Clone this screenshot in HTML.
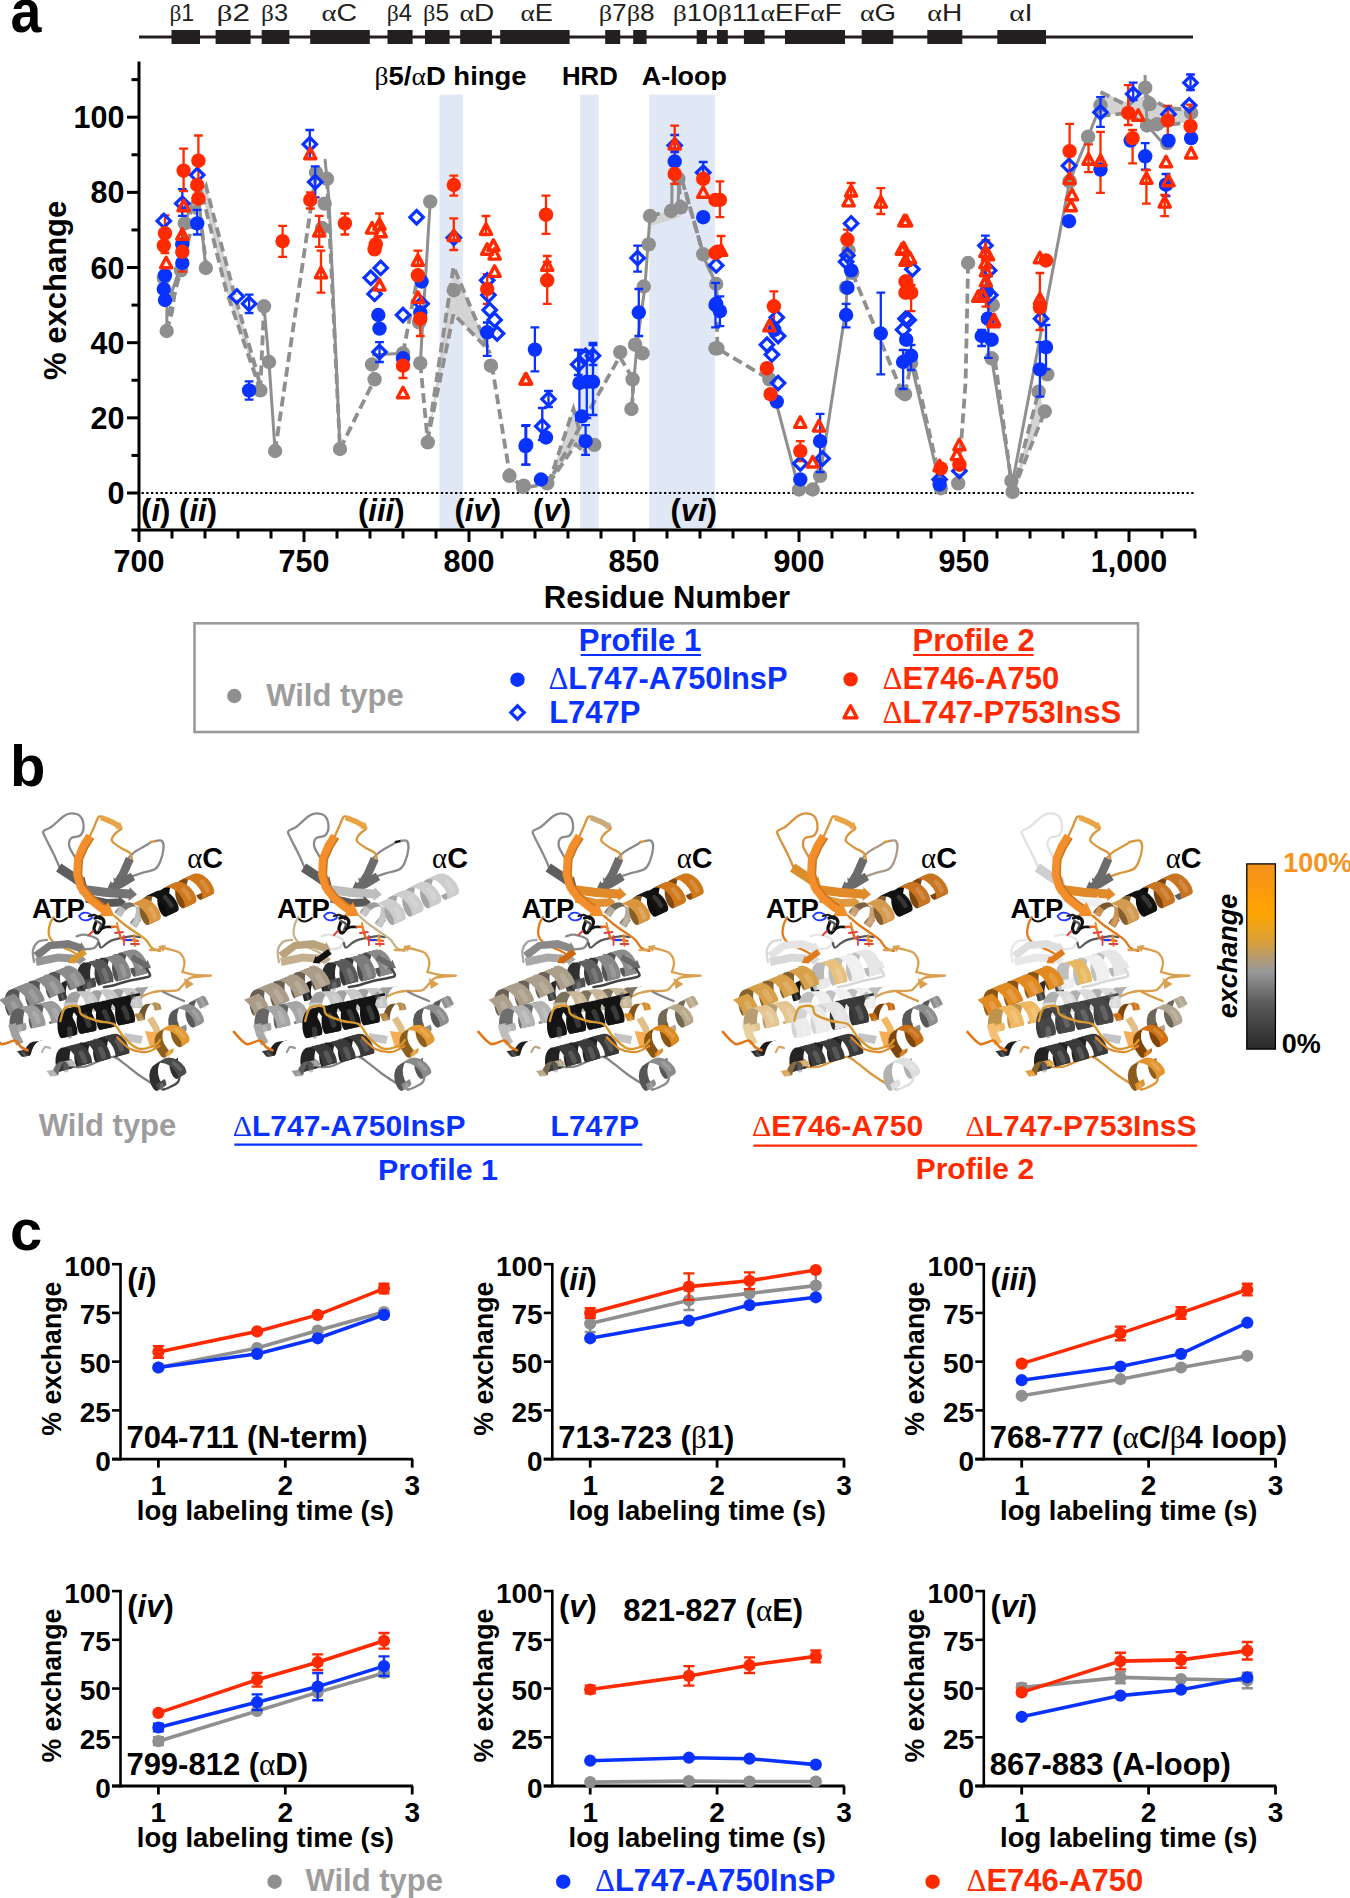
<!DOCTYPE html>
<html><head><meta charset="utf-8"><style>
html,body{margin:0;padding:0;background:#fff;width:1350px;height:1898px;overflow:hidden}
svg{display:block}
</style></head><body>
<svg width="1350" height="1898" viewBox="0 0 1350 1898">
<rect width="1350" height="1898" fill="#fff"/>
<text x="10.5" y="31.8" font-size="61" font-weight="bold" font-style="normal" fill="#000" text-anchor="start" font-family='"Liberation Sans", sans-serif' textLength="30.9" lengthAdjust="spacingAndGlyphs">a</text>
<line x1="139" y1="37" x2="1193" y2="37" stroke="#231f20" stroke-width="3" />
<rect x="171.5" y="30" width="28.5" height="14" fill="#231f20"/>
<rect x="215.6" y="30" width="35.0" height="14" fill="#231f20"/>
<rect x="261.7" y="30" width="27.7" height="14" fill="#231f20"/>
<rect x="310.2" y="30" width="59.6" height="14" fill="#231f20"/>
<rect x="387.5" y="30" width="25.1" height="14" fill="#231f20"/>
<rect x="425" y="30" width="24.6" height="14" fill="#231f20"/>
<rect x="460.2" y="30" width="31.7" height="14" fill="#231f20"/>
<rect x="500.2" y="30" width="69.4" height="14" fill="#231f20"/>
<rect x="605.2" y="30" width="15.0" height="14" fill="#231f20"/>
<rect x="633.2" y="30" width="13.4" height="14" fill="#231f20"/>
<rect x="696.7" y="30" width="10.3" height="14" fill="#231f20"/>
<rect x="716.9" y="30" width="10.9" height="14" fill="#231f20"/>
<rect x="743.9" y="30" width="20.7" height="14" fill="#231f20"/>
<rect x="785" y="30" width="60.0" height="14" fill="#231f20"/>
<rect x="861.7" y="30" width="31.6" height="14" fill="#231f20"/>
<rect x="927.3" y="30" width="35.0" height="14" fill="#231f20"/>
<rect x="997.3" y="30" width="48.7" height="14" fill="#231f20"/>
<text x="169.4" y="21.3" font-size="24" fill="#231f20" font-family='"Liberation Sans", sans-serif' textLength="24.9" lengthAdjust="spacingAndGlyphs"><tspan font-family='"Liberation Serif", serif' font-weight="normal">β</tspan><tspan>1</tspan></text>
<text x="216.5" y="21.3" font-size="24" fill="#231f20" font-family='"Liberation Sans", sans-serif' textLength="33.5" lengthAdjust="spacingAndGlyphs"><tspan font-family='"Liberation Serif", serif' font-weight="normal">β</tspan><tspan>2</tspan></text>
<text x="261" y="21.3" font-size="24" fill="#231f20" font-family='"Liberation Sans", sans-serif' textLength="27.0" lengthAdjust="spacingAndGlyphs"><tspan font-family='"Liberation Serif", serif' font-weight="normal">β</tspan><tspan>3</tspan></text>
<text x="321.5" y="21.3" font-size="24" fill="#231f20" font-family='"Liberation Sans", sans-serif' textLength="35.5" lengthAdjust="spacingAndGlyphs"><tspan font-family='"Liberation Serif", serif' font-weight="normal">α</tspan><tspan>C</tspan></text>
<text x="386.7" y="21.3" font-size="24" fill="#231f20" font-family='"Liberation Sans", sans-serif' textLength="25.3" lengthAdjust="spacingAndGlyphs"><tspan font-family='"Liberation Serif", serif' font-weight="normal">β</tspan><tspan>4</tspan></text>
<text x="423" y="21.3" font-size="24" fill="#231f20" font-family='"Liberation Sans", sans-serif' textLength="26.0" lengthAdjust="spacingAndGlyphs"><tspan font-family='"Liberation Serif", serif' font-weight="normal">β</tspan><tspan>5</tspan></text>
<text x="459.4" y="21.3" font-size="24" fill="#231f20" font-family='"Liberation Sans", sans-serif' textLength="35.0" lengthAdjust="spacingAndGlyphs"><tspan font-family='"Liberation Serif", serif' font-weight="normal">α</tspan><tspan>D</tspan></text>
<text x="520.4" y="21.3" font-size="24" fill="#231f20" font-family='"Liberation Sans", sans-serif' textLength="32.4" lengthAdjust="spacingAndGlyphs"><tspan font-family='"Liberation Serif", serif' font-weight="normal">α</tspan><tspan>E</tspan></text>
<text x="598.7" y="21.3" font-size="24" fill="#231f20" font-family='"Liberation Sans", sans-serif' textLength="56" lengthAdjust="spacingAndGlyphs"><tspan font-family='"Liberation Serif", serif' font-weight="normal">β</tspan>7<tspan font-family='"Liberation Serif", serif' font-weight="normal">β</tspan>8</text>
<text x="672.8" y="21.3" font-size="24" fill="#231f20" font-family='"Liberation Sans", sans-serif' textLength="169" lengthAdjust="spacingAndGlyphs"><tspan font-family='"Liberation Serif", serif' font-weight="normal">β</tspan>10<tspan font-family='"Liberation Serif", serif' font-weight="normal">β</tspan>11<tspan font-family='"Liberation Serif", serif' font-weight="normal">α</tspan>EF<tspan font-family='"Liberation Serif", serif' font-weight="normal">α</tspan>F</text>
<text x="860" y="21.3" font-size="24" fill="#231f20" font-family='"Liberation Sans", sans-serif' textLength="36.0" lengthAdjust="spacingAndGlyphs"><tspan font-family='"Liberation Serif", serif' font-weight="normal">α</tspan>G</text>
<text x="927.3" y="21.3" font-size="24" fill="#231f20" font-family='"Liberation Sans", sans-serif' textLength="35.0" lengthAdjust="spacingAndGlyphs"><tspan font-family='"Liberation Serif", serif' font-weight="normal">α</tspan>H</text>
<text x="1009.3" y="21.3" font-size="24" fill="#231f20" font-family='"Liberation Sans", sans-serif' textLength="23.4" lengthAdjust="spacingAndGlyphs"><tspan font-family='"Liberation Serif", serif' font-weight="normal">α</tspan>I</text>
<rect x="439.4" y="94.7" width="23.5" height="435.3" fill="#e1e8f5"/>
<rect x="580.1" y="94.7" width="18.6" height="435.3" fill="#e1e8f5"/>
<rect x="649.2" y="94.7" width="65.8" height="435.3" fill="#e1e8f5"/>
<text x="374.6" y="84.8" font-size="25" font-weight="bold" font-family='"Liberation Sans", sans-serif' textLength="152" lengthAdjust="spacingAndGlyphs"><tspan font-family='"Liberation Serif", serif' font-weight="normal">β</tspan>5/<tspan font-family='"Liberation Serif", serif' font-weight="normal">α</tspan>D hinge</text>
<text x="562" y="84.8" font-size="25" font-weight="bold" font-style="normal" fill="#000" text-anchor="start" font-family='"Liberation Sans", sans-serif' textLength="55.8" lengthAdjust="spacingAndGlyphs">HRD</text>
<text x="641.8" y="84.8" font-size="25" font-weight="bold" font-style="normal" fill="#000" text-anchor="start" font-family='"Liberation Sans", sans-serif' textLength="85" lengthAdjust="spacingAndGlyphs">A-loop</text>
<line x1="141.5" y1="493" x2="1194" y2="493" stroke="#000" stroke-width="2.2" stroke-dasharray="2.3 2.45"/>
<g id="wt-lines">
<polygon points="201.0,190.0 226.4,291.2 255.5,376.0 259.0,386.0 260.3,388.0 258.0,376.0 233.6,291.2 211.2,206.4 206.0,186.0" fill="#d3d3d3"/>
<polygon points="453.5,266.7 490.2,353.3 487.0,348.4 453.5,314.0" fill="#d3d3d3"/>
<polygon points="427.3,441.4 453.5,266.7 453.5,314.0" fill="#d3d3d3"/>
<polygon points="548.6,483.6 573.5,408.9 586.0,454.0 575.9,444.4" fill="#d3d3d3"/>
<polygon points="1012.6,491.9 1038.6,391.7 1044.8,411.5" fill="#d3d3d3"/>
<polygon points="1100.5,91.5 1128.0,103.0 1145.0,95.0 1167.0,108.0 1190.0,110.0 1190.0,122.0 1167.0,125.0 1150.0,128.0 1128.0,113.0 1100.5,116.0" fill="#d3d3d3"/>
<polygon points="650.0,216.0 680.9,207.3 680.9,217.0 650.0,226.0" fill="#d3d3d3"/>
<polygon points="682.1,180.3 702.7,252.0 703.9,256.6 685.7,192.0" fill="#d3d3d3"/>
<polyline points="166.7,331.0 167.0,305.0 178.0,274.5 184.8,223.4 198.0,186.0" fill="none" stroke="#8f8f8f" stroke-width="3" stroke-linejoin="round"/>
<polyline points="198.0,190.0 205.8,268.0" fill="none" stroke="#8f8f8f" stroke-width="3" stroke-linejoin="round"/>
<polyline points="264.0,306.3 269.0,362.0 275.1,451.0" fill="none" stroke="#8f8f8f" stroke-width="3" stroke-linejoin="round"/>
<polyline points="325.0,159.0 329.0,200.0 340.0,449.0" fill="none" stroke="#8f8f8f" stroke-width="3" stroke-linejoin="round"/>
<polyline points="372.0,355.0 403.0,353.3" fill="none" stroke="#8f8f8f" stroke-width="3" stroke-linejoin="round"/>
<polyline points="420.3,363.2 430.2,201.6" fill="none" stroke="#8f8f8f" stroke-width="3" stroke-linejoin="round"/>
<polyline points="631.4,409.0 637.0,345.0 645.0,286.0 650.0,216.0" fill="none" stroke="#8f8f8f" stroke-width="3" stroke-linejoin="round"/>
<polyline points="671.8,207.0 672.0,183.0" fill="none" stroke="#8f8f8f" stroke-width="3" stroke-linejoin="round"/>
<polyline points="678.0,205.0 679.0,183.0" fill="none" stroke="#8f8f8f" stroke-width="3" stroke-linejoin="round"/>
<polyline points="703.0,256.0 716.2,284.0 717.4,300.0" fill="none" stroke="#8f8f8f" stroke-width="3" stroke-linejoin="round"/>
<polyline points="776.0,402.0 799.1,489.5 812.7,489.5 820.1,475.8 846.1,307.5 848.6,250.6" fill="none" stroke="#8f8f8f" stroke-width="3" stroke-linejoin="round"/>
<polyline points="911.1,363.2 940.8,488.2" fill="none" stroke="#8f8f8f" stroke-width="3" stroke-linejoin="round"/>
<polyline points="991.6,358.3 1011.4,480.8" fill="none" stroke="#8f8f8f" stroke-width="3" stroke-linejoin="round"/>
<polyline points="1012.6,482.0 1069.6,181.3 1088.1,136.7 1100.5,105.3" fill="none" stroke="#8f8f8f" stroke-width="3" stroke-linejoin="round"/>
<polyline points="1145.0,75.0 1147.0,125.0 1160.0,140.0 1167.0,143.0" fill="none" stroke="#8f8f8f" stroke-width="3" stroke-linejoin="round"/>
<polyline points="166.7,331.0 170.0,310.0 181.0,270.0 201.0,190.0 226.4,291.2 255.5,376.0 259.0,386.0" fill="none" stroke="#8f8f8f" stroke-width="3.8" stroke-dasharray="10 5"/>
<polyline points="166.7,331.0 172.0,312.0 184.8,223.4 206.0,186.0 211.2,206.4 233.6,291.2 258.0,376.0 260.3,388.0" fill="none" stroke="#8f8f8f" stroke-width="3.8" stroke-dasharray="10 5"/>
<polyline points="202.0,230.0 206.4,267.0" fill="none" stroke="#8f8f8f" stroke-width="3.8" stroke-dasharray="10 5"/>
<polyline points="260.3,390.4 264.0,306.3" fill="none" stroke="#8f8f8f" stroke-width="3.8" stroke-dasharray="10 5"/>
<polyline points="275.1,451.0 316.0,172.6" fill="none" stroke="#8f8f8f" stroke-width="3.8" stroke-dasharray="10 5"/>
<polyline points="327.0,178.8 340.0,449.0" fill="none" stroke="#8f8f8f" stroke-width="3.8" stroke-dasharray="10 5"/>
<polyline points="340.0,449.0 374.6,379.3 372.0,364.5" fill="none" stroke="#8f8f8f" stroke-width="3.8" stroke-dasharray="10 5"/>
<polyline points="403.0,353.3 417.9,275.3" fill="none" stroke="#8f8f8f" stroke-width="3.8" stroke-dasharray="10 5"/>
<polyline points="420.3,363.2 427.8,442.4" fill="none" stroke="#8f8f8f" stroke-width="3.8" stroke-dasharray="10 5"/>
<polyline points="427.3,441.4 453.5,266.7 490.2,353.3" fill="none" stroke="#8f8f8f" stroke-width="3.8" stroke-dasharray="10 5"/>
<polyline points="427.3,441.4 453.5,314.0 487.0,348.4 490.2,353.3" fill="none" stroke="#8f8f8f" stroke-width="3.8" stroke-dasharray="10 5"/>
<polyline points="491.8,364.7 509.8,474.9 522.9,488.0 548.6,483.6" fill="none" stroke="#8f8f8f" stroke-width="3.8" stroke-dasharray="10 5"/>
<polyline points="548.6,483.6 573.5,408.9 586.0,454.0" fill="none" stroke="#8f8f8f" stroke-width="3.8" stroke-dasharray="10 5"/>
<polyline points="548.6,483.6 575.9,444.4 586.0,454.0" fill="none" stroke="#8f8f8f" stroke-width="3.8" stroke-dasharray="10 5"/>
<polyline points="553.3,474.0 619.7,356.7 633.3,379.3 632.1,408.9" fill="none" stroke="#8f8f8f" stroke-width="3.8" stroke-dasharray="10 5"/>
<polyline points="650.0,216.0 671.0,211.0 680.9,207.3 678.4,178.8" fill="none" stroke="#8f8f8f" stroke-width="3.8" stroke-dasharray="10 5"/>
<polyline points="682.1,180.3 702.7,252.0" fill="none" stroke="#8f8f8f" stroke-width="3.8" stroke-dasharray="10 5"/>
<polyline points="685.7,192.0 703.9,256.6 716.2,284.0 717.4,348.4 769.4,379.3" fill="none" stroke="#8f8f8f" stroke-width="3.8" stroke-dasharray="10 5"/>
<polyline points="852.3,272.9 901.8,391.7" fill="none" stroke="#8f8f8f" stroke-width="3.8" stroke-dasharray="10 5"/>
<polyline points="905.0,394.2 911.1,363.2" fill="none" stroke="#8f8f8f" stroke-width="3.8" stroke-dasharray="10 5"/>
<polyline points="915.0,370.0 942.0,488.0" fill="none" stroke="#8f8f8f" stroke-width="3.8" stroke-dasharray="10 5"/>
<polyline points="958.2,483.3 965.6,381.8 968.1,263.0" fill="none" stroke="#8f8f8f" stroke-width="3.8" stroke-dasharray="10 5"/>
<polyline points="995.0,360.0 1012.6,491.9" fill="none" stroke="#8f8f8f" stroke-width="3.8" stroke-dasharray="10 5"/>
<polyline points="1012.6,491.9 1038.6,391.7" fill="none" stroke="#8f8f8f" stroke-width="3.8" stroke-dasharray="10 5"/>
<polyline points="1012.6,491.9 1044.8,411.5" fill="none" stroke="#8f8f8f" stroke-width="3.8" stroke-dasharray="10 5"/>
<polyline points="1100.5,92.0 1128.0,106.0 1145.2,87.7" fill="none" stroke="#8f8f8f" stroke-width="3.8" stroke-dasharray="10 5"/>
<polyline points="1100.5,116.0 1128.0,113.0 1150.0,128.0 1167.0,125.0 1190.0,122.0" fill="none" stroke="#8f8f8f" stroke-width="3.8" stroke-dasharray="10 5"/>
<polyline points="1145.0,95.0 1167.0,108.0 1190.0,110.0" fill="none" stroke="#8f8f8f" stroke-width="3.8" stroke-dasharray="10 5"/>
</g>
<circle cx="166.7" cy="331.0" r="7.2" fill="#8f8f8f"/>
<circle cx="163.8" cy="277.8" r="7.2" fill="#8f8f8f"/>
<circle cx="181.0" cy="270.4" r="7.2" fill="#8f8f8f"/>
<circle cx="184.8" cy="223.4" r="7.2" fill="#8f8f8f"/>
<circle cx="205.8" cy="268.0" r="7.2" fill="#8f8f8f"/>
<circle cx="264.0" cy="306.3" r="7.2" fill="#8f8f8f"/>
<circle cx="269.0" cy="362.0" r="7.2" fill="#8f8f8f"/>
<circle cx="260.3" cy="390.4" r="7.2" fill="#8f8f8f"/>
<circle cx="275.1" cy="451.0" r="7.2" fill="#8f8f8f"/>
<circle cx="316.0" cy="172.6" r="7.2" fill="#8f8f8f"/>
<circle cx="327.0" cy="178.8" r="7.2" fill="#8f8f8f"/>
<circle cx="324.6" cy="203.6" r="7.2" fill="#8f8f8f"/>
<circle cx="322.0" cy="228.0" r="7.2" fill="#8f8f8f"/>
<circle cx="340.0" cy="449.0" r="7.2" fill="#8f8f8f"/>
<circle cx="374.6" cy="379.3" r="7.2" fill="#8f8f8f"/>
<circle cx="372.0" cy="364.5" r="7.2" fill="#8f8f8f"/>
<circle cx="403.0" cy="353.3" r="7.2" fill="#8f8f8f"/>
<circle cx="420.3" cy="363.2" r="7.2" fill="#8f8f8f"/>
<circle cx="430.2" cy="201.6" r="7.2" fill="#8f8f8f"/>
<circle cx="427.8" cy="442.4" r="7.2" fill="#8f8f8f"/>
<circle cx="453.8" cy="290.2" r="7.2" fill="#8f8f8f"/>
<circle cx="490.9" cy="365.7" r="7.2" fill="#8f8f8f"/>
<circle cx="509.5" cy="475.8" r="7.2" fill="#8f8f8f"/>
<circle cx="523.0" cy="487.0" r="7.2" fill="#8f8f8f"/>
<circle cx="419.1" cy="322.4" r="7.2" fill="#8f8f8f"/>
<circle cx="523.7" cy="485.7" r="7.2" fill="#8f8f8f"/>
<circle cx="547.2" cy="483.3" r="7.2" fill="#8f8f8f"/>
<circle cx="594.3" cy="444.9" r="7.2" fill="#8f8f8f"/>
<circle cx="620.2" cy="352.1" r="7.2" fill="#8f8f8f"/>
<circle cx="632.6" cy="379.3" r="7.2" fill="#8f8f8f"/>
<circle cx="631.4" cy="409.0" r="7.2" fill="#8f8f8f"/>
<circle cx="635.1" cy="344.7" r="7.2" fill="#8f8f8f"/>
<circle cx="642.5" cy="353.3" r="7.2" fill="#8f8f8f"/>
<circle cx="643.8" cy="286.5" r="7.2" fill="#8f8f8f"/>
<circle cx="648.7" cy="244.4" r="7.2" fill="#8f8f8f"/>
<circle cx="650.0" cy="216.0" r="7.2" fill="#8f8f8f"/>
<circle cx="671.0" cy="211.0" r="7.2" fill="#8f8f8f"/>
<circle cx="680.9" cy="207.3" r="7.2" fill="#8f8f8f"/>
<circle cx="678.4" cy="178.8" r="7.2" fill="#8f8f8f"/>
<circle cx="703.2" cy="254.3" r="7.2" fill="#8f8f8f"/>
<circle cx="715.5" cy="348.4" r="7.2" fill="#8f8f8f"/>
<circle cx="716.2" cy="284.0" r="7.2" fill="#8f8f8f"/>
<circle cx="717.4" cy="348.4" r="7.2" fill="#8f8f8f"/>
<circle cx="769.4" cy="379.3" r="7.2" fill="#8f8f8f"/>
<circle cx="799.1" cy="489.5" r="7.2" fill="#8f8f8f"/>
<circle cx="812.7" cy="489.5" r="7.2" fill="#8f8f8f"/>
<circle cx="820.1" cy="475.8" r="7.2" fill="#8f8f8f"/>
<circle cx="846.1" cy="287.7" r="7.2" fill="#8f8f8f"/>
<circle cx="848.6" cy="250.6" r="7.2" fill="#8f8f8f"/>
<circle cx="852.3" cy="272.9" r="7.2" fill="#8f8f8f"/>
<circle cx="901.8" cy="391.7" r="7.2" fill="#8f8f8f"/>
<circle cx="905.0" cy="394.2" r="7.2" fill="#8f8f8f"/>
<circle cx="911.1" cy="363.2" r="7.2" fill="#8f8f8f"/>
<circle cx="940.8" cy="488.2" r="7.2" fill="#8f8f8f"/>
<circle cx="958.2" cy="483.3" r="7.2" fill="#8f8f8f"/>
<circle cx="968.1" cy="263.0" r="7.2" fill="#8f8f8f"/>
<circle cx="991.6" cy="358.3" r="7.2" fill="#8f8f8f"/>
<circle cx="992.8" cy="305.0" r="7.2" fill="#8f8f8f"/>
<circle cx="1011.4" cy="480.8" r="7.2" fill="#8f8f8f"/>
<circle cx="1012.6" cy="491.9" r="7.2" fill="#8f8f8f"/>
<circle cx="1038.6" cy="391.7" r="7.2" fill="#8f8f8f"/>
<circle cx="1044.8" cy="411.5" r="7.2" fill="#8f8f8f"/>
<circle cx="1047.3" cy="374.4" r="7.2" fill="#8f8f8f"/>
<circle cx="1069.6" cy="181.3" r="7.2" fill="#8f8f8f"/>
<circle cx="1088.1" cy="136.7" r="7.2" fill="#8f8f8f"/>
<circle cx="1100.5" cy="105.3" r="7.2" fill="#8f8f8f"/>
<circle cx="1145.2" cy="87.7" r="7.2" fill="#8f8f8f"/>
<circle cx="1149.6" cy="104.1" r="7.2" fill="#8f8f8f"/>
<circle cx="1147.0" cy="125.5" r="7.2" fill="#8f8f8f"/>
<circle cx="1157.1" cy="124.2" r="7.2" fill="#8f8f8f"/>
<circle cx="1167.2" cy="143.1" r="7.2" fill="#8f8f8f"/>
<circle cx="1191.1" cy="112.9" r="7.2" fill="#8f8f8f"/>
<path d="M197.2 209.8V234.5M192.8 209.8H201.6M192.8 234.5H201.6" stroke="#0a32ff" stroke-width="2.3" fill="none"/>
<path d="M249.1 381.3V399.6M244.7 381.3H253.5M244.7 399.6H253.5" stroke="#0a32ff" stroke-width="2.3" fill="none"/>
<path d="M487.2 322.5V355.8M482.8 322.5H491.6M482.8 355.8H491.6" stroke="#0a32ff" stroke-width="2.3" fill="none"/>
<path d="M525.5 425.8V464.7M521.1 425.8H529.9M521.1 464.7H529.9" stroke="#0a32ff" stroke-width="2.3" fill="none"/>
<path d="M534.9 327.3V371.4M530.5 327.3H539.3M530.5 371.4H539.3" stroke="#0a32ff" stroke-width="2.3" fill="none"/>
<path d="M526.2 425.1V464.7M521.8 425.1H530.6M521.8 464.7H530.6" stroke="#0a32ff" stroke-width="2.3" fill="none"/>
<path d="M579.4 350.0V420.0M575.0 350.0H583.8M575.0 420.0H583.8" stroke="#0a32ff" stroke-width="2.3" fill="none"/>
<path d="M586.8 352.0V418.0M582.4 352.0H591.2M582.4 418.0H591.2" stroke="#0a32ff" stroke-width="2.3" fill="none"/>
<path d="M593.0 345.0V415.0M588.6 345.0H597.4M588.6 415.0H597.4" stroke="#0a32ff" stroke-width="2.3" fill="none"/>
<path d="M585.6 425.1V454.8M581.2 425.1H590.0M581.2 454.8H590.0" stroke="#0a32ff" stroke-width="2.3" fill="none"/>
<path d="M638.8 289.0V336.0M634.4 289.0H643.2M634.4 336.0H643.2" stroke="#0a32ff" stroke-width="2.3" fill="none"/>
<path d="M715.5 282.8V327.3M711.1 282.8H719.9M711.1 327.3H719.9" stroke="#0a32ff" stroke-width="2.3" fill="none"/>
<path d="M719.9 296.4V326.1M715.5 296.4H724.3M715.5 326.1H724.3" stroke="#0a32ff" stroke-width="2.3" fill="none"/>
<path d="M820.1 413.9V472.2M815.7 413.9H824.5M815.7 472.2H824.5" stroke="#0a32ff" stroke-width="2.3" fill="none"/>
<path d="M846.1 303.8V327.3M841.7 303.8H850.5M841.7 327.3H850.5" stroke="#0a32ff" stroke-width="2.3" fill="none"/>
<path d="M880.8 292.7V374.4M876.4 292.7H885.2M876.4 374.4H885.2" stroke="#0a32ff" stroke-width="2.3" fill="none"/>
<path d="M903.1 350.0V389.0M898.7 350.0H907.5M898.7 389.0H907.5" stroke="#0a32ff" stroke-width="2.3" fill="none"/>
<path d="M911.1 345.0V370.0M906.7 345.0H915.5M906.7 370.0H915.5" stroke="#0a32ff" stroke-width="2.3" fill="none"/>
<path d="M988.4 276.0V357.8M984.0 276.0H992.8M984.0 357.8H992.8" stroke="#0a32ff" stroke-width="2.3" fill="none"/>
<path d="M981.7 330.0V346.0M977.3 330.0H986.1M977.3 346.0H986.1" stroke="#0a32ff" stroke-width="2.3" fill="none"/>
<path d="M1046.0 325.0V369.4M1041.6 325.0H1050.4M1041.6 369.4H1050.4" stroke="#0a32ff" stroke-width="2.3" fill="none"/>
<path d="M1039.9 342.2V396.6M1035.5 342.2H1044.3M1035.5 396.6H1044.3" stroke="#0a32ff" stroke-width="2.3" fill="none"/>
<path d="M1145.2 143.1V169.6M1140.8 143.1H1149.6M1140.8 169.6H1149.6" stroke="#0a32ff" stroke-width="2.3" fill="none"/>
<path d="M1166.0 174.0V196.0M1161.6 174.0H1170.4M1161.6 196.0H1170.4" stroke="#0a32ff" stroke-width="2.3" fill="none"/>
<path d="M182.3 189.2V215.9M177.9 189.2H186.7M177.9 215.9H186.7" stroke="#0a32ff" stroke-width="2.3" fill="none"/>
<path d="M249.1 294.7V313.0M244.7 294.7H253.5M244.7 313.0H253.5" stroke="#0a32ff" stroke-width="2.3" fill="none"/>
<path d="M309.8 130.0V157.8M305.4 130.0H314.2M305.4 157.8H314.2" stroke="#0a32ff" stroke-width="2.3" fill="none"/>
<path d="M315.2 166.4V197.4M310.8 166.4H319.6M310.8 197.4H319.6" stroke="#0a32ff" stroke-width="2.3" fill="none"/>
<path d="M379.5 342.2V362.0M375.1 342.2H383.9M375.1 362.0H383.9" stroke="#0a32ff" stroke-width="2.3" fill="none"/>
<path d="M548.5 391.0V407.0M544.1 391.0H552.9M544.1 407.0H552.9" stroke="#0a32ff" stroke-width="2.3" fill="none"/>
<path d="M542.3 408.0V440.0M537.9 408.0H546.7M537.9 440.0H546.7" stroke="#0a32ff" stroke-width="2.3" fill="none"/>
<path d="M578.2 350.0V375.0M573.8 350.0H582.6M573.8 375.0H582.6" stroke="#0a32ff" stroke-width="2.3" fill="none"/>
<path d="M593.0 343.0V365.0M588.6 343.0H597.4M588.6 365.0H597.4" stroke="#0a32ff" stroke-width="2.3" fill="none"/>
<path d="M637.6 245.6V271.6M633.2 245.6H642.0M633.2 271.6H642.0" stroke="#0a32ff" stroke-width="2.3" fill="none"/>
<path d="M674.7 135.0V152.0M670.3 135.0H679.1M670.3 152.0H679.1" stroke="#0a32ff" stroke-width="2.3" fill="none"/>
<path d="M703.2 162.0V180.0M698.8 162.0H707.6M698.8 180.0H707.6" stroke="#0a32ff" stroke-width="2.3" fill="none"/>
<path d="M985.4 235.7V252.0M981.0 235.7H989.8M981.0 252.0H989.8" stroke="#0a32ff" stroke-width="2.3" fill="none"/>
<path d="M1100.5 97.2V126.8M1096.1 97.2H1104.9M1096.1 126.8H1104.9" stroke="#0a32ff" stroke-width="2.3" fill="none"/>
<path d="M1133.2 82.7V100.0M1128.8 82.7H1137.6M1128.8 100.0H1137.6" stroke="#0a32ff" stroke-width="2.3" fill="none"/>
<path d="M1190.5 74.5V90.0M1186.1 74.5H1194.9M1186.1 90.0H1194.9" stroke="#0a32ff" stroke-width="2.3" fill="none"/>
<path d="M165.0 215.4V253.0M160.6 215.4H169.4M160.6 253.0H169.4" stroke="#ff2a00" stroke-width="2.3" fill="none"/>
<path d="M183.6 148.6V191.2M179.2 148.6H188.0M179.2 191.2H188.0" stroke="#ff2a00" stroke-width="2.3" fill="none"/>
<path d="M198.4 135.5V184.0M194.0 135.5H202.8M194.0 184.0H202.8" stroke="#ff2a00" stroke-width="2.3" fill="none"/>
<path d="M182.3 234.5V271.6M177.9 234.5H186.7M177.9 271.6H186.7" stroke="#ff2a00" stroke-width="2.3" fill="none"/>
<path d="M282.6 225.8V256.8M278.2 225.8H287.0M278.2 256.8H287.0" stroke="#ff2a00" stroke-width="2.3" fill="none"/>
<path d="M310.3 192.4V208.5M305.9 192.4H314.7M305.9 208.5H314.7" stroke="#ff2a00" stroke-width="2.3" fill="none"/>
<path d="M344.9 213.5V234.5M340.5 213.5H349.3M340.5 234.5H349.3" stroke="#ff2a00" stroke-width="2.3" fill="none"/>
<path d="M453.8 175.6V195.6M449.4 175.6H458.2M449.4 195.6H458.2" stroke="#ff2a00" stroke-width="2.3" fill="none"/>
<path d="M420.3 301.3V336.0M415.9 301.3H424.7M415.9 336.0H424.7" stroke="#ff2a00" stroke-width="2.3" fill="none"/>
<path d="M403.0 353.3V378.0M398.6 353.3H407.4M398.6 378.0H407.4" stroke="#ff2a00" stroke-width="2.3" fill="none"/>
<path d="M487.2 274.1V303.8M482.8 274.1H491.6M482.8 303.8H491.6" stroke="#ff2a00" stroke-width="2.3" fill="none"/>
<path d="M546.0 195.6V233.8M541.6 195.6H550.4M541.6 233.8H550.4" stroke="#ff2a00" stroke-width="2.3" fill="none"/>
<path d="M547.2 262.0V303.8M542.8 262.0H551.6M542.8 303.8H551.6" stroke="#ff2a00" stroke-width="2.3" fill="none"/>
<path d="M674.7 125.6V183.8M670.3 125.6H679.1M670.3 183.8H679.1" stroke="#ff2a00" stroke-width="2.3" fill="none"/>
<path d="M719.9 181.3V217.2M715.5 181.3H724.3M715.5 217.2H724.3" stroke="#ff2a00" stroke-width="2.3" fill="none"/>
<path d="M773.9 291.4V322.4M769.5 291.4H778.3M769.5 322.4H778.3" stroke="#ff2a00" stroke-width="2.3" fill="none"/>
<path d="M800.3 441.2V461.0M795.9 441.2H804.7M795.9 461.0H804.7" stroke="#ff2a00" stroke-width="2.3" fill="none"/>
<path d="M847.4 229.6V250.6M843.0 229.6H851.8M843.0 250.6H851.8" stroke="#ff2a00" stroke-width="2.3" fill="none"/>
<path d="M911.1 285.0V311.2M906.7 285.0H915.5M906.7 311.2H915.5" stroke="#ff2a00" stroke-width="2.3" fill="none"/>
<path d="M1039.9 273.0V330.0M1035.5 273.0H1044.3M1035.5 330.0H1044.3" stroke="#ff2a00" stroke-width="2.3" fill="none"/>
<path d="M1069.6 123.9V178.8M1065.2 123.9H1074.0M1065.2 178.8H1074.0" stroke="#ff2a00" stroke-width="2.3" fill="none"/>
<path d="M1128.2 85.2V125.0M1123.8 85.2H1132.6M1123.8 125.0H1132.6" stroke="#ff2a00" stroke-width="2.3" fill="none"/>
<path d="M1132.6 130.0V163.3M1128.2 130.0H1137.0M1128.2 163.3H1137.0" stroke="#ff2a00" stroke-width="2.3" fill="none"/>
<path d="M1167.8 106.0V135.6M1163.4 106.0H1172.2M1163.4 135.6H1172.2" stroke="#ff2a00" stroke-width="2.3" fill="none"/>
<path d="M1190.5 104.7V135.0M1186.1 104.7H1194.9M1186.1 135.0H1194.9" stroke="#ff2a00" stroke-width="2.3" fill="none"/>
<path d="M319.2 215.9V246.9M314.8 215.9H323.6M314.8 246.9H323.6" stroke="#ff2a00" stroke-width="2.3" fill="none"/>
<path d="M321.0 250.6V292.7M316.6 250.6H325.4M316.6 292.7H325.4" stroke="#ff2a00" stroke-width="2.3" fill="none"/>
<path d="M379.5 213.5V230.0M375.1 213.5H383.9M375.1 230.0H383.9" stroke="#ff2a00" stroke-width="2.3" fill="none"/>
<path d="M417.9 250.6V266.0M413.5 250.6H422.3M413.5 266.0H422.3" stroke="#ff2a00" stroke-width="2.3" fill="none"/>
<path d="M453.8 218.4V250.0M449.4 218.4H458.2M449.4 250.0H458.2" stroke="#ff2a00" stroke-width="2.3" fill="none"/>
<path d="M486.0 216.0V235.0M481.6 216.0H490.4M481.6 235.0H490.4" stroke="#ff2a00" stroke-width="2.3" fill="none"/>
<path d="M547.2 256.0V270.0M542.8 256.0H551.6M542.8 270.0H551.6" stroke="#ff2a00" stroke-width="2.3" fill="none"/>
<path d="M721.1 236.0V255.0M716.7 236.0H725.5M716.7 255.0H725.5" stroke="#ff2a00" stroke-width="2.3" fill="none"/>
<path d="M851.1 183.0V196.0M846.7 183.0H855.5M846.7 196.0H855.5" stroke="#ff2a00" stroke-width="2.3" fill="none"/>
<path d="M880.8 188.2V214.0M876.4 188.2H885.2M876.4 214.0H885.2" stroke="#ff2a00" stroke-width="2.3" fill="none"/>
<path d="M985.9 240.2V306.7M981.5 240.2H990.3M981.5 306.7H990.3" stroke="#ff2a00" stroke-width="2.3" fill="none"/>
<path d="M1088.5 144.4V172.1M1084.1 144.4H1092.9M1084.1 172.1H1092.9" stroke="#ff2a00" stroke-width="2.3" fill="none"/>
<path d="M1100.5 131.8V192.9M1096.1 131.8H1104.9M1096.1 192.9H1104.9" stroke="#ff2a00" stroke-width="2.3" fill="none"/>
<path d="M1146.4 170.0V203.6M1142.0 170.0H1150.8M1142.0 203.6H1150.8" stroke="#ff2a00" stroke-width="2.3" fill="none"/>
<path d="M1164.7 195.0V216.2M1160.3 195.0H1169.1M1160.3 216.2H1169.1" stroke="#ff2a00" stroke-width="2.3" fill="none"/>
<circle cx="165.0" cy="275.3" r="7.2" fill="#0a32ff"/>
<circle cx="163.8" cy="289.0" r="7.2" fill="#0a32ff"/>
<circle cx="165.0" cy="300.0" r="7.2" fill="#0a32ff"/>
<circle cx="182.3" cy="244.4" r="7.2" fill="#0a32ff"/>
<circle cx="182.3" cy="263.0" r="7.2" fill="#0a32ff"/>
<circle cx="197.2" cy="223.4" r="7.2" fill="#0a32ff"/>
<circle cx="249.1" cy="390.4" r="7.2" fill="#0a32ff"/>
<circle cx="378.3" cy="315.0" r="7.2" fill="#0a32ff"/>
<circle cx="379.5" cy="328.6" r="7.2" fill="#0a32ff"/>
<circle cx="403.0" cy="358.3" r="7.2" fill="#0a32ff"/>
<circle cx="421.6" cy="281.5" r="7.2" fill="#0a32ff"/>
<circle cx="420.3" cy="312.5" r="7.2" fill="#0a32ff"/>
<circle cx="487.2" cy="332.3" r="7.2" fill="#0a32ff"/>
<circle cx="525.5" cy="446.1" r="7.2" fill="#0a32ff"/>
<circle cx="534.9" cy="349.6" r="7.2" fill="#0a32ff"/>
<circle cx="541.0" cy="479.5" r="7.2" fill="#0a32ff"/>
<circle cx="546.0" cy="437.5" r="7.2" fill="#0a32ff"/>
<circle cx="526.2" cy="444.9" r="7.2" fill="#0a32ff"/>
<circle cx="579.4" cy="383.0" r="7.2" fill="#0a32ff"/>
<circle cx="586.8" cy="381.8" r="7.2" fill="#0a32ff"/>
<circle cx="593.0" cy="381.8" r="7.2" fill="#0a32ff"/>
<circle cx="581.9" cy="416.4" r="7.2" fill="#0a32ff"/>
<circle cx="585.6" cy="441.2" r="7.2" fill="#0a32ff"/>
<circle cx="638.8" cy="312.5" r="7.2" fill="#0a32ff"/>
<circle cx="674.7" cy="161.5" r="7.2" fill="#0a32ff"/>
<circle cx="703.2" cy="217.2" r="7.2" fill="#0a32ff"/>
<circle cx="715.5" cy="305.0" r="7.2" fill="#0a32ff"/>
<circle cx="716.2" cy="303.8" r="7.2" fill="#0a32ff"/>
<circle cx="719.9" cy="311.2" r="7.2" fill="#0a32ff"/>
<circle cx="774.4" cy="329.8" r="7.2" fill="#0a32ff"/>
<circle cx="776.8" cy="401.6" r="7.2" fill="#0a32ff"/>
<circle cx="800.3" cy="479.5" r="7.2" fill="#0a32ff"/>
<circle cx="820.1" cy="441.2" r="7.2" fill="#0a32ff"/>
<circle cx="851.1" cy="270.4" r="7.2" fill="#0a32ff"/>
<circle cx="847.4" cy="287.7" r="7.2" fill="#0a32ff"/>
<circle cx="846.1" cy="315.0" r="7.2" fill="#0a32ff"/>
<circle cx="880.8" cy="333.5" r="7.2" fill="#0a32ff"/>
<circle cx="903.1" cy="362.0" r="7.2" fill="#0a32ff"/>
<circle cx="906.2" cy="339.7" r="7.2" fill="#0a32ff"/>
<circle cx="911.1" cy="355.8" r="7.2" fill="#0a32ff"/>
<circle cx="988.4" cy="318.7" r="7.2" fill="#0a32ff"/>
<circle cx="939.6" cy="484.5" r="7.2" fill="#0a32ff"/>
<circle cx="986.6" cy="291.4" r="7.2" fill="#0a32ff"/>
<circle cx="987.9" cy="318.7" r="7.2" fill="#0a32ff"/>
<circle cx="981.7" cy="336.0" r="7.2" fill="#0a32ff"/>
<circle cx="991.6" cy="339.7" r="7.2" fill="#0a32ff"/>
<circle cx="1046.0" cy="347.1" r="7.2" fill="#0a32ff"/>
<circle cx="1039.9" cy="369.4" r="7.2" fill="#0a32ff"/>
<circle cx="1069.0" cy="221.2" r="7.2" fill="#0a32ff"/>
<circle cx="1100.5" cy="169.6" r="7.2" fill="#0a32ff"/>
<circle cx="1130.7" cy="140.6" r="7.2" fill="#0a32ff"/>
<circle cx="1145.2" cy="156.3" r="7.2" fill="#0a32ff"/>
<circle cx="1168.5" cy="140.6" r="7.2" fill="#0a32ff"/>
<circle cx="1166.0" cy="184.7" r="7.2" fill="#0a32ff"/>
<circle cx="1191.1" cy="138.1" r="7.2" fill="#0a32ff"/>
<path d="M163.8 214.2L170.5 220.9L163.8 227.6L157.1 220.9Z" fill="none" stroke="#0a32ff" stroke-width="3.2" stroke-linejoin="miter"/>
<path d="M182.3 196.9L189.0 203.6L182.3 210.3L175.6 203.6Z" fill="none" stroke="#0a32ff" stroke-width="3.2" stroke-linejoin="miter"/>
<path d="M197.2 168.4L203.9 175.1L197.2 181.8L190.5 175.1Z" fill="none" stroke="#0a32ff" stroke-width="3.2" stroke-linejoin="miter"/>
<path d="M236.8 289.7L243.5 296.4L236.8 303.1L230.1 296.4Z" fill="none" stroke="#0a32ff" stroke-width="3.2" stroke-linejoin="miter"/>
<path d="M249.1 297.1L255.8 303.8L249.1 310.5L242.4 303.8Z" fill="none" stroke="#0a32ff" stroke-width="3.2" stroke-linejoin="miter"/>
<path d="M309.8 137.5L316.5 144.2L309.8 150.9L303.1 144.2Z" fill="none" stroke="#0a32ff" stroke-width="3.2" stroke-linejoin="miter"/>
<path d="M315.2 175.3L321.9 182.0L315.2 188.7L308.5 182.0Z" fill="none" stroke="#0a32ff" stroke-width="3.2" stroke-linejoin="miter"/>
<path d="M416.6 210.5L423.3 217.2L416.6 223.9L409.9 217.2Z" fill="none" stroke="#0a32ff" stroke-width="3.2" stroke-linejoin="miter"/>
<path d="M380.7 261.2L387.4 267.9L380.7 274.6L374.0 267.9Z" fill="none" stroke="#0a32ff" stroke-width="3.2" stroke-linejoin="miter"/>
<path d="M370.8 271.1L377.5 277.8L370.8 284.5L364.1 277.8Z" fill="none" stroke="#0a32ff" stroke-width="3.2" stroke-linejoin="miter"/>
<path d="M374.6 287.2L381.3 293.9L374.6 300.6L367.9 293.9Z" fill="none" stroke="#0a32ff" stroke-width="3.2" stroke-linejoin="miter"/>
<path d="M379.5 345.3L386.2 352.0L379.5 358.7L372.8 352.0Z" fill="none" stroke="#0a32ff" stroke-width="3.2" stroke-linejoin="miter"/>
<path d="M403.0 308.3L409.7 315.0L403.0 321.7L396.3 315.0Z" fill="none" stroke="#0a32ff" stroke-width="3.2" stroke-linejoin="miter"/>
<path d="M421.6 297.1L428.3 303.8L421.6 310.5L414.9 303.8Z" fill="none" stroke="#0a32ff" stroke-width="3.2" stroke-linejoin="miter"/>
<path d="M453.8 231.0L460.5 237.7L453.8 244.4L447.1 237.7Z" fill="none" stroke="#0a32ff" stroke-width="3.2" stroke-linejoin="miter"/>
<path d="M487.2 273.6L493.9 280.3L487.2 287.0L480.5 280.3Z" fill="none" stroke="#0a32ff" stroke-width="3.2" stroke-linejoin="miter"/>
<path d="M488.4 288.4L495.1 295.1L488.4 301.8L481.7 295.1Z" fill="none" stroke="#0a32ff" stroke-width="3.2" stroke-linejoin="miter"/>
<path d="M489.7 303.3L496.4 310.0L489.7 316.7L483.0 310.0Z" fill="none" stroke="#0a32ff" stroke-width="3.2" stroke-linejoin="miter"/>
<path d="M494.6 313.2L501.3 319.9L494.6 326.6L487.9 319.9Z" fill="none" stroke="#0a32ff" stroke-width="3.2" stroke-linejoin="miter"/>
<path d="M497.1 326.8L503.8 333.5L497.1 340.2L490.4 333.5Z" fill="none" stroke="#0a32ff" stroke-width="3.2" stroke-linejoin="miter"/>
<path d="M548.5 392.4L555.2 399.1L548.5 405.8L541.8 399.1Z" fill="none" stroke="#0a32ff" stroke-width="3.2" stroke-linejoin="miter"/>
<path d="M542.3 419.6L549.0 426.3L542.3 433.0L535.6 426.3Z" fill="none" stroke="#0a32ff" stroke-width="3.2" stroke-linejoin="miter"/>
<path d="M578.2 357.8L584.9 364.5L578.2 371.2L571.5 364.5Z" fill="none" stroke="#0a32ff" stroke-width="3.2" stroke-linejoin="miter"/>
<path d="M585.6 349.1L592.3 355.8L585.6 362.5L578.9 355.8Z" fill="none" stroke="#0a32ff" stroke-width="3.2" stroke-linejoin="miter"/>
<path d="M593.0 349.1L599.7 355.8L593.0 362.5L586.3 355.8Z" fill="none" stroke="#0a32ff" stroke-width="3.2" stroke-linejoin="miter"/>
<path d="M637.6 251.3L644.3 258.0L637.6 264.7L630.9 258.0Z" fill="none" stroke="#0a32ff" stroke-width="3.2" stroke-linejoin="miter"/>
<path d="M674.7 138.7L681.4 145.4L674.7 152.1L668.0 145.4Z" fill="none" stroke="#0a32ff" stroke-width="3.2" stroke-linejoin="miter"/>
<path d="M703.2 165.9L709.9 172.6L703.2 179.3L696.5 172.6Z" fill="none" stroke="#0a32ff" stroke-width="3.2" stroke-linejoin="miter"/>
<path d="M716.2 258.7L722.9 265.4L716.2 272.1L709.5 265.4Z" fill="none" stroke="#0a32ff" stroke-width="3.2" stroke-linejoin="miter"/>
<path d="M776.8 310.7L783.5 317.4L776.8 324.1L770.1 317.4Z" fill="none" stroke="#0a32ff" stroke-width="3.2" stroke-linejoin="miter"/>
<path d="M778.1 329.3L784.8 336.0L778.1 342.7L771.4 336.0Z" fill="none" stroke="#0a32ff" stroke-width="3.2" stroke-linejoin="miter"/>
<path d="M766.9 338.0L773.6 344.7L766.9 351.4L760.2 344.7Z" fill="none" stroke="#0a32ff" stroke-width="3.2" stroke-linejoin="miter"/>
<path d="M771.9 347.9L778.6 354.6L771.9 361.3L765.2 354.6Z" fill="none" stroke="#0a32ff" stroke-width="3.2" stroke-linejoin="miter"/>
<path d="M778.1 376.3L784.8 383.0L778.1 389.7L771.4 383.0Z" fill="none" stroke="#0a32ff" stroke-width="3.2" stroke-linejoin="miter"/>
<path d="M800.3 456.8L807.0 463.5L800.3 470.2L793.6 463.5Z" fill="none" stroke="#0a32ff" stroke-width="3.2" stroke-linejoin="miter"/>
<path d="M822.6 451.8L829.3 458.5L822.6 465.2L815.9 458.5Z" fill="none" stroke="#0a32ff" stroke-width="3.2" stroke-linejoin="miter"/>
<path d="M851.1 216.7L857.8 223.4L851.1 230.1L844.4 223.4Z" fill="none" stroke="#0a32ff" stroke-width="3.2" stroke-linejoin="miter"/>
<path d="M847.4 248.8L854.1 255.5L847.4 262.2L840.7 255.5Z" fill="none" stroke="#0a32ff" stroke-width="3.2" stroke-linejoin="miter"/>
<path d="M846.1 255.0L852.8 261.7L846.1 268.4L839.4 261.7Z" fill="none" stroke="#0a32ff" stroke-width="3.2" stroke-linejoin="miter"/>
<path d="M903.1 323.1L909.8 329.8L903.1 336.5L896.4 329.8Z" fill="none" stroke="#0a32ff" stroke-width="3.2" stroke-linejoin="miter"/>
<path d="M905.5 312.0L912.2 318.7L905.5 325.4L898.8 318.7Z" fill="none" stroke="#0a32ff" stroke-width="3.2" stroke-linejoin="miter"/>
<path d="M908.7 313.2L915.4 319.9L908.7 326.6L902.0 319.9Z" fill="none" stroke="#0a32ff" stroke-width="3.2" stroke-linejoin="miter"/>
<path d="M912.4 262.5L919.1 269.2L912.4 275.9L905.7 269.2Z" fill="none" stroke="#0a32ff" stroke-width="3.2" stroke-linejoin="miter"/>
<path d="M939.6 472.8L946.3 479.5L939.6 486.2L932.9 479.5Z" fill="none" stroke="#0a32ff" stroke-width="3.2" stroke-linejoin="miter"/>
<path d="M959.4 464.2L966.1 470.9L959.4 477.6L952.7 470.9Z" fill="none" stroke="#0a32ff" stroke-width="3.2" stroke-linejoin="miter"/>
<path d="M985.4 238.9L992.1 245.6L985.4 252.3L978.7 245.6Z" fill="none" stroke="#0a32ff" stroke-width="3.2" stroke-linejoin="miter"/>
<path d="M989.1 263.7L995.8 270.4L989.1 277.1L982.4 270.4Z" fill="none" stroke="#0a32ff" stroke-width="3.2" stroke-linejoin="miter"/>
<path d="M990.3 288.4L997.0 295.1L990.3 301.8L983.6 295.1Z" fill="none" stroke="#0a32ff" stroke-width="3.2" stroke-linejoin="miter"/>
<path d="M1041.1 312.0L1047.8 318.7L1041.1 325.4L1034.4 318.7Z" fill="none" stroke="#0a32ff" stroke-width="3.2" stroke-linejoin="miter"/>
<path d="M1069.0 159.1L1075.7 165.8L1069.0 172.5L1062.3 165.8Z" fill="none" stroke="#0a32ff" stroke-width="3.2" stroke-linejoin="miter"/>
<path d="M1100.5 105.6L1107.2 112.3L1100.5 119.0L1093.8 112.3Z" fill="none" stroke="#0a32ff" stroke-width="3.2" stroke-linejoin="miter"/>
<path d="M1133.2 87.3L1139.9 94.0L1133.2 100.7L1126.5 94.0Z" fill="none" stroke="#0a32ff" stroke-width="3.2" stroke-linejoin="miter"/>
<path d="M1168.5 107.5L1175.2 114.2L1168.5 120.9L1161.8 114.2Z" fill="none" stroke="#0a32ff" stroke-width="3.2" stroke-linejoin="miter"/>
<path d="M1190.5 76.0L1197.2 82.7L1190.5 89.4L1183.8 82.7Z" fill="none" stroke="#0a32ff" stroke-width="3.2" stroke-linejoin="miter"/>
<path d="M1189.2 98.6L1195.9 105.3L1189.2 112.0L1182.5 105.3Z" fill="none" stroke="#0a32ff" stroke-width="3.2" stroke-linejoin="miter"/>
<circle cx="165.0" cy="233.3" r="7.2" fill="#ff2a00"/>
<circle cx="163.8" cy="245.6" r="7.2" fill="#ff2a00"/>
<circle cx="183.6" cy="170.6" r="7.2" fill="#ff2a00"/>
<circle cx="198.4" cy="160.7" r="7.2" fill="#ff2a00"/>
<circle cx="197.2" cy="185.0" r="7.2" fill="#ff2a00"/>
<circle cx="198.4" cy="198.6" r="7.2" fill="#ff2a00"/>
<circle cx="182.3" cy="251.8" r="7.2" fill="#ff2a00"/>
<circle cx="282.6" cy="241.2" r="7.2" fill="#ff2a00"/>
<circle cx="310.3" cy="199.9" r="7.2" fill="#ff2a00"/>
<circle cx="344.9" cy="223.4" r="7.2" fill="#ff2a00"/>
<circle cx="453.8" cy="185.0" r="7.2" fill="#ff2a00"/>
<circle cx="375.8" cy="244.4" r="7.2" fill="#ff2a00"/>
<circle cx="374.6" cy="249.4" r="7.2" fill="#ff2a00"/>
<circle cx="417.9" cy="275.3" r="7.2" fill="#ff2a00"/>
<circle cx="420.3" cy="318.7" r="7.2" fill="#ff2a00"/>
<circle cx="403.0" cy="365.7" r="7.2" fill="#ff2a00"/>
<circle cx="487.2" cy="289.0" r="7.2" fill="#ff2a00"/>
<circle cx="546.0" cy="214.7" r="7.2" fill="#ff2a00"/>
<circle cx="547.2" cy="280.3" r="7.2" fill="#ff2a00"/>
<circle cx="674.7" cy="173.9" r="7.2" fill="#ff2a00"/>
<circle cx="703.2" cy="178.8" r="7.2" fill="#ff2a00"/>
<circle cx="715.5" cy="199.9" r="7.2" fill="#ff2a00"/>
<circle cx="715.5" cy="253.0" r="7.2" fill="#ff2a00"/>
<circle cx="719.9" cy="199.9" r="7.2" fill="#ff2a00"/>
<circle cx="717.4" cy="251.8" r="7.2" fill="#ff2a00"/>
<circle cx="773.9" cy="306.3" r="7.2" fill="#ff2a00"/>
<circle cx="766.9" cy="368.2" r="7.2" fill="#ff2a00"/>
<circle cx="770.6" cy="394.2" r="7.2" fill="#ff2a00"/>
<circle cx="800.3" cy="451.1" r="7.2" fill="#ff2a00"/>
<circle cx="847.4" cy="239.5" r="7.2" fill="#ff2a00"/>
<circle cx="905.5" cy="281.5" r="7.2" fill="#ff2a00"/>
<circle cx="905.5" cy="292.7" r="7.2" fill="#ff2a00"/>
<circle cx="906.2" cy="281.5" r="7.2" fill="#ff2a00"/>
<circle cx="911.1" cy="292.7" r="7.2" fill="#ff2a00"/>
<circle cx="940.8" cy="468.4" r="7.2" fill="#ff2a00"/>
<circle cx="959.4" cy="464.7" r="7.2" fill="#ff2a00"/>
<circle cx="1046.0" cy="260.5" r="7.2" fill="#ff2a00"/>
<circle cx="1039.9" cy="307.5" r="7.2" fill="#ff2a00"/>
<circle cx="1069.6" cy="151.1" r="7.2" fill="#ff2a00"/>
<circle cx="1128.2" cy="112.9" r="7.2" fill="#ff2a00"/>
<circle cx="1132.6" cy="138.1" r="7.2" fill="#ff2a00"/>
<circle cx="1167.8" cy="120.5" r="7.2" fill="#ff2a00"/>
<circle cx="1190.5" cy="126.1" r="7.2" fill="#ff2a00"/>
<path d="M166.2 257.3L171.8 267.8L160.6 267.8Z" fill="none" stroke="#ff2a00" stroke-width="3.4" stroke-linejoin="round"/>
<path d="M183.6 200.3L189.2 210.8L178.0 210.8Z" fill="none" stroke="#ff2a00" stroke-width="3.4" stroke-linejoin="round"/>
<path d="M182.3 228.8L187.9 239.3L176.7 239.3Z" fill="none" stroke="#ff2a00" stroke-width="3.4" stroke-linejoin="round"/>
<path d="M310.3 148.3L315.9 158.8L304.7 158.8Z" fill="none" stroke="#ff2a00" stroke-width="3.4" stroke-linejoin="round"/>
<path d="M319.2 225.6L324.8 236.1L313.6 236.1Z" fill="none" stroke="#ff2a00" stroke-width="3.4" stroke-linejoin="round"/>
<path d="M321.0 267.2L326.6 277.7L315.4 277.7Z" fill="none" stroke="#ff2a00" stroke-width="3.4" stroke-linejoin="round"/>
<path d="M372.0 222.6L377.6 233.1L366.4 233.1Z" fill="none" stroke="#ff2a00" stroke-width="3.4" stroke-linejoin="round"/>
<path d="M379.5 218.9L385.1 229.4L373.9 229.4Z" fill="none" stroke="#ff2a00" stroke-width="3.4" stroke-linejoin="round"/>
<path d="M380.7 226.3L386.3 236.8L375.1 236.8Z" fill="none" stroke="#ff2a00" stroke-width="3.4" stroke-linejoin="round"/>
<path d="M379.5 279.6L385.1 290.1L373.9 290.1Z" fill="none" stroke="#ff2a00" stroke-width="3.4" stroke-linejoin="round"/>
<path d="M417.9 254.8L423.5 265.3L412.3 265.3Z" fill="none" stroke="#ff2a00" stroke-width="3.4" stroke-linejoin="round"/>
<path d="M417.9 291.9L423.5 302.4L412.3 302.4Z" fill="none" stroke="#ff2a00" stroke-width="3.4" stroke-linejoin="round"/>
<path d="M403.0 387.2L408.6 397.7L397.4 397.7Z" fill="none" stroke="#ff2a00" stroke-width="3.4" stroke-linejoin="round"/>
<path d="M453.8 230.0L459.4 240.5L448.2 240.5Z" fill="none" stroke="#ff2a00" stroke-width="3.4" stroke-linejoin="round"/>
<path d="M486.0 223.9L491.6 234.4L480.4 234.4Z" fill="none" stroke="#ff2a00" stroke-width="3.4" stroke-linejoin="round"/>
<path d="M487.2 243.7L492.8 254.2L481.6 254.2Z" fill="none" stroke="#ff2a00" stroke-width="3.4" stroke-linejoin="round"/>
<path d="M493.4 239.9L499.0 250.4L487.8 250.4Z" fill="none" stroke="#ff2a00" stroke-width="3.4" stroke-linejoin="round"/>
<path d="M494.6 248.6L500.2 259.1L489.0 259.1Z" fill="none" stroke="#ff2a00" stroke-width="3.4" stroke-linejoin="round"/>
<path d="M494.6 265.9L500.2 276.4L489.0 276.4Z" fill="none" stroke="#ff2a00" stroke-width="3.4" stroke-linejoin="round"/>
<path d="M525.5 373.6L531.1 384.1L519.9 384.1Z" fill="none" stroke="#ff2a00" stroke-width="3.4" stroke-linejoin="round"/>
<path d="M526.2 373.6L531.8 384.1L520.6 384.1Z" fill="none" stroke="#ff2a00" stroke-width="3.4" stroke-linejoin="round"/>
<path d="M547.2 259.7L552.8 270.2L541.6 270.2Z" fill="none" stroke="#ff2a00" stroke-width="3.4" stroke-linejoin="round"/>
<path d="M674.7 138.5L680.3 149.0L669.1 149.0Z" fill="none" stroke="#ff2a00" stroke-width="3.4" stroke-linejoin="round"/>
<path d="M703.2 186.7L708.8 197.2L697.6 197.2Z" fill="none" stroke="#ff2a00" stroke-width="3.4" stroke-linejoin="round"/>
<path d="M721.1 244.9L726.7 255.4L715.5 255.4Z" fill="none" stroke="#ff2a00" stroke-width="3.4" stroke-linejoin="round"/>
<path d="M769.4 320.4L775.0 330.9L763.8 330.9Z" fill="none" stroke="#ff2a00" stroke-width="3.4" stroke-linejoin="round"/>
<path d="M800.3 416.9L805.9 427.4L794.7 427.4Z" fill="none" stroke="#ff2a00" stroke-width="3.4" stroke-linejoin="round"/>
<path d="M812.7 456.5L818.3 467.0L807.1 467.0Z" fill="none" stroke="#ff2a00" stroke-width="3.4" stroke-linejoin="round"/>
<path d="M818.9 420.6L824.5 431.1L813.3 431.1Z" fill="none" stroke="#ff2a00" stroke-width="3.4" stroke-linejoin="round"/>
<path d="M851.1 185.5L856.7 196.0L845.5 196.0Z" fill="none" stroke="#ff2a00" stroke-width="3.4" stroke-linejoin="round"/>
<path d="M848.6 195.4L854.2 205.9L843.0 205.9Z" fill="none" stroke="#ff2a00" stroke-width="3.4" stroke-linejoin="round"/>
<path d="M880.8 196.6L886.4 207.1L875.2 207.1Z" fill="none" stroke="#ff2a00" stroke-width="3.4" stroke-linejoin="round"/>
<path d="M904.3 215.2L909.9 225.7L898.7 225.7Z" fill="none" stroke="#ff2a00" stroke-width="3.4" stroke-linejoin="round"/>
<path d="M901.8 243.7L907.4 254.2L896.2 254.2Z" fill="none" stroke="#ff2a00" stroke-width="3.4" stroke-linejoin="round"/>
<path d="M905.5 254.8L911.1 265.3L899.9 265.3Z" fill="none" stroke="#ff2a00" stroke-width="3.4" stroke-linejoin="round"/>
<path d="M906.2 215.2L911.8 225.7L900.6 225.7Z" fill="none" stroke="#ff2a00" stroke-width="3.4" stroke-linejoin="round"/>
<path d="M903.7 242.4L909.3 252.9L898.1 252.9Z" fill="none" stroke="#ff2a00" stroke-width="3.4" stroke-linejoin="round"/>
<path d="M909.9 252.3L915.5 262.8L904.3 262.8Z" fill="none" stroke="#ff2a00" stroke-width="3.4" stroke-linejoin="round"/>
<path d="M939.6 460.2L945.2 470.7L934.0 470.7Z" fill="none" stroke="#ff2a00" stroke-width="3.4" stroke-linejoin="round"/>
<path d="M959.4 439.2L965.0 449.7L953.8 449.7Z" fill="none" stroke="#ff2a00" stroke-width="3.4" stroke-linejoin="round"/>
<path d="M956.9 449.1L962.5 459.6L951.3 459.6Z" fill="none" stroke="#ff2a00" stroke-width="3.4" stroke-linejoin="round"/>
<path d="M985.4 246.1L991.0 256.6L979.8 256.6Z" fill="none" stroke="#ff2a00" stroke-width="3.4" stroke-linejoin="round"/>
<path d="M985.4 257.3L991.0 267.8L979.8 267.8Z" fill="none" stroke="#ff2a00" stroke-width="3.4" stroke-linejoin="round"/>
<path d="M982.9 289.4L988.5 299.9L977.3 299.9Z" fill="none" stroke="#ff2a00" stroke-width="3.4" stroke-linejoin="round"/>
<path d="M994.1 314.2L999.7 324.7L988.5 324.7Z" fill="none" stroke="#ff2a00" stroke-width="3.4" stroke-linejoin="round"/>
<path d="M1039.9 252.3L1045.5 262.8L1034.3 262.8Z" fill="none" stroke="#ff2a00" stroke-width="3.4" stroke-linejoin="round"/>
<path d="M1039.9 293.2L1045.5 303.7L1034.3 303.7Z" fill="none" stroke="#ff2a00" stroke-width="3.4" stroke-linejoin="round"/>
<path d="M985.9 265.2L991.5 275.7L980.3 275.7Z" fill="none" stroke="#ff2a00" stroke-width="3.4" stroke-linejoin="round"/>
<path d="M985.9 275.4L991.5 285.9L980.3 285.9Z" fill="none" stroke="#ff2a00" stroke-width="3.4" stroke-linejoin="round"/>
<path d="M978.2 290.7L983.8 301.2L972.6 301.2Z" fill="none" stroke="#ff2a00" stroke-width="3.4" stroke-linejoin="round"/>
<path d="M993.5 316.3L999.1 326.8L987.9 326.8Z" fill="none" stroke="#ff2a00" stroke-width="3.4" stroke-linejoin="round"/>
<path d="M988.0 249.3L993.6 259.8L982.4 259.8Z" fill="none" stroke="#ff2a00" stroke-width="3.4" stroke-linejoin="round"/>
<path d="M1069.6 173.1L1075.2 183.6L1064.0 183.6Z" fill="none" stroke="#ff2a00" stroke-width="3.4" stroke-linejoin="round"/>
<path d="M1072.0 189.2L1077.6 199.7L1066.4 199.7Z" fill="none" stroke="#ff2a00" stroke-width="3.4" stroke-linejoin="round"/>
<path d="M1070.8 200.3L1076.4 210.8L1065.2 210.8Z" fill="none" stroke="#ff2a00" stroke-width="3.4" stroke-linejoin="round"/>
<path d="M1088.5 153.8L1094.1 164.3L1082.9 164.3Z" fill="none" stroke="#ff2a00" stroke-width="3.4" stroke-linejoin="round"/>
<path d="M1100.5 155.1L1106.1 165.6L1094.9 165.6Z" fill="none" stroke="#ff2a00" stroke-width="3.4" stroke-linejoin="round"/>
<path d="M1138.2 109.7L1143.8 120.2L1132.6 120.2Z" fill="none" stroke="#ff2a00" stroke-width="3.4" stroke-linejoin="round"/>
<path d="M1146.4 172.7L1152.0 183.2L1140.8 183.2Z" fill="none" stroke="#ff2a00" stroke-width="3.4" stroke-linejoin="round"/>
<path d="M1166.0 156.3L1171.6 166.8L1160.4 166.8Z" fill="none" stroke="#ff2a00" stroke-width="3.4" stroke-linejoin="round"/>
<path d="M1168.5 175.2L1174.1 185.7L1162.9 185.7Z" fill="none" stroke="#ff2a00" stroke-width="3.4" stroke-linejoin="round"/>
<path d="M1164.7 196.6L1170.3 207.1L1159.1 207.1Z" fill="none" stroke="#ff2a00" stroke-width="3.4" stroke-linejoin="round"/>
<path d="M1191.1 147.5L1196.7 158.0L1185.5 158.0Z" fill="none" stroke="#ff2a00" stroke-width="3.4" stroke-linejoin="round"/>
<line x1="139" y1="61.5" x2="139" y2="531.5" stroke="#000" stroke-width="3" />
<line x1="131.5" y1="530" x2="1195.5" y2="530" stroke="#000" stroke-width="3" />
<line x1="127" y1="493.0" x2="139" y2="493.0" stroke="#000" stroke-width="3" />
<text x="124.5" y="504.0" font-size="30.5" font-weight="bold" font-style="normal" fill="#000" text-anchor="end" font-family='"Liberation Sans", sans-serif' >0</text>
<line x1="127" y1="417.84000000000003" x2="139" y2="417.84000000000003" stroke="#000" stroke-width="3" />
<text x="124.5" y="428.84000000000003" font-size="30.5" font-weight="bold" font-style="normal" fill="#000" text-anchor="end" font-family='"Liberation Sans", sans-serif' >20</text>
<line x1="127" y1="342.68" x2="139" y2="342.68" stroke="#000" stroke-width="3" />
<text x="124.5" y="353.68" font-size="30.5" font-weight="bold" font-style="normal" fill="#000" text-anchor="end" font-family='"Liberation Sans", sans-serif' >40</text>
<line x1="127" y1="267.52" x2="139" y2="267.52" stroke="#000" stroke-width="3" />
<text x="124.5" y="278.52" font-size="30.5" font-weight="bold" font-style="normal" fill="#000" text-anchor="end" font-family='"Liberation Sans", sans-serif' >60</text>
<line x1="127" y1="192.36" x2="139" y2="192.36" stroke="#000" stroke-width="3" />
<text x="124.5" y="203.36" font-size="30.5" font-weight="bold" font-style="normal" fill="#000" text-anchor="end" font-family='"Liberation Sans", sans-serif' >80</text>
<line x1="127" y1="117.19999999999999" x2="139" y2="117.19999999999999" stroke="#000" stroke-width="3" />
<text x="124.5" y="128.2" font-size="30.5" font-weight="bold" font-style="normal" fill="#000" text-anchor="end" font-family='"Liberation Sans", sans-serif' >100</text>
<line x1="131.5" y1="455.42" x2="139" y2="455.42" stroke="#000" stroke-width="3" />
<line x1="131.5" y1="380.26" x2="139" y2="380.26" stroke="#000" stroke-width="3" />
<line x1="131.5" y1="305.1" x2="139" y2="305.1" stroke="#000" stroke-width="3" />
<line x1="131.5" y1="229.94" x2="139" y2="229.94" stroke="#000" stroke-width="3" />
<line x1="131.5" y1="154.77999999999997" x2="139" y2="154.77999999999997" stroke="#000" stroke-width="3" />
<line x1="131.5" y1="79.62" x2="139" y2="79.62" stroke="#000" stroke-width="3" />
<line x1="139.0" y1="530" x2="139.0" y2="542" stroke="#000" stroke-width="3" />
<line x1="172.0" y1="530" x2="172.0" y2="538.5" stroke="#000" stroke-width="3" />
<line x1="205.0" y1="530" x2="205.0" y2="538.5" stroke="#000" stroke-width="3" />
<line x1="238.0" y1="530" x2="238.0" y2="538.5" stroke="#000" stroke-width="3" />
<line x1="271.0" y1="530" x2="271.0" y2="538.5" stroke="#000" stroke-width="3" />
<line x1="304.0" y1="530" x2="304.0" y2="542" stroke="#000" stroke-width="3" />
<line x1="337.0" y1="530" x2="337.0" y2="538.5" stroke="#000" stroke-width="3" />
<line x1="370.0" y1="530" x2="370.0" y2="538.5" stroke="#000" stroke-width="3" />
<line x1="403.0" y1="530" x2="403.0" y2="538.5" stroke="#000" stroke-width="3" />
<line x1="436.0" y1="530" x2="436.0" y2="538.5" stroke="#000" stroke-width="3" />
<line x1="469.0" y1="530" x2="469.0" y2="542" stroke="#000" stroke-width="3" />
<line x1="502.0" y1="530" x2="502.0" y2="538.5" stroke="#000" stroke-width="3" />
<line x1="535.0" y1="530" x2="535.0" y2="538.5" stroke="#000" stroke-width="3" />
<line x1="568.0" y1="530" x2="568.0" y2="538.5" stroke="#000" stroke-width="3" />
<line x1="601.0" y1="530" x2="601.0" y2="538.5" stroke="#000" stroke-width="3" />
<line x1="634.0" y1="530" x2="634.0" y2="542" stroke="#000" stroke-width="3" />
<line x1="667.0" y1="530" x2="667.0" y2="538.5" stroke="#000" stroke-width="3" />
<line x1="700.0" y1="530" x2="700.0" y2="538.5" stroke="#000" stroke-width="3" />
<line x1="733.0" y1="530" x2="733.0" y2="538.5" stroke="#000" stroke-width="3" />
<line x1="766.0" y1="530" x2="766.0" y2="538.5" stroke="#000" stroke-width="3" />
<line x1="799.0" y1="530" x2="799.0" y2="542" stroke="#000" stroke-width="3" />
<line x1="832.0" y1="530" x2="832.0" y2="538.5" stroke="#000" stroke-width="3" />
<line x1="865.0" y1="530" x2="865.0" y2="538.5" stroke="#000" stroke-width="3" />
<line x1="898.0" y1="530" x2="898.0" y2="538.5" stroke="#000" stroke-width="3" />
<line x1="931.0" y1="530" x2="931.0" y2="538.5" stroke="#000" stroke-width="3" />
<line x1="964.0" y1="530" x2="964.0" y2="542" stroke="#000" stroke-width="3" />
<line x1="997.0" y1="530" x2="997.0" y2="538.5" stroke="#000" stroke-width="3" />
<line x1="1030.0" y1="530" x2="1030.0" y2="538.5" stroke="#000" stroke-width="3" />
<line x1="1063.0" y1="530" x2="1063.0" y2="538.5" stroke="#000" stroke-width="3" />
<line x1="1096.0" y1="530" x2="1096.0" y2="538.5" stroke="#000" stroke-width="3" />
<line x1="1129.0" y1="530" x2="1129.0" y2="542" stroke="#000" stroke-width="3" />
<line x1="1162.0" y1="530" x2="1162.0" y2="538.5" stroke="#000" stroke-width="3" />
<line x1="1195.0" y1="530" x2="1195.0" y2="538.5" stroke="#000" stroke-width="3" />
<text x="139.0" y="571.5" font-size="30.5" font-weight="bold" font-style="normal" fill="#000" text-anchor="middle" font-family='"Liberation Sans", sans-serif' >700</text>
<text x="304.0" y="571.5" font-size="30.5" font-weight="bold" font-style="normal" fill="#000" text-anchor="middle" font-family='"Liberation Sans", sans-serif' >750</text>
<text x="469.0" y="571.5" font-size="30.5" font-weight="bold" font-style="normal" fill="#000" text-anchor="middle" font-family='"Liberation Sans", sans-serif' >800</text>
<text x="634.0" y="571.5" font-size="30.5" font-weight="bold" font-style="normal" fill="#000" text-anchor="middle" font-family='"Liberation Sans", sans-serif' >850</text>
<text x="799.0" y="571.5" font-size="30.5" font-weight="bold" font-style="normal" fill="#000" text-anchor="middle" font-family='"Liberation Sans", sans-serif' >900</text>
<text x="964.0" y="571.5" font-size="30.5" font-weight="bold" font-style="normal" fill="#000" text-anchor="middle" font-family='"Liberation Sans", sans-serif' >950</text>
<text x="1129.0" y="571.5" font-size="30.5" font-weight="bold" font-style="normal" fill="#000" text-anchor="middle" font-family='"Liberation Sans", sans-serif' >1,000</text>
<text x="667" y="607.8" font-size="31" font-weight="bold" font-style="normal" fill="#000" text-anchor="middle" font-family='"Liberation Sans", sans-serif' >Residue Number</text>
<text transform="translate(66 290.3) rotate(-90)" font-size="31" font-weight="bold" text-anchor="middle" font-family='"Liberation Sans", sans-serif'>% exchange</text>
<text x="141.1" y="520.8" font-size="31" font-weight="bold" font-family='"Liberation Sans", sans-serif'>(<tspan font-style="italic">i</tspan>)</text>
<text x="179.1" y="520.8" font-size="31" font-weight="bold" font-family='"Liberation Sans", sans-serif'>(<tspan font-style="italic">ii</tspan>)</text>
<text x="358.0" y="520.8" font-size="31" font-weight="bold" font-family='"Liberation Sans", sans-serif'>(<tspan font-style="italic">iii</tspan>)</text>
<text x="454.5" y="520.8" font-size="31" font-weight="bold" font-family='"Liberation Sans", sans-serif'>(<tspan font-style="italic">iv</tspan>)</text>
<text x="533.1" y="520.8" font-size="31" font-weight="bold" font-family='"Liberation Sans", sans-serif'>(<tspan font-style="italic">v</tspan>)</text>
<text x="670.5" y="520.8" font-size="31" font-weight="bold" font-family='"Liberation Sans", sans-serif'>(<tspan font-style="italic">vi</tspan>)</text>
<rect x="194.5" y="623.3" width="943.5" height="108.7" fill="none" stroke="#9a9a9a" stroke-width="2.6"/>
<circle cx="234.3" cy="696.0" r="7.2" fill="#8f8f8f"/>
<text x="266.2" y="706" font-size="31" font-weight="bold" font-style="normal" fill="#9d9d9d" text-anchor="start" font-family='"Liberation Sans", sans-serif' >Wild type</text>
<text x="578.8" y="651" font-size="31" font-weight="bold" fill="#0a32ff" font-family='"Liberation Sans", sans-serif'>Profile 1</text>
<line x1="580.6" y1="655" x2="701" y2="655" stroke="#0a32ff" stroke-width="2.2" />
<circle cx="517.5" cy="679.7" r="7.2" fill="#0a32ff"/>
<text x="548.5" y="688.6" font-size="30.8" font-weight="bold" font-style="normal" fill="#0a32ff" text-anchor="start" font-family='"Liberation Sans", sans-serif' ><tspan font-family='"Liberation Serif", serif' font-weight="normal">Δ</tspan>L747-A750InsP</text>
<path d="M517.5 705.8L524.2 712.5L517.5 719.2L510.8 712.5Z" fill="none" stroke="#0a32ff" stroke-width="3.2" stroke-linejoin="miter"/>
<text x="549.2" y="722.6" font-size="31" font-weight="bold" font-style="normal" fill="#0a32ff" text-anchor="start" font-family='"Liberation Sans", sans-serif' >L747P</text>
<text x="912.5" y="651" font-size="31" font-weight="bold" fill="#ff2a00" font-family='"Liberation Sans", sans-serif'>Profile 2</text>
<line x1="913" y1="655" x2="1033.6" y2="655" stroke="#ff2a00" stroke-width="2.2" />
<circle cx="850.6" cy="679.4" r="7.2" fill="#ff2a00"/>
<text x="882.5" y="688.6" font-size="31" font-weight="bold" font-style="normal" fill="#ff2a00" text-anchor="start" font-family='"Liberation Sans", sans-serif' ><tspan font-family='"Liberation Serif", serif' font-weight="normal">Δ</tspan>E746-A750</text>
<path d="M850.5 705.7L857.0 717.9L844.0 717.9Z" fill="none" stroke="#ff2a00" stroke-width="3.4" stroke-linejoin="round"/>
<text x="882.5" y="722.6" font-size="31" font-weight="bold" font-style="normal" fill="#ff2a00" text-anchor="start" font-family='"Liberation Sans", sans-serif' ><tspan font-family='"Liberation Serif", serif' font-weight="normal">Δ</tspan>L747-P753InsS</text>
<g id="proteins">
<path d="M60.4 869.3 C59.2 866.6 56.0 858.9 53.3 853.3 C50.6 847.7 46.0 839.3 44.4 835.6 C42.8 831.9 42.4 832.6 43.6 831.1 C44.8 829.6 48.2 829.2 51.6 826.7 C55.0 824.2 60.8 818.2 64.0 816.0 C67.2 813.8 68.4 813.3 71.1 813.3 C73.8 813.3 77.9 813.8 80.0 816.0 C82.1 818.2 83.6 823.4 83.6 826.7 C83.6 830.0 82.1 833.7 80.0 835.6 C77.9 837.5 72.9 836.4 71.1 838.2 C69.3 840.0 68.7 843.1 69.3 846.2 C69.9 849.3 73.8 855.1 74.7 856.9" fill="none" stroke="#8a8a8a" stroke-width="2.3" stroke-linecap="round" stroke-linejoin="round"/>
<path d="M128.0 858.7 C129.2 857.5 131.8 854.0 135.1 851.6 C138.4 849.2 144.9 846.0 147.6 844.4 C150.2 842.8 150.4 842.4 151.0 842.0" fill="none" stroke="#8a8a8a" stroke-width="2.3" stroke-linecap="round" stroke-linejoin="round"/>
<path d="M151.0 842.0 L156.4 840.9" fill="none" stroke="#d9963a" stroke-width="2.3" stroke-linecap="round" stroke-linejoin="round"/>
<path d="M156.4 840.9 C157.3 840.9 160.6 839.7 161.8 840.9 C163.0 842.1 163.9 844.5 163.6 848.0 C163.3 851.5 161.5 858.7 160.0 862.2 C158.5 865.8 157.7 867.5 154.7 869.3 C151.7 871.1 146.0 871.7 142.2 872.9 C138.3 874.1 133.4 875.8 131.6 876.4" fill="none" stroke="#8a8a8a" stroke-width="2.3" stroke-linecap="round" stroke-linejoin="round"/>
<path d="M88.9 838.2 C89.8 836.3 92.6 830.2 94.2 826.7 C95.8 823.2 97.2 818.4 98.7 816.9 C100.2 815.4 102.4 817.6 103.1 817.8" fill="none" stroke="#d9963a" stroke-width="2.3" stroke-linecap="round" stroke-linejoin="round"/>
<polygon points="100.0,820.0 110.8,824.5 116.4,827.8 115.7,829.1 123.0,828.4 120.0,821.7 119.2,823.0 113.2,819.5 102.0,815.0" fill="#e9a445"/>
<path d="M121.0 829.0 C119.8 830.0 115.5 833.0 114.0 835.0 C112.5 837.0 110.8 838.8 112.0 841.0 C113.2 843.2 118.0 846.0 121.0 848.0 C124.0 850.0 128.2 851.0 130.0 853.0 C131.8 855.0 131.7 858.8 132.0 860.0" fill="none" stroke="#d9963a" stroke-width="2.3" stroke-linecap="round" stroke-linejoin="round"/>
<polygon points="56.1,871.6 72.1,882.1 77.7,886.0 76.5,887.8 87.0,886.5 84.3,876.2 83.0,878.1 77.3,874.3 61.3,863.6" fill="#5e5e5e"/>
<polygon points="125.9,857.0 119.0,872.7 115.1,878.8 113.2,877.6 115.0,887.0 124.2,884.5 122.3,883.3 126.4,876.7 133.7,860.4" fill="#6c6c6c"/>
<polygon points="130.8,872.7 119.0,879.8 111.8,882.9 110.9,880.8 107.0,889.5 116.0,892.7 115.1,890.7 122.8,887.4 135.2,880.1" fill="#6a6a6a"/>
<polygon points="79.4,893.4 106.3,896.9 128.7,898.4 128.5,900.9 137.0,894.5 129.5,887.0 129.3,889.5 107.1,887.9 80.6,884.4" fill="#747474"/>
<polygon points="85.2,902.4 106.4,907.0 119.2,906.4 119.3,908.9 126.0,902.0 118.7,895.9 118.8,898.4 107.0,899.0 86.8,894.6" fill="#575757"/>
<path d="M120.3 916.6 121.3 914.8 123.3 912.4 126.0 909.9 129.3 907.8 132.8 906.4 136.1 906.2 138.8 907.2 140.7 909.4 134.9 905.4 133.1 903.2 130.3 902.2 127.1 902.4 123.6 903.8 120.3 905.9 117.5 908.4 115.6 910.8 114.6 912.6Z" fill="#757575"/>
<path d="M135.6 927.3 136.6 925.5 138.6 923.1 141.4 920.6 135.6 916.6 132.9 919.1 130.9 921.5 129.9 923.3Z" fill="#757575"/>
<path d="M125.4 909.4 124.0 912.9 122.4 915.6 121.1 917.1 120.3 917.5 120.3 916.6 114.6 912.6 114.5 913.5 115.3 913.1 116.7 911.6 118.3 908.9 119.6 905.4Z" fill="#bdbdbd"/>
<path d="M119.6 913.6 L118.2 915.1 L117.4 915.5" stroke="#d4d4d4" stroke-width="2.4" stroke-linecap="round" fill="none" opacity="0.45"/>
<path d="M140.7 909.4 141.6 912.5 141.6 916.3 140.7 920.1 139.3 923.6 137.8 926.2 136.4 927.8 135.6 928.1 135.6 927.3 129.9 923.3 129.9 924.1 130.7 923.8 132.0 922.2 133.6 919.6 135.0 916.1 135.8 912.3 135.9 908.5 134.9 905.4Z" fill="#bdbdbd"/>
<path d="M137.8 918.1 L136.5 921.6 L134.9 924.2" stroke="#d4d4d4" stroke-width="2.4" stroke-linecap="round" fill="none" opacity="0.45"/>
<polygon points="86.4,833.7 79.8,844.2 74.1,857.7 73.1,875.2 77.2,889.0 85.8,900.7 97.1,910.1 101.2,912.7 99.0,916.3 114.5,916.0 108.0,901.9 105.7,905.5 102.1,903.3 92.0,894.9 84.6,885.2 81.5,874.2 82.3,859.7 87.4,848.2 93.6,838.3" fill="#f28e2b"/>
<path d="M93.6 838.3 L87.4 848.2 L82.3 859.7 L81.5 874.2 L84.6 885.2 L92.0 894.9 L102.1 903.3 L105.7 905.5" stroke="#d0741a" stroke-width="1.6" fill="none"/>
<path d="M159.9 919.5 157.9 919.3 155.6 917.0 153.4 913.1 151.8 908.1 151.3 902.6 152.1 897.4 154.3 893.3 157.6 890.8 145.9 896.3 142.5 898.8 140.3 903.0 139.5 908.1 140.0 913.6 141.6 918.7 143.8 922.6 146.2 924.8 148.1 925.1Z" fill="#865d27"/>
<path d="M177.4 911.2 175.3 910.6 173.0 908.1 170.8 904.0 169.4 898.8 169.1 893.3 170.1 888.2 172.5 884.3 176.1 882.1 164.3 887.7 160.8 889.9 158.4 893.8 157.3 898.8 157.6 904.3 159.1 909.5 161.2 913.6 163.6 916.2 165.6 916.8Z" fill="#0b0b0b"/>
<path d="M194.8 902.9 192.7 901.9 190.3 899.1 188.3 894.8 187.0 889.5 186.9 884.0 188.2 879.1 190.8 875.5 194.5 873.6 182.8 879.1 179.1 881.0 176.5 884.6 175.2 889.5 175.3 895.0 176.5 900.3 178.6 904.7 181.0 907.5 183.1 908.4Z" fill="#804a10"/>
<path d="M212.3 894.5 210.1 893.2 207.7 890.1 196.0 895.6 198.3 898.8 200.5 900.0Z" fill="#804a10"/>
<path d="M143.3 898.5 147.9 899.5 152.4 902.2 156.3 906.2 159.2 910.6 160.7 914.8 160.9 917.9 159.9 919.5 148.1 925.1 149.1 923.5 149.0 920.3 147.4 916.1 144.5 911.7 140.7 907.8 136.2 905.1 131.6 904.0Z" fill="#d9963f"/>
<path d="M150.4 908.9 L153.3 913.4 L154.8 917.5" stroke="#e6ba82" stroke-width="4.5" stroke-linecap="round" fill="none" opacity="0.45"/>
<path d="M157.6 890.8 161.9 890.1 166.5 891.5 170.9 894.4 174.6 898.5 177.3 902.9 178.6 907.0 178.6 909.9 177.4 911.2 165.6 916.8 166.8 915.5 166.9 912.5 165.5 908.5 162.9 904.0 159.1 900.0 154.7 897.0 150.1 895.7 145.9 896.3Z" fill="#121212"/>
<path d="M165.0 897.2 L168.8 901.3 L171.4 905.7" stroke="#646464" stroke-width="4.5" stroke-linecap="round" fill="none" opacity="0.45"/>
<path d="M176.1 882.1 180.4 881.8 185.0 883.5 189.4 886.7 192.9 890.8 195.4 895.3 196.5 899.2 196.2 901.9 194.8 902.9 183.1 908.4 184.5 907.4 184.7 904.7 183.6 900.8 181.2 896.4 177.6 892.2 173.3 889.0 168.6 887.4 164.3 887.7Z" fill="#d0781a"/>
<path d="M183.5 889.4 L187.1 893.6 L189.5 898.0" stroke="#e0a76a" stroke-width="4.5" stroke-linecap="round" fill="none" opacity="0.45"/>
<path d="M194.5 873.6 198.9 873.6 203.5 875.5 207.8 878.9 211.2 883.2 213.4 887.6 214.3 891.3 213.8 893.8 212.3 894.5 200.5 900.0 202.1 899.3 202.5 896.9 201.7 893.1 199.5 888.7 196.0 884.5 191.8 881.1 187.2 879.2 182.8 879.1Z" fill="#d0781a"/>
<path d="M201.9 881.7 L205.3 886.0 L207.6 890.4" stroke="#e0a76a" stroke-width="4.5" stroke-linecap="round" fill="none" opacity="0.45"/>
<path d="M53.0 918.0 C53.7 918.5 55.5 920.5 57.0 921.0 C58.5 921.5 60.3 921.5 62.0 921.0 C63.7 920.5 66.2 918.5 67.0 918.0" fill="none" stroke="#111" stroke-width="2" stroke-linecap="round" stroke-linejoin="round"/>
<path d="M53.3 917.3 C52.7 918.5 50.5 921.4 49.8 924.4 C49.1 927.4 48.3 932.1 48.9 935.1 C49.5 938.1 50.8 940.1 53.3 942.2 C55.8 944.3 60.4 945.8 64.0 947.6 C67.6 949.4 72.0 951.2 74.7 952.9 C77.4 954.6 79.1 957.1 80.0 958.0" fill="none" stroke="#d9982e" stroke-width="2.3" stroke-linecap="round" stroke-linejoin="round"/>
<path d="M76.6 936.3 C77.9 936.0 81.2 934.2 84.7 934.7 C88.2 935.2 96.2 937.4 97.8 939.6 C99.4 941.8 96.7 946.1 94.5 947.7 C92.3 949.3 86.3 949.0 84.7 949.3" fill="none" stroke="#8a8a8a" stroke-width="2.3" stroke-linecap="round" stroke-linejoin="round"/>
<path d="M99.0 943.0 C99.3 943.8 99.6 947.7 101.0 947.7 C102.4 947.7 105.4 944.1 107.6 942.8 C109.8 941.4 110.2 940.7 114.0 939.6 C117.8 938.5 126.1 936.7 130.4 936.3 C134.7 935.9 138.4 936.9 140.0 937.0" fill="none" stroke="#5a5a5a" stroke-width="2.3" stroke-linecap="round" stroke-linejoin="round"/>
<path d="M114.5 916.0 C116.2 917.5 121.1 922.0 125.0 925.0 C128.9 928.0 134.5 931.5 138.0 934.0 C141.5 936.5 143.7 937.7 146.0 940.0 C148.3 942.3 149.7 946.2 152.0 948.0 C154.3 949.8 158.7 950.5 160.0 951.0" fill="none" stroke="#d9982e" stroke-width="2.3" stroke-linecap="round" stroke-linejoin="round"/>
<polygon points="38.4,959.2 51.4,949.1 67.5,947.9 78.1,951.6 77.5,953.5 86.0,950.0 81.3,942.1 80.6,944.0 68.5,940.1 48.6,941.9 33.6,952.8" fill="#7a7a7a"/>
<polygon points="36.8,965.9 58.3,961.5 78.7,963.0 78.6,965.0 86.0,959.5 79.4,953.0 79.3,955.0 57.7,953.5 35.2,958.1" fill="#959595"/>
<path d="M34.0 962.0 C33.8 960.0 32.3 953.3 33.0 950.0 C33.7 946.7 35.7 943.7 38.0 942.0 C40.3 940.3 45.5 940.3 47.0 940.0" fill="none" stroke="#959595" stroke-width="2.3" stroke-linecap="round" stroke-linejoin="round"/>
<polygon points="83.2,949.1 74.3,955.5 71.5,957.3 70.7,956.0 68.0,963.0 75.5,963.6 74.7,962.4 77.7,960.5 86.8,953.9" fill="#d9982e"/>
<path d="M150.0 950.0 C151.2 950.0 154.8 950.3 157.0 950.0 C159.2 949.7 160.5 948.0 163.0 948.0 C165.5 948.0 169.2 949.2 172.0 950.0 C174.8 950.8 177.9 951.0 180.0 953.0 C182.1 955.0 184.1 958.8 184.5 962.0 C184.9 965.2 182.8 970.3 182.5 972.0" fill="none" stroke="#d9a050" stroke-width="2.3" stroke-linecap="round" stroke-linejoin="round"/>
<path d="M182.5 972.0 C184.6 972.5 190.2 974.4 195.0 975.0 C199.8 975.6 210.2 975.2 211.0 975.5 C211.8 975.8 203.5 976.1 200.0 976.5 C196.5 976.9 192.8 976.6 190.0 978.0 C187.2 979.4 185.0 983.0 183.0 985.0 C181.0 987.0 180.2 989.0 178.0 990.0 C175.8 991.0 173.0 990.8 170.0 991.0 C167.0 991.2 163.3 990.7 160.0 991.0 C156.7 991.3 153.2 992.0 150.0 993.0 C146.8 994.0 142.5 996.3 141.0 997.0" fill="none" stroke="#d9a050" stroke-width="2.3" stroke-linecap="round" stroke-linejoin="round"/>
<polygon points="158.0,946.0 166.0,945.0 163.0,952.0" fill="#d9a050"/>
<polygon points="184.0,978.0 194.0,984.0 186.0,989.0" fill="#d9a050"/>
<path d="M67.3 999.1 66.9 998.4 66.3 996.4 65.9 993.4 66.0 989.8 66.6 986.0 68.0 982.6 70.0 980.1 72.7 978.8 65.0 981.0 62.4 982.3 60.3 984.8 58.9 988.2 58.3 992.0 58.3 995.7 58.7 998.7 59.2 1000.6 59.7 1001.3Z" fill="#252525"/>
<path d="M63.7 990.7 65.7 993.8 66.9 996.5 67.4 998.4 67.3 999.1 59.7 1001.3 59.7 1000.6 59.2 998.7 58.0 996.0 56.0 993.0Z" fill="#3c3c3c"/>
<path d="M61.8 994.9 L63.0 997.6 L63.6 999.5" stroke="#808080" stroke-width="2.8" stroke-linecap="round" fill="none" opacity="0.45"/>
<path d="M72.7 978.8 75.7 978.8 78.8 980.1 81.6 982.5 84.0 985.5 85.0 988.7 85.7 991.4 86.2 993.1 78.6 995.3 78.1 993.7 77.3 991.0 76.3 987.7 74.0 984.7 71.1 982.4 68.0 981.0 65.0 981.0Z" fill="#3c3c3c"/>
<path d="M77.8 983.6 L80.2 986.6 L81.1 989.9" stroke="#808080" stroke-width="2.8" stroke-linecap="round" fill="none" opacity="0.45"/>
<path d="M94.0 987.0 92.4 984.7 91.0 980.8 90.1 975.7 90.2 970.2 91.2 965.2 93.3 961.3 96.3 959.1 99.9 958.9 86.8 962.4 83.2 962.6 80.3 964.8 78.2 968.7 77.1 973.7 77.1 979.2 77.9 984.3 79.3 988.2 80.9 990.5Z" fill="#2d2d2d"/>
<path d="M111.3 982.1 109.7 979.6 108.3 975.5 107.6 970.3 107.7 964.9 108.9 959.9 111.1 956.2 114.2 954.2 117.8 954.3 104.8 957.8 101.1 957.7 98.1 959.7 95.9 963.5 94.7 968.4 94.5 973.9 95.3 979.0 96.7 983.1 98.2 985.6Z" fill="#393939"/>
<path d="M130.0 977.9 128.6 977.2 127.0 974.5 125.7 970.2 125.1 965.0 125.3 959.6 126.6 954.7 128.9 951.2 132.1 949.4 119.0 952.9 115.9 954.7 113.6 958.2 112.3 963.1 112.0 968.5 112.7 973.7 114.0 978.0 115.6 980.7 117.0 981.4Z" fill="#525252"/>
<path d="M147.4 973.2 145.9 972.3 144.3 969.4 143.1 964.9 130.1 968.4 131.3 972.9 132.9 975.8 134.3 976.7Z" fill="#555555"/>
<path d="M94.7 977.6 95.9 982.1 96.0 985.5 95.3 987.2 94.0 987.0 80.9 990.5 82.3 990.7 83.0 989.0 82.8 985.6 81.6 981.1Z" fill="#4a4a4a"/>
<path d="M89.4 983.8 L89.5 987.2 L88.8 989.0" stroke="#898989" stroke-width="4.7" stroke-linecap="round" fill="none" opacity="0.45"/>
<path d="M99.9 958.9 103.6 960.6 107.2 964.1 110.2 968.6 112.4 973.5 113.4 977.9 113.5 981.1 112.7 982.6 111.3 982.1 98.2 985.6 99.6 986.1 100.5 984.6 100.4 981.4 99.3 977.0 97.2 972.1 94.2 967.6 90.6 964.1 86.8 962.4Z" fill="#585858"/>
<path d="M103.7 970.3 L105.8 975.2 L106.9 979.6" stroke="#929292" stroke-width="4.7" stroke-linecap="round" fill="none" opacity="0.45"/>
<path d="M117.8 954.3 121.6 956.3 125.1 959.8 128.0 964.5 130.0 969.3 131.0 973.6 130.9 976.7 130.0 977.9 117.0 981.4 117.9 980.2 118.0 977.1 117.0 972.8 115.0 968.0 112.1 963.4 108.5 959.8 104.8 957.8Z" fill="#858585"/>
<path d="M121.5 966.2 L123.5 971.1 L124.5 975.4" stroke="#afafaf" stroke-width="4.7" stroke-linecap="round" fill="none" opacity="0.45"/>
<path d="M132.1 949.4 135.7 949.7 139.5 951.9 143.0 955.6 145.8 960.3 147.7 965.1 148.5 969.3 148.4 972.2 147.4 973.2 134.3 976.7 135.3 975.7 135.5 972.8 134.7 968.7 132.8 963.8 130.0 959.2 126.5 955.4 122.7 953.2 119.0 952.9Z" fill="#8a8a8a"/>
<path d="M136.5 957.4 L139.3 962.1 L141.2 966.9" stroke="#b2b2b2" stroke-width="4.7" stroke-linecap="round" fill="none" opacity="0.45"/>
<polygon points="130.5,959.6 140.5,965.6 143.4,967.2 142.2,969.4 151.0,968.0 147.6,959.8 146.3,962.0 143.5,960.4 133.5,954.4" fill="#6a6a6a"/>
<path d="M146.7 968.9 C147.2 970.0 150.6 973.9 150.0 975.4 C149.4 976.9 147.1 977.1 143.4 978.0 C139.7 978.9 132.9 979.8 128.0 981.0 C123.1 982.2 118.0 984.2 114.0 985.2 C110.0 986.2 105.7 986.7 104.0 987.0" fill="none" stroke="#454545" stroke-width="2.6" stroke-linecap="round" stroke-linejoin="round"/>
<path d="M23.5 1009.6 22.3 1008.1 20.9 1005.0 19.7 1000.7 19.2 995.7 19.7 990.9 21.1 986.8 23.6 983.9 26.9 982.8 12.2 989.0 8.9 990.2 6.4 993.0 4.9 997.1 4.5 1001.9 5.0 1006.9 6.1 1011.2 7.5 1014.3 8.8 1015.8Z" fill="#565656"/>
<path d="M43.7 1000.9 42.4 999.1 41.0 995.7 40.0 991.3 39.6 986.3 40.2 981.5 41.8 977.6 44.5 975.0 47.9 974.2 33.2 980.4 29.7 981.3 27.1 983.8 25.4 987.8 24.9 992.5 25.2 997.5 26.3 1001.9 27.6 1005.3 28.9 1007.1Z" fill="#565656"/>
<path d="M63.9 992.1 62.5 990.0 61.2 986.5 60.2 981.9 60.0 976.9 60.8 972.2 62.6 968.5 65.4 966.2 68.9 965.6 54.2 971.8 50.6 972.4 47.8 974.7 46.0 978.4 45.2 983.1 45.5 988.1 46.4 992.7 47.8 996.2 49.1 998.3Z" fill="#565656"/>
<path d="M85.0 983.9 84.0 983.3 82.6 980.9 81.3 977.2 80.5 972.5 65.7 978.7 66.6 983.4 67.9 987.2 69.3 989.5 70.3 990.2Z" fill="#565656"/>
<path d="M13.7 993.6 17.5 996.8 20.6 1000.6 22.9 1004.4 24.0 1007.5 24.2 1009.4 23.5 1009.6 8.8 1015.8 9.5 1015.6 9.3 1013.7 8.1 1010.6 5.9 1006.8 2.7 1003.0 -1.0 999.8Z" fill="#8c8c8c"/>
<path d="M13.3 1003.7 L15.5 1007.5 L16.7 1010.6" stroke="#b4b4b4" stroke-width="5.6" stroke-linecap="round" fill="none" opacity="0.45"/>
<path d="M26.9 982.8 30.8 983.3 34.8 985.5 38.4 988.8 41.4 992.6 43.5 996.4 44.5 999.3 44.5 1000.9 43.7 1000.9 28.9 1007.1 29.8 1007.1 29.8 1005.5 28.7 1002.6 26.7 998.9 23.7 995.0 20.0 991.7 16.1 989.6 12.2 989.0Z" fill="#8c8c8c"/>
<path d="M31.1 991.9 L34.1 995.8 L36.1 999.5" stroke="#b4b4b4" stroke-width="5.6" stroke-linecap="round" fill="none" opacity="0.45"/>
<path d="M47.9 974.2 51.8 975.0 55.8 977.4 59.3 980.8 62.2 984.7 64.1 988.4 64.9 991.1 64.8 992.5 63.9 992.1 49.1 998.3 50.0 998.7 50.2 997.3 49.4 994.6 47.5 990.9 44.6 987.0 41.0 983.6 37.1 981.2 33.2 980.4Z" fill="#8c8c8c"/>
<path d="M52.0 983.9 L54.8 987.8 L56.7 991.5" stroke="#b4b4b4" stroke-width="5.6" stroke-linecap="round" fill="none" opacity="0.45"/>
<path d="M68.9 965.6 72.8 966.7 76.8 969.3 80.2 972.9 82.9 976.8 84.7 980.3 85.3 982.9 85.0 983.9 70.3 990.2 70.6 989.1 69.9 986.5 68.2 983.0 65.5 979.1 62.0 975.5 58.1 972.9 54.2 971.8Z" fill="#8c8c8c"/>
<path d="M72.9 976.0 L75.6 979.9 L77.3 983.4" stroke="#b4b4b4" stroke-width="5.6" stroke-linecap="round" fill="none" opacity="0.45"/>
<path d="M25.9 1029.9 24.9 1029.0 23.9 1026.4 23.2 1022.5 23.2 1017.9 24.0 1013.2 25.6 1009.1 28.1 1006.3 31.3 1005.1 17.6 1008.2 14.5 1009.4 12.0 1012.2 10.3 1016.3 9.5 1021.0 9.6 1025.6 10.2 1029.5 11.2 1032.1 12.2 1033.0Z" fill="#606060"/>
<path d="M44.7 1025.4 43.7 1023.9 42.7 1020.8 42.3 1016.6 42.5 1011.9 43.6 1007.3 45.5 1003.6 48.3 1001.3 51.6 1000.8 37.9 1003.9 34.6 1004.4 31.9 1006.7 29.9 1010.4 28.8 1015.0 28.6 1019.7 29.1 1024.0 30.0 1027.0 31.0 1028.5Z" fill="#606060"/>
<path d="M63.5 1020.7 62.4 1018.7 48.8 1021.8 49.8 1023.9Z" fill="#606060"/>
<path d="M25.5 1022.8 26.4 1026.4 26.5 1028.9 25.9 1029.9 12.2 1033.0 12.8 1032.0 12.7 1029.5 11.8 1025.9Z" fill="#9c9c9c"/>
<path d="M19.6 1028.0 L19.6 1030.5 L19.0 1031.4" stroke="#bebebe" stroke-width="4.9" stroke-linecap="round" fill="none" opacity="0.45"/>
<path d="M31.3 1005.1 34.7 1005.7 38.1 1008.0 41.1 1011.5 43.5 1015.7 45.0 1019.8 45.6 1023.1 45.5 1025.1 44.7 1025.4 31.0 1028.5 31.8 1028.2 32.0 1026.2 31.4 1022.9 29.9 1018.8 27.5 1014.6 24.5 1011.1 21.1 1008.8 17.6 1008.2Z" fill="#9c9c9c"/>
<path d="M34.3 1013.1 L36.7 1017.2 L38.2 1021.3" stroke="#bebebe" stroke-width="4.9" stroke-linecap="round" fill="none" opacity="0.45"/>
<path d="M51.6 1000.8 55.0 1002.0 58.4 1004.8 61.2 1008.6 63.3 1012.8 64.5 1016.7 64.8 1019.6 64.4 1021.1 63.5 1020.7 49.8 1023.9 50.7 1024.2 51.1 1022.7 50.8 1019.8 49.6 1015.9 47.5 1011.7 44.7 1007.9 41.4 1005.1 37.9 1003.9Z" fill="#9c9c9c"/>
<path d="M54.4 1010.1 L56.4 1014.4 L57.6 1018.3" stroke="#bebebe" stroke-width="4.9" stroke-linecap="round" fill="none" opacity="0.45"/>
<polygon points="8.2,1025.1 11.3,1035.5 16.4,1045.8 23.6,1042.2 18.7,1032.5 15.8,1022.9" fill="#a0a0a0"/>
<path d="M77.6 1012.6 77.1 1011.7 76.8 1009.3 76.9 1005.8 77.7 1001.6 79.2 997.5 81.4 994.0 84.2 991.6 87.4 990.9 74.4 991.8 71.3 992.6 68.5 994.9 66.2 998.4 64.7 1002.6 63.9 1006.7 63.8 1010.3 64.1 1012.7 64.7 1013.6Z" fill="#a0a0a0"/>
<path d="M99.1 1011.0 98.6 1009.8 98.3 1007.1 98.6 1003.4 99.5 999.2 101.2 995.1 103.6 991.8 106.5 989.8 109.7 989.3 96.7 990.3 93.5 990.7 90.6 992.7 88.2 996.0 86.5 1000.1 85.6 1004.3 85.4 1008.0 85.6 1010.7 86.1 1011.9Z" fill="#a0a0a0"/>
<path d="M120.6 1009.3 120.1 1007.7 119.9 1004.8 120.3 1000.9 121.4 996.7 123.2 992.7 125.7 989.7 128.7 988.0 131.9 987.9 119.0 988.8 115.7 988.9 112.7 990.6 110.2 993.7 108.4 997.6 107.3 1001.9 106.9 1005.8 107.1 1008.7 107.6 1010.2Z" fill="#a0a0a0"/>
<path d="M142.0 1007.5 141.6 1005.6 141.5 1002.5 142.0 998.5 143.3 994.2 145.3 990.4 147.9 987.6 151.0 986.2 152.8 986.6 139.8 987.5 138.0 987.2 134.9 988.6 132.3 991.4 130.3 995.2 129.1 999.4 128.6 1003.4 128.6 1006.6 129.1 1008.5Z" fill="#a0a0a0"/>
<path d="M76.2 1002.2 77.5 1006.2 78.1 1009.6 78.0 1011.8 77.6 1012.6 64.7 1013.6 65.1 1012.8 65.1 1010.5 64.5 1007.1 63.2 1003.1Z" fill="#c8c8c8"/>
<path d="M71.0 1006.6 L71.6 1010.0 L71.5 1012.3" stroke="#dbdbdb" stroke-width="4.5" stroke-linecap="round" fill="none" opacity="0.45"/>
<path d="M87.4 990.9 90.7 991.7 93.7 994.0 96.2 997.5 98.1 1001.5 99.2 1005.4 99.7 1008.6 99.5 1010.6 99.1 1011.0 86.1 1011.9 86.6 1011.5 86.7 1009.5 86.3 1006.3 85.1 1002.4 83.3 998.4 80.7 995.0 77.7 992.6 74.4 991.8Z" fill="#c8c8c8"/>
<path d="M89.7 997.9 L91.6 1001.9 L92.8 1005.8" stroke="#dbdbdb" stroke-width="4.5" stroke-linecap="round" fill="none" opacity="0.45"/>
<path d="M109.7 989.3 112.9 990.5 115.8 993.1 118.3 996.7 120.0 1000.7 121.0 1004.5 121.3 1007.5 121.0 1009.2 120.6 1009.3 107.6 1010.2 108.1 1010.1 108.3 1008.5 108.0 1005.5 107.0 1001.7 105.3 997.6 102.9 994.0 99.9 991.4 96.7 990.3Z" fill="#c8c8c8"/>
<path d="M111.8 997.2 L113.5 1001.2 L114.5 1005.0" stroke="#dbdbdb" stroke-width="4.5" stroke-linecap="round" fill="none" opacity="0.45"/>
<path d="M131.9 987.9 135.1 989.4 138.0 992.2 140.3 996.0 141.8 1000.0 142.7 1003.7 142.8 1006.4 142.5 1007.8 142.0 1007.5 129.1 1008.5 129.6 1008.7 129.9 1007.4 129.7 1004.6 128.9 1000.9 127.3 996.9 125.0 993.2 122.2 990.3 119.0 988.8Z" fill="#c8c8c8"/>
<path d="M133.8 996.4 L135.4 1000.5 L136.2 1004.2" stroke="#dbdbdb" stroke-width="4.5" stroke-linecap="round" fill="none" opacity="0.45"/>
<path d="M76.0 1035.1 74.5 1033.8 73.1 1030.5 72.2 1025.7 72.1 1020.1 72.9 1014.6 74.8 1009.9 77.6 1006.7 81.2 1005.5 66.5 1008.7 63.0 1009.9 60.1 1013.1 58.2 1017.7 57.4 1023.3 57.6 1028.9 58.5 1033.6 59.9 1037.0 61.3 1038.3Z" fill="#121212"/>
<path d="M95.1 1030.9 93.6 1029.3 92.3 1025.8 91.4 1020.9 91.3 1015.3 92.3 1009.8 94.3 1005.3 97.2 1002.3 100.8 1001.4 86.1 1004.6 82.5 1005.5 79.6 1008.5 77.6 1013.0 76.7 1018.5 76.7 1024.1 77.6 1029.0 79.0 1032.5 80.4 1034.1Z" fill="#121212"/>
<path d="M114.2 1026.7 112.7 1024.9 111.4 1021.2 110.6 1016.2 110.6 1010.6 111.7 1005.1 113.8 1000.7 116.8 998.0 120.4 997.2 105.8 1000.4 102.1 1001.1 99.1 1003.9 97.0 1008.3 95.9 1013.8 95.9 1019.4 96.7 1024.4 98.0 1028.1 99.5 1029.9Z" fill="#121212"/>
<path d="M133.3 1022.4 131.8 1020.4 130.5 1016.6 129.8 1011.5 129.9 1005.8 131.1 1000.5 133.3 996.2 136.4 993.6 139.7 993.1 125.1 996.3 121.7 996.8 118.6 999.4 116.4 1003.6 115.2 1009.0 115.1 1014.6 115.8 1019.8 117.1 1023.6 118.6 1025.6Z" fill="#121212"/>
<path d="M72.6 1017.4 75.2 1022.4 76.9 1027.4 77.5 1031.7 77.1 1034.4 76.0 1035.1 61.3 1038.3 62.4 1037.6 62.8 1034.9 62.2 1030.6 60.6 1025.6 58.0 1020.6Z" fill="#141414"/>
<path d="M69.6 1029.0 L70.1 1033.3 L69.7 1036.0" stroke="#666666" stroke-width="5.2" stroke-linecap="round" fill="none" opacity="0.45"/>
<path d="M81.2 1005.5 85.0 1006.5 88.8 1009.4 92.2 1013.7 94.7 1018.8 96.2 1023.7 96.7 1027.8 96.2 1030.4 95.1 1030.9 80.4 1034.1 81.6 1033.6 82.0 1031.0 81.6 1026.9 80.0 1021.9 77.5 1016.9 74.2 1012.6 70.4 1009.7 66.5 1008.7Z" fill="#141414"/>
<path d="M84.8 1015.3 L87.4 1020.4 L88.9 1025.3" stroke="#666666" stroke-width="5.2" stroke-linecap="round" fill="none" opacity="0.45"/>
<path d="M100.8 1001.4 104.7 1002.5 108.4 1005.6 111.7 1010.0 114.1 1015.1 115.5 1020.0 115.9 1024.0 115.4 1026.3 114.2 1026.7 99.5 1029.9 100.7 1029.5 101.3 1027.2 100.9 1023.2 99.5 1018.3 97.0 1013.2 93.8 1008.8 90.0 1005.7 86.1 1004.6Z" fill="#141414"/>
<path d="M104.4 1011.6 L106.8 1016.7 L108.2 1021.6" stroke="#666666" stroke-width="5.2" stroke-linecap="round" fill="none" opacity="0.45"/>
<path d="M120.4 997.2 124.3 998.6 128.0 1001.8 131.2 1006.3 133.6 1011.5 134.9 1016.3 135.1 1020.2 134.5 1022.3 133.3 1022.4 118.6 1025.6 119.8 1025.5 120.5 1023.3 120.2 1019.5 118.9 1014.6 116.6 1009.5 113.4 1005.0 109.7 1001.8 105.8 1000.4Z" fill="#141414"/>
<path d="M123.9 1007.9 L126.2 1013.1 L127.5 1017.9" stroke="#666666" stroke-width="5.2" stroke-linecap="round" fill="none" opacity="0.45"/>
<path d="M139.7 993.1 140.2 995.5 125.6 998.6 125.1 996.3Z" fill="#141414"/>
<path d="M132.4 994.7 L132.9 997.0" stroke="#666666" stroke-width="5.2" stroke-linecap="round" fill="none" opacity="0.45"/>
<path d="M185.2 1031.9 183.0 1031.3 180.7 1028.8 178.6 1024.9 177.3 1020.0 177.2 1014.8 178.5 1010.1 181.1 1006.5 184.7 1004.5 175.8 1009.0 172.1 1011.0 169.5 1014.6 168.3 1019.3 168.4 1024.4 169.7 1029.3 171.7 1033.3 174.1 1035.7 176.2 1036.4Z" fill="#595959"/>
<path d="M201.9 1023.4 199.7 1022.3 197.3 1019.5 195.4 1015.3 194.4 1010.3 194.5 1005.2 196.1 1000.7 198.9 997.4 202.7 995.7 193.8 1000.2 190.0 1001.9 187.1 1005.2 185.6 1009.7 185.4 1014.8 186.5 1019.8 188.4 1024.0 190.7 1026.8 193.0 1027.8Z" fill="#595959"/>
<path d="M185.7 1024.5 186.8 1028.2 186.5 1030.8 185.2 1031.9 176.2 1036.4 177.6 1035.3 177.9 1032.6 176.8 1029.0Z" fill="#919191"/>
<path d="M182.3 1030.4 L182.1 1033.1 L180.7 1034.2" stroke="#b7b7b7" stroke-width="3.5" stroke-linecap="round" fill="none" opacity="0.45"/>
<path d="M184.7 1004.5 189.1 1004.3 193.6 1005.8 197.8 1008.8 201.1 1012.7 203.2 1016.7 204.0 1020.3 203.5 1022.6 201.9 1023.4 193.0 1027.8 194.6 1027.1 195.1 1024.7 194.3 1021.2 192.2 1017.2 188.8 1013.3 184.7 1010.3 180.1 1008.8 175.8 1009.0Z" fill="#919191"/>
<path d="M193.3 1011.1 L196.6 1014.9 L198.8 1019.0" stroke="#b7b7b7" stroke-width="3.5" stroke-linecap="round" fill="none" opacity="0.45"/>
<path d="M202.7 995.7 205.3 996.8 207.0 1000.1 209.1 1004.3 200.1 1008.8 198.0 1004.6 196.4 1001.3 193.8 1000.2Z" fill="#919191"/>
<path d="M200.8 999.1 L202.5 1002.4 L204.6 1006.6" stroke="#b7b7b7" stroke-width="3.5" stroke-linecap="round" fill="none" opacity="0.45"/>
<path d="M163.0 991.7 C164.5 992.4 168.5 994.5 172.0 996.0 C175.5 997.5 182.0 1000.2 184.0 1001.0" fill="none" stroke="#848484" stroke-width="2.3" stroke-linecap="round" stroke-linejoin="round"/>
<path d="M144.8 1019.7 144.9 1017.9 145.2 1015.2 145.9 1012.0 147.2 1008.7 149.0 1005.8 151.4 1003.6 154.1 1002.5 157.1 1002.7 150.2 1003.8 147.2 1003.7 144.5 1004.8 142.1 1006.9 140.3 1009.9 139.0 1013.2 138.3 1016.4 138.0 1019.1 137.9 1020.8Z" fill="#70552d"/>
<path d="M141.0 1012.8 142.7 1015.6 143.9 1018.1 144.5 1019.7 144.8 1020.3 144.8 1019.7 137.9 1020.8 137.9 1021.5 137.6 1020.9 137.0 1019.2 135.8 1016.8 134.1 1014.0Z" fill="#b58a4a"/>
<path d="M140.4 1018.7 L141.1 1020.3 L141.3 1020.9" stroke="#ceb289" stroke-width="2.4" stroke-linecap="round" fill="none" opacity="0.45"/>
<path d="M157.1 1002.7 160.0 1003.9 160.9 1006.4 161.5 1009.4 154.5 1010.6 154.0 1007.6 153.1 1005.1 150.2 1003.8Z" fill="#b58a4a"/>
<path d="M156.6 1004.5 L157.5 1007.0 L158.0 1010.0" stroke="#ceb289" stroke-width="2.4" stroke-linecap="round" fill="none" opacity="0.45"/>
<polygon points="147.0,1019.8 152.8,1029.3 154.6,1037.8 161.4,1036.2 159.2,1026.7 153.0,1016.2" fill="#e0c088"/>
<polygon points="145.0,1031.0 161.0,1033.0 160.0,1050.0 150.0,1047.0" fill="#f6ad55"/>
<path d="M172.8 1052.5 170.8 1052.6 168.8 1050.6 166.5 1047.2 163.9 1043.2 162.5 1038.4 162.6 1033.5 164.2 1029.2 167.1 1026.2 159.2 1031.5 156.3 1034.5 154.7 1038.7 154.6 1043.7 155.9 1048.5 158.6 1052.5 160.9 1055.9 162.9 1057.8 164.9 1057.8Z" fill="#8c5f1f"/>
<path d="M188.8 1041.8 186.8 1041.9 184.3 1040.3 181.7 1037.1 179.6 1032.7 178.5 1027.7 178.6 1022.8 170.7 1028.1 170.6 1033.0 171.7 1038.0 173.8 1042.3 176.4 1045.5 178.9 1047.2 180.9 1047.1Z" fill="#8c5f1f"/>
<path d="M173.3 1047.9 173.7 1050.8 172.8 1052.5 164.9 1057.8 165.8 1056.1 165.4 1053.2Z" fill="#e39a32"/>
<path d="M169.3 1050.6 L169.7 1053.5 L168.8 1055.1" stroke="#ecbd79" stroke-width="3.3" stroke-linecap="round" fill="none" opacity="0.45"/>
<path d="M167.1 1026.2 171.1 1024.8 175.6 1025.1 180.2 1027.0 184.3 1030.0 187.4 1033.7 189.3 1037.3 189.7 1040.2 188.8 1041.8 180.9 1047.1 181.8 1045.4 181.4 1042.5 179.5 1038.9 176.4 1035.3 172.3 1032.3 167.7 1030.4 163.2 1030.1 159.2 1031.5Z" fill="#e39a32"/>
<path d="M176.2 1029.6 L180.3 1032.7 L183.5 1036.3" stroke="#ecbd79" stroke-width="3.3" stroke-linecap="round" fill="none" opacity="0.45"/>
<polygon points="124.0,1033.0 143.0,1036.0 141.0,1044.0 126.0,1041.0" fill="#c4c4c4"/>
<path d="M70.0 1066.7 C72.5 1066.7 79.5 1067.8 84.7 1066.7 C89.9 1065.6 96.1 1061.8 101.0 1060.2 C105.9 1058.6 110.2 1056.5 114.0 1057.0 C117.8 1057.5 119.8 1060.4 123.9 1063.4 C128.0 1066.4 133.1 1071.0 138.5 1074.8 C143.9 1078.6 152.4 1083.8 156.5 1086.2 C160.6 1088.7 161.9 1089.0 163.0 1089.5" fill="none" stroke="#848484" stroke-width="2.3" stroke-linecap="round" stroke-linejoin="round"/>
<path d="M72.2 1068.2 71.1 1066.6 70.1 1063.4 69.5 1059.1 69.7 1054.4 70.7 1049.9 72.6 1046.3 75.3 1044.0 78.5 1043.5 64.5 1047.2 61.2 1047.7 58.6 1049.9 56.6 1053.6 55.6 1058.1 55.5 1062.8 56.1 1067.1 57.1 1070.3 58.2 1071.9Z" fill="#232323"/>
<path d="M90.7 1063.1 89.6 1061.0 88.7 1057.5 88.2 1053.1 88.6 1048.3 89.8 1044.0 91.9 1040.6 94.8 1038.8 98.1 1038.7 84.1 1042.4 80.8 1042.5 77.9 1044.3 75.8 1047.7 74.6 1052.0 74.2 1056.7 74.7 1061.2 75.6 1064.7 76.7 1066.7Z" fill="#232323"/>
<path d="M110.2 1058.5 109.2 1057.8 108.1 1055.3 107.3 1051.6 107.0 1047.0 107.6 1042.3 109.0 1038.1 111.3 1035.1 114.3 1033.7 100.3 1037.4 97.3 1038.8 95.0 1041.8 93.5 1045.9 93.0 1050.7 93.3 1055.2 94.1 1059.0 95.2 1061.5 96.2 1062.2Z" fill="#232323"/>
<path d="M128.8 1053.6 127.7 1052.4 113.7 1056.1 114.7 1057.3Z" fill="#232323"/>
<path d="M71.2 1059.3 72.7 1063.2 73.3 1066.4 73.0 1068.1 72.2 1068.2 58.2 1071.9 59.0 1071.8 59.2 1070.0 58.7 1066.9 57.2 1063.0Z" fill="#3a3a3a"/>
<path d="M65.7 1065.1 L66.3 1068.2 L66.0 1070.0" stroke="#7e7e7e" stroke-width="5.1" stroke-linecap="round" fill="none" opacity="0.45"/>
<path d="M78.5 1043.5 82.0 1044.8 85.4 1047.5 88.2 1051.2 90.4 1055.3 91.7 1059.1 92.0 1062.0 91.6 1063.4 90.7 1063.1 76.7 1066.7 77.6 1067.1 78.0 1065.7 77.6 1062.8 76.4 1059.0 74.2 1054.9 71.3 1051.2 68.0 1048.4 64.5 1047.2Z" fill="#3a3a3a"/>
<path d="M81.2 1053.1 L83.4 1057.2 L84.7 1061.0" stroke="#7e7e7e" stroke-width="5.1" stroke-linecap="round" fill="none" opacity="0.45"/>
<path d="M98.1 1038.7 101.6 1040.3 104.9 1043.4 107.6 1047.3 109.5 1051.4 110.6 1055.0 110.8 1057.5 110.2 1058.5 96.2 1062.2 96.7 1061.2 96.6 1058.7 95.5 1055.1 93.6 1051.0 90.9 1047.1 87.6 1044.0 84.1 1042.4Z" fill="#3a3a3a"/>
<path d="M100.6 1049.1 L102.5 1053.2 L103.6 1056.8" stroke="#7e7e7e" stroke-width="5.1" stroke-linecap="round" fill="none" opacity="0.45"/>
<path d="M114.3 1033.7 117.7 1034.0 121.2 1036.0 124.4 1039.3 126.9 1043.3 128.6 1047.4 129.5 1050.8 129.4 1053.0 128.8 1053.6 114.7 1057.3 115.4 1056.7 115.4 1054.5 114.6 1051.1 112.9 1047.0 110.3 1043.0 107.2 1039.7 103.7 1037.7 100.3 1037.4Z" fill="#3a3a3a"/>
<path d="M117.3 1041.2 L119.9 1045.2 L121.6 1049.2" stroke="#7e7e7e" stroke-width="5.1" stroke-linecap="round" fill="none" opacity="0.45"/>
<path d="M30.1 1055.4 30.7 1054.4 31.3 1052.5 32.2 1049.8 33.5 1046.8 35.4 1043.9 37.8 1041.7 40.6 1040.3 42.8 1040.2 35.0 1041.6 32.8 1041.7 30.0 1043.1 27.6 1045.4 25.7 1048.2 24.3 1051.2 23.4 1053.9 22.8 1055.8 22.3 1056.8Z" fill="#1f1f1f"/>
<path d="M24.8 1049.8 26.9 1052.1 28.4 1054.0 29.4 1055.2 30.1 1055.4 22.3 1056.8 21.6 1056.6 20.5 1055.5 19.0 1053.5 16.9 1051.2Z" fill="#333333"/>
<path d="M22.9 1052.8 L24.5 1054.7 L25.5 1055.9" stroke="#7a7a7a" stroke-width="2.8" stroke-linecap="round" fill="none" opacity="0.45"/>
<path d="M42.0 1052.0 C42.5 1051.2 43.7 1047.7 45.0 1047.0 C46.3 1046.3 49.2 1047.8 50.0 1048.0" fill="none" stroke="#b3b3b3" stroke-width="2.3" stroke-linecap="round" stroke-linejoin="round"/>
<path d="M58.3 1074.9 58.7 1073.4 59.2 1071.1 60.1 1068.4 61.4 1065.6 63.1 1063.1 65.3 1061.2 67.9 1060.2 70.7 1060.1 63.8 1061.5 61.0 1061.6 58.5 1062.6 56.3 1064.5 54.5 1067.0 53.2 1069.8 52.3 1072.5 51.8 1074.7 51.5 1076.2Z" fill="#6e6e6e"/>
<path d="M53.3 1069.7 55.1 1071.9 56.5 1073.8 57.4 1075.0 58.0 1075.4 58.3 1074.9 51.5 1076.2 51.1 1076.8 50.5 1076.4 49.6 1075.2 48.3 1073.3 46.4 1071.1Z" fill="#b3b3b3"/>
<path d="M53.1 1074.5 L54.0 1075.7 L54.5 1076.1" stroke="#cdcdcd" stroke-width="2.4" stroke-linecap="round" fill="none" opacity="0.45"/>
<path d="M70.7 1060.1 73.4 1061.0 74.9 1062.9 75.4 1065.3 68.6 1066.7 68.1 1064.2 66.6 1062.4 63.8 1061.5Z" fill="#b3b3b3"/>
<path d="M70.0 1061.7 L71.5 1063.6 L72.0 1066.0" stroke="#cdcdcd" stroke-width="2.4" stroke-linecap="round" fill="none" opacity="0.45"/>
<path d="M165.5 1085.8 163.7 1085.2 161.6 1083.0 159.6 1079.4 158.2 1074.8 157.9 1069.7 158.9 1065.0 161.1 1061.1 164.6 1058.6 156.0 1063.7 152.6 1066.2 150.3 1070.1 149.3 1074.9 149.7 1079.9 151.0 1084.5 153.0 1088.2 155.2 1090.4 156.9 1090.9Z" fill="#2f2f2f"/>
<path d="M185.5 1073.8 183.7 1073.2 181.6 1071.0 179.6 1067.4 178.2 1062.8 177.9 1057.7 169.3 1062.9 169.7 1067.9 171.0 1072.5 173.0 1076.2 175.2 1078.4 176.9 1078.9Z" fill="#2f2f2f"/>
<path d="M164.7 1079.1 166.2 1082.4 166.4 1084.8 165.5 1085.8 156.9 1090.9 157.9 1089.9 157.6 1087.5 156.1 1084.3Z" fill="#4c4c4c"/>
<path d="M161.9 1084.9 L162.2 1087.3 L161.2 1088.4" stroke="#8a8a8a" stroke-width="3.5" stroke-linecap="round" fill="none" opacity="0.45"/>
<path d="M164.6 1058.6 168.8 1057.6 173.5 1058.3 178.0 1060.5 181.8 1063.6 184.7 1067.1 186.2 1070.4 186.4 1072.8 185.5 1073.8 176.9 1078.9 177.9 1077.9 177.6 1075.5 176.1 1072.3 173.3 1068.7 169.4 1065.6 164.9 1063.5 160.3 1062.8 156.0 1063.7Z" fill="#4c4c4c"/>
<path d="M173.7 1063.0 L177.5 1066.2 L180.4 1069.7" stroke="#8a8a8a" stroke-width="3.5" stroke-linecap="round" fill="none" opacity="0.45"/>
<path d="M180.0 1072.0 C179.7 1073.7 180.0 1079.3 178.0 1082.0 C176.0 1084.7 170.5 1086.8 168.0 1088.0 C165.5 1089.2 163.8 1089.2 163.0 1089.5" fill="none" stroke="#4c4c4c" stroke-width="2.3" stroke-linecap="round" stroke-linejoin="round"/>
<path d="M-11.0 1032.0 C-8.9 1034.0 -2.7 1042.5 1.6 1043.9 C5.9 1045.3 11.4 1040.1 14.7 1040.6 C18.0 1041.1 19.0 1045.5 21.2 1047.1 C23.4 1048.7 26.6 1049.9 27.7 1050.4" fill="none" stroke="#e07818" stroke-width="2.6" stroke-linecap="round" stroke-linejoin="round"/>
<path d="M60.3 1021.0 C61.1 1018.8 62.2 1010.4 65.2 1008.0 C68.2 1005.6 75.5 1005.3 78.2 1006.4 C80.9 1007.5 78.2 1012.1 81.5 1014.5 C84.8 1016.9 92.4 1019.4 97.8 1021.0 C103.2 1022.6 109.7 1021.6 114.0 1024.3 C118.3 1027.0 119.8 1033.2 123.9 1037.3 C128.0 1041.4 133.3 1047.3 138.5 1048.7 C143.7 1050.1 151.2 1047.0 154.8 1045.5 C158.4 1044.0 159.1 1040.9 160.0 1040.0" fill="none" stroke="#d9982e" stroke-width="2.4" stroke-linecap="round" stroke-linejoin="round"/>
<path d="M117.3 1037.3 C119.5 1039.2 125.5 1046.5 130.4 1049.0 C135.3 1051.5 141.8 1052.5 146.7 1052.0 C151.6 1051.5 157.5 1047.0 159.7 1046.0" fill="none" stroke="#e08a2a" stroke-width="2.2" stroke-linecap="round" stroke-linejoin="round"/>
<path d="M79.0 916.0 C79.7 915.5 81.3 913.4 83.0 913.0 C84.7 912.6 87.5 912.8 89.0 913.5 C90.5 914.2 92.2 915.9 92.0 917.0 C91.8 918.1 89.7 919.6 88.0 920.0 C86.3 920.4 83.5 920.2 82.0 919.5 C80.5 918.8 79.5 916.6 79.0 916.0" fill="none" stroke="#2438ff" stroke-width="1.8" stroke-linecap="round" stroke-linejoin="round"/>
<path d="M89.0 916.0 C90.0 915.8 93.2 914.5 95.0 915.0 C96.8 915.5 99.2 918.3 100.0 919.0" fill="none" stroke="#222" stroke-width="2.2" stroke-linecap="round" stroke-linejoin="round"/>
<path d="M95.0 918.0 C95.8 917.8 98.5 916.3 100.0 917.0 C101.5 917.7 103.8 920.0 104.0 922.0 C104.2 924.0 102.2 927.2 101.0 929.0 C99.8 930.8 98.2 933.0 97.0 933.0 C95.8 933.0 94.2 930.8 94.0 929.0 C93.8 927.2 95.7 923.2 96.0 922.0" fill="none" stroke="#111" stroke-width="3.2" stroke-linecap="round" stroke-linejoin="round"/>
<path d="M96.0 921.0 C96.8 921.5 100.5 922.5 101.0 924.0 C101.5 925.5 99.3 929.0 99.0 930.0" fill="none" stroke="#555" stroke-width="2.4" stroke-linecap="round" stroke-linejoin="round"/>
<path d="M93.0 931.0 L89.0 935.0" fill="none" stroke="#e04040" stroke-width="2" stroke-linecap="round" stroke-linejoin="round"/>
<path d="M101.0 929.0 C101.8 928.7 104.2 927.3 106.0 927.0 C107.8 926.7 111.0 927.0 112.0 927.0" fill="none" stroke="#111" stroke-width="2.6" stroke-linecap="round" stroke-linejoin="round"/>
<path d="M112.0 927.0 C112.8 927.0 115.8 926.2 117.0 927.0 C118.2 927.8 118.3 930.2 119.0 932.0 C119.7 933.8 119.8 936.7 121.0 938.0 C122.2 939.3 124.2 939.7 126.0 940.0 C127.8 940.3 130.0 939.8 132.0 940.0 C134.0 940.2 137.0 940.8 138.0 941.0" fill="none" stroke="#e8641e" stroke-width="2.4" stroke-linecap="round" stroke-linejoin="round"/>
<path d="M117.0 923.0 L119.0 932.0" fill="none" stroke="#f08a20" stroke-width="2" stroke-linecap="round" stroke-linejoin="round"/>
<path d="M115.0 933.0 L123.0 932.0" fill="none" stroke="#e04040" stroke-width="1.8" stroke-linecap="round" stroke-linejoin="round"/>
<path d="M124.0 936.0 L124.0 945.0" fill="none" stroke="#e04040" stroke-width="1.8" stroke-linecap="round" stroke-linejoin="round"/>
<path d="M126.0 940.0 L131.0 940.0" fill="none" stroke="#2438ff" stroke-width="2.2" stroke-linecap="round" stroke-linejoin="round"/>
<path d="M134.0 935.0 L135.0 946.0" fill="none" stroke="#f08a20" stroke-width="2" stroke-linecap="round" stroke-linejoin="round"/>
<path d="M131.0 944.0 L139.0 944.0" fill="none" stroke="#e04040" stroke-width="1.8" stroke-linecap="round" stroke-linejoin="round"/>
<text x="32.0" y="918.2" font-size="27.5" font-weight="bold" font-family='"Liberation Sans", sans-serif'>ATP</text>
<text x="187.2" y="868.4" font-size="28.8" font-weight="bold" font-family='"Liberation Sans", sans-serif'><tspan font-family='"Liberation Serif", serif' font-weight="normal">α</tspan>C</text>
<path d="M305.3 869.3 C304.1 866.6 300.9 858.9 298.2 853.3 C295.5 847.7 290.9 839.3 289.3 835.6 C287.7 831.9 287.3 832.6 288.5 831.1 C289.7 829.6 293.1 829.2 296.5 826.7 C299.9 824.2 305.6 818.2 308.9 816.0 C312.1 813.8 313.3 813.3 316.0 813.3 C318.7 813.3 322.8 813.8 324.9 816.0 C327.0 818.2 328.5 823.4 328.5 826.7 C328.5 830.0 327.0 833.7 324.9 835.6 C322.8 837.5 317.8 836.4 316.0 838.2 C314.2 840.0 313.6 843.1 314.2 846.2 C314.8 849.3 318.7 855.1 319.6 856.9" fill="none" stroke="#8a8a8a" stroke-width="2.3" stroke-linecap="round" stroke-linejoin="round"/>
<path d="M372.9 858.7 C374.1 857.5 376.7 854.0 380.0 851.6 C383.3 849.2 389.9 846.0 392.5 844.4 C395.1 842.8 395.3 842.4 395.9 842.0" fill="none" stroke="#8a8a8a" stroke-width="2.3" stroke-linecap="round" stroke-linejoin="round"/>
<path d="M395.9 842.0 L401.3 840.9" fill="none" stroke="#111111" stroke-width="2.3" stroke-linecap="round" stroke-linejoin="round"/>
<path d="M401.3 840.9 C402.2 840.9 405.5 839.7 406.7 840.9 C407.9 842.1 408.8 844.5 408.5 848.0 C408.2 851.5 406.4 858.7 404.9 862.2 C403.4 865.8 402.6 867.5 399.6 869.3 C396.6 871.1 391.0 871.7 387.1 872.9 C383.2 874.1 378.3 875.8 376.5 876.4" fill="none" stroke="#8a8a8a" stroke-width="2.3" stroke-linecap="round" stroke-linejoin="round"/>
<path d="M333.8 838.2 C334.7 836.3 337.5 830.2 339.1 826.7 C340.7 823.2 342.1 818.4 343.6 816.9 C345.1 815.4 347.3 817.6 348.0 817.8" fill="none" stroke="#d9963a" stroke-width="2.3" stroke-linecap="round" stroke-linejoin="round"/>
<polygon points="344.9,820.0 355.7,824.5 361.3,827.8 360.6,829.1 367.9,828.4 364.9,821.7 364.1,823.0 358.1,819.5 346.9,815.0" fill="#e9a445"/>
<path d="M365.9 829.0 C364.7 830.0 360.4 833.0 358.9 835.0 C357.4 837.0 355.7 838.8 356.9 841.0 C358.1 843.2 362.9 846.0 365.9 848.0 C368.9 850.0 373.1 851.0 374.9 853.0 C376.7 855.0 376.6 858.8 376.9 860.0" fill="none" stroke="#d9963a" stroke-width="2.3" stroke-linecap="round" stroke-linejoin="round"/>
<polygon points="301.0,871.6 317.0,882.1 322.6,886.0 321.4,887.8 331.9,886.5 329.2,876.2 327.9,878.1 322.2,874.3 306.2,863.6" fill="#5e5e5e"/>
<polygon points="370.8,857.0 363.9,872.7 360.0,878.8 358.1,877.6 359.9,887.0 369.1,884.5 367.2,883.3 371.3,876.7 378.6,860.4" fill="#6c6c6c"/>
<polygon points="375.7,872.7 363.9,879.8 356.7,882.9 355.8,880.8 351.9,889.5 360.9,892.7 360.0,890.7 367.7,887.4 380.1,880.1" fill="#6a6a6a"/>
<polygon points="324.3,893.4 351.2,896.9 373.6,898.4 373.4,900.9 381.9,894.5 374.4,887.0 374.2,889.5 352.0,887.9 325.5,884.4" fill="#bdbdbd"/>
<polygon points="330.1,902.4 351.3,907.0 364.1,906.4 364.2,908.9 370.9,902.0 363.6,895.9 363.7,898.4 351.9,899.0 331.7,894.6" fill="#575757"/>
<path d="M365.2 916.6 366.2 914.8 368.2 912.4 370.9 909.9 374.2 907.8 377.7 906.4 381.0 906.2 383.7 907.2 385.6 909.4 379.8 905.4 378.0 903.2 375.2 902.2 372.0 902.4 368.5 903.8 365.2 905.9 362.4 908.4 360.5 910.8 359.5 912.6Z" fill="#9c9c9c"/>
<path d="M380.5 927.3 381.5 925.5 383.5 923.1 386.3 920.6 380.5 916.6 377.8 919.1 375.8 921.5 374.8 923.3Z" fill="#9c9c9c"/>
<path d="M370.3 909.4 368.9 912.9 367.3 915.6 366.0 917.1 365.2 917.5 365.2 916.6 359.5 912.6 359.4 913.5 360.2 913.1 361.6 911.6 363.2 908.9 364.5 905.4Z" fill="#c4c4c4"/>
<path d="M364.5 913.6 L363.1 915.1 L362.3 915.5" stroke="#d8d8d8" stroke-width="2.4" stroke-linecap="round" fill="none" opacity="0.45"/>
<path d="M385.6 909.4 386.5 912.5 386.5 916.3 385.6 920.1 384.2 923.6 382.7 926.2 381.3 927.8 380.5 928.1 380.5 927.3 374.8 923.3 374.8 924.1 375.6 923.8 376.9 922.2 378.5 919.6 379.9 916.1 380.7 912.3 380.8 908.5 379.8 905.4Z" fill="#c4c4c4"/>
<path d="M382.7 918.1 L381.4 921.6 L379.8 924.2" stroke="#d8d8d8" stroke-width="2.4" stroke-linecap="round" fill="none" opacity="0.45"/>
<polygon points="331.3,833.7 324.7,844.2 319.0,857.7 318.0,875.2 322.1,889.0 330.7,900.7 342.0,910.1 346.1,912.7 343.9,916.3 359.4,916.0 352.9,901.9 350.6,905.5 347.0,903.3 336.9,894.9 329.5,885.2 326.4,874.2 327.2,859.7 332.3,848.2 338.5,838.3" fill="#f28e2b"/>
<path d="M338.5 838.3 L332.3 848.2 L327.2 859.7 L326.4 874.2 L329.5 885.2 L336.9 894.9 L347.0 903.3 L350.6 905.5" stroke="#d0741a" stroke-width="1.6" fill="none"/>
<path d="M404.8 919.5 402.8 919.3 400.5 917.0 398.3 913.1 396.7 908.1 396.2 902.6 397.0 897.4 399.2 893.3 402.5 890.8 390.8 896.3 387.4 898.8 385.2 903.0 384.4 908.1 384.9 913.6 386.5 918.7 388.7 922.6 391.1 924.8 393.0 925.1Z" fill="#a4a4a4"/>
<path d="M422.3 911.2 420.2 910.6 417.9 908.1 415.7 904.0 414.3 898.8 414.0 893.3 415.0 888.2 417.4 884.3 421.0 882.1 409.2 887.7 405.7 889.9 403.3 893.8 402.2 898.8 402.5 904.3 404.0 909.5 406.1 913.6 408.5 916.2 410.5 916.8Z" fill="#a4a4a4"/>
<path d="M439.7 902.9 437.6 901.9 435.2 899.1 433.2 894.8 431.9 889.5 431.8 884.0 433.1 879.1 435.7 875.5 439.4 873.6 427.7 879.1 424.0 881.0 421.4 884.6 420.1 889.5 420.2 895.0 421.4 900.3 423.5 904.7 425.9 907.5 428.0 908.4Z" fill="#a4a4a4"/>
<path d="M457.2 894.5 455.0 893.2 452.6 890.1 440.9 895.6 443.2 898.8 445.4 900.0Z" fill="#a4a4a4"/>
<path d="M388.2 898.5 392.8 899.5 397.3 902.2 401.2 906.2 404.1 910.6 405.6 914.8 405.8 917.9 404.8 919.5 393.0 925.1 394.0 923.5 393.9 920.3 392.3 916.1 389.4 911.7 385.6 907.8 381.1 905.1 376.5 904.0Z" fill="#cdcdcd"/>
<path d="M395.3 908.9 L398.2 913.4 L399.7 917.5" stroke="#dedede" stroke-width="4.5" stroke-linecap="round" fill="none" opacity="0.45"/>
<path d="M402.5 890.8 406.8 890.1 411.4 891.5 415.8 894.4 419.5 898.5 422.2 902.9 423.5 907.0 423.5 909.9 422.3 911.2 410.5 916.8 411.7 915.5 411.8 912.5 410.4 908.5 407.8 904.0 404.0 900.0 399.6 897.0 395.0 895.7 390.8 896.3Z" fill="#cdcdcd"/>
<path d="M409.9 897.2 L413.7 901.3 L416.3 905.7" stroke="#dedede" stroke-width="4.5" stroke-linecap="round" fill="none" opacity="0.45"/>
<path d="M421.0 882.1 425.3 881.8 429.9 883.5 434.3 886.7 437.8 890.8 440.3 895.3 441.4 899.2 441.1 901.9 439.7 902.9 428.0 908.4 429.4 907.4 429.6 904.7 428.5 900.8 426.1 896.4 422.5 892.2 418.2 889.0 413.5 887.4 409.2 887.7Z" fill="#cdcdcd"/>
<path d="M428.4 889.4 L432.0 893.6 L434.4 898.0" stroke="#dedede" stroke-width="4.5" stroke-linecap="round" fill="none" opacity="0.45"/>
<path d="M439.4 873.6 443.8 873.6 448.4 875.5 452.7 878.9 456.1 883.2 458.3 887.6 459.2 891.3 458.7 893.8 457.2 894.5 445.4 900.0 447.0 899.3 447.4 896.9 446.6 893.1 444.4 888.7 440.9 884.5 436.7 881.1 432.1 879.2 427.7 879.1Z" fill="#cdcdcd"/>
<path d="M446.8 881.7 L450.2 886.0 L452.5 890.4" stroke="#dedede" stroke-width="4.5" stroke-linecap="round" fill="none" opacity="0.45"/>
<path d="M297.9 918.0 C298.6 918.5 300.4 920.5 301.9 921.0 C303.4 921.5 305.2 921.5 306.9 921.0 C308.6 920.5 311.1 918.5 311.9 918.0" fill="none" stroke="#111" stroke-width="2" stroke-linecap="round" stroke-linejoin="round"/>
<path d="M298.2 917.3 C297.6 918.5 295.4 921.4 294.7 924.4 C294.0 927.4 293.2 932.1 293.8 935.1 C294.4 938.1 295.7 940.1 298.2 942.2 C300.7 944.3 305.3 945.8 308.9 947.6 C312.5 949.4 316.9 951.2 319.6 952.9 C322.3 954.6 324.0 957.1 324.9 958.0" fill="none" stroke="#c8b48c" stroke-width="2.3" stroke-linecap="round" stroke-linejoin="round"/>
<path d="M321.5 936.3 C322.9 936.0 326.1 934.2 329.6 934.7 C333.1 935.2 341.1 937.4 342.7 939.6 C344.3 941.8 341.6 946.1 339.4 947.7 C337.2 949.3 331.2 949.0 329.6 949.3" fill="none" stroke="#e0e0e0" stroke-width="2.3" stroke-linecap="round" stroke-linejoin="round"/>
<path d="M343.9 943.0 C344.2 943.8 344.5 947.7 345.9 947.7 C347.3 947.7 350.3 944.1 352.5 942.8 C354.7 941.4 355.1 940.7 358.9 939.6 C362.7 938.5 371.0 936.7 375.3 936.3 C379.6 935.9 383.3 936.9 384.9 937.0" fill="none" stroke="#5a5a5a" stroke-width="2.3" stroke-linecap="round" stroke-linejoin="round"/>
<path d="M359.4 916.0 C361.1 917.5 366.0 922.0 369.9 925.0 C373.8 928.0 379.4 931.5 382.9 934.0 C386.4 936.5 388.6 937.7 390.9 940.0 C393.2 942.3 394.6 946.2 396.9 948.0 C399.2 949.8 403.6 950.5 404.9 951.0" fill="none" stroke="#c8b48c" stroke-width="2.3" stroke-linecap="round" stroke-linejoin="round"/>
<polygon points="283.3,959.2 296.3,949.1 312.4,947.9 323.0,951.6 322.4,953.5 330.9,950.0 326.2,942.1 325.5,944.0 313.4,940.1 293.5,941.9 278.5,952.8" fill="#b9a27c"/>
<polygon points="281.7,965.9 303.2,961.5 323.6,963.0 323.5,965.0 330.9,959.5 324.3,953.0 324.2,955.0 302.6,953.5 280.1,958.1" fill="#c4b090"/>
<path d="M278.9 962.0 C278.7 960.0 277.2 953.3 277.9 950.0 C278.6 946.7 280.6 943.7 282.9 942.0 C285.2 940.3 290.4 940.3 291.9 940.0" fill="none" stroke="#c4b090" stroke-width="2.3" stroke-linecap="round" stroke-linejoin="round"/>
<polygon points="328.1,949.1 319.2,955.5 316.4,957.3 315.6,956.0 312.9,963.0 320.4,963.6 319.6,962.4 322.6,960.5 331.7,953.9" fill="#111111"/>
<path d="M394.9 950.0 C396.1 950.0 399.7 950.3 401.9 950.0 C404.1 949.7 405.4 948.0 407.9 948.0 C410.4 948.0 414.1 949.2 416.9 950.0 C419.7 950.8 422.8 951.0 424.9 953.0 C427.0 955.0 429.0 958.8 429.4 962.0 C429.8 965.2 427.7 970.3 427.4 972.0" fill="none" stroke="#d9a050" stroke-width="2.3" stroke-linecap="round" stroke-linejoin="round"/>
<path d="M427.4 972.0 C429.5 972.5 435.1 974.4 439.9 975.0 C444.6 975.6 455.1 975.2 455.9 975.5 C456.7 975.8 448.4 976.1 444.9 976.5 C441.4 976.9 437.7 976.6 434.9 978.0 C432.1 979.4 429.9 983.0 427.9 985.0 C425.9 987.0 425.1 989.0 422.9 990.0 C420.7 991.0 417.9 990.8 414.9 991.0 C411.9 991.2 408.2 990.7 404.9 991.0 C401.6 991.3 398.1 992.0 394.9 993.0 C391.7 994.0 387.4 996.3 385.9 997.0" fill="none" stroke="#d9a050" stroke-width="2.3" stroke-linecap="round" stroke-linejoin="round"/>
<polygon points="402.9,946.0 410.9,945.0 407.9,952.0" fill="#d9a050"/>
<polygon points="428.9,978.0 438.9,984.0 430.9,989.0" fill="#d9a050"/>
<path d="M312.2 999.1 311.8 998.4 311.2 996.4 310.8 993.4 310.9 989.8 311.5 986.0 312.9 982.6 314.9 980.1 317.6 978.8 309.9 981.0 307.3 982.3 305.2 984.8 303.8 988.2 303.2 992.0 303.2 995.7 303.6 998.7 304.1 1000.6 304.6 1001.3Z" fill="#171717"/>
<path d="M308.6 990.7 310.6 993.8 311.8 996.5 312.3 998.4 312.2 999.1 304.6 1001.3 304.6 1000.6 304.1 998.7 302.9 996.0 300.9 993.0Z" fill="#262626"/>
<path d="M306.7 994.9 L307.9 997.6 L308.5 999.5" stroke="#717171" stroke-width="2.8" stroke-linecap="round" fill="none" opacity="0.45"/>
<path d="M317.6 978.8 320.6 978.8 323.7 980.1 326.5 982.5 328.9 985.5 329.9 988.7 330.6 991.4 331.1 993.1 323.5 995.3 323.0 993.7 322.2 991.0 321.2 987.7 318.9 984.7 316.0 982.4 312.9 981.0 309.9 981.0Z" fill="#262626"/>
<path d="M322.7 983.6 L325.1 986.6 L326.0 989.9" stroke="#717171" stroke-width="2.8" stroke-linecap="round" fill="none" opacity="0.45"/>
<path d="M338.9 987.0 337.3 984.7 335.9 980.8 335.0 975.7 335.1 970.2 336.1 965.2 338.2 961.3 341.2 959.1 344.8 958.9 331.7 962.4 328.1 962.6 325.2 964.8 323.1 968.7 322.0 973.7 322.0 979.2 322.8 984.3 324.2 988.2 325.8 990.5Z" fill="#2d2d2d"/>
<path d="M356.2 982.1 354.6 979.6 353.2 975.5 352.5 970.3 352.6 964.9 353.8 959.9 356.0 956.2 359.1 954.2 362.7 954.3 349.7 957.8 346.0 957.7 343.0 959.7 340.8 963.5 339.6 968.4 339.4 973.9 340.2 979.0 341.6 983.1 343.1 985.6Z" fill="#373737"/>
<path d="M374.9 977.9 373.5 977.2 371.9 974.5 370.6 970.2 370.0 965.0 370.2 959.6 371.5 954.7 373.8 951.2 377.0 949.4 363.9 952.9 360.8 954.7 358.5 958.2 357.2 963.1 356.9 968.5 357.6 973.7 358.9 978.0 360.5 980.7 361.9 981.4Z" fill="#4c4c4c"/>
<path d="M392.3 973.2 390.8 972.3 389.2 969.4 388.0 964.9 375.0 968.4 376.2 972.9 377.8 975.8 379.2 976.7Z" fill="#555555"/>
<path d="M339.6 977.6 340.8 982.1 340.9 985.5 340.2 987.2 338.9 987.0 325.8 990.5 327.2 990.7 327.9 989.0 327.7 985.6 326.5 981.1Z" fill="#4a4a4a"/>
<path d="M334.3 983.8 L334.4 987.2 L333.7 989.0" stroke="#898989" stroke-width="4.7" stroke-linecap="round" fill="none" opacity="0.45"/>
<path d="M344.8 958.9 348.5 960.6 352.1 964.1 355.1 968.6 357.3 973.5 358.3 977.9 358.4 981.1 357.6 982.6 356.2 982.1 343.1 985.6 344.5 986.1 345.4 984.6 345.3 981.4 344.2 977.0 342.1 972.1 339.1 967.6 335.5 964.1 331.7 962.4Z" fill="#5a5a5a"/>
<path d="M348.6 970.3 L350.7 975.2 L351.8 979.6" stroke="#939393" stroke-width="4.7" stroke-linecap="round" fill="none" opacity="0.45"/>
<path d="M362.7 954.3 366.5 956.3 370.0 959.8 372.9 964.5 374.9 969.3 375.9 973.6 375.8 976.7 374.9 977.9 361.9 981.4 362.8 980.2 362.9 977.1 361.9 972.8 359.9 968.0 357.0 963.4 353.4 959.8 349.7 957.8Z" fill="#7c7c7c"/>
<path d="M366.4 966.2 L368.4 971.1 L369.4 975.4" stroke="#a9a9a9" stroke-width="4.7" stroke-linecap="round" fill="none" opacity="0.45"/>
<path d="M377.0 949.4 380.6 949.7 384.4 951.9 387.9 955.6 390.7 960.3 392.6 965.1 393.4 969.3 393.3 972.2 392.3 973.2 379.2 976.7 380.2 975.7 380.4 972.8 379.6 968.7 377.7 963.8 374.9 959.2 371.4 955.4 367.6 953.2 363.9 952.9Z" fill="#8a8a8a"/>
<path d="M381.4 957.4 L384.2 962.1 L386.1 966.9" stroke="#b2b2b2" stroke-width="4.7" stroke-linecap="round" fill="none" opacity="0.45"/>
<polygon points="375.4,959.6 385.4,965.6 388.3,967.2 387.1,969.4 395.9,968.0 392.5,959.8 391.2,962.0 388.4,960.4 378.4,954.4" fill="#6a6a6a"/>
<path d="M391.6 968.9 C392.2 970.0 395.4 973.9 394.9 975.4 C394.3 976.9 392.0 977.1 388.3 978.0 C384.6 978.9 377.8 979.8 372.9 981.0 C368.0 982.2 362.9 984.2 358.9 985.2 C354.9 986.2 350.6 986.7 348.9 987.0" fill="none" stroke="#454545" stroke-width="2.6" stroke-linecap="round" stroke-linejoin="round"/>
<path d="M268.4 1009.6 267.2 1008.1 265.8 1005.0 264.6 1000.7 264.1 995.7 264.6 990.9 266.0 986.8 268.5 983.9 271.8 982.8 257.1 989.0 253.8 990.2 251.3 993.0 249.8 997.1 249.4 1001.9 249.9 1006.9 251.0 1011.2 252.4 1014.3 253.7 1015.8Z" fill="#696054"/>
<path d="M288.6 1000.9 287.3 999.1 285.9 995.7 284.9 991.3 284.5 986.3 285.1 981.5 286.7 977.6 289.4 975.0 292.8 974.2 278.1 980.4 274.6 981.3 272.0 983.8 270.3 987.8 269.8 992.5 270.1 997.5 271.2 1001.9 272.5 1005.3 273.8 1007.1Z" fill="#696054"/>
<path d="M308.8 992.1 307.4 990.0 306.1 986.5 305.1 981.9 304.9 976.9 305.7 972.2 307.5 968.5 310.3 966.2 313.8 965.6 299.1 971.8 295.5 972.4 292.7 974.7 290.9 978.4 290.1 983.1 290.4 988.1 291.3 992.7 292.7 996.2 294.0 998.3Z" fill="#696054"/>
<path d="M329.9 983.9 328.9 983.3 327.5 980.9 326.2 977.2 325.4 972.5 310.6 978.7 311.5 983.4 312.8 987.2 314.2 989.5 315.2 990.2Z" fill="#696054"/>
<path d="M258.6 993.6 262.4 996.8 265.5 1000.6 267.8 1004.4 268.9 1007.5 269.1 1009.4 268.4 1009.6 253.7 1015.8 254.4 1015.6 254.2 1013.7 253.0 1010.6 250.8 1006.8 247.6 1003.0 243.9 999.8Z" fill="#aa9c88"/>
<path d="M258.2 1003.7 L260.4 1007.5 L261.6 1010.6" stroke="#c7beb1" stroke-width="5.6" stroke-linecap="round" fill="none" opacity="0.45"/>
<path d="M271.8 982.8 275.7 983.3 279.7 985.5 283.3 988.8 286.3 992.6 288.4 996.4 289.4 999.3 289.4 1000.9 288.6 1000.9 273.8 1007.1 274.7 1007.1 274.7 1005.5 273.6 1002.6 271.6 998.9 268.6 995.0 264.9 991.7 261.0 989.6 257.1 989.0Z" fill="#aa9c88"/>
<path d="M276.0 991.9 L279.0 995.8 L281.0 999.5" stroke="#c7beb1" stroke-width="5.6" stroke-linecap="round" fill="none" opacity="0.45"/>
<path d="M292.8 974.2 296.7 975.0 300.7 977.4 304.2 980.8 307.1 984.7 309.0 988.4 309.8 991.1 309.7 992.5 308.8 992.1 294.0 998.3 294.9 998.7 295.1 997.3 294.3 994.6 292.4 990.9 289.5 987.0 285.9 983.6 282.0 981.2 278.1 980.4Z" fill="#aa9c88"/>
<path d="M296.9 983.9 L299.7 987.8 L301.6 991.5" stroke="#c7beb1" stroke-width="5.6" stroke-linecap="round" fill="none" opacity="0.45"/>
<path d="M313.8 965.6 317.7 966.7 321.7 969.3 325.1 972.9 327.8 976.8 329.6 980.3 330.2 982.9 329.9 983.9 315.2 990.2 315.5 989.1 314.8 986.5 313.1 983.0 310.4 979.1 306.9 975.5 303.0 972.9 299.1 971.8Z" fill="#aa9c88"/>
<path d="M317.8 976.0 L320.5 979.9 L322.2 983.4" stroke="#c7beb1" stroke-width="5.6" stroke-linecap="round" fill="none" opacity="0.45"/>
<path d="M270.8 1029.9 269.8 1029.0 268.8 1026.4 268.1 1022.5 268.1 1017.9 268.9 1013.2 270.5 1009.1 273.0 1006.3 276.2 1005.1 262.5 1008.2 259.4 1009.4 256.9 1012.2 255.2 1016.3 254.4 1021.0 254.5 1025.6 255.1 1029.5 256.1 1032.1 257.1 1033.0Z" fill="#666666"/>
<path d="M289.6 1025.4 288.6 1023.9 287.6 1020.8 287.2 1016.6 287.4 1011.9 288.5 1007.3 290.4 1003.6 293.2 1001.3 296.5 1000.8 282.8 1003.9 279.5 1004.4 276.8 1006.7 274.8 1010.4 273.7 1015.0 273.5 1019.7 274.0 1024.0 274.9 1027.0 275.9 1028.5Z" fill="#666666"/>
<path d="M308.4 1020.7 307.3 1018.7 293.7 1021.8 294.7 1023.9Z" fill="#666666"/>
<path d="M270.4 1022.8 271.3 1026.4 271.4 1028.9 270.8 1029.9 257.1 1033.0 257.7 1032.0 257.6 1029.5 256.7 1025.9Z" fill="#a6a6a6"/>
<path d="M264.5 1028.0 L264.5 1030.5 L263.9 1031.4" stroke="#c5c5c5" stroke-width="4.9" stroke-linecap="round" fill="none" opacity="0.45"/>
<path d="M276.2 1005.1 279.6 1005.7 283.0 1008.0 286.0 1011.5 288.4 1015.7 289.9 1019.8 290.5 1023.1 290.4 1025.1 289.6 1025.4 275.9 1028.5 276.7 1028.2 276.9 1026.2 276.3 1022.9 274.8 1018.8 272.4 1014.6 269.4 1011.1 266.0 1008.8 262.5 1008.2Z" fill="#a6a6a6"/>
<path d="M279.2 1013.1 L281.6 1017.2 L283.1 1021.3" stroke="#c5c5c5" stroke-width="4.9" stroke-linecap="round" fill="none" opacity="0.45"/>
<path d="M296.5 1000.8 299.9 1002.0 303.3 1004.8 306.1 1008.6 308.2 1012.8 309.4 1016.7 309.7 1019.6 309.3 1021.1 308.4 1020.7 294.7 1023.9 295.6 1024.2 296.0 1022.7 295.7 1019.8 294.5 1015.9 292.4 1011.7 289.6 1007.9 286.3 1005.1 282.8 1003.9Z" fill="#a6a6a6"/>
<path d="M299.3 1010.1 L301.3 1014.4 L302.5 1018.3" stroke="#c5c5c5" stroke-width="4.9" stroke-linecap="round" fill="none" opacity="0.45"/>
<polygon points="253.1,1025.1 256.2,1035.5 261.3,1045.8 268.5,1042.2 263.6,1032.5 260.7,1022.9" fill="#a8a8a8"/>
<path d="M322.5 1012.6 322.0 1011.7 321.7 1009.3 321.8 1005.8 322.6 1001.6 324.1 997.5 326.3 994.0 329.1 991.6 332.3 990.9 319.3 991.8 316.2 992.6 313.4 994.9 311.1 998.4 309.6 1002.6 308.8 1006.7 308.7 1010.3 309.0 1012.7 309.6 1013.6Z" fill="#a0a0a0"/>
<path d="M344.0 1011.0 343.5 1009.8 343.2 1007.1 343.5 1003.4 344.4 999.2 346.1 995.1 348.5 991.8 351.4 989.8 354.6 989.3 341.6 990.3 338.4 990.7 335.5 992.7 333.1 996.0 331.4 1000.1 330.5 1004.3 330.3 1008.0 330.5 1010.7 331.0 1011.9Z" fill="#a0a0a0"/>
<path d="M365.5 1009.3 365.0 1007.7 364.8 1004.8 365.2 1000.9 366.3 996.7 368.1 992.7 370.6 989.7 373.6 988.0 376.8 987.9 363.9 988.8 360.6 988.9 357.6 990.6 355.1 993.7 353.3 997.6 352.2 1001.9 351.8 1005.8 352.0 1008.7 352.5 1010.2Z" fill="#a0a0a0"/>
<path d="M386.9 1007.5 386.5 1005.6 386.4 1002.5 386.9 998.5 388.2 994.2 390.2 990.4 392.8 987.6 395.9 986.2 397.7 986.6 384.7 987.5 382.9 987.2 379.8 988.6 377.2 991.4 375.2 995.2 374.0 999.4 373.5 1003.4 373.5 1006.6 374.0 1008.5Z" fill="#a0a0a0"/>
<path d="M321.1 1002.2 322.4 1006.2 323.0 1009.6 322.9 1011.8 322.5 1012.6 309.6 1013.6 310.0 1012.8 310.0 1010.5 309.4 1007.1 308.1 1003.1Z" fill="#c8c8c8"/>
<path d="M315.9 1006.6 L316.5 1010.0 L316.4 1012.3" stroke="#dbdbdb" stroke-width="4.5" stroke-linecap="round" fill="none" opacity="0.45"/>
<path d="M332.3 990.9 335.6 991.7 338.6 994.0 341.1 997.5 343.0 1001.5 344.1 1005.4 344.6 1008.6 344.4 1010.6 344.0 1011.0 331.0 1011.9 331.5 1011.5 331.6 1009.5 331.2 1006.3 330.0 1002.4 328.2 998.4 325.6 995.0 322.6 992.6 319.3 991.8Z" fill="#c8c8c8"/>
<path d="M334.6 997.9 L336.5 1001.9 L337.7 1005.8" stroke="#dbdbdb" stroke-width="4.5" stroke-linecap="round" fill="none" opacity="0.45"/>
<path d="M354.6 989.3 357.8 990.5 360.7 993.1 363.2 996.7 364.9 1000.7 365.9 1004.5 366.2 1007.5 365.9 1009.2 365.5 1009.3 352.5 1010.2 353.0 1010.1 353.2 1008.5 352.9 1005.5 351.9 1001.7 350.2 997.6 347.8 994.0 344.8 991.4 341.6 990.3Z" fill="#c8c8c8"/>
<path d="M356.7 997.2 L358.4 1001.2 L359.4 1005.0" stroke="#dbdbdb" stroke-width="4.5" stroke-linecap="round" fill="none" opacity="0.45"/>
<path d="M376.8 987.9 380.0 989.4 382.9 992.2 385.2 996.0 386.7 1000.0 387.6 1003.7 387.7 1006.4 387.4 1007.8 386.9 1007.5 374.0 1008.5 374.5 1008.7 374.8 1007.4 374.6 1004.6 373.8 1000.9 372.2 996.9 369.9 993.2 367.1 990.3 363.9 988.8Z" fill="#c8c8c8"/>
<path d="M378.7 996.4 L380.3 1000.5 L381.1 1004.2" stroke="#dbdbdb" stroke-width="4.5" stroke-linecap="round" fill="none" opacity="0.45"/>
<path d="M320.9 1035.1 319.4 1033.8 318.0 1030.5 317.1 1025.7 317.0 1020.1 317.8 1014.6 319.7 1009.9 322.5 1006.7 326.1 1005.5 311.4 1008.7 307.9 1009.9 305.0 1013.1 303.1 1017.7 302.3 1023.3 302.5 1028.9 303.4 1033.6 304.8 1037.0 306.2 1038.3Z" fill="#121212"/>
<path d="M340.0 1030.9 338.5 1029.3 337.2 1025.8 336.3 1020.9 336.2 1015.3 337.2 1009.8 339.2 1005.3 342.1 1002.3 345.7 1001.4 331.0 1004.6 327.4 1005.5 324.5 1008.5 322.5 1013.0 321.6 1018.5 321.6 1024.1 322.5 1029.0 323.9 1032.5 325.3 1034.1Z" fill="#121212"/>
<path d="M359.1 1026.7 357.6 1024.9 356.3 1021.2 355.5 1016.2 355.5 1010.6 356.6 1005.1 358.7 1000.7 361.7 998.0 365.3 997.2 350.7 1000.4 347.0 1001.1 344.0 1003.9 341.9 1008.3 340.8 1013.8 340.8 1019.4 341.6 1024.4 342.9 1028.1 344.4 1029.9Z" fill="#121212"/>
<path d="M378.2 1022.4 376.7 1020.4 375.4 1016.6 374.7 1011.5 374.8 1005.8 376.0 1000.5 378.2 996.2 381.3 993.6 384.6 993.1 370.0 996.3 366.6 996.8 363.5 999.4 361.3 1003.6 360.1 1009.0 360.0 1014.6 360.7 1019.8 362.0 1023.6 363.5 1025.6Z" fill="#121212"/>
<path d="M317.5 1017.4 320.1 1022.4 321.8 1027.4 322.4 1031.7 322.0 1034.4 320.9 1035.1 306.2 1038.3 307.3 1037.6 307.7 1034.9 307.1 1030.6 305.5 1025.6 302.9 1020.6Z" fill="#141414"/>
<path d="M314.5 1029.0 L315.0 1033.3 L314.6 1036.0" stroke="#666666" stroke-width="5.2" stroke-linecap="round" fill="none" opacity="0.45"/>
<path d="M326.1 1005.5 329.9 1006.5 333.7 1009.4 337.1 1013.7 339.6 1018.8 341.1 1023.7 341.6 1027.8 341.1 1030.4 340.0 1030.9 325.3 1034.1 326.5 1033.6 326.9 1031.0 326.5 1026.9 324.9 1021.9 322.4 1016.9 319.1 1012.6 315.3 1009.7 311.4 1008.7Z" fill="#141414"/>
<path d="M329.7 1015.3 L332.3 1020.4 L333.8 1025.3" stroke="#666666" stroke-width="5.2" stroke-linecap="round" fill="none" opacity="0.45"/>
<path d="M345.7 1001.4 349.6 1002.5 353.3 1005.6 356.6 1010.0 359.0 1015.1 360.4 1020.0 360.8 1024.0 360.3 1026.3 359.1 1026.7 344.4 1029.9 345.6 1029.5 346.2 1027.2 345.8 1023.2 344.4 1018.3 341.9 1013.2 338.7 1008.8 334.9 1005.7 331.0 1004.6Z" fill="#141414"/>
<path d="M349.3 1011.6 L351.7 1016.7 L353.1 1021.6" stroke="#666666" stroke-width="5.2" stroke-linecap="round" fill="none" opacity="0.45"/>
<path d="M365.3 997.2 369.2 998.6 372.9 1001.8 376.1 1006.3 378.5 1011.5 379.8 1016.3 380.0 1020.2 379.4 1022.3 378.2 1022.4 363.5 1025.6 364.7 1025.5 365.4 1023.3 365.1 1019.5 363.8 1014.6 361.5 1009.5 358.3 1005.0 354.6 1001.8 350.7 1000.4Z" fill="#141414"/>
<path d="M368.8 1007.9 L371.1 1013.1 L372.4 1017.9" stroke="#666666" stroke-width="5.2" stroke-linecap="round" fill="none" opacity="0.45"/>
<path d="M384.6 993.1 385.1 995.5 370.5 998.6 370.0 996.3Z" fill="#141414"/>
<path d="M377.3 994.7 L377.8 997.0" stroke="#666666" stroke-width="5.2" stroke-linecap="round" fill="none" opacity="0.45"/>
<path d="M430.1 1031.9 427.9 1031.3 425.6 1028.8 423.5 1024.9 422.2 1020.0 422.1 1014.8 423.4 1010.1 426.0 1006.5 429.6 1004.5 420.7 1009.0 417.0 1011.0 414.4 1014.6 413.2 1019.3 413.3 1024.4 414.6 1029.3 416.6 1033.3 419.0 1035.7 421.1 1036.4Z" fill="#585858"/>
<path d="M446.8 1023.4 444.6 1022.3 442.2 1019.5 440.3 1015.3 439.3 1010.3 439.4 1005.2 441.0 1000.7 443.8 997.4 447.6 995.7 438.7 1000.2 434.9 1001.9 432.0 1005.2 430.5 1009.7 430.3 1014.8 431.4 1019.8 433.3 1024.0 435.6 1026.8 437.9 1027.8Z" fill="#585858"/>
<path d="M430.6 1024.5 431.7 1028.2 431.4 1030.8 430.1 1031.9 421.1 1036.4 422.5 1035.3 422.8 1032.6 421.7 1029.0Z" fill="#8e8e8e"/>
<path d="M427.2 1030.4 L427.0 1033.1 L425.6 1034.2" stroke="#b5b5b5" stroke-width="3.5" stroke-linecap="round" fill="none" opacity="0.45"/>
<path d="M429.6 1004.5 434.0 1004.3 438.5 1005.8 442.7 1008.8 446.0 1012.7 448.1 1016.7 448.9 1020.3 448.4 1022.6 446.8 1023.4 437.9 1027.8 439.5 1027.1 440.0 1024.7 439.2 1021.2 437.1 1017.2 433.7 1013.3 429.6 1010.3 425.0 1008.8 420.7 1009.0Z" fill="#8e8e8e"/>
<path d="M438.2 1011.1 L441.5 1014.9 L443.7 1019.0" stroke="#b5b5b5" stroke-width="3.5" stroke-linecap="round" fill="none" opacity="0.45"/>
<path d="M447.6 995.7 450.2 996.8 451.9 1000.1 454.0 1004.3 445.0 1008.8 442.9 1004.6 441.3 1001.3 438.7 1000.2Z" fill="#8e8e8e"/>
<path d="M445.7 999.1 L447.4 1002.4 L449.5 1006.6" stroke="#b5b5b5" stroke-width="3.5" stroke-linecap="round" fill="none" opacity="0.45"/>
<path d="M407.9 991.7 C409.4 992.4 413.4 994.5 416.9 996.0 C420.4 997.5 426.9 1000.2 428.9 1001.0" fill="none" stroke="#848484" stroke-width="2.3" stroke-linecap="round" stroke-linejoin="round"/>
<path d="M389.7 1019.7 389.8 1017.9 390.1 1015.2 390.8 1012.0 392.1 1008.7 393.9 1005.8 396.3 1003.6 399.0 1002.5 402.0 1002.7 395.1 1003.8 392.1 1003.7 389.4 1004.8 387.0 1006.9 385.2 1009.9 383.9 1013.2 383.2 1016.4 382.9 1019.1 382.8 1020.8Z" fill="#70552d"/>
<path d="M385.9 1012.8 387.6 1015.6 388.8 1018.1 389.4 1019.7 389.7 1020.3 389.7 1019.7 382.8 1020.8 382.8 1021.5 382.5 1020.9 381.9 1019.2 380.7 1016.8 379.0 1014.0Z" fill="#b58a4a"/>
<path d="M385.3 1018.7 L386.0 1020.3 L386.2 1020.9" stroke="#ceb289" stroke-width="2.4" stroke-linecap="round" fill="none" opacity="0.45"/>
<path d="M402.0 1002.7 404.9 1003.9 405.8 1006.4 406.4 1009.4 399.4 1010.6 398.9 1007.6 398.0 1005.1 395.1 1003.8Z" fill="#b58a4a"/>
<path d="M401.5 1004.5 L402.4 1007.0 L402.9 1010.0" stroke="#ceb289" stroke-width="2.4" stroke-linecap="round" fill="none" opacity="0.45"/>
<polygon points="391.9,1019.8 397.7,1029.3 399.5,1037.8 406.3,1036.2 404.1,1026.7 397.9,1016.2" fill="#e0c088"/>
<polygon points="389.9,1031.0 405.9,1033.0 404.9,1050.0 394.9,1047.0" fill="#f6ad55"/>
<path d="M417.7 1052.5 415.7 1052.6 413.7 1050.6 411.4 1047.2 408.8 1043.2 407.4 1038.4 407.5 1033.5 409.1 1029.2 412.0 1026.2 404.1 1031.5 401.2 1034.5 399.6 1038.7 399.5 1043.7 400.8 1048.5 403.5 1052.5 405.8 1055.9 407.8 1057.8 409.8 1057.8Z" fill="#8c5f1f"/>
<path d="M433.7 1041.8 431.7 1041.9 429.2 1040.3 426.6 1037.1 424.5 1032.7 423.4 1027.7 423.5 1022.8 415.6 1028.1 415.5 1033.0 416.6 1038.0 418.7 1042.3 421.3 1045.5 423.8 1047.2 425.8 1047.1Z" fill="#8c5f1f"/>
<path d="M418.2 1047.9 418.6 1050.8 417.7 1052.5 409.8 1057.8 410.7 1056.1 410.3 1053.2Z" fill="#e39a32"/>
<path d="M414.2 1050.6 L414.6 1053.5 L413.7 1055.1" stroke="#ecbd79" stroke-width="3.3" stroke-linecap="round" fill="none" opacity="0.45"/>
<path d="M412.0 1026.2 416.0 1024.8 420.5 1025.1 425.1 1027.0 429.2 1030.0 432.3 1033.7 434.2 1037.3 434.6 1040.2 433.7 1041.8 425.8 1047.1 426.7 1045.4 426.3 1042.5 424.4 1038.9 421.3 1035.3 417.2 1032.3 412.6 1030.4 408.1 1030.1 404.1 1031.5Z" fill="#e39a32"/>
<path d="M421.1 1029.6 L425.2 1032.7 L428.4 1036.3" stroke="#ecbd79" stroke-width="3.3" stroke-linecap="round" fill="none" opacity="0.45"/>
<polygon points="368.9,1033.0 387.9,1036.0 385.9,1044.0 370.9,1041.0" fill="#c4c4c4"/>
<path d="M314.9 1066.7 C317.3 1066.7 324.4 1067.8 329.6 1066.7 C334.8 1065.6 341.0 1061.8 345.9 1060.2 C350.8 1058.6 355.1 1056.5 358.9 1057.0 C362.7 1057.5 364.7 1060.4 368.8 1063.4 C372.9 1066.4 378.0 1071.0 383.4 1074.8 C388.8 1078.6 397.3 1083.8 401.4 1086.2 C405.5 1088.7 406.8 1089.0 407.9 1089.5" fill="none" stroke="#848484" stroke-width="2.3" stroke-linecap="round" stroke-linejoin="round"/>
<path d="M317.1 1068.2 316.0 1066.6 315.0 1063.4 314.4 1059.1 314.6 1054.4 315.6 1049.9 317.5 1046.3 320.2 1044.0 323.4 1043.5 309.4 1047.2 306.1 1047.7 303.5 1049.9 301.5 1053.6 300.5 1058.1 300.4 1062.8 301.0 1067.1 302.0 1070.3 303.1 1071.9Z" fill="#232323"/>
<path d="M335.6 1063.1 334.5 1061.0 333.6 1057.5 333.1 1053.1 333.5 1048.3 334.7 1044.0 336.8 1040.6 339.7 1038.8 343.0 1038.7 329.0 1042.4 325.7 1042.5 322.8 1044.3 320.7 1047.7 319.5 1052.0 319.1 1056.7 319.6 1061.2 320.5 1064.7 321.6 1066.7Z" fill="#232323"/>
<path d="M355.1 1058.5 354.1 1057.8 353.0 1055.3 352.2 1051.6 351.9 1047.0 352.5 1042.3 353.9 1038.1 356.2 1035.1 359.2 1033.7 345.2 1037.4 342.2 1038.8 339.9 1041.8 338.4 1045.9 337.9 1050.7 338.2 1055.2 339.0 1059.0 340.1 1061.5 341.1 1062.2Z" fill="#232323"/>
<path d="M373.7 1053.6 372.6 1052.4 358.6 1056.1 359.6 1057.3Z" fill="#232323"/>
<path d="M316.1 1059.3 317.6 1063.2 318.2 1066.4 317.9 1068.1 317.1 1068.2 303.1 1071.9 303.9 1071.8 304.1 1070.0 303.6 1066.9 302.1 1063.0Z" fill="#3a3a3a"/>
<path d="M310.6 1065.1 L311.2 1068.2 L310.9 1070.0" stroke="#7e7e7e" stroke-width="5.1" stroke-linecap="round" fill="none" opacity="0.45"/>
<path d="M323.4 1043.5 326.9 1044.8 330.3 1047.5 333.1 1051.2 335.3 1055.3 336.6 1059.1 336.9 1062.0 336.5 1063.4 335.6 1063.1 321.6 1066.7 322.5 1067.1 322.9 1065.7 322.5 1062.8 321.3 1059.0 319.1 1054.9 316.2 1051.2 312.9 1048.4 309.4 1047.2Z" fill="#3a3a3a"/>
<path d="M326.1 1053.1 L328.3 1057.2 L329.6 1061.0" stroke="#7e7e7e" stroke-width="5.1" stroke-linecap="round" fill="none" opacity="0.45"/>
<path d="M343.0 1038.7 346.5 1040.3 349.8 1043.4 352.5 1047.3 354.4 1051.4 355.5 1055.0 355.7 1057.5 355.1 1058.5 341.1 1062.2 341.6 1061.2 341.5 1058.7 340.4 1055.1 338.5 1051.0 335.8 1047.1 332.5 1044.0 329.0 1042.4Z" fill="#3a3a3a"/>
<path d="M345.5 1049.1 L347.4 1053.2 L348.5 1056.8" stroke="#7e7e7e" stroke-width="5.1" stroke-linecap="round" fill="none" opacity="0.45"/>
<path d="M359.2 1033.7 362.6 1034.0 366.1 1036.0 369.3 1039.3 371.8 1043.3 373.5 1047.4 374.4 1050.8 374.3 1053.0 373.7 1053.6 359.6 1057.3 360.3 1056.7 360.3 1054.5 359.5 1051.1 357.8 1047.0 355.2 1043.0 352.1 1039.7 348.6 1037.7 345.2 1037.4Z" fill="#3a3a3a"/>
<path d="M362.2 1041.2 L364.8 1045.2 L366.5 1049.2" stroke="#7e7e7e" stroke-width="5.1" stroke-linecap="round" fill="none" opacity="0.45"/>
<path d="M275.0 1055.4 275.6 1054.4 276.2 1052.5 277.1 1049.8 278.4 1046.8 280.3 1043.9 282.7 1041.7 285.5 1040.3 287.7 1040.2 279.9 1041.6 277.7 1041.7 274.9 1043.1 272.5 1045.4 270.6 1048.2 269.2 1051.2 268.3 1053.9 267.7 1055.8 267.2 1056.8Z" fill="#1f1f1f"/>
<path d="M269.7 1049.8 271.8 1052.1 273.3 1054.0 274.3 1055.2 275.0 1055.4 267.2 1056.8 266.5 1056.6 265.4 1055.5 263.9 1053.5 261.8 1051.2Z" fill="#333333"/>
<path d="M267.8 1052.8 L269.4 1054.7 L270.4 1055.9" stroke="#7a7a7a" stroke-width="2.8" stroke-linecap="round" fill="none" opacity="0.45"/>
<path d="M286.9 1052.0 C287.4 1051.2 288.6 1047.7 289.9 1047.0 C291.2 1046.3 294.1 1047.8 294.9 1048.0" fill="none" stroke="#9a9a9a" stroke-width="2.3" stroke-linecap="round" stroke-linejoin="round"/>
<path d="M303.2 1074.9 303.6 1073.4 304.1 1071.1 305.0 1068.4 306.3 1065.6 308.0 1063.1 310.2 1061.2 312.8 1060.2 315.6 1060.1 308.7 1061.5 305.9 1061.6 303.4 1062.6 301.2 1064.5 299.4 1067.0 298.1 1069.8 297.2 1072.5 296.7 1074.7 296.4 1076.2Z" fill="#5f5f5f"/>
<path d="M298.2 1069.7 300.0 1071.9 301.4 1073.8 302.3 1075.0 302.9 1075.4 303.2 1074.9 296.4 1076.2 296.0 1076.8 295.4 1076.4 294.5 1075.2 293.2 1073.3 291.3 1071.1Z" fill="#9a9a9a"/>
<path d="M298.0 1074.5 L298.9 1075.7 L299.4 1076.1" stroke="#bdbdbd" stroke-width="2.4" stroke-linecap="round" fill="none" opacity="0.45"/>
<path d="M315.6 1060.1 318.3 1061.0 319.8 1062.9 320.3 1065.3 313.5 1066.7 313.0 1064.2 311.5 1062.4 308.7 1061.5Z" fill="#9a9a9a"/>
<path d="M314.9 1061.7 L316.4 1063.6 L316.9 1066.0" stroke="#bdbdbd" stroke-width="2.4" stroke-linecap="round" fill="none" opacity="0.45"/>
<path d="M410.4 1085.8 408.6 1085.2 406.5 1083.0 404.5 1079.4 403.1 1074.8 402.8 1069.7 403.8 1065.0 406.0 1061.1 409.5 1058.6 400.9 1063.7 397.5 1066.2 395.2 1070.1 394.2 1074.9 394.6 1079.9 395.9 1084.5 397.9 1088.2 400.1 1090.4 401.8 1090.9Z" fill="#555555"/>
<path d="M430.4 1073.8 428.6 1073.2 426.5 1071.0 424.5 1067.4 423.1 1062.8 422.8 1057.7 414.2 1062.9 414.6 1067.9 415.9 1072.5 417.9 1076.2 420.1 1078.4 421.8 1078.9Z" fill="#555555"/>
<path d="M409.6 1079.1 411.1 1082.4 411.3 1084.8 410.4 1085.8 401.8 1090.9 402.8 1089.9 402.5 1087.5 401.0 1084.3Z" fill="#8a8a8a"/>
<path d="M406.8 1084.9 L407.1 1087.3 L406.1 1088.4" stroke="#b2b2b2" stroke-width="3.5" stroke-linecap="round" fill="none" opacity="0.45"/>
<path d="M409.5 1058.6 413.7 1057.6 418.4 1058.3 422.9 1060.5 426.7 1063.6 429.6 1067.1 431.1 1070.4 431.3 1072.8 430.4 1073.8 421.8 1078.9 422.8 1077.9 422.5 1075.5 421.0 1072.3 418.2 1068.7 414.3 1065.6 409.8 1063.5 405.2 1062.8 400.9 1063.7Z" fill="#8a8a8a"/>
<path d="M418.6 1063.0 L422.4 1066.2 L425.3 1069.7" stroke="#b2b2b2" stroke-width="3.5" stroke-linecap="round" fill="none" opacity="0.45"/>
<path d="M424.9 1072.0 C424.6 1073.7 424.9 1079.3 422.9 1082.0 C420.9 1084.7 415.4 1086.8 412.9 1088.0 C410.4 1089.2 408.7 1089.2 407.9 1089.5" fill="none" stroke="#8a8a8a" stroke-width="2.3" stroke-linecap="round" stroke-linejoin="round"/>
<path d="M233.9 1032.0 C236.0 1034.0 242.2 1042.5 246.5 1043.9 C250.8 1045.3 256.3 1040.1 259.6 1040.6 C262.9 1041.1 263.9 1045.5 266.1 1047.1 C268.3 1048.7 271.5 1049.9 272.6 1050.4" fill="none" stroke="#e07818" stroke-width="2.6" stroke-linecap="round" stroke-linejoin="round"/>
<path d="M305.2 1021.0 C306.0 1018.8 307.1 1010.4 310.1 1008.0 C313.1 1005.6 320.4 1005.3 323.1 1006.4 C325.8 1007.5 323.1 1012.1 326.4 1014.5 C329.7 1016.9 337.3 1019.4 342.7 1021.0 C348.1 1022.6 354.5 1021.6 358.9 1024.3 C363.2 1027.0 364.7 1033.2 368.8 1037.3 C372.9 1041.4 378.2 1047.3 383.4 1048.7 C388.5 1050.1 396.1 1047.0 399.7 1045.5 C403.3 1044.0 404.0 1040.9 404.9 1040.0" fill="none" stroke="#d9982e" stroke-width="2.4" stroke-linecap="round" stroke-linejoin="round"/>
<path d="M362.2 1037.3 C364.4 1039.2 370.4 1046.5 375.3 1049.0 C380.2 1051.5 386.7 1052.5 391.6 1052.0 C396.5 1051.5 402.4 1047.0 404.6 1046.0" fill="none" stroke="#e08a2a" stroke-width="2.2" stroke-linecap="round" stroke-linejoin="round"/>
<path d="M323.9 916.0 C324.6 915.5 326.2 913.4 327.9 913.0 C329.6 912.6 332.4 912.8 333.9 913.5 C335.4 914.2 337.1 915.9 336.9 917.0 C336.7 918.1 334.6 919.6 332.9 920.0 C331.2 920.4 328.4 920.2 326.9 919.5 C325.4 918.8 324.4 916.6 323.9 916.0" fill="none" stroke="#2438ff" stroke-width="1.8" stroke-linecap="round" stroke-linejoin="round"/>
<path d="M333.9 916.0 C334.9 915.8 338.1 914.5 339.9 915.0 C341.7 915.5 344.1 918.3 344.9 919.0" fill="none" stroke="#222" stroke-width="2.2" stroke-linecap="round" stroke-linejoin="round"/>
<path d="M339.9 918.0 C340.7 917.8 343.4 916.3 344.9 917.0 C346.4 917.7 348.7 920.0 348.9 922.0 C349.1 924.0 347.1 927.2 345.9 929.0 C344.7 930.8 343.1 933.0 341.9 933.0 C340.7 933.0 339.1 930.8 338.9 929.0 C338.7 927.2 340.6 923.2 340.9 922.0" fill="none" stroke="#111" stroke-width="3.2" stroke-linecap="round" stroke-linejoin="round"/>
<path d="M340.9 921.0 C341.7 921.5 345.4 922.5 345.9 924.0 C346.4 925.5 344.2 929.0 343.9 930.0" fill="none" stroke="#555" stroke-width="2.4" stroke-linecap="round" stroke-linejoin="round"/>
<path d="M337.9 931.0 L333.9 935.0" fill="none" stroke="#e04040" stroke-width="2" stroke-linecap="round" stroke-linejoin="round"/>
<path d="M345.9 929.0 C346.7 928.7 349.1 927.3 350.9 927.0 C352.7 926.7 355.9 927.0 356.9 927.0" fill="none" stroke="#111" stroke-width="2.6" stroke-linecap="round" stroke-linejoin="round"/>
<path d="M356.9 927.0 C357.7 927.0 360.7 926.2 361.9 927.0 C363.1 927.8 363.2 930.2 363.9 932.0 C364.6 933.8 364.7 936.7 365.9 938.0 C367.1 939.3 369.1 939.7 370.9 940.0 C372.7 940.3 374.9 939.8 376.9 940.0 C378.9 940.2 381.9 940.8 382.9 941.0" fill="none" stroke="#e8641e" stroke-width="2.4" stroke-linecap="round" stroke-linejoin="round"/>
<path d="M361.9 923.0 L363.9 932.0" fill="none" stroke="#f08a20" stroke-width="2" stroke-linecap="round" stroke-linejoin="round"/>
<path d="M359.9 933.0 L367.9 932.0" fill="none" stroke="#e04040" stroke-width="1.8" stroke-linecap="round" stroke-linejoin="round"/>
<path d="M368.9 936.0 L368.9 945.0" fill="none" stroke="#e04040" stroke-width="1.8" stroke-linecap="round" stroke-linejoin="round"/>
<path d="M370.9 940.0 L375.9 940.0" fill="none" stroke="#2438ff" stroke-width="2.2" stroke-linecap="round" stroke-linejoin="round"/>
<path d="M378.9 935.0 L379.9 946.0" fill="none" stroke="#f08a20" stroke-width="2" stroke-linecap="round" stroke-linejoin="round"/>
<path d="M375.9 944.0 L383.9 944.0" fill="none" stroke="#e04040" stroke-width="1.8" stroke-linecap="round" stroke-linejoin="round"/>
<text x="276.9" y="918.2" font-size="27.5" font-weight="bold" font-family='"Liberation Sans", sans-serif'>ATP</text>
<text x="432.1" y="868.4" font-size="28.8" font-weight="bold" font-family='"Liberation Sans", sans-serif'><tspan font-family='"Liberation Serif", serif' font-weight="normal">α</tspan>C</text>
<path d="M549.9 869.3 C548.7 866.6 545.5 858.9 542.8 853.3 C540.1 847.7 535.5 839.3 533.9 835.6 C532.3 831.9 531.9 832.6 533.1 831.1 C534.3 829.6 537.7 829.2 541.1 826.7 C544.5 824.2 550.2 818.2 553.5 816.0 C556.8 813.8 557.9 813.3 560.6 813.3 C563.3 813.3 567.4 813.8 569.5 816.0 C571.6 818.2 573.1 823.4 573.1 826.7 C573.1 830.0 571.6 833.7 569.5 835.6 C567.4 837.5 562.4 836.4 560.6 838.2 C558.8 840.0 558.2 843.1 558.8 846.2 C559.4 849.3 563.3 855.1 564.2 856.9" fill="none" stroke="#8a8a8a" stroke-width="2.3" stroke-linecap="round" stroke-linejoin="round"/>
<path d="M617.5 858.7 C618.7 857.5 621.3 854.0 624.6 851.6 C627.9 849.2 634.5 846.0 637.1 844.4 C639.8 842.8 639.9 842.4 640.5 842.0" fill="none" stroke="#8a8a8a" stroke-width="2.3" stroke-linecap="round" stroke-linejoin="round"/>
<path d="M640.5 842.0 L645.9 840.9" fill="none" stroke="#d9963a" stroke-width="2.3" stroke-linecap="round" stroke-linejoin="round"/>
<path d="M645.9 840.9 C646.8 840.9 650.1 839.7 651.3 840.9 C652.5 842.1 653.4 844.5 653.1 848.0 C652.8 851.5 651.0 858.7 649.5 862.2 C648.0 865.8 647.2 867.5 644.2 869.3 C641.2 871.1 635.6 871.7 631.7 872.9 C627.9 874.1 622.9 875.8 621.1 876.4" fill="none" stroke="#8a8a8a" stroke-width="2.3" stroke-linecap="round" stroke-linejoin="round"/>
<path d="M578.4 838.2 C579.3 836.3 582.1 830.2 583.7 826.7 C585.3 823.2 586.7 818.4 588.2 816.9 C589.7 815.4 591.9 817.6 592.6 817.8" fill="none" stroke="#d9963a" stroke-width="2.3" stroke-linecap="round" stroke-linejoin="round"/>
<polygon points="589.5,820.0 600.3,824.5 605.9,827.8 605.2,829.1 612.5,828.4 609.5,821.7 608.7,823.0 602.7,819.5 591.5,815.0" fill="#c9aa7a"/>
<path d="M610.5 829.0 C609.3 830.0 605.0 833.0 603.5 835.0 C602.0 837.0 600.3 838.8 601.5 841.0 C602.7 843.2 607.5 846.0 610.5 848.0 C613.5 850.0 617.7 851.0 619.5 853.0 C621.3 855.0 621.2 858.8 621.5 860.0" fill="none" stroke="#d9963a" stroke-width="2.3" stroke-linecap="round" stroke-linejoin="round"/>
<polygon points="545.6,871.6 561.6,882.1 567.2,886.0 566.0,887.8 576.5,886.5 573.8,876.2 572.5,878.1 566.8,874.3 550.8,863.6" fill="#5e5e5e"/>
<polygon points="615.4,857.0 608.5,872.7 604.6,878.8 602.7,877.6 604.5,887.0 613.7,884.5 611.8,883.3 615.9,876.7 623.2,860.4" fill="#6c6c6c"/>
<polygon points="620.3,872.7 608.5,879.8 601.3,882.9 600.4,880.8 596.5,889.5 605.5,892.7 604.6,890.7 612.3,887.4 624.7,880.1" fill="#6a6a6a"/>
<polygon points="568.9,893.4 595.8,896.9 618.2,898.4 618.0,900.9 626.5,894.5 619.0,887.0 618.8,889.5 596.6,887.9 570.1,884.4" fill="#e08a2a"/>
<polygon points="574.7,902.4 595.9,907.0 608.7,906.4 608.8,908.9 615.5,902.0 608.2,895.9 608.3,898.4 596.5,899.0 576.3,894.6" fill="#e39030"/>
<path d="M609.8 916.6 610.8 914.8 612.8 912.4 615.5 909.9 618.8 907.8 622.3 906.4 625.6 906.2 628.3 907.2 630.2 909.4 624.4 905.4 622.6 903.2 619.8 902.2 616.6 902.4 613.1 903.8 609.8 905.9 607.0 908.4 605.1 910.8 604.1 912.6Z" fill="#6e695f"/>
<path d="M625.1 927.3 626.1 925.5 628.1 923.1 630.9 920.6 625.1 916.6 622.4 919.1 620.4 921.5 619.4 923.3Z" fill="#6e695f"/>
<path d="M614.9 909.4 613.5 912.9 611.9 915.6 610.6 917.1 609.8 917.5 609.8 916.6 604.1 912.6 604.0 913.5 604.8 913.1 606.2 911.6 607.8 908.9 609.1 905.4Z" fill="#b3aa9a"/>
<path d="M609.1 913.6 L607.7 915.1 L606.9 915.5" stroke="#cdc7bd" stroke-width="2.4" stroke-linecap="round" fill="none" opacity="0.45"/>
<path d="M630.2 909.4 631.1 912.5 631.1 916.3 630.2 920.1 628.8 923.6 627.3 926.2 625.9 927.8 625.1 928.1 625.1 927.3 619.4 923.3 619.4 924.1 620.2 923.8 621.5 922.2 623.1 919.6 624.5 916.1 625.3 912.3 625.4 908.5 624.4 905.4Z" fill="#b3aa9a"/>
<path d="M627.3 918.1 L626.0 921.6 L624.4 924.2" stroke="#cdc7bd" stroke-width="2.4" stroke-linecap="round" fill="none" opacity="0.45"/>
<polygon points="575.9,833.7 569.3,844.2 563.6,857.7 562.6,875.2 566.7,889.0 575.3,900.7 586.6,910.1 590.7,912.7 588.5,916.3 604.0,916.0 597.5,901.9 595.2,905.5 591.6,903.3 581.5,894.9 574.1,885.2 571.0,874.2 571.8,859.7 576.9,848.2 583.1,838.3" fill="#f28e2b"/>
<path d="M583.1 838.3 L576.9 848.2 L571.8 859.7 L571.0 874.2 L574.1 885.2 L581.5 894.9 L591.6 903.3 L595.2 905.5" stroke="#d0741a" stroke-width="1.6" fill="none"/>
<path d="M649.4 919.5 647.4 919.3 645.1 917.0 642.9 913.1 641.3 908.1 640.8 902.6 641.6 897.4 643.8 893.3 647.1 890.8 635.4 896.3 632.0 898.8 629.8 903.0 629.0 908.1 629.5 913.6 631.1 918.7 633.3 922.6 635.7 924.8 637.6 925.1Z" fill="#865d27"/>
<path d="M666.9 911.2 664.8 910.6 662.5 908.1 660.3 904.0 658.9 898.8 658.6 893.3 659.6 888.2 662.0 884.3 665.6 882.1 653.8 887.7 650.3 889.9 647.9 893.8 646.8 898.8 647.1 904.3 648.6 909.5 650.7 913.6 653.1 916.2 655.1 916.8Z" fill="#0b0b0b"/>
<path d="M684.3 902.9 682.2 901.9 679.8 899.1 677.8 894.8 676.5 889.5 676.4 884.0 677.7 879.1 680.3 875.5 684.0 873.6 672.3 879.1 668.6 881.0 666.0 884.6 664.7 889.5 664.8 895.0 666.0 900.3 668.1 904.7 670.5 907.5 672.6 908.4Z" fill="#804a10"/>
<path d="M701.8 894.5 699.6 893.2 697.2 890.1 685.5 895.6 687.8 898.8 690.0 900.0Z" fill="#804a10"/>
<path d="M632.8 898.5 637.4 899.5 641.9 902.2 645.8 906.2 648.7 910.6 650.2 914.8 650.4 917.9 649.4 919.5 637.6 925.1 638.6 923.5 638.5 920.3 636.9 916.1 634.0 911.7 630.2 907.8 625.7 905.1 621.1 904.0Z" fill="#d9963f"/>
<path d="M639.9 908.9 L642.8 913.4 L644.3 917.5" stroke="#e6ba82" stroke-width="4.5" stroke-linecap="round" fill="none" opacity="0.45"/>
<path d="M647.1 890.8 651.4 890.1 656.0 891.5 660.4 894.4 664.1 898.5 666.8 902.9 668.1 907.0 668.1 909.9 666.9 911.2 655.1 916.8 656.3 915.5 656.4 912.5 655.0 908.5 652.4 904.0 648.6 900.0 644.2 897.0 639.6 895.7 635.4 896.3Z" fill="#121212"/>
<path d="M654.5 897.2 L658.3 901.3 L660.9 905.7" stroke="#646464" stroke-width="4.5" stroke-linecap="round" fill="none" opacity="0.45"/>
<path d="M665.6 882.1 669.9 881.8 674.5 883.5 678.9 886.7 682.4 890.8 684.9 895.3 686.0 899.2 685.7 901.9 684.3 902.9 672.6 908.4 674.0 907.4 674.2 904.7 673.1 900.8 670.7 896.4 667.1 892.2 662.8 889.0 658.1 887.4 653.8 887.7Z" fill="#d0781a"/>
<path d="M673.0 889.4 L676.6 893.6 L679.0 898.0" stroke="#e0a76a" stroke-width="4.5" stroke-linecap="round" fill="none" opacity="0.45"/>
<path d="M684.0 873.6 688.4 873.6 693.0 875.5 697.3 878.9 700.7 883.2 702.9 887.6 703.8 891.3 703.3 893.8 701.8 894.5 690.0 900.0 691.6 899.3 692.0 896.9 691.2 893.1 689.0 888.7 685.5 884.5 681.3 881.1 676.7 879.2 672.3 879.1Z" fill="#d0781a"/>
<path d="M691.4 881.7 L694.8 886.0 L697.1 890.4" stroke="#e0a76a" stroke-width="4.5" stroke-linecap="round" fill="none" opacity="0.45"/>
<path d="M542.5 918.0 C543.2 918.5 545.0 920.5 546.5 921.0 C548.0 921.5 549.8 921.5 551.5 921.0 C553.2 920.5 555.7 918.5 556.5 918.0" fill="none" stroke="#111" stroke-width="2" stroke-linecap="round" stroke-linejoin="round"/>
<path d="M542.8 917.3 C542.2 918.5 540.0 921.4 539.3 924.4 C538.6 927.4 537.8 932.1 538.4 935.1 C539.0 938.1 540.3 940.1 542.8 942.2 C545.3 944.3 549.9 945.8 553.5 947.6 C557.1 949.4 561.5 951.2 564.2 952.9 C566.9 954.6 568.6 957.1 569.5 958.0" fill="none" stroke="#e07a1a" stroke-width="2.3" stroke-linecap="round" stroke-linejoin="round"/>
<path d="M566.1 936.3 C567.5 936.0 570.7 934.2 574.2 934.7 C577.7 935.2 585.7 937.4 587.3 939.6 C588.9 941.8 586.2 946.1 584.0 947.7 C581.8 949.3 575.8 949.0 574.2 949.3" fill="none" stroke="#8a8a8a" stroke-width="2.3" stroke-linecap="round" stroke-linejoin="round"/>
<path d="M588.5 943.0 C588.8 943.8 589.1 947.7 590.5 947.7 C591.9 947.7 594.9 944.1 597.1 942.8 C599.3 941.4 599.7 940.7 603.5 939.6 C607.3 938.5 615.6 936.7 619.9 936.3 C624.2 935.9 627.9 936.9 629.5 937.0" fill="none" stroke="#5a5a5a" stroke-width="2.3" stroke-linecap="round" stroke-linejoin="round"/>
<path d="M604.0 916.0 C605.8 917.5 610.6 922.0 614.5 925.0 C618.4 928.0 624.0 931.5 627.5 934.0 C631.0 936.5 633.2 937.7 635.5 940.0 C637.8 942.3 639.2 946.2 641.5 948.0 C643.8 949.8 648.2 950.5 649.5 951.0" fill="none" stroke="#e07a1a" stroke-width="2.3" stroke-linecap="round" stroke-linejoin="round"/>
<polygon points="527.9,959.2 540.9,949.1 557.0,947.9 567.6,951.6 567.0,953.5 575.5,950.0 570.8,942.1 570.1,944.0 558.0,940.1 538.1,941.9 523.1,952.8" fill="#8a8a8a"/>
<polygon points="526.3,965.9 547.8,961.5 568.2,963.0 568.1,965.0 575.5,959.5 568.9,953.0 568.8,955.0 547.2,953.5 524.7,958.1" fill="#a8a8a8"/>
<path d="M523.5 962.0 C523.3 960.0 521.8 953.3 522.5 950.0 C523.2 946.7 525.2 943.7 527.5 942.0 C529.8 940.3 535.0 940.3 536.5 940.0" fill="none" stroke="#a8a8a8" stroke-width="2.3" stroke-linecap="round" stroke-linejoin="round"/>
<polygon points="572.7,949.1 563.8,955.5 561.0,957.3 560.2,956.0 557.5,963.0 565.0,963.6 564.2,962.4 567.2,960.5 576.3,953.9" fill="#d0680e"/>
<path d="M639.5 950.0 C640.7 950.0 644.3 950.3 646.5 950.0 C648.7 949.7 650.0 948.0 652.5 948.0 C655.0 948.0 658.7 949.2 661.5 950.0 C664.3 950.8 667.4 951.0 669.5 953.0 C671.6 955.0 673.6 958.8 674.0 962.0 C674.4 965.2 672.3 970.3 672.0 972.0" fill="none" stroke="#d9a050" stroke-width="2.3" stroke-linecap="round" stroke-linejoin="round"/>
<path d="M672.0 972.0 C674.1 972.5 679.8 974.4 684.5 975.0 C689.2 975.6 699.7 975.2 700.5 975.5 C701.3 975.8 693.0 976.1 689.5 976.5 C686.0 976.9 682.3 976.6 679.5 978.0 C676.7 979.4 674.5 983.0 672.5 985.0 C670.5 987.0 669.7 989.0 667.5 990.0 C665.3 991.0 662.5 990.8 659.5 991.0 C656.5 991.2 652.8 990.7 649.5 991.0 C646.2 991.3 642.7 992.0 639.5 993.0 C636.3 994.0 632.0 996.3 630.5 997.0" fill="none" stroke="#d9a050" stroke-width="2.3" stroke-linecap="round" stroke-linejoin="round"/>
<polygon points="647.5,946.0 655.5,945.0 652.5,952.0" fill="#d9a050"/>
<polygon points="673.5,978.0 683.5,984.0 675.5,989.0" fill="#d9a050"/>
<path d="M556.8 999.1 556.4 998.4 555.8 996.4 555.4 993.4 555.5 989.8 556.1 986.0 557.5 982.6 559.5 980.1 562.2 978.8 554.5 981.0 551.9 982.3 549.8 984.8 548.4 988.2 547.8 992.0 547.8 995.7 548.2 998.7 548.7 1000.6 549.2 1001.3Z" fill="#272727"/>
<path d="M553.2 990.7 555.2 993.8 556.4 996.5 556.9 998.4 556.8 999.1 549.2 1001.3 549.2 1000.6 548.7 998.7 547.5 996.0 545.5 993.0Z" fill="#404040"/>
<path d="M551.3 994.9 L552.5 997.6 L553.1 999.5" stroke="#828282" stroke-width="2.8" stroke-linecap="round" fill="none" opacity="0.45"/>
<path d="M562.2 978.8 565.2 978.8 568.3 980.1 571.1 982.5 573.5 985.5 574.5 988.7 575.2 991.4 575.7 993.1 568.1 995.3 567.6 993.7 566.8 991.0 565.8 987.7 563.5 984.7 560.6 982.4 557.5 981.0 554.5 981.0Z" fill="#404040"/>
<path d="M567.3 983.6 L569.7 986.6 L570.6 989.9" stroke="#828282" stroke-width="2.8" stroke-linecap="round" fill="none" opacity="0.45"/>
<path d="M583.5 987.0 581.9 984.7 580.5 980.8 579.6 975.7 579.7 970.2 580.7 965.2 582.8 961.3 585.8 959.1 589.4 958.9 576.3 962.4 572.7 962.6 569.8 964.8 567.7 968.7 566.6 973.7 566.6 979.2 567.4 984.3 568.8 988.2 570.4 990.5Z" fill="#313131"/>
<path d="M600.8 982.1 599.2 979.6 597.8 975.5 597.1 970.3 597.2 964.9 598.4 959.9 600.6 956.2 603.7 954.2 607.3 954.3 594.3 957.8 590.6 957.7 587.6 959.7 585.4 963.5 584.2 968.4 584.0 973.9 584.8 979.0 586.2 983.1 587.7 985.6Z" fill="#3b3b3b"/>
<path d="M619.5 977.9 618.1 977.2 616.5 974.5 615.2 970.2 614.6 965.0 614.8 959.6 616.1 954.7 618.4 951.2 621.6 949.4 608.5 952.9 605.4 954.7 603.1 958.2 601.8 963.1 601.5 968.5 602.2 973.7 603.5 978.0 605.1 980.7 606.5 981.4Z" fill="#545454"/>
<path d="M636.9 973.2 635.4 972.3 633.8 969.4 632.6 964.9 619.6 968.4 620.8 972.9 622.4 975.8 623.8 976.7Z" fill="#565656"/>
<path d="M584.2 977.6 585.4 982.1 585.5 985.5 584.8 987.2 583.5 987.0 570.4 990.5 571.8 990.7 572.5 989.0 572.3 985.6 571.1 981.1Z" fill="#505050"/>
<path d="M578.9 983.8 L579.0 987.2 L578.3 989.0" stroke="#8d8d8d" stroke-width="4.7" stroke-linecap="round" fill="none" opacity="0.45"/>
<path d="M589.4 958.9 593.1 960.6 596.7 964.1 599.7 968.6 601.9 973.5 602.9 977.9 603.0 981.1 602.2 982.6 600.8 982.1 587.7 985.6 589.1 986.1 590.0 984.6 589.9 981.4 588.8 977.0 586.7 972.1 583.7 967.6 580.1 964.1 576.3 962.4Z" fill="#606060"/>
<path d="M593.2 970.3 L595.3 975.2 L596.4 979.6" stroke="#979797" stroke-width="4.7" stroke-linecap="round" fill="none" opacity="0.45"/>
<path d="M607.3 954.3 611.1 956.3 614.6 959.8 617.5 964.5 619.5 969.3 620.5 973.6 620.4 976.7 619.5 977.9 606.5 981.4 607.4 980.2 607.5 977.1 606.5 972.8 604.5 968.0 601.6 963.4 598.0 959.8 594.3 957.8Z" fill="#888888"/>
<path d="M611.0 966.2 L613.0 971.1 L614.0 975.4" stroke="#b1b1b1" stroke-width="4.7" stroke-linecap="round" fill="none" opacity="0.45"/>
<path d="M621.6 949.4 625.2 949.7 629.0 951.9 632.5 955.6 635.3 960.3 637.2 965.1 638.0 969.3 637.9 972.2 636.9 973.2 623.8 976.7 624.8 975.7 625.0 972.8 624.2 968.7 622.3 963.8 619.5 959.2 616.0 955.4 612.2 953.2 608.5 952.9Z" fill="#8c8c8c"/>
<path d="M626.0 957.4 L628.8 962.1 L630.7 966.9" stroke="#b4b4b4" stroke-width="4.7" stroke-linecap="round" fill="none" opacity="0.45"/>
<polygon points="620.0,959.6 630.0,965.6 632.9,967.2 631.7,969.4 640.5,968.0 637.1,959.8 635.8,962.0 633.0,960.4 623.0,954.4" fill="#6a6a6a"/>
<path d="M636.2 968.9 C636.8 970.0 640.0 973.9 639.5 975.4 C639.0 976.9 636.6 977.1 632.9 978.0 C629.2 978.9 622.4 979.8 617.5 981.0 C612.6 982.2 607.5 984.2 603.5 985.2 C599.5 986.2 595.2 986.7 593.5 987.0" fill="none" stroke="#454545" stroke-width="2.6" stroke-linecap="round" stroke-linejoin="round"/>
<path d="M513.0 1009.6 511.8 1008.1 510.4 1005.0 509.2 1000.7 508.7 995.7 509.2 990.9 510.6 986.8 513.1 983.9 516.4 982.8 501.7 989.0 498.4 990.2 495.9 993.0 494.4 997.1 494.0 1001.9 494.5 1006.9 495.6 1011.2 497.0 1014.3 498.3 1015.8Z" fill="#6a6256"/>
<path d="M533.2 1000.9 531.9 999.1 530.5 995.7 529.5 991.3 529.1 986.3 529.7 981.5 531.3 977.6 534.0 975.0 537.4 974.2 522.7 980.4 519.2 981.3 516.6 983.8 514.9 987.8 514.4 992.5 514.7 997.5 515.8 1001.9 517.1 1005.3 518.4 1007.1Z" fill="#6a6256"/>
<path d="M553.4 992.1 552.0 990.0 550.7 986.5 549.7 981.9 549.5 976.9 550.3 972.2 552.1 968.5 554.9 966.2 558.4 965.6 543.7 971.8 540.1 972.4 537.3 974.7 535.5 978.4 534.7 983.1 535.0 988.1 535.9 992.7 537.3 996.2 538.6 998.3Z" fill="#6a6256"/>
<path d="M574.5 983.9 573.5 983.3 572.1 980.9 570.8 977.2 570.0 972.5 555.2 978.7 556.1 983.4 557.4 987.2 558.8 989.5 559.8 990.2Z" fill="#6a6256"/>
<path d="M503.2 993.6 507.0 996.8 510.1 1000.6 512.4 1004.4 513.5 1007.5 513.7 1009.4 513.0 1009.6 498.3 1015.8 499.0 1015.6 498.8 1013.7 497.6 1010.6 495.4 1006.8 492.2 1003.0 488.5 999.8Z" fill="#ab9f8b"/>
<path d="M502.8 1003.7 L505.0 1007.5 L506.2 1010.6" stroke="#c8c0b3" stroke-width="5.6" stroke-linecap="round" fill="none" opacity="0.45"/>
<path d="M516.4 982.8 520.3 983.3 524.3 985.5 527.9 988.8 530.9 992.6 533.0 996.4 534.0 999.3 534.0 1000.9 533.2 1000.9 518.4 1007.1 519.3 1007.1 519.3 1005.5 518.2 1002.6 516.2 998.9 513.2 995.0 509.5 991.7 505.6 989.6 501.7 989.0Z" fill="#ab9f8b"/>
<path d="M520.6 991.9 L523.6 995.8 L525.6 999.5" stroke="#c8c0b3" stroke-width="5.6" stroke-linecap="round" fill="none" opacity="0.45"/>
<path d="M537.4 974.2 541.3 975.0 545.3 977.4 548.8 980.8 551.7 984.7 553.6 988.4 554.4 991.1 554.3 992.5 553.4 992.1 538.6 998.3 539.5 998.7 539.7 997.3 538.9 994.6 537.0 990.9 534.1 987.0 530.5 983.6 526.6 981.2 522.7 980.4Z" fill="#ab9f8b"/>
<path d="M541.5 983.9 L544.3 987.8 L546.2 991.5" stroke="#c8c0b3" stroke-width="5.6" stroke-linecap="round" fill="none" opacity="0.45"/>
<path d="M558.4 965.6 562.3 966.7 566.3 969.3 569.7 972.9 572.4 976.8 574.2 980.3 574.8 982.9 574.5 983.9 559.8 990.2 560.1 989.1 559.4 986.5 557.7 983.0 555.0 979.1 551.5 975.5 547.6 972.9 543.7 971.8Z" fill="#ab9f8b"/>
<path d="M562.4 976.0 L565.1 979.9 L566.8 983.4" stroke="#c8c0b3" stroke-width="5.6" stroke-linecap="round" fill="none" opacity="0.45"/>
<path d="M515.4 1029.9 514.4 1029.0 513.4 1026.4 512.7 1022.5 512.7 1017.9 513.5 1013.2 515.1 1009.1 517.6 1006.3 520.8 1005.1 507.1 1008.2 504.0 1009.4 501.5 1012.2 499.8 1016.3 499.0 1021.0 499.1 1025.6 499.7 1029.5 500.7 1032.1 501.7 1033.0Z" fill="#6f6f6f"/>
<path d="M534.2 1025.4 533.2 1023.9 532.2 1020.8 531.8 1016.6 532.0 1011.9 533.1 1007.3 535.0 1003.6 537.8 1001.3 541.1 1000.8 527.4 1003.9 524.1 1004.4 521.4 1006.7 519.4 1010.4 518.3 1015.0 518.1 1019.7 518.6 1024.0 519.5 1027.0 520.5 1028.5Z" fill="#6f6f6f"/>
<path d="M553.0 1020.7 551.9 1018.7 538.3 1021.8 539.3 1023.9Z" fill="#6f6f6f"/>
<path d="M515.0 1022.8 515.9 1026.4 516.0 1028.9 515.4 1029.9 501.7 1033.0 502.3 1032.0 502.2 1029.5 501.3 1025.9Z" fill="#b4b4b4"/>
<path d="M509.1 1028.0 L509.1 1030.5 L508.5 1031.4" stroke="#cecece" stroke-width="4.9" stroke-linecap="round" fill="none" opacity="0.45"/>
<path d="M520.8 1005.1 524.2 1005.7 527.6 1008.0 530.6 1011.5 533.0 1015.7 534.5 1019.8 535.1 1023.1 535.0 1025.1 534.2 1025.4 520.5 1028.5 521.3 1028.2 521.5 1026.2 520.9 1022.9 519.4 1018.8 517.0 1014.6 514.0 1011.1 510.6 1008.8 507.1 1008.2Z" fill="#b4b4b4"/>
<path d="M523.8 1013.1 L526.2 1017.2 L527.7 1021.3" stroke="#cecece" stroke-width="4.9" stroke-linecap="round" fill="none" opacity="0.45"/>
<path d="M541.1 1000.8 544.5 1002.0 547.9 1004.8 550.7 1008.6 552.8 1012.8 554.0 1016.7 554.3 1019.6 553.9 1021.1 553.0 1020.7 539.3 1023.9 540.2 1024.2 540.6 1022.7 540.3 1019.8 539.1 1015.9 537.0 1011.7 534.2 1007.9 530.9 1005.1 527.4 1003.9Z" fill="#b4b4b4"/>
<path d="M543.9 1010.1 L545.9 1014.4 L547.1 1018.3" stroke="#cecece" stroke-width="4.9" stroke-linecap="round" fill="none" opacity="0.45"/>
<polygon points="497.7,1025.1 500.8,1035.5 505.9,1045.8 513.1,1042.2 508.2,1032.5 505.3,1022.9" fill="#bdbdbd"/>
<path d="M567.1 1012.6 566.6 1011.7 566.3 1009.3 566.4 1005.8 567.2 1001.6 568.7 997.5 570.9 994.0 573.7 991.6 576.9 990.9 563.9 991.8 560.8 992.6 558.0 994.9 555.7 998.4 554.2 1002.6 553.4 1006.7 553.3 1010.3 553.6 1012.7 554.2 1013.6Z" fill="#7c725e"/>
<path d="M588.6 1011.0 588.1 1009.8 587.8 1007.1 588.1 1003.4 589.0 999.2 590.7 995.1 593.1 991.8 596.0 989.8 599.2 989.3 586.2 990.3 583.0 990.7 580.1 992.7 577.7 996.0 576.0 1000.1 575.1 1004.3 574.9 1008.0 575.1 1010.7 575.6 1011.9Z" fill="#7c725e"/>
<path d="M610.1 1009.3 609.6 1007.7 609.4 1004.8 609.8 1000.9 610.9 996.7 612.7 992.7 615.2 989.7 618.2 988.0 621.4 987.9 608.5 988.8 605.2 988.9 602.2 990.6 599.7 993.7 597.9 997.6 596.8 1001.9 596.4 1005.8 596.6 1008.7 597.1 1010.2Z" fill="#7c725e"/>
<path d="M631.5 1007.5 631.1 1005.6 631.0 1002.5 631.5 998.5 632.8 994.2 634.8 990.4 637.4 987.6 640.5 986.2 642.3 986.6 629.3 987.5 627.5 987.2 624.4 988.6 621.8 991.4 619.8 995.2 618.6 999.4 618.1 1003.4 618.1 1006.6 618.6 1008.5Z" fill="#7c725e"/>
<path d="M565.7 1002.2 567.0 1006.2 567.6 1009.6 567.5 1011.8 567.1 1012.6 554.2 1013.6 554.6 1012.8 554.6 1010.5 554.0 1007.1 552.7 1003.1Z" fill="#c8b898"/>
<path d="M560.5 1006.6 L561.1 1010.0 L561.0 1012.3" stroke="#dbd0bc" stroke-width="4.5" stroke-linecap="round" fill="none" opacity="0.45"/>
<path d="M576.9 990.9 580.2 991.7 583.2 994.0 585.7 997.5 587.6 1001.5 588.7 1005.4 589.2 1008.6 589.0 1010.6 588.6 1011.0 575.6 1011.9 576.1 1011.5 576.2 1009.5 575.8 1006.3 574.6 1002.4 572.8 998.4 570.2 995.0 567.2 992.6 563.9 991.8Z" fill="#c8b898"/>
<path d="M579.2 997.9 L581.1 1001.9 L582.3 1005.8" stroke="#dbd0bc" stroke-width="4.5" stroke-linecap="round" fill="none" opacity="0.45"/>
<path d="M599.2 989.3 602.4 990.5 605.3 993.1 607.8 996.7 609.5 1000.7 610.5 1004.5 610.8 1007.5 610.5 1009.2 610.1 1009.3 597.1 1010.2 597.6 1010.1 597.8 1008.5 597.5 1005.5 596.5 1001.7 594.8 997.6 592.4 994.0 589.4 991.4 586.2 990.3Z" fill="#c8b898"/>
<path d="M601.3 997.2 L603.0 1001.2 L604.0 1005.0" stroke="#dbd0bc" stroke-width="4.5" stroke-linecap="round" fill="none" opacity="0.45"/>
<path d="M621.4 987.9 624.6 989.4 627.5 992.2 629.8 996.0 631.3 1000.0 632.2 1003.7 632.3 1006.4 632.0 1007.8 631.5 1007.5 618.6 1008.5 619.1 1008.7 619.4 1007.4 619.2 1004.6 618.4 1000.9 616.8 996.9 614.5 993.2 611.7 990.3 608.5 988.8Z" fill="#c8b898"/>
<path d="M623.3 996.4 L624.9 1000.5 L625.7 1004.2" stroke="#dbd0bc" stroke-width="4.5" stroke-linecap="round" fill="none" opacity="0.45"/>
<path d="M565.5 1035.1 564.0 1033.8 562.6 1030.5 561.7 1025.7 561.6 1020.1 562.4 1014.6 564.3 1009.9 567.1 1006.7 570.7 1005.5 556.0 1008.7 552.5 1009.9 549.6 1013.1 547.7 1017.7 546.9 1023.3 547.1 1028.9 548.0 1033.6 549.4 1037.0 550.8 1038.3Z" fill="#121212"/>
<path d="M584.6 1030.9 583.1 1029.3 581.8 1025.8 580.9 1020.9 580.8 1015.3 581.8 1009.8 583.8 1005.3 586.7 1002.3 590.3 1001.4 575.6 1004.6 572.0 1005.5 569.1 1008.5 567.1 1013.0 566.2 1018.5 566.2 1024.1 567.1 1029.0 568.5 1032.5 569.9 1034.1Z" fill="#121212"/>
<path d="M603.7 1026.7 602.2 1024.9 600.9 1021.2 600.1 1016.2 600.1 1010.6 601.2 1005.1 603.3 1000.7 606.3 998.0 609.9 997.2 595.3 1000.4 591.6 1001.1 588.6 1003.9 586.5 1008.3 585.4 1013.8 585.4 1019.4 586.2 1024.4 587.5 1028.1 589.0 1029.9Z" fill="#121212"/>
<path d="M622.8 1022.4 621.3 1020.4 620.0 1016.6 619.3 1011.5 619.4 1005.8 620.6 1000.5 622.8 996.2 625.9 993.6 629.2 993.1 614.6 996.3 611.2 996.8 608.1 999.4 605.9 1003.6 604.7 1009.0 604.6 1014.6 605.3 1019.8 606.6 1023.6 608.1 1025.6Z" fill="#121212"/>
<path d="M562.1 1017.4 564.7 1022.4 566.4 1027.4 567.0 1031.7 566.6 1034.4 565.5 1035.1 550.8 1038.3 551.9 1037.6 552.3 1034.9 551.7 1030.6 550.1 1025.6 547.5 1020.6Z" fill="#141414"/>
<path d="M559.1 1029.0 L559.6 1033.3 L559.2 1036.0" stroke="#666666" stroke-width="5.2" stroke-linecap="round" fill="none" opacity="0.45"/>
<path d="M570.7 1005.5 574.5 1006.5 578.3 1009.4 581.7 1013.7 584.2 1018.8 585.7 1023.7 586.2 1027.8 585.7 1030.4 584.6 1030.9 569.9 1034.1 571.1 1033.6 571.5 1031.0 571.1 1026.9 569.5 1021.9 567.0 1016.9 563.7 1012.6 559.9 1009.7 556.0 1008.7Z" fill="#141414"/>
<path d="M574.3 1015.3 L576.9 1020.4 L578.4 1025.3" stroke="#666666" stroke-width="5.2" stroke-linecap="round" fill="none" opacity="0.45"/>
<path d="M590.3 1001.4 594.2 1002.5 597.9 1005.6 601.2 1010.0 603.6 1015.1 605.0 1020.0 605.4 1024.0 604.9 1026.3 603.7 1026.7 589.0 1029.9 590.2 1029.5 590.8 1027.2 590.4 1023.2 589.0 1018.3 586.5 1013.2 583.3 1008.8 579.5 1005.7 575.6 1004.6Z" fill="#141414"/>
<path d="M593.9 1011.6 L596.3 1016.7 L597.7 1021.6" stroke="#666666" stroke-width="5.2" stroke-linecap="round" fill="none" opacity="0.45"/>
<path d="M609.9 997.2 613.8 998.6 617.5 1001.8 620.7 1006.3 623.1 1011.5 624.4 1016.3 624.6 1020.2 624.0 1022.3 622.8 1022.4 608.1 1025.6 609.3 1025.5 610.0 1023.3 609.7 1019.5 608.4 1014.6 606.1 1009.5 602.9 1005.0 599.2 1001.8 595.3 1000.4Z" fill="#141414"/>
<path d="M613.4 1007.9 L615.7 1013.1 L617.0 1017.9" stroke="#666666" stroke-width="5.2" stroke-linecap="round" fill="none" opacity="0.45"/>
<path d="M629.2 993.1 629.7 995.5 615.1 998.6 614.6 996.3Z" fill="#141414"/>
<path d="M621.9 994.7 L622.4 997.0" stroke="#666666" stroke-width="5.2" stroke-linecap="round" fill="none" opacity="0.45"/>
<path d="M674.7 1031.9 672.5 1031.3 670.2 1028.8 668.1 1024.9 666.8 1020.0 666.7 1014.8 668.0 1010.1 670.6 1006.5 674.2 1004.5 665.3 1009.0 661.6 1011.0 659.0 1014.6 657.8 1019.3 657.9 1024.4 659.2 1029.3 661.2 1033.3 663.6 1035.7 665.7 1036.4Z" fill="#726856"/>
<path d="M691.4 1023.4 689.2 1022.3 686.8 1019.5 684.9 1015.3 683.9 1010.3 684.0 1005.2 685.6 1000.7 688.4 997.4 692.2 995.7 683.3 1000.2 679.5 1001.9 676.6 1005.2 675.1 1009.7 674.9 1014.8 676.0 1019.8 677.9 1024.0 680.2 1026.8 682.5 1027.8Z" fill="#726856"/>
<path d="M675.2 1024.5 676.3 1028.2 676.0 1030.8 674.7 1031.9 665.7 1036.4 667.1 1035.3 667.4 1032.6 666.3 1029.0Z" fill="#b8a98b"/>
<path d="M671.8 1030.4 L671.6 1033.1 L670.2 1034.2" stroke="#d0c7b3" stroke-width="3.5" stroke-linecap="round" fill="none" opacity="0.45"/>
<path d="M674.2 1004.5 678.6 1004.3 683.1 1005.8 687.3 1008.8 690.6 1012.7 692.7 1016.7 693.5 1020.3 693.0 1022.6 691.4 1023.4 682.5 1027.8 684.1 1027.1 684.6 1024.7 683.8 1021.2 681.7 1017.2 678.3 1013.3 674.2 1010.3 669.6 1008.8 665.3 1009.0Z" fill="#b8a98b"/>
<path d="M682.8 1011.1 L686.1 1014.9 L688.3 1019.0" stroke="#d0c7b3" stroke-width="3.5" stroke-linecap="round" fill="none" opacity="0.45"/>
<path d="M692.2 995.7 694.8 996.8 696.5 1000.1 698.6 1004.3 689.6 1008.8 687.5 1004.6 685.9 1001.3 683.3 1000.2Z" fill="#b8a98b"/>
<path d="M690.3 999.1 L692.0 1002.4 L694.1 1006.6" stroke="#d0c7b3" stroke-width="3.5" stroke-linecap="round" fill="none" opacity="0.45"/>
<path d="M652.5 991.7 C654.0 992.4 658.0 994.5 661.5 996.0 C665.0 997.5 671.5 1000.2 673.5 1001.0" fill="none" stroke="#848484" stroke-width="2.3" stroke-linecap="round" stroke-linejoin="round"/>
<path d="M634.3 1019.7 634.4 1017.9 634.7 1015.2 635.4 1012.0 636.7 1008.7 638.5 1005.8 640.9 1003.6 643.6 1002.5 646.6 1002.7 639.7 1003.8 636.7 1003.7 634.0 1004.8 631.6 1006.9 629.8 1009.9 628.5 1013.2 627.8 1016.4 627.5 1019.1 627.4 1020.8Z" fill="#865515"/>
<path d="M630.5 1012.8 632.2 1015.6 633.4 1018.1 634.0 1019.7 634.3 1020.3 634.3 1019.7 627.4 1020.8 627.4 1021.5 627.1 1020.9 626.5 1019.2 625.3 1016.8 623.6 1014.0Z" fill="#d98a22"/>
<path d="M629.9 1018.7 L630.6 1020.3 L630.8 1020.9" stroke="#e6b26f" stroke-width="2.4" stroke-linecap="round" fill="none" opacity="0.45"/>
<path d="M646.6 1002.7 649.5 1003.9 650.4 1006.4 651.0 1009.4 644.0 1010.6 643.5 1007.6 642.6 1005.1 639.7 1003.8Z" fill="#d98a22"/>
<path d="M646.1 1004.5 L647.0 1007.0 L647.5 1010.0" stroke="#e6b26f" stroke-width="2.4" stroke-linecap="round" fill="none" opacity="0.45"/>
<polygon points="636.5,1019.8 642.3,1029.3 644.1,1037.8 650.9,1036.2 648.7,1026.7 642.5,1016.2" fill="#e0c088"/>
<polygon points="634.5,1031.0 650.5,1033.0 649.5,1050.0 639.5,1047.0" fill="#f6ad55"/>
<path d="M662.3 1052.5 660.3 1052.6 658.3 1050.6 656.0 1047.2 653.4 1043.2 652.0 1038.4 652.1 1033.5 653.7 1029.2 656.6 1026.2 648.7 1031.5 645.8 1034.5 644.2 1038.7 644.1 1043.7 645.4 1048.5 648.1 1052.5 650.4 1055.9 652.4 1057.8 654.4 1057.8Z" fill="#895513"/>
<path d="M678.3 1041.8 676.3 1041.9 673.8 1040.3 671.2 1037.1 669.1 1032.7 668.0 1027.7 668.1 1022.8 660.2 1028.1 660.1 1033.0 661.2 1038.0 663.3 1042.3 665.9 1045.5 668.4 1047.2 670.4 1047.1Z" fill="#895513"/>
<path d="M662.8 1047.9 663.2 1050.8 662.3 1052.5 654.4 1057.8 655.3 1056.1 654.9 1053.2Z" fill="#dd8a20"/>
<path d="M658.8 1050.6 L659.2 1053.5 L658.3 1055.1" stroke="#e8b26e" stroke-width="3.3" stroke-linecap="round" fill="none" opacity="0.45"/>
<path d="M656.6 1026.2 660.6 1024.8 665.1 1025.1 669.7 1027.0 673.8 1030.0 676.9 1033.7 678.8 1037.3 679.2 1040.2 678.3 1041.8 670.4 1047.1 671.3 1045.4 670.9 1042.5 669.0 1038.9 665.9 1035.3 661.8 1032.3 657.2 1030.4 652.7 1030.1 648.7 1031.5Z" fill="#dd8a20"/>
<path d="M665.7 1029.6 L669.8 1032.7 L673.0 1036.3" stroke="#e8b26e" stroke-width="3.3" stroke-linecap="round" fill="none" opacity="0.45"/>
<polygon points="613.5,1033.0 632.5,1036.0 630.5,1044.0 615.5,1041.0" fill="#c4c4c4"/>
<path d="M559.5 1066.7 C562.0 1066.7 569.0 1067.8 574.2 1066.7 C579.4 1065.6 585.6 1061.8 590.5 1060.2 C595.4 1058.6 599.7 1056.5 603.5 1057.0 C607.3 1057.5 609.3 1060.4 613.4 1063.4 C617.5 1066.4 622.6 1071.0 628.0 1074.8 C633.4 1078.6 641.9 1083.8 646.0 1086.2 C650.1 1088.7 651.4 1089.0 652.5 1089.5" fill="none" stroke="#848484" stroke-width="2.3" stroke-linecap="round" stroke-linejoin="round"/>
<path d="M561.7 1068.2 560.6 1066.6 559.6 1063.4 559.0 1059.1 559.2 1054.4 560.2 1049.9 562.1 1046.3 564.8 1044.0 568.0 1043.5 554.0 1047.2 550.7 1047.7 548.1 1049.9 546.1 1053.6 545.1 1058.1 545.0 1062.8 545.6 1067.1 546.6 1070.3 547.7 1071.9Z" fill="#232323"/>
<path d="M580.2 1063.1 579.1 1061.0 578.2 1057.5 577.7 1053.1 578.1 1048.3 579.3 1044.0 581.4 1040.6 584.3 1038.8 587.6 1038.7 573.6 1042.4 570.3 1042.5 567.4 1044.3 565.3 1047.7 564.1 1052.0 563.7 1056.7 564.2 1061.2 565.1 1064.7 566.2 1066.7Z" fill="#232323"/>
<path d="M599.7 1058.5 598.7 1057.8 597.6 1055.3 596.8 1051.6 596.5 1047.0 597.1 1042.3 598.5 1038.1 600.8 1035.1 603.8 1033.7 589.8 1037.4 586.8 1038.8 584.5 1041.8 583.0 1045.9 582.5 1050.7 582.8 1055.2 583.6 1059.0 584.7 1061.5 585.7 1062.2Z" fill="#232323"/>
<path d="M618.3 1053.6 617.2 1052.4 603.2 1056.1 604.2 1057.3Z" fill="#232323"/>
<path d="M560.7 1059.3 562.2 1063.2 562.8 1066.4 562.5 1068.1 561.7 1068.2 547.7 1071.9 548.5 1071.8 548.7 1070.0 548.2 1066.9 546.7 1063.0Z" fill="#3a3a3a"/>
<path d="M555.2 1065.1 L555.8 1068.2 L555.5 1070.0" stroke="#7e7e7e" stroke-width="5.1" stroke-linecap="round" fill="none" opacity="0.45"/>
<path d="M568.0 1043.5 571.5 1044.8 574.9 1047.5 577.7 1051.2 579.9 1055.3 581.2 1059.1 581.5 1062.0 581.1 1063.4 580.2 1063.1 566.2 1066.7 567.1 1067.1 567.5 1065.7 567.1 1062.8 565.9 1059.0 563.7 1054.9 560.8 1051.2 557.5 1048.4 554.0 1047.2Z" fill="#3a3a3a"/>
<path d="M570.7 1053.1 L572.9 1057.2 L574.2 1061.0" stroke="#7e7e7e" stroke-width="5.1" stroke-linecap="round" fill="none" opacity="0.45"/>
<path d="M587.6 1038.7 591.1 1040.3 594.4 1043.4 597.1 1047.3 599.0 1051.4 600.1 1055.0 600.3 1057.5 599.7 1058.5 585.7 1062.2 586.2 1061.2 586.1 1058.7 585.0 1055.1 583.1 1051.0 580.4 1047.1 577.1 1044.0 573.6 1042.4Z" fill="#3a3a3a"/>
<path d="M590.1 1049.1 L592.0 1053.2 L593.1 1056.8" stroke="#7e7e7e" stroke-width="5.1" stroke-linecap="round" fill="none" opacity="0.45"/>
<path d="M603.8 1033.7 607.2 1034.0 610.7 1036.0 613.9 1039.3 616.4 1043.3 618.1 1047.4 619.0 1050.8 618.9 1053.0 618.3 1053.6 604.2 1057.3 604.9 1056.7 604.9 1054.5 604.1 1051.1 602.4 1047.0 599.8 1043.0 596.7 1039.7 593.2 1037.7 589.8 1037.4Z" fill="#3a3a3a"/>
<path d="M606.8 1041.2 L609.4 1045.2 L611.1 1049.2" stroke="#7e7e7e" stroke-width="5.1" stroke-linecap="round" fill="none" opacity="0.45"/>
<path d="M519.6 1055.4 520.2 1054.4 520.8 1052.5 521.7 1049.8 523.0 1046.8 524.9 1043.9 527.3 1041.7 530.1 1040.3 532.3 1040.2 524.5 1041.6 522.3 1041.7 519.5 1043.1 517.1 1045.4 515.2 1048.2 513.8 1051.2 512.9 1053.9 512.3 1055.8 511.8 1056.8Z" fill="#1f1f1f"/>
<path d="M514.3 1049.8 516.4 1052.1 517.9 1054.0 518.9 1055.2 519.6 1055.4 511.8 1056.8 511.1 1056.6 510.0 1055.5 508.5 1053.5 506.4 1051.2Z" fill="#333333"/>
<path d="M512.4 1052.8 L514.0 1054.7 L515.0 1055.9" stroke="#7a7a7a" stroke-width="2.8" stroke-linecap="round" fill="none" opacity="0.45"/>
<path d="M531.5 1052.0 C532.0 1051.2 533.2 1047.7 534.5 1047.0 C535.8 1046.3 538.7 1047.8 539.5 1048.0" fill="none" stroke="#b9a98a" stroke-width="2.3" stroke-linecap="round" stroke-linejoin="round"/>
<path d="M547.8 1074.9 548.2 1073.4 548.7 1071.1 549.6 1068.4 550.9 1065.6 552.6 1063.1 554.8 1061.2 557.4 1060.2 560.2 1060.1 553.3 1061.5 550.5 1061.6 548.0 1062.6 545.8 1064.5 544.0 1067.0 542.7 1069.8 541.8 1072.5 541.3 1074.7 541.0 1076.2Z" fill="#726855"/>
<path d="M542.8 1069.7 544.6 1071.9 546.0 1073.8 546.9 1075.0 547.5 1075.4 547.8 1074.9 541.0 1076.2 540.6 1076.8 540.0 1076.4 539.1 1075.2 537.8 1073.3 535.9 1071.1Z" fill="#b9a98a"/>
<path d="M542.6 1074.5 L543.5 1075.7 L544.0 1076.1" stroke="#d1c7b2" stroke-width="2.4" stroke-linecap="round" fill="none" opacity="0.45"/>
<path d="M560.2 1060.1 562.9 1061.0 564.4 1062.9 564.9 1065.3 558.1 1066.7 557.6 1064.2 556.1 1062.4 553.3 1061.5Z" fill="#b9a98a"/>
<path d="M559.5 1061.7 L561.0 1063.6 L561.5 1066.0" stroke="#d1c7b2" stroke-width="2.4" stroke-linecap="round" fill="none" opacity="0.45"/>
<path d="M655.0 1085.8 653.2 1085.2 651.1 1083.0 649.1 1079.4 647.7 1074.8 647.4 1069.7 648.4 1065.0 650.6 1061.1 654.1 1058.6 645.5 1063.7 642.1 1066.2 639.8 1070.1 638.8 1074.9 639.2 1079.9 640.5 1084.5 642.5 1088.2 644.7 1090.4 646.4 1090.9Z" fill="#565656"/>
<path d="M675.0 1073.8 673.2 1073.2 671.1 1071.0 669.1 1067.4 667.7 1062.8 667.4 1057.7 658.8 1062.9 659.2 1067.9 660.5 1072.5 662.5 1076.2 664.7 1078.4 666.4 1078.9Z" fill="#565656"/>
<path d="M654.2 1079.1 655.7 1082.4 655.9 1084.8 655.0 1085.8 646.4 1090.9 647.4 1089.9 647.1 1087.5 645.6 1084.3Z" fill="#8c8c8c"/>
<path d="M651.4 1084.9 L651.7 1087.3 L650.7 1088.4" stroke="#b4b4b4" stroke-width="3.5" stroke-linecap="round" fill="none" opacity="0.45"/>
<path d="M654.1 1058.6 658.3 1057.6 663.0 1058.3 667.5 1060.5 671.3 1063.6 674.2 1067.1 675.7 1070.4 675.9 1072.8 675.0 1073.8 666.4 1078.9 667.4 1077.9 667.1 1075.5 665.6 1072.3 662.8 1068.7 658.9 1065.6 654.4 1063.5 649.8 1062.8 645.5 1063.7Z" fill="#8c8c8c"/>
<path d="M663.2 1063.0 L667.0 1066.2 L669.9 1069.7" stroke="#b4b4b4" stroke-width="3.5" stroke-linecap="round" fill="none" opacity="0.45"/>
<path d="M669.5 1072.0 C669.2 1073.7 669.5 1079.3 667.5 1082.0 C665.5 1084.7 660.0 1086.8 657.5 1088.0 C655.0 1089.2 653.3 1089.2 652.5 1089.5" fill="none" stroke="#8c8c8c" stroke-width="2.3" stroke-linecap="round" stroke-linejoin="round"/>
<path d="M478.5 1032.0 C480.6 1034.0 486.8 1042.5 491.1 1043.9 C495.4 1045.3 500.9 1040.1 504.2 1040.6 C507.5 1041.1 508.5 1045.5 510.7 1047.1 C512.9 1048.7 516.1 1049.9 517.2 1050.4" fill="none" stroke="#e07818" stroke-width="2.6" stroke-linecap="round" stroke-linejoin="round"/>
<path d="M549.8 1021.0 C550.6 1018.8 551.7 1010.4 554.7 1008.0 C557.7 1005.6 565.0 1005.3 567.7 1006.4 C570.4 1007.5 567.7 1012.1 571.0 1014.5 C574.3 1016.9 581.9 1019.4 587.3 1021.0 C592.7 1022.6 599.1 1021.6 603.5 1024.3 C607.9 1027.0 609.3 1033.2 613.4 1037.3 C617.5 1041.4 622.9 1047.3 628.0 1048.7 C633.1 1050.1 640.7 1047.0 644.3 1045.5 C647.9 1044.0 648.6 1040.9 649.5 1040.0" fill="none" stroke="#d9982e" stroke-width="2.4" stroke-linecap="round" stroke-linejoin="round"/>
<path d="M606.8 1037.3 C609.0 1039.2 615.0 1046.5 619.9 1049.0 C624.8 1051.5 631.3 1052.5 636.2 1052.0 C641.1 1051.5 647.0 1047.0 649.2 1046.0" fill="none" stroke="#e08a2a" stroke-width="2.2" stroke-linecap="round" stroke-linejoin="round"/>
<path d="M568.5 916.0 C569.2 915.5 570.8 913.4 572.5 913.0 C574.2 912.6 577.0 912.8 578.5 913.5 C580.0 914.2 581.7 915.9 581.5 917.0 C581.3 918.1 579.2 919.6 577.5 920.0 C575.8 920.4 573.0 920.2 571.5 919.5 C570.0 918.8 569.0 916.6 568.5 916.0" fill="none" stroke="#2438ff" stroke-width="1.8" stroke-linecap="round" stroke-linejoin="round"/>
<path d="M578.5 916.0 C579.5 915.8 582.7 914.5 584.5 915.0 C586.3 915.5 588.7 918.3 589.5 919.0" fill="none" stroke="#222" stroke-width="2.2" stroke-linecap="round" stroke-linejoin="round"/>
<path d="M584.5 918.0 C585.3 917.8 588.0 916.3 589.5 917.0 C591.0 917.7 593.3 920.0 593.5 922.0 C593.7 924.0 591.7 927.2 590.5 929.0 C589.3 930.8 587.7 933.0 586.5 933.0 C585.3 933.0 583.7 930.8 583.5 929.0 C583.3 927.2 585.2 923.2 585.5 922.0" fill="none" stroke="#111" stroke-width="3.2" stroke-linecap="round" stroke-linejoin="round"/>
<path d="M585.5 921.0 C586.3 921.5 590.0 922.5 590.5 924.0 C591.0 925.5 588.8 929.0 588.5 930.0" fill="none" stroke="#555" stroke-width="2.4" stroke-linecap="round" stroke-linejoin="round"/>
<path d="M582.5 931.0 L578.5 935.0" fill="none" stroke="#e04040" stroke-width="2" stroke-linecap="round" stroke-linejoin="round"/>
<path d="M590.5 929.0 C591.3 928.7 593.7 927.3 595.5 927.0 C597.3 926.7 600.5 927.0 601.5 927.0" fill="none" stroke="#111" stroke-width="2.6" stroke-linecap="round" stroke-linejoin="round"/>
<path d="M601.5 927.0 C602.3 927.0 605.3 926.2 606.5 927.0 C607.7 927.8 607.8 930.2 608.5 932.0 C609.2 933.8 609.3 936.7 610.5 938.0 C611.7 939.3 613.7 939.7 615.5 940.0 C617.3 940.3 619.5 939.8 621.5 940.0 C623.5 940.2 626.5 940.8 627.5 941.0" fill="none" stroke="#e8641e" stroke-width="2.4" stroke-linecap="round" stroke-linejoin="round"/>
<path d="M606.5 923.0 L608.5 932.0" fill="none" stroke="#f08a20" stroke-width="2" stroke-linecap="round" stroke-linejoin="round"/>
<path d="M604.5 933.0 L612.5 932.0" fill="none" stroke="#e04040" stroke-width="1.8" stroke-linecap="round" stroke-linejoin="round"/>
<path d="M613.5 936.0 L613.5 945.0" fill="none" stroke="#e04040" stroke-width="1.8" stroke-linecap="round" stroke-linejoin="round"/>
<path d="M615.5 940.0 L620.5 940.0" fill="none" stroke="#2438ff" stroke-width="2.2" stroke-linecap="round" stroke-linejoin="round"/>
<path d="M623.5 935.0 L624.5 946.0" fill="none" stroke="#f08a20" stroke-width="2" stroke-linecap="round" stroke-linejoin="round"/>
<path d="M620.5 944.0 L628.5 944.0" fill="none" stroke="#e04040" stroke-width="1.8" stroke-linecap="round" stroke-linejoin="round"/>
<text x="521.5" y="918.2" font-size="27.5" font-weight="bold" font-family='"Liberation Sans", sans-serif'>ATP</text>
<text x="676.7" y="868.4" font-size="28.8" font-weight="bold" font-family='"Liberation Sans", sans-serif'><tspan font-family='"Liberation Serif", serif' font-weight="normal">α</tspan>C</text>
<path d="M794.3 869.3 C793.1 866.6 789.9 858.9 787.2 853.3 C784.5 847.7 779.9 839.3 778.3 835.6 C776.7 831.9 776.3 832.6 777.5 831.1 C778.7 829.6 782.1 829.2 785.5 826.7 C788.9 824.2 794.6 818.2 797.9 816.0 C801.1 813.8 802.3 813.3 805.0 813.3 C807.7 813.3 811.8 813.8 813.9 816.0 C816.0 818.2 817.5 823.4 817.5 826.7 C817.5 830.0 816.0 833.7 813.9 835.6 C811.8 837.5 806.8 836.4 805.0 838.2 C803.2 840.0 802.6 843.1 803.2 846.2 C803.8 849.3 807.7 855.1 808.6 856.9" fill="none" stroke="#d9913e" stroke-width="2.3" stroke-linecap="round" stroke-linejoin="round"/>
<path d="M861.9 858.7 C863.1 857.5 865.7 854.0 869.0 851.6 C872.3 849.2 878.9 846.0 881.5 844.4 C884.1 842.8 884.3 842.4 884.9 842.0" fill="none" stroke="#a89a86" stroke-width="2.3" stroke-linecap="round" stroke-linejoin="round"/>
<path d="M884.9 842.0 L890.3 840.9" fill="none" stroke="#d9963a" stroke-width="2.3" stroke-linecap="round" stroke-linejoin="round"/>
<path d="M890.3 840.9 C891.2 840.9 894.5 839.7 895.7 840.9 C896.9 842.1 897.8 844.5 897.5 848.0 C897.2 851.5 895.4 858.7 893.9 862.2 C892.4 865.8 891.6 867.5 888.6 869.3 C885.6 871.1 879.9 871.7 876.1 872.9 C872.2 874.1 867.3 875.8 865.5 876.4" fill="none" stroke="#a89a86" stroke-width="2.3" stroke-linecap="round" stroke-linejoin="round"/>
<path d="M822.8 838.2 C823.7 836.3 826.5 830.2 828.1 826.7 C829.7 823.2 831.1 818.4 832.6 816.9 C834.1 815.4 836.3 817.6 837.0 817.8" fill="none" stroke="#d9963a" stroke-width="2.3" stroke-linecap="round" stroke-linejoin="round"/>
<polygon points="833.9,820.0 844.7,824.5 850.3,827.8 849.6,829.1 856.9,828.4 853.9,821.7 853.1,823.0 847.1,819.5 835.9,815.0" fill="#e9a445"/>
<path d="M854.9 829.0 C853.7 830.0 849.4 833.0 847.9 835.0 C846.4 837.0 844.7 838.8 845.9 841.0 C847.1 843.2 851.9 846.0 854.9 848.0 C857.9 850.0 862.1 851.0 863.9 853.0 C865.7 855.0 865.6 858.8 865.9 860.0" fill="none" stroke="#d9963a" stroke-width="2.3" stroke-linecap="round" stroke-linejoin="round"/>
<polygon points="790.0,871.6 806.0,882.1 811.6,886.0 810.4,887.8 820.9,886.5 818.2,876.2 816.9,878.1 811.2,874.3 795.2,863.6" fill="#d98f2a"/>
<polygon points="859.8,857.0 852.9,872.7 849.0,878.8 847.1,877.6 848.9,887.0 858.1,884.5 856.2,883.3 860.3,876.7 867.6,860.4" fill="#6c6c6c"/>
<polygon points="864.7,872.7 852.9,879.8 845.7,882.9 844.8,880.8 840.9,889.5 849.9,892.7 849.0,890.7 856.7,887.4 869.1,880.1" fill="#6a6a6a"/>
<polygon points="813.3,893.4 840.2,896.9 862.6,898.4 862.4,900.9 870.9,894.5 863.4,887.0 863.2,889.5 841.0,887.9 814.5,884.4" fill="#e08a2a"/>
<polygon points="819.1,902.4 840.3,907.0 853.1,906.4 853.2,908.9 859.9,902.0 852.6,895.9 852.7,898.4 840.9,899.0 820.7,894.6" fill="#dd9a40"/>
<path d="M854.2 916.6 855.2 914.8 857.2 912.4 859.9 909.9 863.2 907.8 866.7 906.4 870.0 906.2 872.7 907.2 874.6 909.4 868.8 905.4 867.0 903.2 864.2 902.2 861.0 902.4 857.5 903.8 854.2 905.9 851.4 908.4 849.5 910.8 848.5 912.6Z" fill="#7c6345"/>
<path d="M869.5 927.3 870.5 925.5 872.5 923.1 875.3 920.6 869.5 916.6 866.8 919.1 864.8 921.5 863.8 923.3Z" fill="#7c6345"/>
<path d="M859.3 909.4 857.9 912.9 856.3 915.6 855.0 917.1 854.2 917.5 854.2 916.6 848.5 912.6 848.4 913.5 849.2 913.1 850.6 911.6 852.2 908.9 853.5 905.4Z" fill="#c9a070"/>
<path d="M853.5 913.6 L852.1 915.1 L851.3 915.5" stroke="#dbc1a2" stroke-width="2.4" stroke-linecap="round" fill="none" opacity="0.45"/>
<path d="M874.6 909.4 875.5 912.5 875.5 916.3 874.6 920.1 873.2 923.6 871.7 926.2 870.3 927.8 869.5 928.1 869.5 927.3 863.8 923.3 863.8 924.1 864.6 923.8 865.9 922.2 867.5 919.6 868.9 916.1 869.7 912.3 869.8 908.5 868.8 905.4Z" fill="#c9a070"/>
<path d="M871.7 918.1 L870.4 921.6 L868.8 924.2" stroke="#dbc1a2" stroke-width="2.4" stroke-linecap="round" fill="none" opacity="0.45"/>
<polygon points="820.3,833.7 813.7,844.2 808.0,857.7 807.0,875.2 811.1,889.0 819.7,900.7 831.0,910.1 835.1,912.7 832.9,916.3 848.4,916.0 841.9,901.9 839.6,905.5 836.0,903.3 825.9,894.9 818.5,885.2 815.4,874.2 816.2,859.7 821.3,848.2 827.5,838.3" fill="#f28e2b"/>
<path d="M827.5 838.3 L821.3 848.2 L816.2 859.7 L815.4 874.2 L818.5 885.2 L825.9 894.9 L836.0 903.3 L839.6 905.5" stroke="#d0741a" stroke-width="1.6" fill="none"/>
<path d="M893.8 919.5 891.8 919.3 889.5 917.0 887.3 913.1 885.7 908.1 885.2 902.6 886.0 897.4 888.2 893.3 891.5 890.8 879.8 896.3 876.4 898.8 874.2 903.0 873.4 908.1 873.9 913.6 875.5 918.7 877.7 922.6 880.1 924.8 882.0 925.1Z" fill="#835f31"/>
<path d="M911.3 911.2 909.2 910.6 906.9 908.1 904.7 904.0 903.3 898.8 903.0 893.3 904.0 888.2 906.4 884.3 910.0 882.1 898.2 887.7 894.7 889.9 892.3 893.8 891.2 898.8 891.5 904.3 893.0 909.5 895.1 913.6 897.5 916.2 899.5 916.8Z" fill="#0b0b0b"/>
<path d="M928.7 902.9 926.6 901.9 924.2 899.1 922.2 894.8 920.9 889.5 920.8 884.0 922.1 879.1 924.7 875.5 928.4 873.6 916.7 879.1 913.0 881.0 910.4 884.6 909.1 889.5 909.2 895.0 910.4 900.3 912.5 904.7 914.9 907.5 917.0 908.4Z" fill="#7c4713"/>
<path d="M946.2 894.5 944.0 893.2 941.6 890.1 929.9 895.6 932.2 898.8 934.4 900.0Z" fill="#7c4713"/>
<path d="M877.2 898.5 881.8 899.5 886.3 902.2 890.2 906.2 893.1 910.6 894.6 914.8 894.8 917.9 893.8 919.5 882.0 925.1 883.0 923.5 882.9 920.3 881.3 916.1 878.4 911.7 874.6 907.8 870.1 905.1 865.5 904.0Z" fill="#d49a50"/>
<path d="M884.3 908.9 L887.2 913.4 L888.7 917.5" stroke="#e3bd8d" stroke-width="4.5" stroke-linecap="round" fill="none" opacity="0.45"/>
<path d="M891.5 890.8 895.8 890.1 900.4 891.5 904.8 894.4 908.5 898.5 911.2 902.9 912.5 907.0 912.5 909.9 911.3 911.2 899.5 916.8 900.7 915.5 900.8 912.5 899.4 908.5 896.8 904.0 893.0 900.0 888.6 897.0 884.0 895.7 879.8 896.3Z" fill="#121212"/>
<path d="M898.9 897.2 L902.7 901.3 L905.3 905.7" stroke="#646464" stroke-width="4.5" stroke-linecap="round" fill="none" opacity="0.45"/>
<path d="M910.0 882.1 914.3 881.8 918.9 883.5 923.3 886.7 926.8 890.8 929.3 895.3 930.4 899.2 930.1 901.9 928.7 902.9 917.0 908.4 918.4 907.4 918.6 904.7 917.5 900.8 915.1 896.4 911.5 892.2 907.2 889.0 902.5 887.4 898.2 887.7Z" fill="#c87420"/>
<path d="M917.4 889.4 L921.0 893.6 L923.4 898.0" stroke="#dba46e" stroke-width="4.5" stroke-linecap="round" fill="none" opacity="0.45"/>
<path d="M928.4 873.6 932.8 873.6 937.4 875.5 941.7 878.9 945.1 883.2 947.3 887.6 948.2 891.3 947.7 893.8 946.2 894.5 934.4 900.0 936.0 899.3 936.4 896.9 935.6 893.1 933.4 888.7 929.9 884.5 925.7 881.1 921.1 879.2 916.7 879.1Z" fill="#c87420"/>
<path d="M935.8 881.7 L939.2 886.0 L941.5 890.4" stroke="#dba46e" stroke-width="4.5" stroke-linecap="round" fill="none" opacity="0.45"/>
<path d="M786.9 918.0 C787.6 918.5 789.4 920.5 790.9 921.0 C792.4 921.5 794.2 921.5 795.9 921.0 C797.6 920.5 800.1 918.5 800.9 918.0" fill="none" stroke="#111" stroke-width="2" stroke-linecap="round" stroke-linejoin="round"/>
<path d="M787.2 917.3 C786.6 918.5 784.4 921.4 783.7 924.4 C783.0 927.4 782.2 932.1 782.8 935.1 C783.4 938.1 784.7 940.1 787.2 942.2 C789.7 944.3 794.3 945.8 797.9 947.6 C801.5 949.4 805.9 951.2 808.6 952.9 C811.3 954.6 813.0 957.1 813.9 958.0" fill="none" stroke="#e07a1a" stroke-width="2.3" stroke-linecap="round" stroke-linejoin="round"/>
<path d="M810.5 936.3 C811.9 936.0 815.1 934.2 818.6 934.7 C822.1 935.2 830.1 937.4 831.7 939.6 C833.3 941.8 830.6 946.1 828.4 947.7 C826.2 949.3 820.2 949.0 818.6 949.3" fill="none" stroke="#e6e6e6" stroke-width="2.3" stroke-linecap="round" stroke-linejoin="round"/>
<path d="M832.9 943.0 C833.2 943.8 833.5 947.7 834.9 947.7 C836.3 947.7 839.3 944.1 841.5 942.8 C843.7 941.4 844.1 940.7 847.9 939.6 C851.7 938.5 860.0 936.7 864.3 936.3 C868.6 935.9 872.3 936.9 873.9 937.0" fill="none" stroke="#5a5a5a" stroke-width="2.3" stroke-linecap="round" stroke-linejoin="round"/>
<path d="M848.4 916.0 C850.1 917.5 855.0 922.0 858.9 925.0 C862.8 928.0 868.4 931.5 871.9 934.0 C875.4 936.5 877.6 937.7 879.9 940.0 C882.2 942.3 883.6 946.2 885.9 948.0 C888.2 949.8 892.6 950.5 893.9 951.0" fill="none" stroke="#e07a1a" stroke-width="2.3" stroke-linecap="round" stroke-linejoin="round"/>
<polygon points="772.3,959.2 785.3,949.1 801.4,947.9 812.0,951.6 811.4,953.5 819.9,950.0 815.2,942.1 814.5,944.0 802.4,940.1 782.5,941.9 767.5,952.8" fill="#e4e4e4"/>
<polygon points="770.7,965.9 792.2,961.5 812.6,963.0 812.5,965.0 819.9,959.5 813.3,953.0 813.2,955.0 791.6,953.5 769.1,958.1" fill="#d8d8d8"/>
<path d="M767.9 962.0 C767.7 960.0 766.2 953.3 766.9 950.0 C767.6 946.7 769.6 943.7 771.9 942.0 C774.2 940.3 779.4 940.3 780.9 940.0" fill="none" stroke="#d8d8d8" stroke-width="2.3" stroke-linecap="round" stroke-linejoin="round"/>
<polygon points="817.1,949.1 808.2,955.5 805.4,957.3 804.6,956.0 801.9,963.0 809.4,963.6 808.6,962.4 811.6,960.5 820.7,953.9" fill="#e07a1a"/>
<path d="M883.9 950.0 C885.1 950.0 888.7 950.3 890.9 950.0 C893.1 949.7 894.4 948.0 896.9 948.0 C899.4 948.0 903.1 949.2 905.9 950.0 C908.7 950.8 911.8 951.0 913.9 953.0 C916.0 955.0 918.0 958.8 918.4 962.0 C918.8 965.2 916.7 970.3 916.4 972.0" fill="none" stroke="#d9a050" stroke-width="2.3" stroke-linecap="round" stroke-linejoin="round"/>
<path d="M916.4 972.0 C918.5 972.5 924.1 974.4 928.9 975.0 C933.6 975.6 944.1 975.2 944.9 975.5 C945.7 975.8 937.4 976.1 933.9 976.5 C930.4 976.9 926.7 976.6 923.9 978.0 C921.1 979.4 918.9 983.0 916.9 985.0 C914.9 987.0 914.1 989.0 911.9 990.0 C909.7 991.0 906.9 990.8 903.9 991.0 C900.9 991.2 897.2 990.7 893.9 991.0 C890.6 991.3 887.1 992.0 883.9 993.0 C880.7 994.0 876.4 996.3 874.9 997.0" fill="none" stroke="#d9a050" stroke-width="2.3" stroke-linecap="round" stroke-linejoin="round"/>
<polygon points="891.9,946.0 899.9,945.0 896.9,952.0" fill="#d9a050"/>
<polygon points="917.9,978.0 927.9,984.0 919.9,989.0" fill="#d9a050"/>
<path d="M801.2 999.1 800.8 998.4 800.2 996.4 799.8 993.4 799.9 989.8 800.5 986.0 801.9 982.6 803.9 980.1 806.6 978.8 798.9 981.0 796.3 982.3 794.2 984.8 792.8 988.2 792.2 992.0 792.2 995.7 792.6 998.7 793.1 1000.6 793.6 1001.3Z" fill="#121212"/>
<path d="M797.6 990.7 799.6 993.8 800.8 996.5 801.3 998.4 801.2 999.1 793.6 1001.3 793.6 1000.6 793.1 998.7 791.9 996.0 789.9 993.0Z" fill="#1e1e1e"/>
<path d="M795.7 994.9 L796.9 997.6 L797.5 999.5" stroke="#6c6c6c" stroke-width="2.8" stroke-linecap="round" fill="none" opacity="0.45"/>
<path d="M806.6 978.8 809.6 978.8 812.7 980.1 815.5 982.5 817.9 985.5 818.9 988.7 819.6 991.4 820.1 993.1 812.5 995.3 812.0 993.7 811.2 991.0 810.2 987.7 807.9 984.7 805.0 982.4 801.9 981.0 798.9 981.0Z" fill="#1e1e1e"/>
<path d="M811.7 983.6 L814.1 986.6 L815.0 989.9" stroke="#6c6c6c" stroke-width="2.8" stroke-linecap="round" fill="none" opacity="0.45"/>
<path d="M827.9 987.0 826.3 984.7 824.9 980.8 824.0 975.7 824.1 970.2 825.1 965.2 827.2 961.3 830.2 959.1 833.8 958.9 820.7 962.4 817.1 962.6 814.2 964.8 812.1 968.7 811.0 973.7 811.0 979.2 811.8 984.3 813.2 988.2 814.8 990.5Z" fill="#b9b9b9"/>
<path d="M845.2 982.1 843.6 979.6 842.2 975.5 841.5 970.3 841.6 964.9 842.8 959.9 845.0 956.2 848.1 954.2 851.7 954.3 838.7 957.8 835.0 957.7 832.0 959.7 829.8 963.5 828.6 968.4 828.4 973.9 829.2 979.0 830.6 983.1 832.1 985.6Z" fill="#bcbcbc"/>
<path d="M863.9 977.9 862.5 977.2 860.9 974.5 859.6 970.2 859.0 965.0 859.2 959.6 860.5 954.7 862.8 951.2 866.0 949.4 852.9 952.9 849.8 954.7 847.5 958.2 846.2 963.1 845.9 968.5 846.6 973.7 847.9 978.0 849.5 980.7 850.9 981.4Z" fill="#c0c0c0"/>
<path d="M881.3 973.2 879.8 972.3 878.2 969.4 877.0 964.9 864.0 968.4 865.2 972.9 866.8 975.8 868.2 976.7Z" fill="#b8b8b8"/>
<path d="M828.6 977.6 829.8 982.1 829.9 985.5 829.2 987.2 827.9 987.0 814.8 990.5 816.2 990.7 816.9 989.0 816.7 985.6 815.5 981.1Z" fill="#e8e8e8"/>
<path d="M823.3 983.8 L823.4 987.2 L822.7 989.0" stroke="#f0f0f0" stroke-width="4.7" stroke-linecap="round" fill="none" opacity="0.45"/>
<path d="M833.8 958.9 837.5 960.6 841.1 964.1 844.1 968.6 846.3 973.5 847.3 977.9 847.4 981.1 846.6 982.6 845.2 982.1 832.1 985.6 833.5 986.1 834.4 984.6 834.3 981.4 833.2 977.0 831.1 972.1 828.1 967.6 824.5 964.1 820.7 962.4Z" fill="#e8c080"/>
<path d="M837.6 970.3 L839.7 975.2 L840.8 979.6" stroke="#f0d6ac" stroke-width="4.7" stroke-linecap="round" fill="none" opacity="0.45"/>
<path d="M851.7 954.3 855.5 956.3 859.0 959.8 861.9 964.5 863.9 969.3 864.9 973.6 864.8 976.7 863.9 977.9 850.9 981.4 851.8 980.2 851.9 977.1 850.9 972.8 848.9 968.0 846.0 963.4 842.4 959.8 838.7 957.8Z" fill="#f0f0f0"/>
<path d="M855.4 966.2 L857.4 971.1 L858.4 975.4" stroke="#f5f5f5" stroke-width="4.7" stroke-linecap="round" fill="none" opacity="0.45"/>
<path d="M866.0 949.4 869.6 949.7 873.4 951.9 876.9 955.6 879.7 960.3 881.6 965.1 882.4 969.3 882.3 972.2 881.3 973.2 868.2 976.7 869.2 975.7 869.4 972.8 868.6 968.7 866.7 963.8 863.9 959.2 860.4 955.4 856.6 953.2 852.9 952.9Z" fill="#e6e6e6"/>
<path d="M870.4 957.4 L873.2 962.1 L875.1 966.9" stroke="#eeeeee" stroke-width="4.7" stroke-linecap="round" fill="none" opacity="0.45"/>
<polygon points="864.4,959.6 874.4,965.6 877.3,967.2 876.1,969.4 884.9,968.0 881.5,959.8 880.2,962.0 877.4,960.4 867.4,954.4" fill="#e6e6e6"/>
<path d="M880.6 968.9 C881.1 970.0 884.4 973.9 883.9 975.4 C883.4 976.9 881.0 977.1 877.3 978.0 C873.6 978.9 866.8 979.8 861.9 981.0 C857.0 982.2 851.9 984.2 847.9 985.2 C843.9 986.2 839.6 986.7 837.9 987.0" fill="none" stroke="#d8d8d8" stroke-width="2.6" stroke-linecap="round" stroke-linejoin="round"/>
<path d="M757.4 1009.6 756.2 1008.1 754.8 1005.0 753.6 1000.7 753.1 995.7 753.6 990.9 755.0 986.8 757.5 983.9 760.8 982.8 746.1 989.0 742.8 990.2 740.3 993.0 738.8 997.1 738.4 1001.9 738.9 1006.9 740.0 1011.2 741.4 1014.3 742.7 1015.8Z" fill="#85632c"/>
<path d="M777.6 1000.9 776.3 999.1 774.9 995.7 773.9 991.3 773.5 986.3 774.1 981.5 775.7 977.6 778.4 975.0 781.8 974.2 767.1 980.4 763.6 981.3 761.0 983.8 759.3 987.8 758.8 992.5 759.1 997.5 760.2 1001.9 761.5 1005.3 762.8 1007.1Z" fill="#85632c"/>
<path d="M797.8 992.1 796.4 990.0 795.1 986.5 794.1 981.9 793.9 976.9 794.7 972.2 796.5 968.5 799.3 966.2 802.8 965.6 788.1 971.8 784.5 972.4 781.7 974.7 779.9 978.4 779.1 983.1 779.4 988.1 780.3 992.7 781.7 996.2 783.0 998.3Z" fill="#85632c"/>
<path d="M818.9 983.9 817.9 983.3 816.5 980.9 815.2 977.2 814.4 972.5 799.6 978.7 800.5 983.4 801.8 987.2 803.2 989.5 804.2 990.2Z" fill="#85632c"/>
<path d="M747.6 993.6 751.4 996.8 754.5 1000.6 756.8 1004.4 757.9 1007.5 758.1 1009.4 757.4 1009.6 742.7 1015.8 743.4 1015.6 743.2 1013.7 742.0 1010.6 739.8 1006.8 736.6 1003.0 732.9 999.8Z" fill="#d8a048"/>
<path d="M747.2 1003.7 L749.4 1007.5 L750.6 1010.6" stroke="#e5c188" stroke-width="5.6" stroke-linecap="round" fill="none" opacity="0.45"/>
<path d="M760.8 982.8 764.7 983.3 768.7 985.5 772.3 988.8 775.3 992.6 777.4 996.4 778.4 999.3 778.4 1000.9 777.6 1000.9 762.8 1007.1 763.7 1007.1 763.7 1005.5 762.6 1002.6 760.6 998.9 757.6 995.0 753.9 991.7 750.0 989.6 746.1 989.0Z" fill="#d8a048"/>
<path d="M765.0 991.9 L768.0 995.8 L770.0 999.5" stroke="#e5c188" stroke-width="5.6" stroke-linecap="round" fill="none" opacity="0.45"/>
<path d="M781.8 974.2 785.7 975.0 789.7 977.4 793.2 980.8 796.1 984.7 798.0 988.4 798.8 991.1 798.7 992.5 797.8 992.1 783.0 998.3 783.9 998.7 784.1 997.3 783.3 994.6 781.4 990.9 778.5 987.0 774.9 983.6 771.0 981.2 767.1 980.4Z" fill="#d8a048"/>
<path d="M785.9 983.9 L788.7 987.8 L790.6 991.5" stroke="#e5c188" stroke-width="5.6" stroke-linecap="round" fill="none" opacity="0.45"/>
<path d="M802.8 965.6 806.7 966.7 810.7 969.3 814.1 972.9 816.8 976.8 818.6 980.3 819.2 982.9 818.9 983.9 804.2 990.2 804.5 989.1 803.8 986.5 802.1 983.0 799.4 979.1 795.9 975.5 792.0 972.9 788.1 971.8Z" fill="#d8a048"/>
<path d="M806.8 976.0 L809.5 979.9 L811.2 983.4" stroke="#e5c188" stroke-width="5.6" stroke-linecap="round" fill="none" opacity="0.45"/>
<path d="M759.8 1029.9 758.8 1029.0 757.8 1026.4 757.1 1022.5 757.1 1017.9 757.9 1013.2 759.5 1009.1 762.0 1006.3 765.2 1005.1 751.5 1008.2 748.4 1009.4 745.9 1012.2 744.2 1016.3 743.4 1021.0 743.5 1025.6 744.1 1029.5 745.1 1032.1 746.1 1033.0Z" fill="#b89e73"/>
<path d="M778.6 1025.4 777.6 1023.9 776.6 1020.8 776.2 1016.6 776.4 1011.9 777.5 1007.3 779.4 1003.6 782.2 1001.3 785.5 1000.8 771.8 1003.9 768.5 1004.4 765.8 1006.7 763.8 1010.4 762.7 1015.0 762.5 1019.7 763.0 1024.0 763.9 1027.0 764.9 1028.5Z" fill="#b89e73"/>
<path d="M797.4 1020.7 796.3 1018.7 782.7 1021.8 783.7 1023.9Z" fill="#b89e73"/>
<path d="M759.4 1022.8 760.3 1026.4 760.4 1028.9 759.8 1029.9 746.1 1033.0 746.7 1032.0 746.6 1029.5 745.7 1025.9Z" fill="#e6c690"/>
<path d="M753.5 1028.0 L753.5 1030.5 L752.9 1031.4" stroke="#eed9b6" stroke-width="4.9" stroke-linecap="round" fill="none" opacity="0.45"/>
<path d="M765.2 1005.1 768.6 1005.7 772.0 1008.0 775.0 1011.5 777.4 1015.7 778.9 1019.8 779.5 1023.1 779.4 1025.1 778.6 1025.4 764.9 1028.5 765.7 1028.2 765.9 1026.2 765.3 1022.9 763.8 1018.8 761.4 1014.6 758.4 1011.1 755.0 1008.8 751.5 1008.2Z" fill="#e6c690"/>
<path d="M768.2 1013.1 L770.6 1017.2 L772.1 1021.3" stroke="#eed9b6" stroke-width="4.9" stroke-linecap="round" fill="none" opacity="0.45"/>
<path d="M785.5 1000.8 788.9 1002.0 792.3 1004.8 795.1 1008.6 797.2 1012.8 798.4 1016.7 798.7 1019.6 798.3 1021.1 797.4 1020.7 783.7 1023.9 784.6 1024.2 785.0 1022.7 784.7 1019.8 783.5 1015.9 781.4 1011.7 778.6 1007.9 775.3 1005.1 771.8 1003.9Z" fill="#e6c690"/>
<path d="M788.3 1010.1 L790.3 1014.4 L791.5 1018.3" stroke="#eed9b6" stroke-width="4.9" stroke-linecap="round" fill="none" opacity="0.45"/>
<polygon points="742.1,1025.1 745.2,1035.5 750.3,1045.8 757.5,1042.2 752.6,1032.5 749.7,1022.9" fill="#e9d0a0"/>
<path d="M811.5 1012.6 811.0 1011.7 810.7 1009.3 810.8 1005.8 811.6 1001.6 813.1 997.5 815.3 994.0 818.1 991.6 821.3 990.9 808.3 991.8 805.2 992.6 802.4 994.9 800.1 998.4 798.6 1002.6 797.8 1006.7 797.7 1010.3 798.0 1012.7 798.6 1013.6Z" fill="#bfbfbf"/>
<path d="M833.0 1011.0 832.5 1009.8 832.2 1007.1 832.5 1003.4 833.4 999.2 835.1 995.1 837.5 991.8 840.4 989.8 843.6 989.3 830.6 990.3 827.4 990.7 824.5 992.7 822.1 996.0 820.4 1000.1 819.5 1004.3 819.3 1008.0 819.5 1010.7 820.0 1011.9Z" fill="#bfbfbf"/>
<path d="M854.5 1009.3 854.0 1007.7 853.8 1004.8 854.2 1000.9 855.3 996.7 857.1 992.7 859.6 989.7 862.6 988.0 865.8 987.9 852.9 988.8 849.6 988.9 846.6 990.6 844.1 993.7 842.3 997.6 841.2 1001.9 840.8 1005.8 841.0 1008.7 841.5 1010.2Z" fill="#bfbfbf"/>
<path d="M875.9 1007.5 875.5 1005.6 875.4 1002.5 875.9 998.5 877.2 994.2 879.2 990.4 881.8 987.6 884.9 986.2 886.7 986.6 873.7 987.5 871.9 987.2 868.8 988.6 866.2 991.4 864.2 995.2 863.0 999.4 862.5 1003.4 862.5 1006.6 863.0 1008.5Z" fill="#bfbfbf"/>
<path d="M810.1 1002.2 811.4 1006.2 812.0 1009.6 811.9 1011.8 811.5 1012.6 798.6 1013.6 799.0 1012.8 799.0 1010.5 798.4 1007.1 797.1 1003.1Z" fill="#efefef"/>
<path d="M804.9 1006.6 L805.5 1010.0 L805.4 1012.3" stroke="#f4f4f4" stroke-width="4.5" stroke-linecap="round" fill="none" opacity="0.45"/>
<path d="M821.3 990.9 824.6 991.7 827.6 994.0 830.1 997.5 832.0 1001.5 833.1 1005.4 833.6 1008.6 833.4 1010.6 833.0 1011.0 820.0 1011.9 820.5 1011.5 820.6 1009.5 820.2 1006.3 819.0 1002.4 817.2 998.4 814.6 995.0 811.6 992.6 808.3 991.8Z" fill="#efefef"/>
<path d="M823.6 997.9 L825.5 1001.9 L826.7 1005.8" stroke="#f4f4f4" stroke-width="4.5" stroke-linecap="round" fill="none" opacity="0.45"/>
<path d="M843.6 989.3 846.8 990.5 849.7 993.1 852.2 996.7 853.9 1000.7 854.9 1004.5 855.2 1007.5 854.9 1009.2 854.5 1009.3 841.5 1010.2 842.0 1010.1 842.2 1008.5 841.9 1005.5 840.9 1001.7 839.2 997.6 836.8 994.0 833.8 991.4 830.6 990.3Z" fill="#efefef"/>
<path d="M845.7 997.2 L847.4 1001.2 L848.4 1005.0" stroke="#f4f4f4" stroke-width="4.5" stroke-linecap="round" fill="none" opacity="0.45"/>
<path d="M865.8 987.9 869.0 989.4 871.9 992.2 874.2 996.0 875.7 1000.0 876.6 1003.7 876.7 1006.4 876.4 1007.8 875.9 1007.5 863.0 1008.5 863.5 1008.7 863.8 1007.4 863.6 1004.6 862.8 1000.9 861.2 996.9 858.9 993.2 856.1 990.3 852.9 988.8Z" fill="#efefef"/>
<path d="M867.7 996.4 L869.3 1000.5 L870.1 1004.2" stroke="#f4f4f4" stroke-width="4.5" stroke-linecap="round" fill="none" opacity="0.45"/>
<path d="M809.9 1035.1 808.4 1033.8 807.0 1030.5 806.1 1025.7 806.0 1020.1 806.8 1014.6 808.7 1009.9 811.5 1006.7 815.1 1005.5 800.4 1008.7 796.9 1009.9 794.0 1013.1 792.1 1017.7 791.3 1023.3 791.5 1028.9 792.4 1033.6 793.8 1037.0 795.2 1038.3Z" fill="#d4d4d4"/>
<path d="M829.0 1030.9 827.5 1029.3 826.2 1025.8 825.3 1020.9 825.2 1015.3 826.2 1009.8 828.2 1005.3 831.1 1002.3 834.7 1001.4 820.0 1004.6 816.4 1005.5 813.5 1008.5 811.5 1013.0 810.6 1018.5 810.6 1024.1 811.5 1029.0 812.9 1032.5 814.3 1034.1Z" fill="#d4d4d4"/>
<path d="M848.1 1026.7 846.6 1024.9 845.3 1021.2 844.5 1016.2 844.5 1010.6 845.6 1005.1 847.7 1000.7 850.7 998.0 854.3 997.2 839.7 1000.4 836.0 1001.1 833.0 1003.9 830.9 1008.3 829.8 1013.8 829.8 1019.4 830.6 1024.4 831.9 1028.1 833.4 1029.9Z" fill="#343434"/>
<path d="M867.2 1022.4 865.7 1020.4 864.4 1016.6 863.7 1011.5 863.8 1005.8 865.0 1000.5 867.2 996.2 870.3 993.6 873.6 993.1 859.0 996.3 855.6 996.8 852.5 999.4 850.3 1003.6 849.1 1009.0 849.0 1014.6 849.7 1019.8 851.0 1023.6 852.5 1025.6Z" fill="#343434"/>
<path d="M806.5 1017.4 809.1 1022.4 810.8 1027.4 811.4 1031.7 811.0 1034.4 809.9 1035.1 795.2 1038.3 796.3 1037.6 796.7 1034.9 796.1 1030.6 794.5 1025.6 791.9 1020.6Z" fill="#ececec"/>
<path d="M803.5 1029.0 L804.0 1033.3 L803.6 1036.0" stroke="#f2f2f2" stroke-width="5.2" stroke-linecap="round" fill="none" opacity="0.45"/>
<path d="M815.1 1005.5 818.9 1006.5 822.7 1009.4 826.1 1013.7 828.6 1018.8 830.1 1023.7 830.6 1027.8 830.1 1030.4 829.0 1030.9 814.3 1034.1 815.5 1033.6 815.9 1031.0 815.5 1026.9 813.9 1021.9 811.4 1016.9 808.1 1012.6 804.3 1009.7 800.4 1008.7Z" fill="#ececec"/>
<path d="M818.7 1015.3 L821.3 1020.4 L822.8 1025.3" stroke="#f2f2f2" stroke-width="5.2" stroke-linecap="round" fill="none" opacity="0.45"/>
<path d="M834.7 1001.4 838.6 1002.5 842.3 1005.6 845.6 1010.0 848.0 1015.1 849.4 1020.0 849.8 1024.0 849.3 1026.3 848.1 1026.7 833.4 1029.9 834.6 1029.5 835.2 1027.2 834.8 1023.2 833.4 1018.3 830.9 1013.2 827.7 1008.8 823.9 1005.7 820.0 1004.6Z" fill="#e4e4e4"/>
<path d="M838.3 1011.6 L840.7 1016.7 L842.1 1021.6" stroke="#ededed" stroke-width="5.2" stroke-linecap="round" fill="none" opacity="0.45"/>
<path d="M854.3 997.2 858.2 998.6 861.9 1001.8 865.1 1006.3 867.5 1011.5 868.8 1016.3 869.0 1020.2 868.4 1022.3 867.2 1022.4 852.5 1025.6 853.7 1025.5 854.4 1023.3 854.1 1019.5 852.8 1014.6 850.5 1009.5 847.3 1005.0 843.6 1001.8 839.7 1000.4Z" fill="#3a3a3a"/>
<path d="M857.8 1007.9 L860.1 1013.1 L861.4 1017.9" stroke="#7e7e7e" stroke-width="5.2" stroke-linecap="round" fill="none" opacity="0.45"/>
<path d="M873.6 993.1 874.1 995.5 859.5 998.6 859.0 996.3Z" fill="#3a3a3a"/>
<path d="M866.3 994.7 L866.8 997.0" stroke="#7e7e7e" stroke-width="5.2" stroke-linecap="round" fill="none" opacity="0.45"/>
<path d="M919.1 1031.9 916.9 1031.3 914.6 1028.8 912.5 1024.9 911.2 1020.0 911.1 1014.8 912.4 1010.1 915.0 1006.5 918.6 1004.5 909.7 1009.0 906.0 1011.0 903.4 1014.6 902.2 1019.3 902.3 1024.4 903.6 1029.3 905.6 1033.3 908.0 1035.7 910.1 1036.4Z" fill="#585858"/>
<path d="M935.8 1023.4 933.6 1022.3 931.2 1019.5 929.3 1015.3 928.3 1010.3 928.4 1005.2 930.0 1000.7 932.8 997.4 936.6 995.7 927.7 1000.2 923.9 1001.9 921.0 1005.2 919.5 1009.7 919.3 1014.8 920.4 1019.8 922.3 1024.0 924.6 1026.8 926.9 1027.8Z" fill="#585858"/>
<path d="M919.6 1024.5 920.7 1028.2 920.4 1030.8 919.1 1031.9 910.1 1036.4 911.5 1035.3 911.8 1032.6 910.7 1029.0Z" fill="#8e8e8e"/>
<path d="M916.2 1030.4 L916.0 1033.1 L914.6 1034.2" stroke="#b5b5b5" stroke-width="3.5" stroke-linecap="round" fill="none" opacity="0.45"/>
<path d="M918.6 1004.5 923.0 1004.3 927.5 1005.8 931.7 1008.8 935.0 1012.7 937.1 1016.7 937.9 1020.3 937.4 1022.6 935.8 1023.4 926.9 1027.8 928.5 1027.1 929.0 1024.7 928.2 1021.2 926.1 1017.2 922.7 1013.3 918.6 1010.3 914.0 1008.8 909.7 1009.0Z" fill="#8e8e8e"/>
<path d="M927.2 1011.1 L930.5 1014.9 L932.7 1019.0" stroke="#b5b5b5" stroke-width="3.5" stroke-linecap="round" fill="none" opacity="0.45"/>
<path d="M936.6 995.7 939.2 996.8 940.9 1000.1 943.0 1004.3 934.0 1008.8 931.9 1004.6 930.3 1001.3 927.7 1000.2Z" fill="#8e8e8e"/>
<path d="M934.7 999.1 L936.4 1002.4 L938.5 1006.6" stroke="#b5b5b5" stroke-width="3.5" stroke-linecap="round" fill="none" opacity="0.45"/>
<path d="M896.9 991.7 C898.4 992.4 902.4 994.5 905.9 996.0 C909.4 997.5 915.9 1000.2 917.9 1001.0" fill="none" stroke="#d9963a" stroke-width="2.3" stroke-linecap="round" stroke-linejoin="round"/>
<path d="M878.7 1019.7 878.8 1017.9 879.1 1015.2 879.8 1012.0 881.1 1008.7 882.9 1005.8 885.3 1003.6 888.0 1002.5 891.0 1002.7 884.1 1003.8 881.1 1003.7 878.4 1004.8 876.0 1006.9 874.2 1009.9 872.9 1013.2 872.2 1016.4 871.9 1019.1 871.8 1020.8Z" fill="#774109"/>
<path d="M874.9 1012.8 876.6 1015.6 877.8 1018.1 878.4 1019.7 878.7 1020.3 878.7 1019.7 871.8 1020.8 871.8 1021.5 871.5 1020.9 870.9 1019.2 869.7 1016.8 868.0 1014.0Z" fill="#c06a10"/>
<path d="M874.3 1018.7 L875.0 1020.3 L875.2 1020.9" stroke="#d69e63" stroke-width="2.4" stroke-linecap="round" fill="none" opacity="0.45"/>
<path d="M891.0 1002.7 893.9 1003.9 894.8 1006.4 895.4 1009.4 888.4 1010.6 887.9 1007.6 887.0 1005.1 884.1 1003.8Z" fill="#c06a10"/>
<path d="M890.5 1004.5 L891.4 1007.0 L891.9 1010.0" stroke="#d69e63" stroke-width="2.4" stroke-linecap="round" fill="none" opacity="0.45"/>
<polygon points="880.9,1019.8 886.7,1029.3 888.5,1037.8 895.3,1036.2 893.1,1026.7 886.9,1016.2" fill="#f0b860"/>
<polygon points="878.9,1031.0 894.9,1033.0 893.9,1050.0 883.9,1047.0" fill="#f6ad55"/>
<path d="M906.7 1052.5 904.7 1052.6 902.7 1050.6 900.4 1047.2 897.8 1043.2 896.4 1038.4 896.5 1033.5 898.1 1029.2 901.0 1026.2 893.1 1031.5 890.2 1034.5 888.6 1038.7 888.5 1043.7 889.8 1048.5 892.5 1052.5 894.8 1055.9 896.8 1057.8 898.8 1057.8Z" fill="#7c450e"/>
<path d="M922.7 1041.8 920.7 1041.9 918.2 1040.3 915.6 1037.1 913.5 1032.7 912.4 1027.7 912.5 1022.8 904.6 1028.1 904.5 1033.0 905.6 1038.0 907.7 1042.3 910.3 1045.5 912.8 1047.2 914.8 1047.1Z" fill="#7c450e"/>
<path d="M907.2 1047.9 907.6 1050.8 906.7 1052.5 898.8 1057.8 899.7 1056.1 899.3 1053.2Z" fill="#c87018"/>
<path d="M903.2 1050.6 L903.6 1053.5 L902.7 1055.1" stroke="#dba268" stroke-width="3.3" stroke-linecap="round" fill="none" opacity="0.45"/>
<path d="M901.0 1026.2 905.0 1024.8 909.5 1025.1 914.1 1027.0 918.2 1030.0 921.3 1033.7 923.2 1037.3 923.6 1040.2 922.7 1041.8 914.8 1047.1 915.7 1045.4 915.3 1042.5 913.4 1038.9 910.3 1035.3 906.2 1032.3 901.6 1030.4 897.1 1030.1 893.1 1031.5Z" fill="#c87018"/>
<path d="M910.1 1029.6 L914.2 1032.7 L917.4 1036.3" stroke="#dba268" stroke-width="3.3" stroke-linecap="round" fill="none" opacity="0.45"/>
<polygon points="857.9,1033.0 876.9,1036.0 874.9,1044.0 859.9,1041.0" fill="#c4c4c4"/>
<path d="M803.9 1066.7 C806.4 1066.7 813.4 1067.8 818.6 1066.7 C823.8 1065.6 830.0 1061.8 834.9 1060.2 C839.8 1058.6 844.1 1056.5 847.9 1057.0 C851.7 1057.5 853.7 1060.4 857.8 1063.4 C861.9 1066.4 867.0 1071.0 872.4 1074.8 C877.8 1078.6 886.3 1083.8 890.4 1086.2 C894.5 1088.7 895.8 1089.0 896.9 1089.5" fill="none" stroke="#d9963a" stroke-width="2.3" stroke-linecap="round" stroke-linejoin="round"/>
<path d="M806.1 1068.2 805.0 1066.6 804.0 1063.4 803.4 1059.1 803.6 1054.4 804.6 1049.9 806.5 1046.3 809.2 1044.0 812.4 1043.5 798.4 1047.2 795.1 1047.7 792.5 1049.9 790.5 1053.6 789.5 1058.1 789.4 1062.8 790.0 1067.1 791.0 1070.3 792.1 1071.9Z" fill="#232323"/>
<path d="M824.6 1063.1 823.5 1061.0 822.6 1057.5 822.1 1053.1 822.5 1048.3 823.7 1044.0 825.8 1040.6 828.7 1038.8 832.0 1038.7 818.0 1042.4 814.7 1042.5 811.8 1044.3 809.7 1047.7 808.5 1052.0 808.1 1056.7 808.6 1061.2 809.5 1064.7 810.6 1066.7Z" fill="#232323"/>
<path d="M844.1 1058.5 843.1 1057.8 842.0 1055.3 841.2 1051.6 840.9 1047.0 841.5 1042.3 842.9 1038.1 845.2 1035.1 848.2 1033.7 834.2 1037.4 831.2 1038.8 828.9 1041.8 827.4 1045.9 826.9 1050.7 827.2 1055.2 828.0 1059.0 829.1 1061.5 830.1 1062.2Z" fill="#232323"/>
<path d="M862.7 1053.6 861.6 1052.4 847.6 1056.1 848.6 1057.3Z" fill="#232323"/>
<path d="M805.1 1059.3 806.6 1063.2 807.2 1066.4 806.9 1068.1 806.1 1068.2 792.1 1071.9 792.9 1071.8 793.1 1070.0 792.6 1066.9 791.1 1063.0Z" fill="#3a3a3a"/>
<path d="M799.6 1065.1 L800.2 1068.2 L799.9 1070.0" stroke="#7e7e7e" stroke-width="5.1" stroke-linecap="round" fill="none" opacity="0.45"/>
<path d="M812.4 1043.5 815.9 1044.8 819.3 1047.5 822.1 1051.2 824.3 1055.3 825.6 1059.1 825.9 1062.0 825.5 1063.4 824.6 1063.1 810.6 1066.7 811.5 1067.1 811.9 1065.7 811.5 1062.8 810.3 1059.0 808.1 1054.9 805.2 1051.2 801.9 1048.4 798.4 1047.2Z" fill="#3a3a3a"/>
<path d="M815.1 1053.1 L817.3 1057.2 L818.6 1061.0" stroke="#7e7e7e" stroke-width="5.1" stroke-linecap="round" fill="none" opacity="0.45"/>
<path d="M832.0 1038.7 835.5 1040.3 838.8 1043.4 841.5 1047.3 843.4 1051.4 844.5 1055.0 844.7 1057.5 844.1 1058.5 830.1 1062.2 830.6 1061.2 830.5 1058.7 829.4 1055.1 827.5 1051.0 824.8 1047.1 821.5 1044.0 818.0 1042.4Z" fill="#3a3a3a"/>
<path d="M834.5 1049.1 L836.4 1053.2 L837.5 1056.8" stroke="#7e7e7e" stroke-width="5.1" stroke-linecap="round" fill="none" opacity="0.45"/>
<path d="M848.2 1033.7 851.6 1034.0 855.1 1036.0 858.3 1039.3 860.8 1043.3 862.5 1047.4 863.4 1050.8 863.3 1053.0 862.7 1053.6 848.6 1057.3 849.3 1056.7 849.3 1054.5 848.5 1051.1 846.8 1047.0 844.2 1043.0 841.1 1039.7 837.6 1037.7 834.2 1037.4Z" fill="#3a3a3a"/>
<path d="M851.2 1041.2 L853.8 1045.2 L855.5 1049.2" stroke="#7e7e7e" stroke-width="5.1" stroke-linecap="round" fill="none" opacity="0.45"/>
<path d="M764.0 1055.4 764.6 1054.4 765.2 1052.5 766.1 1049.8 767.4 1046.8 769.3 1043.9 771.7 1041.7 774.5 1040.3 776.7 1040.2 768.9 1041.6 766.7 1041.7 763.9 1043.1 761.5 1045.4 759.6 1048.2 758.2 1051.2 757.3 1053.9 756.7 1055.8 756.2 1056.8Z" fill="#1c1c1c"/>
<path d="M758.7 1049.8 760.8 1052.1 762.3 1054.0 763.3 1055.2 764.0 1055.4 756.2 1056.8 755.5 1056.6 754.4 1055.5 752.9 1053.5 750.8 1051.2Z" fill="#2e2e2e"/>
<path d="M756.8 1052.8 L758.4 1054.7 L759.4 1055.9" stroke="#777777" stroke-width="2.8" stroke-linecap="round" fill="none" opacity="0.45"/>
<path d="M775.9 1052.0 C776.4 1051.2 777.6 1047.7 778.9 1047.0 C780.2 1046.3 783.1 1047.8 783.9 1048.0" fill="none" stroke="#dca862" stroke-width="2.3" stroke-linecap="round" stroke-linejoin="round"/>
<path d="M792.2 1074.9 792.6 1073.4 793.1 1071.1 794.0 1068.4 795.3 1065.6 797.0 1063.1 799.2 1061.2 801.8 1060.2 804.6 1060.1 797.7 1061.5 794.9 1061.6 792.4 1062.6 790.2 1064.5 788.4 1067.0 787.1 1069.8 786.2 1072.5 785.7 1074.7 785.4 1076.2Z" fill="#88683c"/>
<path d="M787.2 1069.7 789.0 1071.9 790.4 1073.8 791.3 1075.0 791.9 1075.4 792.2 1074.9 785.4 1076.2 785.0 1076.8 784.4 1076.4 783.5 1075.2 782.2 1073.3 780.3 1071.1Z" fill="#dca862"/>
<path d="M787.0 1074.5 L787.9 1075.7 L788.4 1076.1" stroke="#e8c698" stroke-width="2.4" stroke-linecap="round" fill="none" opacity="0.45"/>
<path d="M804.6 1060.1 807.3 1061.0 808.8 1062.9 809.3 1065.3 802.5 1066.7 802.0 1064.2 800.5 1062.4 797.7 1061.5Z" fill="#dca862"/>
<path d="M803.9 1061.7 L805.4 1063.6 L805.9 1066.0" stroke="#e8c698" stroke-width="2.4" stroke-linecap="round" fill="none" opacity="0.45"/>
<path d="M899.4 1085.8 897.6 1085.2 895.5 1083.0 893.5 1079.4 892.1 1074.8 891.8 1069.7 892.8 1065.0 895.0 1061.1 898.5 1058.6 889.9 1063.7 886.5 1066.2 884.2 1070.1 883.2 1074.9 883.6 1079.9 884.9 1084.5 886.9 1088.2 889.1 1090.4 890.8 1090.9Z" fill="#b1b1b1"/>
<path d="M919.4 1073.8 917.6 1073.2 915.5 1071.0 913.5 1067.4 912.1 1062.8 911.8 1057.7 903.2 1062.9 903.6 1067.9 904.9 1072.5 906.9 1076.2 909.1 1078.4 910.8 1078.9Z" fill="#b1b1b1"/>
<path d="M898.6 1079.1 900.1 1082.4 900.3 1084.8 899.4 1085.8 890.8 1090.9 891.8 1089.9 891.5 1087.5 890.0 1084.3Z" fill="#dedede"/>
<path d="M895.8 1084.9 L896.1 1087.3 L895.1 1088.4" stroke="#e9e9e9" stroke-width="3.5" stroke-linecap="round" fill="none" opacity="0.45"/>
<path d="M898.5 1058.6 902.7 1057.6 907.4 1058.3 911.9 1060.5 915.7 1063.6 918.6 1067.1 920.1 1070.4 920.3 1072.8 919.4 1073.8 910.8 1078.9 911.8 1077.9 911.5 1075.5 910.0 1072.3 907.2 1068.7 903.3 1065.6 898.8 1063.5 894.2 1062.8 889.9 1063.7Z" fill="#dedede"/>
<path d="M907.6 1063.0 L911.4 1066.2 L914.3 1069.7" stroke="#e9e9e9" stroke-width="3.5" stroke-linecap="round" fill="none" opacity="0.45"/>
<path d="M913.9 1072.0 C913.6 1073.7 913.9 1079.3 911.9 1082.0 C909.9 1084.7 904.4 1086.8 901.9 1088.0 C899.4 1089.2 897.7 1089.2 896.9 1089.5" fill="none" stroke="#dedede" stroke-width="2.3" stroke-linecap="round" stroke-linejoin="round"/>
<path d="M722.9 1032.0 C725.0 1034.0 731.2 1042.5 735.5 1043.9 C739.8 1045.3 745.3 1040.1 748.6 1040.6 C751.9 1041.1 752.9 1045.5 755.1 1047.1 C757.3 1048.7 760.5 1049.9 761.6 1050.4" fill="none" stroke="#e07818" stroke-width="2.6" stroke-linecap="round" stroke-linejoin="round"/>
<path d="M794.2 1021.0 C795.0 1018.8 796.1 1010.4 799.1 1008.0 C802.1 1005.6 809.4 1005.3 812.1 1006.4 C814.8 1007.5 812.1 1012.1 815.4 1014.5 C818.7 1016.9 826.3 1019.4 831.7 1021.0 C837.1 1022.6 843.5 1021.6 847.9 1024.3 C852.2 1027.0 853.7 1033.2 857.8 1037.3 C861.9 1041.4 867.2 1047.3 872.4 1048.7 C877.5 1050.1 885.1 1047.0 888.7 1045.5 C892.3 1044.0 893.0 1040.9 893.9 1040.0" fill="none" stroke="#d9982e" stroke-width="2.4" stroke-linecap="round" stroke-linejoin="round"/>
<path d="M851.2 1037.3 C853.4 1039.2 859.4 1046.5 864.3 1049.0 C869.2 1051.5 875.7 1052.5 880.6 1052.0 C885.5 1051.5 891.4 1047.0 893.6 1046.0" fill="none" stroke="#e08a2a" stroke-width="2.2" stroke-linecap="round" stroke-linejoin="round"/>
<path d="M812.9 916.0 C813.6 915.5 815.2 913.4 816.9 913.0 C818.6 912.6 821.4 912.8 822.9 913.5 C824.4 914.2 826.1 915.9 825.9 917.0 C825.7 918.1 823.6 919.6 821.9 920.0 C820.2 920.4 817.4 920.2 815.9 919.5 C814.4 918.8 813.4 916.6 812.9 916.0" fill="none" stroke="#2438ff" stroke-width="1.8" stroke-linecap="round" stroke-linejoin="round"/>
<path d="M822.9 916.0 C823.9 915.8 827.1 914.5 828.9 915.0 C830.7 915.5 833.1 918.3 833.9 919.0" fill="none" stroke="#222" stroke-width="2.2" stroke-linecap="round" stroke-linejoin="round"/>
<path d="M828.9 918.0 C829.7 917.8 832.4 916.3 833.9 917.0 C835.4 917.7 837.7 920.0 837.9 922.0 C838.1 924.0 836.1 927.2 834.9 929.0 C833.7 930.8 832.1 933.0 830.9 933.0 C829.7 933.0 828.1 930.8 827.9 929.0 C827.7 927.2 829.6 923.2 829.9 922.0" fill="none" stroke="#111" stroke-width="3.2" stroke-linecap="round" stroke-linejoin="round"/>
<path d="M829.9 921.0 C830.7 921.5 834.4 922.5 834.9 924.0 C835.4 925.5 833.2 929.0 832.9 930.0" fill="none" stroke="#555" stroke-width="2.4" stroke-linecap="round" stroke-linejoin="round"/>
<path d="M826.9 931.0 L822.9 935.0" fill="none" stroke="#e04040" stroke-width="2" stroke-linecap="round" stroke-linejoin="round"/>
<path d="M834.9 929.0 C835.7 928.7 838.1 927.3 839.9 927.0 C841.7 926.7 844.9 927.0 845.9 927.0" fill="none" stroke="#111" stroke-width="2.6" stroke-linecap="round" stroke-linejoin="round"/>
<path d="M845.9 927.0 C846.7 927.0 849.7 926.2 850.9 927.0 C852.1 927.8 852.2 930.2 852.9 932.0 C853.6 933.8 853.7 936.7 854.9 938.0 C856.1 939.3 858.1 939.7 859.9 940.0 C861.7 940.3 863.9 939.8 865.9 940.0 C867.9 940.2 870.9 940.8 871.9 941.0" fill="none" stroke="#e8641e" stroke-width="2.4" stroke-linecap="round" stroke-linejoin="round"/>
<path d="M850.9 923.0 L852.9 932.0" fill="none" stroke="#f08a20" stroke-width="2" stroke-linecap="round" stroke-linejoin="round"/>
<path d="M848.9 933.0 L856.9 932.0" fill="none" stroke="#e04040" stroke-width="1.8" stroke-linecap="round" stroke-linejoin="round"/>
<path d="M857.9 936.0 L857.9 945.0" fill="none" stroke="#e04040" stroke-width="1.8" stroke-linecap="round" stroke-linejoin="round"/>
<path d="M859.9 940.0 L864.9 940.0" fill="none" stroke="#2438ff" stroke-width="2.2" stroke-linecap="round" stroke-linejoin="round"/>
<path d="M867.9 935.0 L868.9 946.0" fill="none" stroke="#f08a20" stroke-width="2" stroke-linecap="round" stroke-linejoin="round"/>
<path d="M864.9 944.0 L872.9 944.0" fill="none" stroke="#e04040" stroke-width="1.8" stroke-linecap="round" stroke-linejoin="round"/>
<text x="765.9" y="918.2" font-size="27.5" font-weight="bold" font-family='"Liberation Sans", sans-serif'>ATP</text>
<text x="921.1" y="868.4" font-size="28.8" font-weight="bold" font-family='"Liberation Sans", sans-serif'><tspan font-family='"Liberation Serif", serif' font-weight="normal">α</tspan>C</text>
<path d="M1038.9 869.3 C1037.7 866.6 1034.5 858.9 1031.8 853.3 C1029.1 847.7 1024.5 839.3 1022.9 835.6 C1021.3 831.9 1020.9 832.6 1022.1 831.1 C1023.3 829.6 1026.7 829.2 1030.1 826.7 C1033.5 824.2 1039.2 818.2 1042.5 816.0 C1045.8 813.8 1046.9 813.3 1049.6 813.3 C1052.3 813.3 1056.4 813.8 1058.5 816.0 C1060.6 818.2 1062.1 823.4 1062.1 826.7 C1062.1 830.0 1060.6 833.7 1058.5 835.6 C1056.4 837.5 1051.4 836.4 1049.6 838.2 C1047.8 840.0 1047.2 843.1 1047.8 846.2 C1048.4 849.3 1052.3 855.1 1053.2 856.9" fill="none" stroke="#e2e2e2" stroke-width="2.3" stroke-linecap="round" stroke-linejoin="round"/>
<path d="M1106.5 858.7 C1107.7 857.5 1110.3 854.0 1113.6 851.6 C1116.9 849.2 1123.4 846.0 1126.1 844.4 C1128.8 842.8 1128.9 842.4 1129.5 842.0" fill="none" stroke="#d9963a" stroke-width="2.3" stroke-linecap="round" stroke-linejoin="round"/>
<path d="M1129.5 842.0 L1134.9 840.9" fill="none" stroke="#d9963a" stroke-width="2.3" stroke-linecap="round" stroke-linejoin="round"/>
<path d="M1134.9 840.9 C1135.8 840.9 1139.1 839.7 1140.3 840.9 C1141.5 842.1 1142.4 844.5 1142.1 848.0 C1141.8 851.5 1140.0 858.7 1138.5 862.2 C1137.0 865.8 1136.2 867.5 1133.2 869.3 C1130.2 871.1 1124.6 871.7 1120.7 872.9 C1116.8 874.1 1111.9 875.8 1110.1 876.4" fill="none" stroke="#d9963a" stroke-width="2.3" stroke-linecap="round" stroke-linejoin="round"/>
<path d="M1067.4 838.2 C1068.3 836.3 1071.1 830.2 1072.7 826.7 C1074.3 823.2 1075.7 818.4 1077.2 816.9 C1078.7 815.4 1080.9 817.6 1081.6 817.8" fill="none" stroke="#d9963a" stroke-width="2.3" stroke-linecap="round" stroke-linejoin="round"/>
<polygon points="1078.5,820.0 1089.3,824.5 1094.9,827.8 1094.2,829.1 1101.5,828.4 1098.5,821.7 1097.7,823.0 1091.7,819.5 1080.5,815.0" fill="#e9a445"/>
<path d="M1099.5 829.0 C1098.3 830.0 1094.0 833.0 1092.5 835.0 C1091.0 837.0 1089.3 838.8 1090.5 841.0 C1091.7 843.2 1096.5 846.0 1099.5 848.0 C1102.5 850.0 1106.7 851.0 1108.5 853.0 C1110.3 855.0 1110.2 858.8 1110.5 860.0" fill="none" stroke="#d9963a" stroke-width="2.3" stroke-linecap="round" stroke-linejoin="round"/>
<polygon points="1034.6,871.6 1050.6,882.1 1056.2,886.0 1055.0,887.8 1065.5,886.5 1062.8,876.2 1061.5,878.1 1055.8,874.3 1039.8,863.6" fill="#cfcfcf"/>
<polygon points="1104.4,857.0 1097.5,872.7 1093.6,878.8 1091.7,877.6 1093.5,887.0 1102.7,884.5 1100.8,883.3 1104.9,876.7 1112.2,860.4" fill="#6c6c6c"/>
<polygon points="1109.3,872.7 1097.5,879.8 1090.3,882.9 1089.4,880.8 1085.5,889.5 1094.5,892.7 1093.6,890.7 1101.3,887.4 1113.7,880.1" fill="#6a6a6a"/>
<polygon points="1057.9,893.4 1084.8,896.9 1107.2,898.4 1107.0,900.9 1115.5,894.5 1108.0,887.0 1107.8,889.5 1085.6,887.9 1059.1,884.4" fill="#e08a2a"/>
<polygon points="1063.7,902.4 1084.9,907.0 1097.7,906.4 1097.8,908.9 1104.5,902.0 1097.2,895.9 1097.3,898.4 1085.5,899.0 1065.3,894.6" fill="#f0f0f0"/>
<path d="M1098.8 916.6 1099.8 914.8 1101.8 912.4 1104.5 909.9 1107.8 907.8 1111.3 906.4 1114.6 906.2 1117.3 907.2 1119.2 909.4 1113.4 905.4 1111.6 903.2 1108.8 902.2 1105.6 902.4 1102.1 903.8 1098.8 905.9 1096.0 908.4 1094.1 910.8 1093.1 912.6Z" fill="#7c5931"/>
<path d="M1114.1 927.3 1115.1 925.5 1117.1 923.1 1119.9 920.6 1114.1 916.6 1111.4 919.1 1109.4 921.5 1108.4 923.3Z" fill="#7c5931"/>
<path d="M1103.9 909.4 1102.5 912.9 1100.9 915.6 1099.6 917.1 1098.8 917.5 1098.8 916.6 1093.1 912.6 1093.0 913.5 1093.8 913.1 1095.2 911.6 1096.8 908.9 1098.1 905.4Z" fill="#c99050"/>
<path d="M1098.1 913.6 L1096.7 915.1 L1095.9 915.5" stroke="#dbb68d" stroke-width="2.4" stroke-linecap="round" fill="none" opacity="0.45"/>
<path d="M1119.2 909.4 1120.1 912.5 1120.1 916.3 1119.2 920.1 1117.8 923.6 1116.3 926.2 1114.9 927.8 1114.1 928.1 1114.1 927.3 1108.4 923.3 1108.4 924.1 1109.2 923.8 1110.5 922.2 1112.1 919.6 1113.5 916.1 1114.3 912.3 1114.4 908.5 1113.4 905.4Z" fill="#c99050"/>
<path d="M1116.3 918.1 L1115.0 921.6 L1113.4 924.2" stroke="#dbb68d" stroke-width="2.4" stroke-linecap="round" fill="none" opacity="0.45"/>
<polygon points="1064.9,833.7 1058.3,844.2 1052.6,857.7 1051.6,875.2 1055.7,889.0 1064.3,900.7 1075.6,910.1 1079.7,912.7 1077.5,916.3 1093.0,916.0 1086.5,901.9 1084.2,905.5 1080.6,903.3 1070.5,894.9 1063.1,885.2 1060.0,874.2 1060.8,859.7 1065.9,848.2 1072.1,838.3" fill="#f28e2b"/>
<path d="M1072.1 838.3 L1065.9 848.2 L1060.8 859.7 L1060.0 874.2 L1063.1 885.2 L1070.5 894.9 L1080.6 903.3 L1084.2 905.5" stroke="#d0741a" stroke-width="1.6" fill="none"/>
<path d="M1138.4 919.5 1136.4 919.3 1134.1 917.0 1131.9 913.1 1130.3 908.1 1129.8 902.6 1130.6 897.4 1132.8 893.3 1136.1 890.8 1124.4 896.3 1121.0 898.8 1118.8 903.0 1118.0 908.1 1118.5 913.6 1120.1 918.7 1122.3 922.6 1124.7 924.8 1126.6 925.1Z" fill="#835f31"/>
<path d="M1155.9 911.2 1153.8 910.6 1151.5 908.1 1149.3 904.0 1147.9 898.8 1147.6 893.3 1148.6 888.2 1151.0 884.3 1154.6 882.1 1142.8 887.7 1139.3 889.9 1136.9 893.8 1135.8 898.8 1136.1 904.3 1137.6 909.5 1139.7 913.6 1142.1 916.2 1144.1 916.8Z" fill="#0b0b0b"/>
<path d="M1173.3 902.9 1171.2 901.9 1168.8 899.1 1166.8 894.8 1165.5 889.5 1165.4 884.0 1166.7 879.1 1169.3 875.5 1173.0 873.6 1161.3 879.1 1157.6 881.0 1155.0 884.6 1153.7 889.5 1153.8 895.0 1155.0 900.3 1157.1 904.7 1159.5 907.5 1161.6 908.4Z" fill="#7c4713"/>
<path d="M1190.8 894.5 1188.6 893.2 1186.2 890.1 1174.5 895.6 1176.8 898.8 1179.0 900.0Z" fill="#5f5f5f"/>
<path d="M1121.8 898.5 1126.4 899.5 1130.9 902.2 1134.8 906.2 1137.7 910.6 1139.2 914.8 1139.4 917.9 1138.4 919.5 1126.6 925.1 1127.6 923.5 1127.5 920.3 1125.9 916.1 1123.0 911.7 1119.2 907.8 1114.7 905.1 1110.1 904.0Z" fill="#d49a50"/>
<path d="M1128.9 908.9 L1131.8 913.4 L1133.3 917.5" stroke="#e3bd8d" stroke-width="4.5" stroke-linecap="round" fill="none" opacity="0.45"/>
<path d="M1136.1 890.8 1140.4 890.1 1145.0 891.5 1149.4 894.4 1153.1 898.5 1155.8 902.9 1157.1 907.0 1157.1 909.9 1155.9 911.2 1144.1 916.8 1145.3 915.5 1145.4 912.5 1144.0 908.5 1141.4 904.0 1137.6 900.0 1133.2 897.0 1128.6 895.7 1124.4 896.3Z" fill="#121212"/>
<path d="M1143.5 897.2 L1147.3 901.3 L1149.9 905.7" stroke="#646464" stroke-width="4.5" stroke-linecap="round" fill="none" opacity="0.45"/>
<path d="M1154.6 882.1 1158.9 881.8 1163.5 883.5 1167.9 886.7 1171.4 890.8 1173.9 895.3 1175.0 899.2 1174.7 901.9 1173.3 902.9 1161.6 908.4 1163.0 907.4 1163.2 904.7 1162.1 900.8 1159.7 896.4 1156.1 892.2 1151.8 889.0 1147.1 887.4 1142.8 887.7Z" fill="#c87420"/>
<path d="M1162.0 889.4 L1165.6 893.6 L1168.0 898.0" stroke="#dba46e" stroke-width="4.5" stroke-linecap="round" fill="none" opacity="0.45"/>
<path d="M1173.0 873.6 1177.4 873.6 1182.0 875.5 1186.3 878.9 1189.7 883.2 1191.9 887.6 1192.8 891.3 1192.3 893.8 1190.8 894.5 1179.0 900.0 1180.6 899.3 1181.0 896.9 1180.2 893.1 1178.0 888.7 1174.5 884.5 1170.3 881.1 1165.7 879.2 1161.3 879.1Z" fill="#c87420"/>
<path d="M1180.4 881.7 L1183.8 886.0 L1186.1 890.4" stroke="#dba46e" stroke-width="4.5" stroke-linecap="round" fill="none" opacity="0.45"/>
<path d="M1031.5 918.0 C1032.2 918.5 1034.0 920.5 1035.5 921.0 C1037.0 921.5 1038.8 921.5 1040.5 921.0 C1042.2 920.5 1044.7 918.5 1045.5 918.0" fill="none" stroke="#111" stroke-width="2" stroke-linecap="round" stroke-linejoin="round"/>
<path d="M1031.8 917.3 C1031.2 918.5 1029.0 921.4 1028.3 924.4 C1027.6 927.4 1026.8 932.1 1027.4 935.1 C1028.0 938.1 1029.3 940.1 1031.8 942.2 C1034.3 944.3 1038.9 945.8 1042.5 947.6 C1046.1 949.4 1050.5 951.2 1053.2 952.9 C1055.9 954.6 1057.6 957.1 1058.5 958.0" fill="none" stroke="#e07a1a" stroke-width="2.3" stroke-linecap="round" stroke-linejoin="round"/>
<path d="M1055.1 936.3 C1056.4 936.0 1059.7 934.2 1063.2 934.7 C1066.7 935.2 1074.7 937.4 1076.3 939.6 C1077.9 941.8 1075.2 946.1 1073.0 947.7 C1070.8 949.3 1064.8 949.0 1063.2 949.3" fill="none" stroke="#e6e6e6" stroke-width="2.3" stroke-linecap="round" stroke-linejoin="round"/>
<path d="M1077.5 943.0 C1077.8 943.8 1078.1 947.7 1079.5 947.7 C1080.9 947.7 1083.9 944.1 1086.1 942.8 C1088.3 941.4 1088.7 940.7 1092.5 939.6 C1096.3 938.5 1104.6 936.7 1108.9 936.3 C1113.2 935.9 1116.9 936.9 1118.5 937.0" fill="none" stroke="#5a5a5a" stroke-width="2.3" stroke-linecap="round" stroke-linejoin="round"/>
<path d="M1093.0 916.0 C1094.8 917.5 1099.6 922.0 1103.5 925.0 C1107.4 928.0 1113.0 931.5 1116.5 934.0 C1120.0 936.5 1122.2 937.7 1124.5 940.0 C1126.8 942.3 1128.2 946.2 1130.5 948.0 C1132.8 949.8 1137.2 950.5 1138.5 951.0" fill="none" stroke="#e07a1a" stroke-width="2.3" stroke-linecap="round" stroke-linejoin="round"/>
<polygon points="1016.9,959.2 1029.9,949.1 1046.0,947.9 1056.6,951.6 1056.0,953.5 1064.5,950.0 1059.8,942.1 1059.1,944.0 1047.0,940.1 1027.1,941.9 1012.1,952.8" fill="#dedede"/>
<polygon points="1015.3,965.9 1036.8,961.5 1057.2,963.0 1057.1,965.0 1064.5,959.5 1057.9,953.0 1057.8,955.0 1036.2,953.5 1013.7,958.1" fill="#e8e8e8"/>
<path d="M1012.5 962.0 C1012.3 960.0 1010.8 953.3 1011.5 950.0 C1012.2 946.7 1014.2 943.7 1016.5 942.0 C1018.8 940.3 1024.0 940.3 1025.5 940.0" fill="none" stroke="#e8e8e8" stroke-width="2.3" stroke-linecap="round" stroke-linejoin="round"/>
<polygon points="1061.7,949.1 1052.8,955.5 1050.0,957.3 1049.2,956.0 1046.5,963.0 1054.0,963.6 1053.2,962.4 1056.2,960.5 1065.3,953.9" fill="#e07a1a"/>
<path d="M1128.5 950.0 C1129.7 950.0 1133.3 950.3 1135.5 950.0 C1137.7 949.7 1139.0 948.0 1141.5 948.0 C1144.0 948.0 1147.7 949.2 1150.5 950.0 C1153.3 950.8 1156.4 951.0 1158.5 953.0 C1160.6 955.0 1162.6 958.8 1163.0 962.0 C1163.4 965.2 1161.3 970.3 1161.0 972.0" fill="none" stroke="#d9a050" stroke-width="2.3" stroke-linecap="round" stroke-linejoin="round"/>
<path d="M1161.0 972.0 C1163.1 972.5 1168.8 974.4 1173.5 975.0 C1178.2 975.6 1188.7 975.2 1189.5 975.5 C1190.3 975.8 1182.0 976.1 1178.5 976.5 C1175.0 976.9 1171.3 976.6 1168.5 978.0 C1165.7 979.4 1163.5 983.0 1161.5 985.0 C1159.5 987.0 1158.7 989.0 1156.5 990.0 C1154.3 991.0 1151.5 990.8 1148.5 991.0 C1145.5 991.2 1141.8 990.7 1138.5 991.0 C1135.2 991.3 1131.7 992.0 1128.5 993.0 C1125.3 994.0 1121.0 996.3 1119.5 997.0" fill="none" stroke="#d9a050" stroke-width="2.3" stroke-linecap="round" stroke-linejoin="round"/>
<polygon points="1136.5,946.0 1144.5,945.0 1141.5,952.0" fill="#d9a050"/>
<polygon points="1162.5,978.0 1172.5,984.0 1164.5,989.0" fill="#d9a050"/>
<path d="M1045.8 999.1 1045.4 998.4 1044.8 996.4 1044.4 993.4 1044.5 989.8 1045.1 986.0 1046.5 982.6 1048.5 980.1 1051.2 978.8 1043.5 981.0 1040.9 982.3 1038.8 984.8 1037.4 988.2 1036.8 992.0 1036.8 995.7 1037.2 998.7 1037.7 1000.6 1038.2 1001.3Z" fill="#2a2a2a"/>
<path d="M1042.2 990.7 1044.2 993.8 1045.4 996.5 1045.9 998.4 1045.8 999.1 1038.2 1001.3 1038.2 1000.6 1037.7 998.7 1036.5 996.0 1034.5 993.0Z" fill="#444444"/>
<path d="M1040.3 994.9 L1041.5 997.6 L1042.1 999.5" stroke="#858585" stroke-width="2.8" stroke-linecap="round" fill="none" opacity="0.45"/>
<path d="M1051.2 978.8 1054.2 978.8 1057.3 980.1 1060.1 982.5 1062.5 985.5 1063.5 988.7 1064.2 991.4 1064.7 993.1 1057.1 995.3 1056.6 993.7 1055.8 991.0 1054.8 987.7 1052.5 984.7 1049.6 982.4 1046.5 981.0 1043.5 981.0Z" fill="#444444"/>
<path d="M1056.3 983.6 L1058.7 986.6 L1059.6 989.9" stroke="#858585" stroke-width="2.8" stroke-linecap="round" fill="none" opacity="0.45"/>
<path d="M1072.5 987.0 1070.9 984.7 1069.5 980.8 1068.6 975.7 1068.7 970.2 1069.7 965.2 1071.8 961.3 1074.8 959.1 1078.4 958.9 1065.3 962.4 1061.7 962.6 1058.8 964.8 1056.7 968.7 1055.6 973.7 1055.6 979.2 1056.4 984.3 1057.8 988.2 1059.4 990.5Z" fill="#bebebe"/>
<path d="M1089.8 982.1 1088.2 979.6 1086.8 975.5 1086.1 970.3 1086.2 964.9 1087.4 959.9 1089.6 956.2 1092.7 954.2 1096.3 954.3 1083.3 957.8 1079.6 957.7 1076.6 959.7 1074.4 963.5 1073.2 968.4 1073.0 973.9 1073.8 979.0 1075.2 983.1 1076.7 985.6Z" fill="#bebebe"/>
<path d="M1108.5 977.9 1107.1 977.2 1105.5 974.5 1104.2 970.2 1103.6 965.0 1103.8 959.6 1105.1 954.7 1107.4 951.2 1110.6 949.4 1097.5 952.9 1094.4 954.7 1092.1 958.2 1090.8 963.1 1090.5 968.5 1091.2 973.7 1092.5 978.0 1094.1 980.7 1095.5 981.4Z" fill="#c0c0c0"/>
<path d="M1125.9 973.2 1124.4 972.3 1122.8 969.4 1121.6 964.9 1108.6 968.4 1109.8 972.9 1111.4 975.8 1112.8 976.7Z" fill="#b8b8b8"/>
<path d="M1073.2 977.6 1074.4 982.1 1074.5 985.5 1073.8 987.2 1072.5 987.0 1059.4 990.5 1060.8 990.7 1061.5 989.0 1061.3 985.6 1060.1 981.1Z" fill="#eeeeee"/>
<path d="M1067.9 983.8 L1068.0 987.2 L1067.3 989.0" stroke="#f3f3f3" stroke-width="4.7" stroke-linecap="round" fill="none" opacity="0.45"/>
<path d="M1078.4 958.9 1082.1 960.6 1085.7 964.1 1088.7 968.6 1090.9 973.5 1091.9 977.9 1092.0 981.1 1091.2 982.6 1089.8 982.1 1076.7 985.6 1078.1 986.1 1079.0 984.6 1078.9 981.4 1077.8 977.0 1075.7 972.1 1072.7 967.6 1069.1 964.1 1065.3 962.4Z" fill="#e8b860"/>
<path d="M1082.2 970.3 L1084.3 975.2 L1085.4 979.6" stroke="#f0d097" stroke-width="4.7" stroke-linecap="round" fill="none" opacity="0.45"/>
<path d="M1096.3 954.3 1100.1 956.3 1103.6 959.8 1106.5 964.5 1108.5 969.3 1109.5 973.6 1109.4 976.7 1108.5 977.9 1095.5 981.4 1096.4 980.2 1096.5 977.1 1095.5 972.8 1093.5 968.0 1090.6 963.4 1087.0 959.8 1083.3 957.8Z" fill="#f0f0f0"/>
<path d="M1100.0 966.2 L1102.0 971.1 L1103.0 975.4" stroke="#f5f5f5" stroke-width="4.7" stroke-linecap="round" fill="none" opacity="0.45"/>
<path d="M1110.6 949.4 1114.2 949.7 1118.0 951.9 1121.5 955.6 1124.3 960.3 1126.2 965.1 1127.0 969.3 1126.9 972.2 1125.9 973.2 1112.8 976.7 1113.8 975.7 1114.0 972.8 1113.2 968.7 1111.3 963.8 1108.5 959.2 1105.0 955.4 1101.2 953.2 1097.5 952.9Z" fill="#e6e6e6"/>
<path d="M1115.0 957.4 L1117.8 962.1 L1119.7 966.9" stroke="#eeeeee" stroke-width="4.7" stroke-linecap="round" fill="none" opacity="0.45"/>
<polygon points="1109.0,959.6 1119.0,965.6 1121.9,967.2 1120.7,969.4 1129.5,968.0 1126.1,959.8 1124.8,962.0 1122.0,960.4 1112.0,954.4" fill="#e6e6e6"/>
<path d="M1125.2 968.9 C1125.8 970.0 1129.0 973.9 1128.5 975.4 C1128.0 976.9 1125.6 977.1 1121.9 978.0 C1118.2 978.9 1111.4 979.8 1106.5 981.0 C1101.6 982.2 1096.5 984.2 1092.5 985.2 C1088.5 986.2 1084.2 986.7 1082.5 987.0" fill="none" stroke="#d8d8d8" stroke-width="2.6" stroke-linecap="round" stroke-linejoin="round"/>
<path d="M1002.0 1009.6 1000.8 1008.1 999.4 1005.0 998.2 1000.7 997.7 995.7 998.2 990.9 999.6 986.8 1002.1 983.9 1005.4 982.8 990.7 989.0 987.4 990.2 984.9 993.0 983.4 997.1 983.0 1001.9 983.5 1006.9 984.6 1011.2 986.0 1014.3 987.3 1015.8Z" fill="#8c5515"/>
<path d="M1022.2 1000.9 1020.9 999.1 1019.5 995.7 1018.5 991.3 1018.1 986.3 1018.7 981.5 1020.3 977.6 1023.0 975.0 1026.4 974.2 1011.7 980.4 1008.2 981.3 1005.6 983.8 1003.9 987.8 1003.4 992.5 1003.7 997.5 1004.8 1001.9 1006.1 1005.3 1007.4 1007.1Z" fill="#8c5515"/>
<path d="M1042.4 992.1 1041.0 990.0 1039.7 986.5 1038.7 981.9 1038.5 976.9 1039.3 972.2 1041.1 968.5 1043.9 966.2 1047.4 965.6 1032.7 971.8 1029.1 972.4 1026.3 974.7 1024.5 978.4 1023.7 983.1 1024.0 988.1 1024.9 992.7 1026.3 996.2 1027.6 998.3Z" fill="#8c5515"/>
<path d="M1063.5 983.9 1062.5 983.3 1061.1 980.9 1059.8 977.2 1059.0 972.5 1044.2 978.7 1045.1 983.4 1046.4 987.2 1047.8 989.5 1048.8 990.2Z" fill="#8c5515"/>
<path d="M992.2 993.6 996.0 996.8 999.1 1000.6 1001.4 1004.4 1002.5 1007.5 1002.7 1009.4 1002.0 1009.6 987.3 1015.8 988.0 1015.6 987.8 1013.7 986.6 1010.6 984.4 1006.8 981.2 1003.0 977.5 999.8Z" fill="#e28a22"/>
<path d="M991.8 1003.7 L994.0 1007.5 L995.2 1010.6" stroke="#ecb26f" stroke-width="5.6" stroke-linecap="round" fill="none" opacity="0.45"/>
<path d="M1005.4 982.8 1009.3 983.3 1013.3 985.5 1016.9 988.8 1019.9 992.6 1022.0 996.4 1023.0 999.3 1023.0 1000.9 1022.2 1000.9 1007.4 1007.1 1008.3 1007.1 1008.3 1005.5 1007.2 1002.6 1005.2 998.9 1002.2 995.0 998.5 991.7 994.6 989.6 990.7 989.0Z" fill="#e28a22"/>
<path d="M1009.6 991.9 L1012.6 995.8 L1014.6 999.5" stroke="#ecb26f" stroke-width="5.6" stroke-linecap="round" fill="none" opacity="0.45"/>
<path d="M1026.4 974.2 1030.3 975.0 1034.3 977.4 1037.8 980.8 1040.7 984.7 1042.6 988.4 1043.4 991.1 1043.3 992.5 1042.4 992.1 1027.6 998.3 1028.5 998.7 1028.7 997.3 1027.9 994.6 1026.0 990.9 1023.1 987.0 1019.5 983.6 1015.6 981.2 1011.7 980.4Z" fill="#e28a22"/>
<path d="M1030.5 983.9 L1033.3 987.8 L1035.2 991.5" stroke="#ecb26f" stroke-width="5.6" stroke-linecap="round" fill="none" opacity="0.45"/>
<path d="M1047.4 965.6 1051.3 966.7 1055.3 969.3 1058.7 972.9 1061.4 976.8 1063.2 980.3 1063.8 982.9 1063.5 983.9 1048.8 990.2 1049.1 989.1 1048.4 986.5 1046.7 983.0 1044.0 979.1 1040.5 975.5 1036.6 972.9 1032.7 971.8Z" fill="#e28a22"/>
<path d="M1051.4 976.0 L1054.1 979.9 L1055.8 983.4" stroke="#ecb26f" stroke-width="5.6" stroke-linecap="round" fill="none" opacity="0.45"/>
<path d="M1004.4 1029.9 1003.4 1029.0 1002.4 1026.4 1001.7 1022.5 1001.7 1017.9 1002.5 1013.2 1004.1 1009.1 1006.6 1006.3 1009.8 1005.1 996.1 1008.2 993.0 1009.4 990.5 1012.2 988.8 1016.3 988.0 1021.0 988.1 1025.6 988.7 1029.5 989.7 1032.1 990.7 1033.0Z" fill="#c0934c"/>
<path d="M1023.2 1025.4 1022.2 1023.9 1021.2 1020.8 1020.8 1016.6 1021.0 1011.9 1022.1 1007.3 1024.0 1003.6 1026.8 1001.3 1030.1 1000.8 1016.4 1003.9 1013.1 1004.4 1010.4 1006.7 1008.4 1010.4 1007.3 1015.0 1007.1 1019.7 1007.6 1024.0 1008.5 1027.0 1009.5 1028.5Z" fill="#c0934c"/>
<path d="M1042.0 1020.7 1040.9 1018.7 1027.3 1021.8 1028.3 1023.9Z" fill="#c0934c"/>
<path d="M1004.0 1022.8 1004.9 1026.4 1005.0 1028.9 1004.4 1029.9 990.7 1033.0 991.3 1032.0 991.2 1029.5 990.3 1025.9Z" fill="#f0b860"/>
<path d="M998.1 1028.0 L998.1 1030.5 L997.5 1031.4" stroke="#f5d097" stroke-width="4.9" stroke-linecap="round" fill="none" opacity="0.45"/>
<path d="M1009.8 1005.1 1013.2 1005.7 1016.6 1008.0 1019.6 1011.5 1022.0 1015.7 1023.5 1019.8 1024.1 1023.1 1024.0 1025.1 1023.2 1025.4 1009.5 1028.5 1010.3 1028.2 1010.5 1026.2 1009.9 1022.9 1008.4 1018.8 1006.0 1014.6 1003.0 1011.1 999.6 1008.8 996.1 1008.2Z" fill="#f0b860"/>
<path d="M1012.8 1013.1 L1015.2 1017.2 L1016.7 1021.3" stroke="#f5d097" stroke-width="4.9" stroke-linecap="round" fill="none" opacity="0.45"/>
<path d="M1030.1 1000.8 1033.5 1002.0 1036.9 1004.8 1039.7 1008.6 1041.8 1012.8 1043.0 1016.7 1043.3 1019.6 1042.9 1021.1 1042.0 1020.7 1028.3 1023.9 1029.2 1024.2 1029.6 1022.7 1029.3 1019.8 1028.1 1015.9 1026.0 1011.7 1023.2 1007.9 1019.9 1005.1 1016.4 1003.9Z" fill="#f0b860"/>
<path d="M1032.9 1010.1 L1034.9 1014.4 L1036.1 1018.3" stroke="#f5d097" stroke-width="4.9" stroke-linecap="round" fill="none" opacity="0.45"/>
<polygon points="986.7,1025.1 989.8,1035.5 994.9,1045.8 1002.1,1042.2 997.2,1032.5 994.3,1022.9" fill="#f2c070"/>
<path d="M1056.1 1012.6 1055.6 1011.7 1055.3 1009.3 1055.4 1005.8 1056.2 1001.6 1057.7 997.5 1059.9 994.0 1062.7 991.6 1065.9 990.9 1052.9 991.8 1049.8 992.6 1047.0 994.9 1044.7 998.4 1043.2 1002.6 1042.4 1006.7 1042.3 1010.3 1042.6 1012.7 1043.2 1013.6Z" fill="#b0b0b0"/>
<path d="M1077.6 1011.0 1077.1 1009.8 1076.8 1007.1 1077.1 1003.4 1078.0 999.2 1079.7 995.1 1082.1 991.8 1085.0 989.8 1088.2 989.3 1075.2 990.3 1072.0 990.7 1069.1 992.7 1066.7 996.0 1065.0 1000.1 1064.1 1004.3 1063.9 1008.0 1064.1 1010.7 1064.6 1011.9Z" fill="#b0b0b0"/>
<path d="M1099.1 1009.3 1098.6 1007.7 1098.4 1004.8 1098.8 1000.9 1099.9 996.7 1101.7 992.7 1104.2 989.7 1107.2 988.0 1110.4 987.9 1097.5 988.8 1094.2 988.9 1091.2 990.6 1088.7 993.7 1086.9 997.6 1085.8 1001.9 1085.4 1005.8 1085.6 1008.7 1086.1 1010.2Z" fill="#b0b0b0"/>
<path d="M1120.5 1007.5 1120.1 1005.6 1120.0 1002.5 1120.5 998.5 1121.8 994.2 1123.8 990.4 1126.4 987.6 1129.5 986.2 1131.3 986.6 1118.3 987.5 1116.5 987.2 1113.4 988.6 1110.8 991.4 1108.8 995.2 1107.6 999.4 1107.1 1003.4 1107.1 1006.6 1107.6 1008.5Z" fill="#b0b0b0"/>
<path d="M1054.7 1002.2 1056.0 1006.2 1056.6 1009.6 1056.5 1011.8 1056.1 1012.6 1043.2 1013.6 1043.6 1012.8 1043.6 1010.5 1043.0 1007.1 1041.7 1003.1Z" fill="#dcdcdc"/>
<path d="M1049.5 1006.6 L1050.1 1010.0 L1050.0 1012.3" stroke="#e8e8e8" stroke-width="4.5" stroke-linecap="round" fill="none" opacity="0.45"/>
<path d="M1065.9 990.9 1069.2 991.7 1072.2 994.0 1074.7 997.5 1076.6 1001.5 1077.7 1005.4 1078.2 1008.6 1078.0 1010.6 1077.6 1011.0 1064.6 1011.9 1065.1 1011.5 1065.2 1009.5 1064.8 1006.3 1063.6 1002.4 1061.8 998.4 1059.2 995.0 1056.2 992.6 1052.9 991.8Z" fill="#dcdcdc"/>
<path d="M1068.2 997.9 L1070.1 1001.9 L1071.3 1005.8" stroke="#e8e8e8" stroke-width="4.5" stroke-linecap="round" fill="none" opacity="0.45"/>
<path d="M1088.2 989.3 1091.4 990.5 1094.3 993.1 1096.8 996.7 1098.5 1000.7 1099.5 1004.5 1099.8 1007.5 1099.5 1009.2 1099.1 1009.3 1086.1 1010.2 1086.6 1010.1 1086.8 1008.5 1086.5 1005.5 1085.5 1001.7 1083.8 997.6 1081.4 994.0 1078.4 991.4 1075.2 990.3Z" fill="#dcdcdc"/>
<path d="M1090.3 997.2 L1092.0 1001.2 L1093.0 1005.0" stroke="#e8e8e8" stroke-width="4.5" stroke-linecap="round" fill="none" opacity="0.45"/>
<path d="M1110.4 987.9 1113.6 989.4 1116.5 992.2 1118.8 996.0 1120.3 1000.0 1121.2 1003.7 1121.3 1006.4 1121.0 1007.8 1120.5 1007.5 1107.6 1008.5 1108.1 1008.7 1108.4 1007.4 1108.2 1004.6 1107.4 1000.9 1105.8 996.9 1103.5 993.2 1100.7 990.3 1097.5 988.8Z" fill="#dcdcdc"/>
<path d="M1112.3 996.4 L1113.9 1000.5 L1114.7 1004.2" stroke="#e8e8e8" stroke-width="4.5" stroke-linecap="round" fill="none" opacity="0.45"/>
<path d="M1054.5 1035.1 1053.0 1033.8 1051.6 1030.5 1050.7 1025.7 1050.6 1020.1 1051.4 1014.6 1053.3 1009.9 1056.1 1006.7 1059.7 1005.5 1045.0 1008.7 1041.5 1009.9 1038.6 1013.1 1036.7 1017.7 1035.9 1023.3 1036.1 1028.9 1037.0 1033.6 1038.4 1037.0 1039.8 1038.3Z" fill="#3f3f3f"/>
<path d="M1073.6 1030.9 1072.1 1029.3 1070.8 1025.8 1069.9 1020.9 1069.8 1015.3 1070.8 1009.8 1072.8 1005.3 1075.7 1002.3 1079.3 1001.4 1064.6 1004.6 1061.0 1005.5 1058.1 1008.5 1056.1 1013.0 1055.2 1018.5 1055.2 1024.1 1056.1 1029.0 1057.5 1032.5 1058.9 1034.1Z" fill="#3f3f3f"/>
<path d="M1092.7 1026.7 1091.2 1024.9 1089.9 1021.2 1089.1 1016.2 1089.1 1010.6 1090.2 1005.1 1092.3 1000.7 1095.3 998.0 1098.9 997.2 1084.3 1000.4 1080.6 1001.1 1077.6 1003.9 1075.5 1008.3 1074.4 1013.8 1074.4 1019.4 1075.2 1024.4 1076.5 1028.1 1078.0 1029.9Z" fill="#3f3f3f"/>
<path d="M1111.8 1022.4 1110.3 1020.4 1109.0 1016.6 1108.3 1011.5 1108.4 1005.8 1109.6 1000.5 1111.8 996.2 1114.9 993.6 1118.2 993.1 1103.6 996.3 1100.2 996.8 1097.1 999.4 1094.9 1003.6 1093.7 1009.0 1093.6 1014.6 1094.3 1019.8 1095.6 1023.6 1097.1 1025.6Z" fill="#3f3f3f"/>
<path d="M1051.1 1017.4 1053.7 1022.4 1055.4 1027.4 1056.0 1031.7 1055.6 1034.4 1054.5 1035.1 1039.8 1038.3 1040.9 1037.6 1041.3 1034.9 1040.7 1030.6 1039.1 1025.6 1036.5 1020.6Z" fill="#474747"/>
<path d="M1048.1 1029.0 L1048.6 1033.3 L1048.2 1036.0" stroke="#878787" stroke-width="5.2" stroke-linecap="round" fill="none" opacity="0.45"/>
<path d="M1059.7 1005.5 1063.5 1006.5 1067.3 1009.4 1070.7 1013.7 1073.2 1018.8 1074.7 1023.7 1075.2 1027.8 1074.7 1030.4 1073.6 1030.9 1058.9 1034.1 1060.1 1033.6 1060.5 1031.0 1060.1 1026.9 1058.5 1021.9 1056.0 1016.9 1052.7 1012.6 1048.9 1009.7 1045.0 1008.7Z" fill="#474747"/>
<path d="M1063.3 1015.3 L1065.9 1020.4 L1067.4 1025.3" stroke="#878787" stroke-width="5.2" stroke-linecap="round" fill="none" opacity="0.45"/>
<path d="M1079.3 1001.4 1083.2 1002.5 1086.9 1005.6 1090.2 1010.0 1092.6 1015.1 1094.0 1020.0 1094.4 1024.0 1093.9 1026.3 1092.7 1026.7 1078.0 1029.9 1079.2 1029.5 1079.8 1027.2 1079.4 1023.2 1078.0 1018.3 1075.5 1013.2 1072.3 1008.8 1068.5 1005.7 1064.6 1004.6Z" fill="#474747"/>
<path d="M1082.9 1011.6 L1085.3 1016.7 L1086.7 1021.6" stroke="#878787" stroke-width="5.2" stroke-linecap="round" fill="none" opacity="0.45"/>
<path d="M1098.9 997.2 1102.8 998.6 1106.5 1001.8 1109.7 1006.3 1112.1 1011.5 1113.4 1016.3 1113.6 1020.2 1113.0 1022.3 1111.8 1022.4 1097.1 1025.6 1098.3 1025.5 1099.0 1023.3 1098.7 1019.5 1097.4 1014.6 1095.1 1009.5 1091.9 1005.0 1088.2 1001.8 1084.3 1000.4Z" fill="#474747"/>
<path d="M1102.4 1007.9 L1104.7 1013.1 L1106.0 1017.9" stroke="#878787" stroke-width="5.2" stroke-linecap="round" fill="none" opacity="0.45"/>
<path d="M1118.2 993.1 1118.7 995.5 1104.1 998.6 1103.6 996.3Z" fill="#474747"/>
<path d="M1110.9 994.7 L1111.4 997.0" stroke="#878787" stroke-width="5.2" stroke-linecap="round" fill="none" opacity="0.45"/>
<path d="M1163.7 1031.9 1161.5 1031.3 1159.2 1028.8 1157.1 1024.9 1155.8 1020.0 1155.7 1014.8 1157.0 1010.1 1159.6 1006.5 1163.2 1004.5 1154.3 1009.0 1150.6 1011.0 1148.0 1014.6 1146.8 1019.3 1146.9 1024.4 1148.2 1029.3 1150.2 1033.3 1152.6 1035.7 1154.7 1036.4Z" fill="#6d6659"/>
<path d="M1180.4 1023.4 1178.2 1022.3 1175.8 1019.5 1173.9 1015.3 1172.9 1010.3 1173.0 1005.2 1174.6 1000.7 1177.4 997.4 1181.2 995.7 1172.3 1000.2 1168.5 1001.9 1165.6 1005.2 1164.1 1009.7 1163.9 1014.8 1165.0 1019.8 1166.9 1024.0 1169.2 1026.8 1171.5 1027.8Z" fill="#6d6659"/>
<path d="M1164.2 1024.5 1165.3 1028.2 1165.0 1030.8 1163.7 1031.9 1154.7 1036.4 1156.1 1035.3 1156.4 1032.6 1155.3 1029.0Z" fill="#b1a691"/>
<path d="M1160.8 1030.4 L1160.6 1033.1 L1159.2 1034.2" stroke="#ccc5b7" stroke-width="3.5" stroke-linecap="round" fill="none" opacity="0.45"/>
<path d="M1163.2 1004.5 1167.6 1004.3 1172.1 1005.8 1176.3 1008.8 1179.6 1012.7 1181.7 1016.7 1182.5 1020.3 1182.0 1022.6 1180.4 1023.4 1171.5 1027.8 1173.1 1027.1 1173.6 1024.7 1172.8 1021.2 1170.7 1017.2 1167.3 1013.3 1163.2 1010.3 1158.6 1008.8 1154.3 1009.0Z" fill="#b1a691"/>
<path d="M1171.8 1011.1 L1175.1 1014.9 L1177.3 1019.0" stroke="#ccc5b7" stroke-width="3.5" stroke-linecap="round" fill="none" opacity="0.45"/>
<path d="M1181.2 995.7 1183.8 996.8 1185.5 1000.1 1187.6 1004.3 1178.6 1008.8 1176.5 1004.6 1174.9 1001.3 1172.3 1000.2Z" fill="#b1a691"/>
<path d="M1179.3 999.1 L1181.0 1002.4 L1183.1 1006.6" stroke="#ccc5b7" stroke-width="3.5" stroke-linecap="round" fill="none" opacity="0.45"/>
<path d="M1141.5 991.7 C1143.0 992.4 1147.0 994.5 1150.5 996.0 C1154.0 997.5 1160.5 1000.2 1162.5 1001.0" fill="none" stroke="#d9963a" stroke-width="2.3" stroke-linecap="round" stroke-linejoin="round"/>
<path d="M1123.3 1019.7 1123.4 1017.9 1123.7 1015.2 1124.4 1012.0 1125.7 1008.7 1127.5 1005.8 1129.9 1003.6 1132.6 1002.5 1135.6 1002.7 1128.7 1003.8 1125.7 1003.7 1123.0 1004.8 1120.6 1006.9 1118.8 1009.9 1117.5 1013.2 1116.8 1016.4 1116.5 1019.1 1116.4 1020.8Z" fill="#804509"/>
<path d="M1119.5 1012.8 1121.2 1015.6 1122.4 1018.1 1123.0 1019.7 1123.3 1020.3 1123.3 1019.7 1116.4 1020.8 1116.4 1021.5 1116.1 1020.9 1115.5 1019.2 1114.3 1016.8 1112.6 1014.0Z" fill="#d07010"/>
<path d="M1118.9 1018.7 L1119.6 1020.3 L1119.8 1020.9" stroke="#e0a263" stroke-width="2.4" stroke-linecap="round" fill="none" opacity="0.45"/>
<path d="M1135.6 1002.7 1138.5 1003.9 1139.4 1006.4 1140.0 1009.4 1133.0 1010.6 1132.5 1007.6 1131.6 1005.1 1128.7 1003.8Z" fill="#d07010"/>
<path d="M1135.1 1004.5 L1136.0 1007.0 L1136.5 1010.0" stroke="#e0a263" stroke-width="2.4" stroke-linecap="round" fill="none" opacity="0.45"/>
<polygon points="1125.5,1019.8 1131.3,1029.3 1133.1,1037.8 1139.9,1036.2 1137.7,1026.7 1131.5,1016.2" fill="#e0c088"/>
<polygon points="1123.5,1031.0 1139.5,1033.0 1138.5,1050.0 1128.5,1047.0" fill="#f6ad55"/>
<path d="M1151.3 1052.5 1149.3 1052.6 1147.3 1050.6 1145.0 1047.2 1142.4 1043.2 1141.0 1038.4 1141.1 1033.5 1142.7 1029.2 1145.6 1026.2 1137.7 1031.5 1134.8 1034.5 1133.2 1038.7 1133.1 1043.7 1134.4 1048.5 1137.1 1052.5 1139.4 1055.9 1141.4 1057.8 1143.4 1057.8Z" fill="#804509"/>
<path d="M1167.3 1041.8 1165.3 1041.9 1162.8 1040.3 1160.2 1037.1 1158.1 1032.7 1157.0 1027.7 1157.1 1022.8 1149.2 1028.1 1149.1 1033.0 1150.2 1038.0 1152.3 1042.3 1154.9 1045.5 1157.4 1047.2 1159.4 1047.1Z" fill="#804509"/>
<path d="M1151.8 1047.9 1152.2 1050.8 1151.3 1052.5 1143.4 1057.8 1144.3 1056.1 1143.9 1053.2Z" fill="#d07010"/>
<path d="M1147.8 1050.6 L1148.2 1053.5 L1147.3 1055.1" stroke="#e0a263" stroke-width="3.3" stroke-linecap="round" fill="none" opacity="0.45"/>
<path d="M1145.6 1026.2 1149.6 1024.8 1154.1 1025.1 1158.7 1027.0 1162.8 1030.0 1165.9 1033.7 1167.8 1037.3 1168.2 1040.2 1167.3 1041.8 1159.4 1047.1 1160.3 1045.4 1159.9 1042.5 1158.0 1038.9 1154.9 1035.3 1150.8 1032.3 1146.2 1030.4 1141.7 1030.1 1137.7 1031.5Z" fill="#d07010"/>
<path d="M1154.7 1029.6 L1158.8 1032.7 L1162.0 1036.3" stroke="#e0a263" stroke-width="3.3" stroke-linecap="round" fill="none" opacity="0.45"/>
<polygon points="1102.5,1033.0 1121.5,1036.0 1119.5,1044.0 1104.5,1041.0" fill="#c4c4c4"/>
<path d="M1048.5 1066.7 C1051.0 1066.7 1058.0 1067.8 1063.2 1066.7 C1068.4 1065.6 1074.6 1061.8 1079.5 1060.2 C1084.4 1058.6 1088.7 1056.5 1092.5 1057.0 C1096.3 1057.5 1098.3 1060.4 1102.4 1063.4 C1106.5 1066.4 1111.6 1071.0 1117.0 1074.8 C1122.4 1078.6 1130.9 1083.8 1135.0 1086.2 C1139.1 1088.7 1140.4 1089.0 1141.5 1089.5" fill="none" stroke="#d9963a" stroke-width="2.3" stroke-linecap="round" stroke-linejoin="round"/>
<path d="M1050.7 1068.2 1049.6 1066.6 1048.6 1063.4 1048.0 1059.1 1048.2 1054.4 1049.2 1049.9 1051.1 1046.3 1053.8 1044.0 1057.0 1043.5 1043.0 1047.2 1039.7 1047.7 1037.1 1049.9 1035.1 1053.6 1034.1 1058.1 1034.0 1062.8 1034.6 1067.1 1035.6 1070.3 1036.7 1071.9Z" fill="#232323"/>
<path d="M1069.2 1063.1 1068.1 1061.0 1067.2 1057.5 1066.7 1053.1 1067.1 1048.3 1068.3 1044.0 1070.4 1040.6 1073.3 1038.8 1076.6 1038.7 1062.6 1042.4 1059.3 1042.5 1056.4 1044.3 1054.3 1047.7 1053.1 1052.0 1052.7 1056.7 1053.2 1061.2 1054.1 1064.7 1055.2 1066.7Z" fill="#232323"/>
<path d="M1088.7 1058.5 1087.7 1057.8 1086.6 1055.3 1085.8 1051.6 1085.5 1047.0 1086.1 1042.3 1087.5 1038.1 1089.8 1035.1 1092.8 1033.7 1078.8 1037.4 1075.8 1038.8 1073.5 1041.8 1072.0 1045.9 1071.5 1050.7 1071.8 1055.2 1072.6 1059.0 1073.7 1061.5 1074.7 1062.2Z" fill="#232323"/>
<path d="M1107.3 1053.6 1106.2 1052.4 1092.2 1056.1 1093.2 1057.3Z" fill="#232323"/>
<path d="M1049.7 1059.3 1051.2 1063.2 1051.8 1066.4 1051.5 1068.1 1050.7 1068.2 1036.7 1071.9 1037.5 1071.8 1037.7 1070.0 1037.2 1066.9 1035.7 1063.0Z" fill="#3a3a3a"/>
<path d="M1044.2 1065.1 L1044.8 1068.2 L1044.5 1070.0" stroke="#7e7e7e" stroke-width="5.1" stroke-linecap="round" fill="none" opacity="0.45"/>
<path d="M1057.0 1043.5 1060.5 1044.8 1063.9 1047.5 1066.7 1051.2 1068.9 1055.3 1070.2 1059.1 1070.5 1062.0 1070.1 1063.4 1069.2 1063.1 1055.2 1066.7 1056.1 1067.1 1056.5 1065.7 1056.1 1062.8 1054.9 1059.0 1052.7 1054.9 1049.8 1051.2 1046.5 1048.4 1043.0 1047.2Z" fill="#3a3a3a"/>
<path d="M1059.7 1053.1 L1061.9 1057.2 L1063.2 1061.0" stroke="#7e7e7e" stroke-width="5.1" stroke-linecap="round" fill="none" opacity="0.45"/>
<path d="M1076.6 1038.7 1080.1 1040.3 1083.4 1043.4 1086.1 1047.3 1088.0 1051.4 1089.1 1055.0 1089.3 1057.5 1088.7 1058.5 1074.7 1062.2 1075.2 1061.2 1075.1 1058.7 1074.0 1055.1 1072.1 1051.0 1069.4 1047.1 1066.1 1044.0 1062.6 1042.4Z" fill="#3a3a3a"/>
<path d="M1079.1 1049.1 L1081.0 1053.2 L1082.1 1056.8" stroke="#7e7e7e" stroke-width="5.1" stroke-linecap="round" fill="none" opacity="0.45"/>
<path d="M1092.8 1033.7 1096.2 1034.0 1099.7 1036.0 1102.9 1039.3 1105.4 1043.3 1107.1 1047.4 1108.0 1050.8 1107.9 1053.0 1107.3 1053.6 1093.2 1057.3 1093.9 1056.7 1093.9 1054.5 1093.1 1051.1 1091.4 1047.0 1088.8 1043.0 1085.7 1039.7 1082.2 1037.7 1078.8 1037.4Z" fill="#3a3a3a"/>
<path d="M1095.8 1041.2 L1098.4 1045.2 L1100.1 1049.2" stroke="#7e7e7e" stroke-width="5.1" stroke-linecap="round" fill="none" opacity="0.45"/>
<path d="M1008.6 1055.4 1009.2 1054.4 1009.8 1052.5 1010.7 1049.8 1012.0 1046.8 1013.9 1043.9 1016.3 1041.7 1019.1 1040.3 1021.3 1040.2 1013.5 1041.6 1011.3 1041.7 1008.5 1043.1 1006.1 1045.4 1004.2 1048.2 1002.8 1051.2 1001.9 1053.9 1001.3 1055.8 1000.8 1056.8Z" fill="#1f1f1f"/>
<path d="M1003.3 1049.8 1005.4 1052.1 1006.9 1054.0 1007.9 1055.2 1008.6 1055.4 1000.8 1056.8 1000.1 1056.6 999.0 1055.5 997.5 1053.5 995.4 1051.2Z" fill="#333333"/>
<path d="M1001.4 1052.8 L1003.0 1054.7 L1004.0 1055.9" stroke="#7a7a7a" stroke-width="2.8" stroke-linecap="round" fill="none" opacity="0.45"/>
<path d="M1020.5 1052.0 C1021.0 1051.2 1022.2 1047.7 1023.5 1047.0 C1024.8 1046.3 1027.7 1047.8 1028.5 1048.0" fill="none" stroke="#e4a040" stroke-width="2.3" stroke-linecap="round" stroke-linejoin="round"/>
<path d="M1036.8 1074.9 1037.2 1073.4 1037.7 1071.1 1038.6 1068.4 1039.9 1065.6 1041.6 1063.1 1043.8 1061.2 1046.4 1060.2 1049.2 1060.1 1042.3 1061.5 1039.5 1061.6 1037.0 1062.6 1034.8 1064.5 1033.0 1067.0 1031.7 1069.8 1030.8 1072.5 1030.3 1074.7 1030.0 1076.2Z" fill="#8d6327"/>
<path d="M1031.8 1069.7 1033.6 1071.9 1035.0 1073.8 1035.9 1075.0 1036.5 1075.4 1036.8 1074.9 1030.0 1076.2 1029.6 1076.8 1029.0 1076.4 1028.1 1075.2 1026.8 1073.3 1024.9 1071.1Z" fill="#e4a040"/>
<path d="M1031.6 1074.5 L1032.5 1075.7 L1033.0 1076.1" stroke="#edc182" stroke-width="2.4" stroke-linecap="round" fill="none" opacity="0.45"/>
<path d="M1049.2 1060.1 1051.9 1061.0 1053.4 1062.9 1053.9 1065.3 1047.1 1066.7 1046.6 1064.2 1045.1 1062.4 1042.3 1061.5Z" fill="#e4a040"/>
<path d="M1048.5 1061.7 L1050.0 1063.6 L1050.5 1066.0" stroke="#edc182" stroke-width="2.4" stroke-linecap="round" fill="none" opacity="0.45"/>
<path d="M1144.0 1085.8 1142.2 1085.2 1140.1 1083.0 1138.1 1079.4 1136.7 1074.8 1136.4 1069.7 1137.4 1065.0 1139.6 1061.1 1143.1 1058.6 1134.5 1063.7 1131.1 1066.2 1128.8 1070.1 1127.8 1074.9 1128.2 1079.9 1129.5 1084.5 1131.5 1088.2 1133.7 1090.4 1135.4 1090.9Z" fill="#8c5c1c"/>
<path d="M1164.0 1073.8 1162.2 1073.2 1160.1 1071.0 1158.1 1067.4 1156.7 1062.8 1156.4 1057.7 1147.8 1062.9 1148.2 1067.9 1149.5 1072.5 1151.5 1076.2 1153.7 1078.4 1155.4 1078.9Z" fill="#8c5c1c"/>
<path d="M1143.2 1079.1 1144.7 1082.4 1144.9 1084.8 1144.0 1085.8 1135.4 1090.9 1136.4 1089.9 1136.1 1087.5 1134.6 1084.3Z" fill="#e2952e"/>
<path d="M1140.4 1084.9 L1140.7 1087.3 L1139.7 1088.4" stroke="#ecba77" stroke-width="3.5" stroke-linecap="round" fill="none" opacity="0.45"/>
<path d="M1143.1 1058.6 1147.3 1057.6 1152.0 1058.3 1156.5 1060.5 1160.3 1063.6 1163.2 1067.1 1164.7 1070.4 1164.9 1072.8 1164.0 1073.8 1155.4 1078.9 1156.4 1077.9 1156.1 1075.5 1154.6 1072.3 1151.8 1068.7 1147.9 1065.6 1143.4 1063.5 1138.8 1062.8 1134.5 1063.7Z" fill="#e2952e"/>
<path d="M1152.2 1063.0 L1156.0 1066.2 L1158.9 1069.7" stroke="#ecba77" stroke-width="3.5" stroke-linecap="round" fill="none" opacity="0.45"/>
<path d="M1158.5 1072.0 C1158.2 1073.7 1158.5 1079.3 1156.5 1082.0 C1154.5 1084.7 1149.0 1086.8 1146.5 1088.0 C1144.0 1089.2 1142.3 1089.2 1141.5 1089.5" fill="none" stroke="#e2952e" stroke-width="2.3" stroke-linecap="round" stroke-linejoin="round"/>
<path d="M967.5 1032.0 C969.6 1034.0 975.8 1042.5 980.1 1043.9 C984.4 1045.3 989.9 1040.1 993.2 1040.6 C996.5 1041.1 997.5 1045.5 999.7 1047.1 C1001.9 1048.7 1005.1 1049.9 1006.2 1050.4" fill="none" stroke="#e07818" stroke-width="2.6" stroke-linecap="round" stroke-linejoin="round"/>
<path d="M1038.8 1021.0 C1039.6 1018.8 1040.7 1010.4 1043.7 1008.0 C1046.7 1005.6 1054.0 1005.3 1056.7 1006.4 C1059.4 1007.5 1056.7 1012.1 1060.0 1014.5 C1063.3 1016.9 1070.9 1019.4 1076.3 1021.0 C1081.7 1022.6 1088.2 1021.6 1092.5 1024.3 C1096.8 1027.0 1098.3 1033.2 1102.4 1037.3 C1106.5 1041.4 1111.8 1047.3 1117.0 1048.7 C1122.2 1050.1 1129.7 1047.0 1133.3 1045.5 C1136.9 1044.0 1137.6 1040.9 1138.5 1040.0" fill="none" stroke="#d9982e" stroke-width="2.4" stroke-linecap="round" stroke-linejoin="round"/>
<path d="M1095.8 1037.3 C1098.0 1039.2 1104.0 1046.5 1108.9 1049.0 C1113.8 1051.5 1120.3 1052.5 1125.2 1052.0 C1130.1 1051.5 1136.0 1047.0 1138.2 1046.0" fill="none" stroke="#e08a2a" stroke-width="2.2" stroke-linecap="round" stroke-linejoin="round"/>
<path d="M1057.5 916.0 C1058.2 915.5 1059.8 913.4 1061.5 913.0 C1063.2 912.6 1066.0 912.8 1067.5 913.5 C1069.0 914.2 1070.7 915.9 1070.5 917.0 C1070.3 918.1 1068.2 919.6 1066.5 920.0 C1064.8 920.4 1062.0 920.2 1060.5 919.5 C1059.0 918.8 1058.0 916.6 1057.5 916.0" fill="none" stroke="#2438ff" stroke-width="1.8" stroke-linecap="round" stroke-linejoin="round"/>
<path d="M1067.5 916.0 C1068.5 915.8 1071.7 914.5 1073.5 915.0 C1075.3 915.5 1077.7 918.3 1078.5 919.0" fill="none" stroke="#222" stroke-width="2.2" stroke-linecap="round" stroke-linejoin="round"/>
<path d="M1073.5 918.0 C1074.3 917.8 1077.0 916.3 1078.5 917.0 C1080.0 917.7 1082.3 920.0 1082.5 922.0 C1082.7 924.0 1080.7 927.2 1079.5 929.0 C1078.3 930.8 1076.7 933.0 1075.5 933.0 C1074.3 933.0 1072.7 930.8 1072.5 929.0 C1072.3 927.2 1074.2 923.2 1074.5 922.0" fill="none" stroke="#111" stroke-width="3.2" stroke-linecap="round" stroke-linejoin="round"/>
<path d="M1074.5 921.0 C1075.3 921.5 1079.0 922.5 1079.5 924.0 C1080.0 925.5 1077.8 929.0 1077.5 930.0" fill="none" stroke="#555" stroke-width="2.4" stroke-linecap="round" stroke-linejoin="round"/>
<path d="M1071.5 931.0 L1067.5 935.0" fill="none" stroke="#e04040" stroke-width="2" stroke-linecap="round" stroke-linejoin="round"/>
<path d="M1079.5 929.0 C1080.3 928.7 1082.7 927.3 1084.5 927.0 C1086.3 926.7 1089.5 927.0 1090.5 927.0" fill="none" stroke="#111" stroke-width="2.6" stroke-linecap="round" stroke-linejoin="round"/>
<path d="M1090.5 927.0 C1091.3 927.0 1094.3 926.2 1095.5 927.0 C1096.7 927.8 1096.8 930.2 1097.5 932.0 C1098.2 933.8 1098.3 936.7 1099.5 938.0 C1100.7 939.3 1102.7 939.7 1104.5 940.0 C1106.3 940.3 1108.5 939.8 1110.5 940.0 C1112.5 940.2 1115.5 940.8 1116.5 941.0" fill="none" stroke="#e8641e" stroke-width="2.4" stroke-linecap="round" stroke-linejoin="round"/>
<path d="M1095.5 923.0 L1097.5 932.0" fill="none" stroke="#f08a20" stroke-width="2" stroke-linecap="round" stroke-linejoin="round"/>
<path d="M1093.5 933.0 L1101.5 932.0" fill="none" stroke="#e04040" stroke-width="1.8" stroke-linecap="round" stroke-linejoin="round"/>
<path d="M1102.5 936.0 L1102.5 945.0" fill="none" stroke="#e04040" stroke-width="1.8" stroke-linecap="round" stroke-linejoin="round"/>
<path d="M1104.5 940.0 L1109.5 940.0" fill="none" stroke="#2438ff" stroke-width="2.2" stroke-linecap="round" stroke-linejoin="round"/>
<path d="M1112.5 935.0 L1113.5 946.0" fill="none" stroke="#f08a20" stroke-width="2" stroke-linecap="round" stroke-linejoin="round"/>
<path d="M1109.5 944.0 L1117.5 944.0" fill="none" stroke="#e04040" stroke-width="1.8" stroke-linecap="round" stroke-linejoin="round"/>
<text x="1010.5" y="918.2" font-size="27.5" font-weight="bold" font-family='"Liberation Sans", sans-serif'>ATP</text>
<text x="1165.7" y="868.4" font-size="28.8" font-weight="bold" font-family='"Liberation Sans", sans-serif'><tspan font-family='"Liberation Serif", serif' font-weight="normal">α</tspan>C</text>
</g>
<text x="10" y="786" font-size="58" font-weight="bold" font-style="normal" fill="#000" text-anchor="start" font-family='"Liberation Sans", sans-serif' >b</text>
<text x="38.8" y="1136.3" font-size="31" font-weight="bold" font-style="normal" fill="#9d9d9d" text-anchor="start" font-family='"Liberation Sans", sans-serif' >Wild type</text>
<text x="232.7" y="1136.3" font-size="30" font-weight="bold" font-style="normal" fill="#0a32ff" text-anchor="start" font-family='"Liberation Sans", sans-serif' ><tspan font-family='"Liberation Serif", serif' font-weight="normal">Δ</tspan>L747-A750InsP</text>
<text x="550.6" y="1136.3" font-size="30" font-weight="bold" font-style="normal" fill="#0a32ff" text-anchor="start" font-family='"Liberation Sans", sans-serif' >L747P</text>
<line x1="234.3" y1="1144.6" x2="642.3" y2="1144.6" stroke="#0a32ff" stroke-width="2.4" />
<text x="378" y="1179.7" font-size="30.4" font-weight="bold" font-style="normal" fill="#0a32ff" text-anchor="start" font-family='"Liberation Sans", sans-serif' >Profile 1</text>
<text x="752" y="1136.3" font-size="30" font-weight="bold" font-style="normal" fill="#ff2a00" text-anchor="start" font-family='"Liberation Sans", sans-serif' ><tspan font-family='"Liberation Serif", serif' font-weight="normal">Δ</tspan>E746-A750</text>
<text x="965.4" y="1136.3" font-size="30" font-weight="bold" font-style="normal" fill="#ff2a00" text-anchor="start" font-family='"Liberation Sans", sans-serif' ><tspan font-family='"Liberation Serif", serif' font-weight="normal">Δ</tspan>L747-P753InsS</text>
<line x1="753.4" y1="1145.6" x2="1197.1" y2="1145.6" stroke="#ff2a00" stroke-width="2.4" />
<text x="915.7" y="1179.3" font-size="30" font-weight="bold" font-style="normal" fill="#ff2a00" text-anchor="start" font-family='"Liberation Sans", sans-serif' >Profile 2</text>
<defs><linearGradient id="cb" x1="0" y1="0" x2="0" y2="1">
<stop offset="0" stop-color="#f4901e"/><stop offset="0.27" stop-color="#ffa500"/>
<stop offset="0.42" stop-color="#d9a03a"/><stop offset="0.52" stop-color="#b09a78"/>
<stop offset="0.58" stop-color="#999999"/><stop offset="0.75" stop-color="#5c5c5c"/>
<stop offset="1" stop-color="#2a2828"/></linearGradient></defs>
<rect x="1246.8" y="863.9" width="28.6" height="185.2" fill="url(#cb)" stroke="#000" stroke-width="1.3"/>
<text x="1283.3" y="871.9" font-size="27" font-weight="bold" font-style="normal" fill="#f7941d" text-anchor="start" font-family='"Liberation Sans", sans-serif' >100%</text>
<text x="1281.8" y="1053.3" font-size="27" font-weight="bold" font-style="normal" fill="#000" text-anchor="start" font-family='"Liberation Sans", sans-serif' >0%</text>
<text transform="translate(1237 956) rotate(-90)" font-size="27" font-weight="bold" font-style="italic" text-anchor="middle" font-family='"Liberation Sans", sans-serif'>exchange</text>
<text x="10" y="1250" font-size="58" font-weight="bold" font-style="normal" fill="#000" text-anchor="start" font-family='"Liberation Sans", sans-serif' >c</text>
<line x1="120.5" y1="1262.8999999999999" x2="120.5" y2="1460.3999999999999" stroke="#000" stroke-width="2.6" />
<line x1="112.0" y1="1459.1" x2="412.9" y2="1459.1" stroke="#000" stroke-width="2.8" />
<line x1="112.0" y1="1459.1" x2="120.5" y2="1459.1" stroke="#000" stroke-width="2.6" />
<text x="110.9" y="1470.6" font-size="28" font-weight="bold" font-style="normal" fill="#000" text-anchor="end" font-family='"Liberation Sans", sans-serif' >0</text>
<line x1="112.0" y1="1410.375" x2="120.5" y2="1410.375" stroke="#000" stroke-width="2.6" />
<text x="110.9" y="1421.875" font-size="28" font-weight="bold" font-style="normal" fill="#000" text-anchor="end" font-family='"Liberation Sans", sans-serif' >25</text>
<line x1="112.0" y1="1361.6499999999999" x2="120.5" y2="1361.6499999999999" stroke="#000" stroke-width="2.6" />
<text x="110.9" y="1373.1499999999999" font-size="28" font-weight="bold" font-style="normal" fill="#000" text-anchor="end" font-family='"Liberation Sans", sans-serif' >50</text>
<line x1="112.0" y1="1312.925" x2="120.5" y2="1312.925" stroke="#000" stroke-width="2.6" />
<text x="110.9" y="1324.425" font-size="28" font-weight="bold" font-style="normal" fill="#000" text-anchor="end" font-family='"Liberation Sans", sans-serif' >75</text>
<line x1="112.0" y1="1264.1999999999998" x2="120.5" y2="1264.1999999999998" stroke="#000" stroke-width="2.6" />
<text x="110.9" y="1275.6999999999998" font-size="28" font-weight="bold" font-style="normal" fill="#000" text-anchor="end" font-family='"Liberation Sans", sans-serif' >100</text>
<line x1="158.4" y1="1459.1" x2="158.4" y2="1467.6" stroke="#000" stroke-width="2.8" />
<text x="158.4" y="1494.6" font-size="28" font-weight="bold" font-style="normal" fill="#000" text-anchor="middle" font-family='"Liberation Sans", sans-serif' >1</text>
<line x1="285.3" y1="1459.1" x2="285.3" y2="1467.6" stroke="#000" stroke-width="2.8" />
<text x="285.3" y="1494.6" font-size="28" font-weight="bold" font-style="normal" fill="#000" text-anchor="middle" font-family='"Liberation Sans", sans-serif' >2</text>
<line x1="412.20000000000005" y1="1459.1" x2="412.20000000000005" y2="1467.6" stroke="#000" stroke-width="2.8" />
<text x="412.20000000000005" y="1494.6" font-size="28" font-weight="bold" font-style="normal" fill="#000" text-anchor="middle" font-family='"Liberation Sans", sans-serif' >3</text>
<text transform="translate(60.80000000000001 1358.6999999999998) rotate(-90)" font-size="27" font-weight="bold" text-anchor="middle" font-family='"Liberation Sans", sans-serif' textLength="154" lengthAdjust="spacingAndGlyphs">% exchange</text>
<text x="265.4" y="1520.1" font-size="27.4" font-weight="bold" font-style="normal" fill="#000" text-anchor="middle" font-family='"Liberation Sans", sans-serif' >log labeling time (s)</text>
<text x="127.2" y="1290.1" font-size="31" font-weight="bold" font-family='"Liberation Sans", sans-serif'>(<tspan font-style="italic">i</tspan>)</text>
<text x="126.4" y="1448.3" font-size="31" font-weight="bold" font-family='"Liberation Sans", sans-serif' >704-711 (N-term)</text>
<polyline points="158.4,1367.5 257.1,1348.0 317.7,1330.5 384.0,1312.0" fill="none" stroke="#8f8f8f" stroke-width="3.6"/>
<circle cx="158.4" cy="1367.5" r="6.1" fill="#8f8f8f"/>
<circle cx="257.1" cy="1348.0" r="6.1" fill="#8f8f8f"/>
<circle cx="317.7" cy="1330.5" r="6.1" fill="#8f8f8f"/>
<circle cx="384.0" cy="1312.0" r="6.1" fill="#8f8f8f"/>
<polyline points="158.4,1367.5 257.1,1353.9 317.7,1338.3 384.0,1314.9" fill="none" stroke="#0a32ff" stroke-width="3.6"/>
<circle cx="158.4" cy="1367.5" r="6.1" fill="#0a32ff"/>
<circle cx="257.1" cy="1353.9" r="6.1" fill="#0a32ff"/>
<circle cx="317.7" cy="1338.3" r="6.1" fill="#0a32ff"/>
<circle cx="384.0" cy="1314.9" r="6.1" fill="#0a32ff"/>
<polyline points="158.4,1351.9 257.1,1331.4 317.7,1314.9 384.0,1288.6" fill="none" stroke="#ff2a00" stroke-width="3.6"/>
<path d="M158.4 1346.1V1357.8M152.9 1346.1H163.9M152.9 1357.8H163.9" stroke="#ff2a00" stroke-width="2.4" fill="none"/>
<circle cx="158.4" cy="1351.9" r="6.1" fill="#ff2a00"/>
<circle cx="257.1" cy="1331.4" r="6.1" fill="#ff2a00"/>
<circle cx="317.7" cy="1314.9" r="6.1" fill="#ff2a00"/>
<path d="M384.0 1283.7V1293.4M378.5 1283.7H389.5M378.5 1293.4H389.5" stroke="#ff2a00" stroke-width="2.4" fill="none"/>
<circle cx="384.0" cy="1288.6" r="6.1" fill="#ff2a00"/>
<line x1="552.3000000000001" y1="1262.8999999999999" x2="552.3000000000001" y2="1460.3999999999999" stroke="#000" stroke-width="2.6" />
<line x1="543.8000000000001" y1="1459.1" x2="844.7" y2="1459.1" stroke="#000" stroke-width="2.8" />
<line x1="543.8000000000001" y1="1459.1" x2="552.3000000000001" y2="1459.1" stroke="#000" stroke-width="2.6" />
<text x="542.7" y="1470.6" font-size="28" font-weight="bold" font-style="normal" fill="#000" text-anchor="end" font-family='"Liberation Sans", sans-serif' >0</text>
<line x1="543.8000000000001" y1="1410.375" x2="552.3000000000001" y2="1410.375" stroke="#000" stroke-width="2.6" />
<text x="542.7" y="1421.875" font-size="28" font-weight="bold" font-style="normal" fill="#000" text-anchor="end" font-family='"Liberation Sans", sans-serif' >25</text>
<line x1="543.8000000000001" y1="1361.6499999999999" x2="552.3000000000001" y2="1361.6499999999999" stroke="#000" stroke-width="2.6" />
<text x="542.7" y="1373.1499999999999" font-size="28" font-weight="bold" font-style="normal" fill="#000" text-anchor="end" font-family='"Liberation Sans", sans-serif' >50</text>
<line x1="543.8000000000001" y1="1312.925" x2="552.3000000000001" y2="1312.925" stroke="#000" stroke-width="2.6" />
<text x="542.7" y="1324.425" font-size="28" font-weight="bold" font-style="normal" fill="#000" text-anchor="end" font-family='"Liberation Sans", sans-serif' >75</text>
<line x1="543.8000000000001" y1="1264.1999999999998" x2="552.3000000000001" y2="1264.1999999999998" stroke="#000" stroke-width="2.6" />
<text x="542.7" y="1275.6999999999998" font-size="28" font-weight="bold" font-style="normal" fill="#000" text-anchor="end" font-family='"Liberation Sans", sans-serif' >100</text>
<line x1="590.2" y1="1459.1" x2="590.2" y2="1467.6" stroke="#000" stroke-width="2.8" />
<text x="590.2" y="1494.6" font-size="28" font-weight="bold" font-style="normal" fill="#000" text-anchor="middle" font-family='"Liberation Sans", sans-serif' >1</text>
<line x1="717.1" y1="1459.1" x2="717.1" y2="1467.6" stroke="#000" stroke-width="2.8" />
<text x="717.1" y="1494.6" font-size="28" font-weight="bold" font-style="normal" fill="#000" text-anchor="middle" font-family='"Liberation Sans", sans-serif' >2</text>
<line x1="844.0" y1="1459.1" x2="844.0" y2="1467.6" stroke="#000" stroke-width="2.8" />
<text x="844.0" y="1494.6" font-size="28" font-weight="bold" font-style="normal" fill="#000" text-anchor="middle" font-family='"Liberation Sans", sans-serif' >3</text>
<text transform="translate(492.6 1358.6999999999998) rotate(-90)" font-size="27" font-weight="bold" text-anchor="middle" font-family='"Liberation Sans", sans-serif' textLength="154" lengthAdjust="spacingAndGlyphs">% exchange</text>
<text x="697.2" y="1520.1" font-size="27.4" font-weight="bold" font-style="normal" fill="#000" text-anchor="middle" font-family='"Liberation Sans", sans-serif' >log labeling time (s)</text>
<text x="559.0" y="1290.1" font-size="31" font-weight="bold" font-family='"Liberation Sans", sans-serif'>(<tspan font-style="italic">ii</tspan>)</text>
<text x="558.2" y="1448.3" font-size="31" font-weight="bold" font-family='"Liberation Sans", sans-serif' >713-723 (<tspan font-family='"Liberation Serif", serif' font-weight="normal">β</tspan>1)</text>
<polyline points="590.2,1323.6 688.9,1300.3 749.5,1293.4 815.8,1285.6" fill="none" stroke="#8f8f8f" stroke-width="3.6"/>
<path d="M590.2 1315.3V1332.0M584.7 1315.3H595.7M584.7 1332.0H595.7" stroke="#8f8f8f" stroke-width="2.4" fill="none"/>
<circle cx="590.2" cy="1323.6" r="6.1" fill="#8f8f8f"/>
<path d="M688.9 1290.5V1310.0M683.4 1290.5H694.4M683.4 1310.0H694.4" stroke="#8f8f8f" stroke-width="2.4" fill="none"/>
<circle cx="688.9" cy="1300.3" r="6.1" fill="#8f8f8f"/>
<circle cx="749.5" cy="1293.4" r="6.1" fill="#8f8f8f"/>
<path d="M815.8 1272.0V1299.3M810.3 1272.0H821.3M810.3 1299.3H821.3" stroke="#8f8f8f" stroke-width="2.4" fill="none"/>
<circle cx="815.8" cy="1285.6" r="6.1" fill="#8f8f8f"/>
<polyline points="590.2,1338.3 688.9,1320.7 749.5,1305.1 815.8,1297.3" fill="none" stroke="#0a32ff" stroke-width="3.6"/>
<circle cx="590.2" cy="1338.3" r="6.1" fill="#0a32ff"/>
<circle cx="688.9" cy="1320.7" r="6.1" fill="#0a32ff"/>
<circle cx="749.5" cy="1305.1" r="6.1" fill="#0a32ff"/>
<circle cx="815.8" cy="1297.3" r="6.1" fill="#0a32ff"/>
<polyline points="590.2,1312.9 688.9,1286.6 749.5,1280.8 815.8,1270.0" fill="none" stroke="#ff2a00" stroke-width="3.6"/>
<path d="M590.2 1308.1V1317.8M584.7 1308.1H595.7M584.7 1317.8H595.7" stroke="#ff2a00" stroke-width="2.4" fill="none"/>
<circle cx="590.2" cy="1312.9" r="6.1" fill="#ff2a00"/>
<path d="M688.9 1273.4V1299.9M683.4 1273.4H694.4M683.4 1299.9H694.4" stroke="#ff2a00" stroke-width="2.4" fill="none"/>
<circle cx="688.9" cy="1286.6" r="6.1" fill="#ff2a00"/>
<path d="M749.5 1272.4V1289.1M744.0 1272.4H755.0M744.0 1289.1H755.0" stroke="#ff2a00" stroke-width="2.4" fill="none"/>
<circle cx="749.5" cy="1280.8" r="6.1" fill="#ff2a00"/>
<circle cx="815.8" cy="1270.0" r="6.1" fill="#ff2a00"/>
<line x1="983.8000000000001" y1="1262.8999999999999" x2="983.8000000000001" y2="1460.3999999999999" stroke="#000" stroke-width="2.6" />
<line x1="975.3000000000001" y1="1459.1" x2="1276.2" y2="1459.1" stroke="#000" stroke-width="2.8" />
<line x1="975.3000000000001" y1="1459.1" x2="983.8000000000001" y2="1459.1" stroke="#000" stroke-width="2.6" />
<text x="974.2" y="1470.6" font-size="28" font-weight="bold" font-style="normal" fill="#000" text-anchor="end" font-family='"Liberation Sans", sans-serif' >0</text>
<line x1="975.3000000000001" y1="1410.375" x2="983.8000000000001" y2="1410.375" stroke="#000" stroke-width="2.6" />
<text x="974.2" y="1421.875" font-size="28" font-weight="bold" font-style="normal" fill="#000" text-anchor="end" font-family='"Liberation Sans", sans-serif' >25</text>
<line x1="975.3000000000001" y1="1361.6499999999999" x2="983.8000000000001" y2="1361.6499999999999" stroke="#000" stroke-width="2.6" />
<text x="974.2" y="1373.1499999999999" font-size="28" font-weight="bold" font-style="normal" fill="#000" text-anchor="end" font-family='"Liberation Sans", sans-serif' >50</text>
<line x1="975.3000000000001" y1="1312.925" x2="983.8000000000001" y2="1312.925" stroke="#000" stroke-width="2.6" />
<text x="974.2" y="1324.425" font-size="28" font-weight="bold" font-style="normal" fill="#000" text-anchor="end" font-family='"Liberation Sans", sans-serif' >75</text>
<line x1="975.3000000000001" y1="1264.1999999999998" x2="983.8000000000001" y2="1264.1999999999998" stroke="#000" stroke-width="2.6" />
<text x="974.2" y="1275.6999999999998" font-size="28" font-weight="bold" font-style="normal" fill="#000" text-anchor="end" font-family='"Liberation Sans", sans-serif' >100</text>
<line x1="1021.7" y1="1459.1" x2="1021.7" y2="1467.6" stroke="#000" stroke-width="2.8" />
<text x="1021.7" y="1494.6" font-size="28" font-weight="bold" font-style="normal" fill="#000" text-anchor="middle" font-family='"Liberation Sans", sans-serif' >1</text>
<line x1="1148.6000000000001" y1="1459.1" x2="1148.6000000000001" y2="1467.6" stroke="#000" stroke-width="2.8" />
<text x="1148.6000000000001" y="1494.6" font-size="28" font-weight="bold" font-style="normal" fill="#000" text-anchor="middle" font-family='"Liberation Sans", sans-serif' >2</text>
<line x1="1275.5" y1="1459.1" x2="1275.5" y2="1467.6" stroke="#000" stroke-width="2.8" />
<text x="1275.5" y="1494.6" font-size="28" font-weight="bold" font-style="normal" fill="#000" text-anchor="middle" font-family='"Liberation Sans", sans-serif' >3</text>
<text transform="translate(924.1 1358.6999999999998) rotate(-90)" font-size="27" font-weight="bold" text-anchor="middle" font-family='"Liberation Sans", sans-serif' textLength="154" lengthAdjust="spacingAndGlyphs">% exchange</text>
<text x="1128.7" y="1520.1" font-size="27.4" font-weight="bold" font-style="normal" fill="#000" text-anchor="middle" font-family='"Liberation Sans", sans-serif' >log labeling time (s)</text>
<text x="990.5" y="1290.1" font-size="31" font-weight="bold" font-family='"Liberation Sans", sans-serif'>(<tspan font-style="italic">iii</tspan>)</text>
<text x="989.7" y="1448.3" font-size="31" font-weight="bold" font-family='"Liberation Sans", sans-serif' >768-777 (<tspan font-family='"Liberation Serif", serif' font-weight="normal">α</tspan>C/<tspan font-family='"Liberation Serif", serif' font-weight="normal">β</tspan>4 loop)</text>
<polyline points="1021.7,1395.8 1120.4,1379.2 1181.0,1367.5 1247.3,1355.8" fill="none" stroke="#8f8f8f" stroke-width="3.6"/>
<circle cx="1021.7" cy="1395.8" r="6.1" fill="#8f8f8f"/>
<circle cx="1120.4" cy="1379.2" r="6.1" fill="#8f8f8f"/>
<circle cx="1181.0" cy="1367.5" r="6.1" fill="#8f8f8f"/>
<circle cx="1247.3" cy="1355.8" r="6.1" fill="#8f8f8f"/>
<polyline points="1021.7,1380.2 1120.4,1366.5 1181.0,1353.9 1247.3,1322.7" fill="none" stroke="#0a32ff" stroke-width="3.6"/>
<circle cx="1021.7" cy="1380.2" r="6.1" fill="#0a32ff"/>
<circle cx="1120.4" cy="1366.5" r="6.1" fill="#0a32ff"/>
<circle cx="1181.0" cy="1353.9" r="6.1" fill="#0a32ff"/>
<circle cx="1247.3" cy="1322.7" r="6.1" fill="#0a32ff"/>
<polyline points="1021.7,1363.6 1120.4,1333.4 1181.0,1312.9 1247.3,1289.5" fill="none" stroke="#ff2a00" stroke-width="3.6"/>
<circle cx="1021.7" cy="1363.6" r="6.1" fill="#ff2a00"/>
<path d="M1120.4 1326.6V1340.2M1114.9 1326.6H1125.9M1114.9 1340.2H1125.9" stroke="#ff2a00" stroke-width="2.4" fill="none"/>
<circle cx="1120.4" cy="1333.4" r="6.1" fill="#ff2a00"/>
<path d="M1181.0 1307.1V1318.8M1175.5 1307.1H1186.5M1175.5 1318.8H1186.5" stroke="#ff2a00" stroke-width="2.4" fill="none"/>
<circle cx="1181.0" cy="1312.9" r="6.1" fill="#ff2a00"/>
<path d="M1247.3 1283.7V1295.4M1241.8 1283.7H1252.8M1241.8 1295.4H1252.8" stroke="#ff2a00" stroke-width="2.4" fill="none"/>
<circle cx="1247.3" cy="1289.5" r="6.1" fill="#ff2a00"/>
<line x1="120.5" y1="1589.8" x2="120.5" y2="1787.3" stroke="#000" stroke-width="2.6" />
<line x1="112.0" y1="1786" x2="412.9" y2="1786" stroke="#000" stroke-width="2.8" />
<line x1="112.0" y1="1786.0" x2="120.5" y2="1786.0" stroke="#000" stroke-width="2.6" />
<text x="110.9" y="1797.5" font-size="28" font-weight="bold" font-style="normal" fill="#000" text-anchor="end" font-family='"Liberation Sans", sans-serif' >0</text>
<line x1="112.0" y1="1737.275" x2="120.5" y2="1737.275" stroke="#000" stroke-width="2.6" />
<text x="110.9" y="1748.775" font-size="28" font-weight="bold" font-style="normal" fill="#000" text-anchor="end" font-family='"Liberation Sans", sans-serif' >25</text>
<line x1="112.0" y1="1688.55" x2="120.5" y2="1688.55" stroke="#000" stroke-width="2.6" />
<text x="110.9" y="1700.05" font-size="28" font-weight="bold" font-style="normal" fill="#000" text-anchor="end" font-family='"Liberation Sans", sans-serif' >50</text>
<line x1="112.0" y1="1639.825" x2="120.5" y2="1639.825" stroke="#000" stroke-width="2.6" />
<text x="110.9" y="1651.325" font-size="28" font-weight="bold" font-style="normal" fill="#000" text-anchor="end" font-family='"Liberation Sans", sans-serif' >75</text>
<line x1="112.0" y1="1591.1" x2="120.5" y2="1591.1" stroke="#000" stroke-width="2.6" />
<text x="110.9" y="1602.6" font-size="28" font-weight="bold" font-style="normal" fill="#000" text-anchor="end" font-family='"Liberation Sans", sans-serif' >100</text>
<line x1="158.4" y1="1786" x2="158.4" y2="1794.5" stroke="#000" stroke-width="2.8" />
<text x="158.4" y="1821.5" font-size="28" font-weight="bold" font-style="normal" fill="#000" text-anchor="middle" font-family='"Liberation Sans", sans-serif' >1</text>
<line x1="285.3" y1="1786" x2="285.3" y2="1794.5" stroke="#000" stroke-width="2.8" />
<text x="285.3" y="1821.5" font-size="28" font-weight="bold" font-style="normal" fill="#000" text-anchor="middle" font-family='"Liberation Sans", sans-serif' >2</text>
<line x1="412.20000000000005" y1="1786" x2="412.20000000000005" y2="1794.5" stroke="#000" stroke-width="2.8" />
<text x="412.20000000000005" y="1821.5" font-size="28" font-weight="bold" font-style="normal" fill="#000" text-anchor="middle" font-family='"Liberation Sans", sans-serif' >3</text>
<text transform="translate(60.80000000000001 1685.6) rotate(-90)" font-size="27" font-weight="bold" text-anchor="middle" font-family='"Liberation Sans", sans-serif' textLength="154" lengthAdjust="spacingAndGlyphs">% exchange</text>
<text x="265.4" y="1847" font-size="27.4" font-weight="bold" font-style="normal" fill="#000" text-anchor="middle" font-family='"Liberation Sans", sans-serif' >log labeling time (s)</text>
<text x="127.2" y="1617" font-size="31" font-weight="bold" font-family='"Liberation Sans", sans-serif'>(<tspan font-style="italic">iv</tspan>)</text>
<text x="126.4" y="1775.2" font-size="31" font-weight="bold" font-family='"Liberation Sans", sans-serif' >799-812 (<tspan font-family='"Liberation Serif", serif' font-weight="normal">α</tspan>D)</text>
<polyline points="158.4,1741.2 257.1,1711.0 317.7,1692.4 384.0,1673.0" fill="none" stroke="#8f8f8f" stroke-width="3.6"/>
<path d="M158.4 1737.3V1745.1M152.9 1737.3H163.9M152.9 1745.1H163.9" stroke="#8f8f8f" stroke-width="2.4" fill="none"/>
<circle cx="158.4" cy="1741.2" r="6.1" fill="#8f8f8f"/>
<circle cx="257.1" cy="1711.0" r="6.1" fill="#8f8f8f"/>
<circle cx="317.7" cy="1692.4" r="6.1" fill="#8f8f8f"/>
<path d="M384.0 1669.1V1676.9M378.5 1669.1H389.5M378.5 1676.9H389.5" stroke="#8f8f8f" stroke-width="2.4" fill="none"/>
<circle cx="384.0" cy="1673.0" r="6.1" fill="#8f8f8f"/>
<polyline points="158.4,1727.5 257.1,1702.2 317.7,1686.6 384.0,1666.1" fill="none" stroke="#0a32ff" stroke-width="3.6"/>
<path d="M158.4 1723.6V1731.4M152.9 1723.6H163.9M152.9 1731.4H163.9" stroke="#0a32ff" stroke-width="2.4" fill="none"/>
<circle cx="158.4" cy="1727.5" r="6.1" fill="#0a32ff"/>
<path d="M257.1 1694.4V1710.0M251.6 1694.4H262.6M251.6 1710.0H262.6" stroke="#0a32ff" stroke-width="2.4" fill="none"/>
<circle cx="257.1" cy="1702.2" r="6.1" fill="#0a32ff"/>
<path d="M317.7 1673.0V1700.2M312.2 1673.0H323.2M312.2 1700.2H323.2" stroke="#0a32ff" stroke-width="2.4" fill="none"/>
<circle cx="317.7" cy="1686.6" r="6.1" fill="#0a32ff"/>
<path d="M384.0 1656.4V1675.9M378.5 1656.4H389.5M378.5 1675.9H389.5" stroke="#0a32ff" stroke-width="2.4" fill="none"/>
<circle cx="384.0" cy="1666.1" r="6.1" fill="#0a32ff"/>
<polyline points="158.4,1712.9 257.1,1679.8 317.7,1662.2 384.0,1640.8" fill="none" stroke="#ff2a00" stroke-width="3.6"/>
<circle cx="158.4" cy="1712.9" r="6.1" fill="#ff2a00"/>
<path d="M257.1 1673.0V1686.6M251.6 1673.0H262.6M251.6 1686.6H262.6" stroke="#ff2a00" stroke-width="2.4" fill="none"/>
<circle cx="257.1" cy="1679.8" r="6.1" fill="#ff2a00"/>
<path d="M317.7 1654.4V1670.0M312.2 1654.4H323.2M312.2 1670.0H323.2" stroke="#ff2a00" stroke-width="2.4" fill="none"/>
<circle cx="317.7" cy="1662.2" r="6.1" fill="#ff2a00"/>
<path d="M384.0 1633.0V1648.6M378.5 1633.0H389.5M378.5 1648.6H389.5" stroke="#ff2a00" stroke-width="2.4" fill="none"/>
<circle cx="384.0" cy="1640.8" r="6.1" fill="#ff2a00"/>
<line x1="552.3000000000001" y1="1589.8" x2="552.3000000000001" y2="1787.3" stroke="#000" stroke-width="2.6" />
<line x1="543.8000000000001" y1="1786" x2="844.7" y2="1786" stroke="#000" stroke-width="2.8" />
<line x1="543.8000000000001" y1="1786.0" x2="552.3000000000001" y2="1786.0" stroke="#000" stroke-width="2.6" />
<text x="542.7" y="1797.5" font-size="28" font-weight="bold" font-style="normal" fill="#000" text-anchor="end" font-family='"Liberation Sans", sans-serif' >0</text>
<line x1="543.8000000000001" y1="1737.275" x2="552.3000000000001" y2="1737.275" stroke="#000" stroke-width="2.6" />
<text x="542.7" y="1748.775" font-size="28" font-weight="bold" font-style="normal" fill="#000" text-anchor="end" font-family='"Liberation Sans", sans-serif' >25</text>
<line x1="543.8000000000001" y1="1688.55" x2="552.3000000000001" y2="1688.55" stroke="#000" stroke-width="2.6" />
<text x="542.7" y="1700.05" font-size="28" font-weight="bold" font-style="normal" fill="#000" text-anchor="end" font-family='"Liberation Sans", sans-serif' >50</text>
<line x1="543.8000000000001" y1="1639.825" x2="552.3000000000001" y2="1639.825" stroke="#000" stroke-width="2.6" />
<text x="542.7" y="1651.325" font-size="28" font-weight="bold" font-style="normal" fill="#000" text-anchor="end" font-family='"Liberation Sans", sans-serif' >75</text>
<line x1="543.8000000000001" y1="1591.1" x2="552.3000000000001" y2="1591.1" stroke="#000" stroke-width="2.6" />
<text x="542.7" y="1602.6" font-size="28" font-weight="bold" font-style="normal" fill="#000" text-anchor="end" font-family='"Liberation Sans", sans-serif' >100</text>
<line x1="590.2" y1="1786" x2="590.2" y2="1794.5" stroke="#000" stroke-width="2.8" />
<text x="590.2" y="1821.5" font-size="28" font-weight="bold" font-style="normal" fill="#000" text-anchor="middle" font-family='"Liberation Sans", sans-serif' >1</text>
<line x1="717.1" y1="1786" x2="717.1" y2="1794.5" stroke="#000" stroke-width="2.8" />
<text x="717.1" y="1821.5" font-size="28" font-weight="bold" font-style="normal" fill="#000" text-anchor="middle" font-family='"Liberation Sans", sans-serif' >2</text>
<line x1="844.0" y1="1786" x2="844.0" y2="1794.5" stroke="#000" stroke-width="2.8" />
<text x="844.0" y="1821.5" font-size="28" font-weight="bold" font-style="normal" fill="#000" text-anchor="middle" font-family='"Liberation Sans", sans-serif' >3</text>
<text transform="translate(492.6 1685.6) rotate(-90)" font-size="27" font-weight="bold" text-anchor="middle" font-family='"Liberation Sans", sans-serif' textLength="154" lengthAdjust="spacingAndGlyphs">% exchange</text>
<text x="697.2" y="1847" font-size="27.4" font-weight="bold" font-style="normal" fill="#000" text-anchor="middle" font-family='"Liberation Sans", sans-serif' >log labeling time (s)</text>
<text x="559.0" y="1617" font-size="31" font-weight="bold" font-family='"Liberation Sans", sans-serif'>(<tspan font-style="italic">v</tspan>)</text>
<text x="623.2" y="1621" font-size="31" font-weight="bold" font-family='"Liberation Sans", sans-serif' >821-827 (<tspan font-family='"Liberation Serif", serif' font-weight="normal">α</tspan>E)</text>
<polyline points="590.2,1782.1 688.9,1781.1 749.5,1781.5 815.8,1781.5" fill="none" stroke="#8f8f8f" stroke-width="3.6"/>
<circle cx="590.2" cy="1782.1" r="6.1" fill="#8f8f8f"/>
<circle cx="688.9" cy="1781.1" r="6.1" fill="#8f8f8f"/>
<circle cx="749.5" cy="1781.5" r="6.1" fill="#8f8f8f"/>
<circle cx="815.8" cy="1781.5" r="6.1" fill="#8f8f8f"/>
<polyline points="590.2,1760.7 688.9,1757.7 749.5,1758.7 815.8,1764.6" fill="none" stroke="#0a32ff" stroke-width="3.6"/>
<circle cx="590.2" cy="1760.7" r="6.1" fill="#0a32ff"/>
<circle cx="688.9" cy="1757.7" r="6.1" fill="#0a32ff"/>
<circle cx="749.5" cy="1758.7" r="6.1" fill="#0a32ff"/>
<circle cx="815.8" cy="1764.6" r="6.1" fill="#0a32ff"/>
<polyline points="590.2,1689.5 688.9,1675.9 749.5,1665.2 815.8,1656.4" fill="none" stroke="#ff2a00" stroke-width="3.6"/>
<path d="M590.2 1685.6V1693.4M584.7 1685.6H595.7M584.7 1693.4H595.7" stroke="#ff2a00" stroke-width="2.4" fill="none"/>
<circle cx="590.2" cy="1689.5" r="6.1" fill="#ff2a00"/>
<path d="M688.9 1666.1V1685.6M683.4 1666.1H694.4M683.4 1685.6H694.4" stroke="#ff2a00" stroke-width="2.4" fill="none"/>
<circle cx="688.9" cy="1675.9" r="6.1" fill="#ff2a00"/>
<path d="M749.5 1657.4V1673.0M744.0 1657.4H755.0M744.0 1673.0H755.0" stroke="#ff2a00" stroke-width="2.4" fill="none"/>
<circle cx="749.5" cy="1665.2" r="6.1" fill="#ff2a00"/>
<path d="M815.8 1650.5V1662.2M810.3 1650.5H821.3M810.3 1662.2H821.3" stroke="#ff2a00" stroke-width="2.4" fill="none"/>
<circle cx="815.8" cy="1656.4" r="6.1" fill="#ff2a00"/>
<line x1="983.8000000000001" y1="1589.8" x2="983.8000000000001" y2="1787.3" stroke="#000" stroke-width="2.6" />
<line x1="975.3000000000001" y1="1786" x2="1276.2" y2="1786" stroke="#000" stroke-width="2.8" />
<line x1="975.3000000000001" y1="1786.0" x2="983.8000000000001" y2="1786.0" stroke="#000" stroke-width="2.6" />
<text x="974.2" y="1797.5" font-size="28" font-weight="bold" font-style="normal" fill="#000" text-anchor="end" font-family='"Liberation Sans", sans-serif' >0</text>
<line x1="975.3000000000001" y1="1737.275" x2="983.8000000000001" y2="1737.275" stroke="#000" stroke-width="2.6" />
<text x="974.2" y="1748.775" font-size="28" font-weight="bold" font-style="normal" fill="#000" text-anchor="end" font-family='"Liberation Sans", sans-serif' >25</text>
<line x1="975.3000000000001" y1="1688.55" x2="983.8000000000001" y2="1688.55" stroke="#000" stroke-width="2.6" />
<text x="974.2" y="1700.05" font-size="28" font-weight="bold" font-style="normal" fill="#000" text-anchor="end" font-family='"Liberation Sans", sans-serif' >50</text>
<line x1="975.3000000000001" y1="1639.825" x2="983.8000000000001" y2="1639.825" stroke="#000" stroke-width="2.6" />
<text x="974.2" y="1651.325" font-size="28" font-weight="bold" font-style="normal" fill="#000" text-anchor="end" font-family='"Liberation Sans", sans-serif' >75</text>
<line x1="975.3000000000001" y1="1591.1" x2="983.8000000000001" y2="1591.1" stroke="#000" stroke-width="2.6" />
<text x="974.2" y="1602.6" font-size="28" font-weight="bold" font-style="normal" fill="#000" text-anchor="end" font-family='"Liberation Sans", sans-serif' >100</text>
<line x1="1021.7" y1="1786" x2="1021.7" y2="1794.5" stroke="#000" stroke-width="2.8" />
<text x="1021.7" y="1821.5" font-size="28" font-weight="bold" font-style="normal" fill="#000" text-anchor="middle" font-family='"Liberation Sans", sans-serif' >1</text>
<line x1="1148.6000000000001" y1="1786" x2="1148.6000000000001" y2="1794.5" stroke="#000" stroke-width="2.8" />
<text x="1148.6000000000001" y="1821.5" font-size="28" font-weight="bold" font-style="normal" fill="#000" text-anchor="middle" font-family='"Liberation Sans", sans-serif' >2</text>
<line x1="1275.5" y1="1786" x2="1275.5" y2="1794.5" stroke="#000" stroke-width="2.8" />
<text x="1275.5" y="1821.5" font-size="28" font-weight="bold" font-style="normal" fill="#000" text-anchor="middle" font-family='"Liberation Sans", sans-serif' >3</text>
<text transform="translate(924.1 1685.6) rotate(-90)" font-size="27" font-weight="bold" text-anchor="middle" font-family='"Liberation Sans", sans-serif' textLength="154" lengthAdjust="spacingAndGlyphs">% exchange</text>
<text x="1128.7" y="1847" font-size="27.4" font-weight="bold" font-style="normal" fill="#000" text-anchor="middle" font-family='"Liberation Sans", sans-serif' >log labeling time (s)</text>
<text x="990.5" y="1617" font-size="31" font-weight="bold" font-family='"Liberation Sans", sans-serif'>(<tspan font-style="italic">vi</tspan>)</text>
<text x="989.7" y="1775.2" font-size="31" font-weight="bold" font-family='"Liberation Sans", sans-serif' >867-883 (A-loop)</text>
<polyline points="1021.7,1687.6 1120.4,1677.4 1181.0,1679.0 1247.3,1680.4" fill="none" stroke="#8f8f8f" stroke-width="3.6"/>
<path d="M1021.7 1683.7V1691.5M1016.2 1683.7H1027.2M1016.2 1691.5H1027.2" stroke="#8f8f8f" stroke-width="2.4" fill="none"/>
<circle cx="1021.7" cy="1687.6" r="6.1" fill="#8f8f8f"/>
<path d="M1120.4 1671.6V1683.3M1114.9 1671.6H1125.9M1114.9 1683.3H1125.9" stroke="#8f8f8f" stroke-width="2.4" fill="none"/>
<circle cx="1120.4" cy="1677.4" r="6.1" fill="#8f8f8f"/>
<circle cx="1181.0" cy="1679.0" r="6.1" fill="#8f8f8f"/>
<path d="M1247.3 1672.6V1688.2M1241.8 1672.6H1252.8M1241.8 1688.2H1252.8" stroke="#8f8f8f" stroke-width="2.4" fill="none"/>
<circle cx="1247.3" cy="1680.4" r="6.1" fill="#8f8f8f"/>
<polyline points="1021.7,1716.8 1120.4,1695.6 1181.0,1689.7 1247.3,1677.4" fill="none" stroke="#0a32ff" stroke-width="3.6"/>
<circle cx="1021.7" cy="1716.8" r="6.1" fill="#0a32ff"/>
<circle cx="1120.4" cy="1695.6" r="6.1" fill="#0a32ff"/>
<circle cx="1181.0" cy="1689.7" r="6.1" fill="#0a32ff"/>
<circle cx="1247.3" cy="1677.4" r="6.1" fill="#0a32ff"/>
<polyline points="1021.7,1692.4 1120.4,1661.1 1181.0,1659.9 1247.3,1650.7" fill="none" stroke="#ff2a00" stroke-width="3.6"/>
<circle cx="1021.7" cy="1692.4" r="6.1" fill="#ff2a00"/>
<path d="M1120.4 1652.7V1669.4M1114.9 1652.7H1125.9M1114.9 1669.4H1125.9" stroke="#ff2a00" stroke-width="2.4" fill="none"/>
<circle cx="1120.4" cy="1661.1" r="6.1" fill="#ff2a00"/>
<path d="M1181.0 1652.1V1667.7M1175.5 1652.1H1186.5M1175.5 1667.7H1186.5" stroke="#ff2a00" stroke-width="2.4" fill="none"/>
<circle cx="1181.0" cy="1659.9" r="6.1" fill="#ff2a00"/>
<path d="M1247.3 1642.0V1659.5M1241.8 1642.0H1252.8M1241.8 1659.5H1252.8" stroke="#ff2a00" stroke-width="2.4" fill="none"/>
<circle cx="1247.3" cy="1650.7" r="6.1" fill="#ff2a00"/>
<circle cx="274.6" cy="1881.7" r="7.2" fill="#8f8f8f"/>
<text x="305.5" y="1890.5" font-size="31" font-weight="bold" font-style="normal" fill="#9d9d9d" text-anchor="start" font-family='"Liberation Sans", sans-serif' >Wild type</text>
<circle cx="563.2" cy="1881.7" r="7.2" fill="#0a32ff"/>
<text x="595" y="1890.5" font-size="31" font-weight="bold" font-style="normal" fill="#0a32ff" text-anchor="start" font-family='"Liberation Sans", sans-serif' ><tspan font-family='"Liberation Serif", serif' font-weight="normal">Δ</tspan>L747-A750InsP</text>
<circle cx="932.6" cy="1881.7" r="7.2" fill="#ff2a00"/>
<text x="966.5" y="1890.5" font-size="31" font-weight="bold" font-style="normal" fill="#ff2a00" text-anchor="start" font-family='"Liberation Sans", sans-serif' ><tspan font-family='"Liberation Serif", serif' font-weight="normal">Δ</tspan>E746-A750</text>
</svg></body></html>
